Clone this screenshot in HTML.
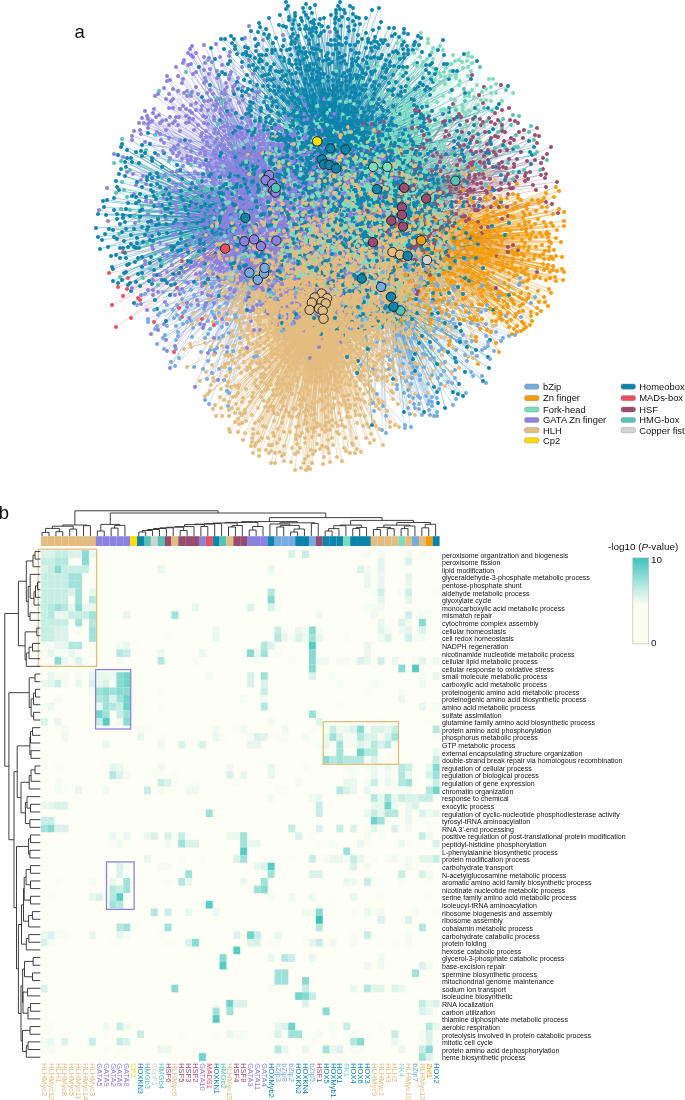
<!DOCTYPE html>
<html><head><meta charset="utf-8"><style>html,body{margin:0;padding:0;background:#fff;overflow:hidden}svg{display:block;will-change:transform}</style></head>
<body><svg width="685" height="1100" viewBox="0 0 685 1100">
<rect width="685" height="1100" fill="#fff"/>
<defs><filter id="bgb" x="-10%" y="-10%" width="120%" height="120%"><feGaussianBlur stdDeviation="3"/></filter></defs><g filter="url(#bgb)"><rect x="326" y="148" width="8" height="8" fill="#e8f3f7"/><rect x="334" y="148" width="8" height="8" fill="#f9fcfd"/><rect x="342" y="148" width="8" height="8" fill="#f9fcfd"/><rect x="310" y="156" width="8" height="8" fill="#f6fbfc"/><rect x="318" y="156" width="8" height="8" fill="#aed6e2"/><rect x="326" y="156" width="8" height="8" fill="#e1f0f4"/><rect x="334" y="156" width="8" height="8" fill="#f6fbfc"/><rect x="294" y="164" width="8" height="8" fill="#fafbfe"/><rect x="302" y="164" width="8" height="8" fill="#e9f1f8"/><rect x="310" y="164" width="8" height="8" fill="#91c5d8"/><rect x="318" y="164" width="8" height="8" fill="#3497b7"/><rect x="326" y="164" width="8" height="8" fill="#66b1c8"/><rect x="334" y="164" width="8" height="8" fill="#8dc8d0"/><rect x="342" y="164" width="8" height="8" fill="#b3e4d8"/><rect x="350" y="164" width="8" height="8" fill="#ade9d6"/><rect x="358" y="164" width="8" height="8" fill="#a5e7d2"/><rect x="366" y="164" width="8" height="8" fill="#a1e6d0"/><rect x="374" y="164" width="8" height="8" fill="#c5f0e2"/><rect x="382" y="164" width="8" height="8" fill="#c0eedf"/><rect x="262" y="172" width="8" height="8" fill="#f8f7fd"/><rect x="270" y="172" width="8" height="8" fill="#d2cef3"/><rect x="278" y="172" width="8" height="8" fill="#d8d5f4"/><rect x="286" y="172" width="8" height="8" fill="#d8daf3"/><rect x="294" y="172" width="8" height="8" fill="#c2d1eb"/><rect x="302" y="172" width="8" height="8" fill="#8abad5"/><rect x="310" y="172" width="8" height="8" fill="#58a4c0"/><rect x="318" y="172" width="8" height="8" fill="#3596b4"/><rect x="326" y="172" width="8" height="8" fill="#3599b3"/><rect x="334" y="172" width="8" height="8" fill="#44a3b2"/><rect x="342" y="172" width="8" height="8" fill="#81c8b7"/><rect x="350" y="172" width="8" height="8" fill="#84d5bc"/><rect x="358" y="172" width="8" height="8" fill="#7ad6bc"/><rect x="366" y="172" width="8" height="8" fill="#7cdcbd"/><rect x="374" y="172" width="8" height="8" fill="#83dec1"/><rect x="382" y="172" width="8" height="8" fill="#9ae4cc"/><rect x="262" y="180" width="8" height="8" fill="#f1f0fb"/><rect x="270" y="180" width="8" height="8" fill="#b7b1eb"/><rect x="278" y="180" width="8" height="8" fill="#aaa6e4"/><rect x="286" y="180" width="8" height="8" fill="#9aa1de"/><rect x="294" y="180" width="8" height="8" fill="#84a1d6"/><rect x="302" y="180" width="8" height="8" fill="#70a1cb"/><rect x="310" y="180" width="8" height="8" fill="#5ca1c0"/><rect x="318" y="180" width="8" height="8" fill="#449ab4"/><rect x="326" y="180" width="8" height="8" fill="#499db3"/><rect x="334" y="180" width="8" height="8" fill="#4da0b2"/><rect x="342" y="180" width="8" height="8" fill="#8dc3b7"/><rect x="350" y="180" width="8" height="8" fill="#8ecab5"/><rect x="358" y="180" width="8" height="8" fill="#8ccab0"/><rect x="366" y="180" width="8" height="8" fill="#6ac6b7"/><rect x="374" y="180" width="8" height="8" fill="#82dbc2"/><rect x="382" y="180" width="8" height="8" fill="#9ce5ce"/><rect x="430" y="180" width="8" height="8" fill="#f8fdfc"/><rect x="438" y="180" width="8" height="8" fill="#f0faf9"/><rect x="446" y="180" width="8" height="8" fill="#ecf8f7"/><rect x="270" y="188" width="8" height="8" fill="#b9b7eb"/><rect x="278" y="188" width="8" height="8" fill="#8888db"/><rect x="286" y="188" width="8" height="8" fill="#8c8ed5"/><rect x="294" y="188" width="8" height="8" fill="#889ad9"/><rect x="302" y="188" width="8" height="8" fill="#81a2d0"/><rect x="310" y="188" width="8" height="8" fill="#5f9dbf"/><rect x="318" y="188" width="8" height="8" fill="#539ab6"/><rect x="326" y="188" width="8" height="8" fill="#5ea0b8"/><rect x="334" y="188" width="8" height="8" fill="#61a8b4"/><rect x="342" y="188" width="8" height="8" fill="#8ec2b5"/><rect x="350" y="188" width="8" height="8" fill="#96c7b0"/><rect x="358" y="188" width="8" height="8" fill="#86b8a6"/><rect x="366" y="188" width="8" height="8" fill="#3e9dac"/><rect x="374" y="188" width="8" height="8" fill="#399faf"/><rect x="382" y="188" width="8" height="8" fill="#a1e3d0"/><rect x="390" y="188" width="8" height="8" fill="#f6f6f7"/><rect x="398" y="188" width="8" height="8" fill="#fbfafa"/><rect x="406" y="188" width="8" height="8" fill="#f8fdfc"/><rect x="414" y="188" width="8" height="8" fill="#f2fafa"/><rect x="422" y="188" width="8" height="8" fill="#f1faf9"/><rect x="430" y="188" width="8" height="8" fill="#f3fbfa"/><rect x="438" y="188" width="8" height="8" fill="#f9fdfd"/><rect x="262" y="196" width="8" height="8" fill="#f1f6fa"/><rect x="270" y="196" width="8" height="8" fill="#c5caed"/><rect x="278" y="196" width="8" height="8" fill="#acb1e1"/><rect x="286" y="196" width="8" height="8" fill="#9798d7"/><rect x="294" y="196" width="8" height="8" fill="#9199d5"/><rect x="302" y="196" width="8" height="8" fill="#829ecf"/><rect x="310" y="196" width="8" height="8" fill="#7ba5c4"/><rect x="318" y="196" width="8" height="8" fill="#67a1b7"/><rect x="326" y="196" width="8" height="8" fill="#76acbb"/><rect x="334" y="196" width="8" height="8" fill="#6faeb4"/><rect x="342" y="196" width="8" height="8" fill="#90c3b8"/><rect x="350" y="196" width="8" height="8" fill="#9bc2ad"/><rect x="358" y="196" width="8" height="8" fill="#72ada6"/><rect x="366" y="196" width="8" height="8" fill="#3f99a8"/><rect x="374" y="196" width="8" height="8" fill="#50a7af"/><rect x="382" y="196" width="8" height="8" fill="#91c5bf"/><rect x="390" y="196" width="8" height="8" fill="#ebf9f5"/><rect x="398" y="196" width="8" height="8" fill="#f2faf9"/><rect x="406" y="196" width="8" height="8" fill="#f8fcfc"/><rect x="422" y="196" width="8" height="8" fill="#f8fcfc"/><rect x="254" y="204" width="8" height="8" fill="#dfeef4"/><rect x="262" y="204" width="8" height="8" fill="#c8dfeb"/><rect x="270" y="204" width="8" height="8" fill="#c0d3e0"/><rect x="278" y="204" width="8" height="8" fill="#d1dde0"/><rect x="286" y="204" width="8" height="8" fill="#cfd2e3"/><rect x="294" y="204" width="8" height="8" fill="#b6b8dc"/><rect x="302" y="204" width="8" height="8" fill="#94afc6"/><rect x="310" y="204" width="8" height="8" fill="#8eaac1"/><rect x="318" y="204" width="8" height="8" fill="#7dabb5"/><rect x="326" y="204" width="8" height="8" fill="#89b3bd"/><rect x="334" y="204" width="8" height="8" fill="#78adb5"/><rect x="342" y="204" width="8" height="8" fill="#92bbbc"/><rect x="350" y="204" width="8" height="8" fill="#8fb4ad"/><rect x="358" y="204" width="8" height="8" fill="#79afa8"/><rect x="366" y="204" width="8" height="8" fill="#60a2a3"/><rect x="374" y="204" width="8" height="8" fill="#7cb5aa"/><rect x="382" y="204" width="8" height="8" fill="#a1c0b9"/><rect x="390" y="204" width="8" height="8" fill="#dee9e4"/><rect x="406" y="204" width="8" height="8" fill="#fafdfd"/><rect x="414" y="204" width="8" height="8" fill="#f9fdfd"/><rect x="238" y="212" width="8" height="8" fill="#f5fafc"/><rect x="246" y="212" width="8" height="8" fill="#79bacf"/><rect x="254" y="212" width="8" height="8" fill="#8dc4d6"/><rect x="262" y="212" width="8" height="8" fill="#a8cee0"/><rect x="270" y="212" width="8" height="8" fill="#c2dbdf"/><rect x="278" y="212" width="8" height="8" fill="#c8dbdb"/><rect x="286" y="212" width="8" height="8" fill="#d1dbda"/><rect x="294" y="212" width="8" height="8" fill="#c6d2d8"/><rect x="302" y="212" width="8" height="8" fill="#99b5c3"/><rect x="310" y="212" width="8" height="8" fill="#a4bdb9"/><rect x="318" y="212" width="8" height="8" fill="#99b3b4"/><rect x="326" y="212" width="8" height="8" fill="#a2bab3"/><rect x="334" y="212" width="8" height="8" fill="#99b7b7"/><rect x="342" y="212" width="8" height="8" fill="#90b8b6"/><rect x="350" y="212" width="8" height="8" fill="#8bb9b4"/><rect x="358" y="212" width="8" height="8" fill="#86b0a6"/><rect x="366" y="212" width="8" height="8" fill="#8aa99d"/><rect x="374" y="212" width="8" height="8" fill="#a1b49d"/><rect x="382" y="212" width="8" height="8" fill="#bdc5b4"/><rect x="390" y="212" width="8" height="8" fill="#d1cec9"/><rect x="398" y="212" width="8" height="8" fill="#f2f3f4"/><rect x="246" y="220" width="8" height="8" fill="#9ecddc"/><rect x="254" y="220" width="8" height="8" fill="#7fbcd1"/><rect x="262" y="220" width="8" height="8" fill="#86bbcf"/><rect x="270" y="220" width="8" height="8" fill="#9fc5cf"/><rect x="278" y="220" width="8" height="8" fill="#acc7d1"/><rect x="286" y="220" width="8" height="8" fill="#bfcece"/><rect x="294" y="220" width="8" height="8" fill="#b3c6c7"/><rect x="302" y="220" width="8" height="8" fill="#a4b9bd"/><rect x="310" y="220" width="8" height="8" fill="#adb5b5"/><rect x="318" y="220" width="8" height="8" fill="#acb9ac"/><rect x="326" y="220" width="8" height="8" fill="#b6b9a8"/><rect x="334" y="220" width="8" height="8" fill="#a9beb2"/><rect x="342" y="220" width="8" height="8" fill="#99c2ba"/><rect x="350" y="220" width="8" height="8" fill="#a6c1b7"/><rect x="358" y="220" width="8" height="8" fill="#9db5a8"/><rect x="366" y="220" width="8" height="8" fill="#afb698"/><rect x="374" y="220" width="8" height="8" fill="#c6c196"/><rect x="382" y="220" width="8" height="8" fill="#d2c1a2"/><rect x="390" y="220" width="8" height="8" fill="#d6c9bc"/><rect x="398" y="220" width="8" height="8" fill="#fdf8f0"/><rect x="246" y="228" width="8" height="8" fill="#f8fafd"/><rect x="254" y="228" width="8" height="8" fill="#aecee3"/><rect x="262" y="228" width="8" height="8" fill="#b5d0e2"/><rect x="270" y="228" width="8" height="8" fill="#a6bcd8"/><rect x="278" y="228" width="8" height="8" fill="#a6aebe"/><rect x="286" y="228" width="8" height="8" fill="#b3b4c5"/><rect x="294" y="228" width="8" height="8" fill="#b2b2b6"/><rect x="302" y="228" width="8" height="8" fill="#a9b3b5"/><rect x="310" y="228" width="8" height="8" fill="#b8b8a8"/><rect x="318" y="228" width="8" height="8" fill="#b4b8a7"/><rect x="326" y="228" width="8" height="8" fill="#c0c0a8"/><rect x="334" y="228" width="8" height="8" fill="#aabfb8"/><rect x="342" y="228" width="8" height="8" fill="#b3c1bf"/><rect x="350" y="228" width="8" height="8" fill="#b5c1ae"/><rect x="358" y="228" width="8" height="8" fill="#adb9a4"/><rect x="366" y="228" width="8" height="8" fill="#c3bb9a"/><rect x="374" y="228" width="8" height="8" fill="#dabf8b"/><rect x="382" y="228" width="8" height="8" fill="#d3bd92"/><rect x="390" y="228" width="8" height="8" fill="#c7c6b2"/><rect x="398" y="228" width="8" height="8" fill="#f5efe8"/><rect x="406" y="228" width="8" height="8" fill="#fef5e8"/><rect x="246" y="236" width="8" height="8" fill="#fbfbfe"/><rect x="254" y="236" width="8" height="8" fill="#c5c9ed"/><rect x="262" y="236" width="8" height="8" fill="#afc1e3"/><rect x="270" y="236" width="8" height="8" fill="#a0accd"/><rect x="278" y="236" width="8" height="8" fill="#9592c0"/><rect x="286" y="236" width="8" height="8" fill="#a89fb6"/><rect x="294" y="236" width="8" height="8" fill="#bbacab"/><rect x="302" y="236" width="8" height="8" fill="#bdb5b0"/><rect x="310" y="236" width="8" height="8" fill="#bfb59e"/><rect x="318" y="236" width="8" height="8" fill="#bbb59b"/><rect x="326" y="236" width="8" height="8" fill="#bcb7a2"/><rect x="334" y="236" width="8" height="8" fill="#a6bdb9"/><rect x="342" y="236" width="8" height="8" fill="#b1c7c2"/><rect x="350" y="236" width="8" height="8" fill="#adc5b7"/><rect x="358" y="236" width="8" height="8" fill="#a8baa8"/><rect x="366" y="236" width="8" height="8" fill="#aaa392"/><rect x="374" y="236" width="8" height="8" fill="#b8ab8d"/><rect x="382" y="236" width="8" height="8" fill="#d1b785"/><rect x="390" y="236" width="8" height="8" fill="#bdbb99"/><rect x="398" y="236" width="8" height="8" fill="#d2ded7"/><rect x="406" y="236" width="8" height="8" fill="#fef3e2"/><rect x="414" y="236" width="8" height="8" fill="#fce8c9"/><rect x="254" y="244" width="8" height="8" fill="#f7f6fd"/><rect x="262" y="244" width="8" height="8" fill="#b1b6e4"/><rect x="270" y="244" width="8" height="8" fill="#b7bbe0"/><rect x="278" y="244" width="8" height="8" fill="#9b9dbe"/><rect x="286" y="244" width="8" height="8" fill="#c1aba8"/><rect x="294" y="244" width="8" height="8" fill="#bdafac"/><rect x="302" y="244" width="8" height="8" fill="#c5b2a0"/><rect x="310" y="244" width="8" height="8" fill="#ccb695"/><rect x="318" y="244" width="8" height="8" fill="#c1b495"/><rect x="326" y="244" width="8" height="8" fill="#b6b39b"/><rect x="334" y="244" width="8" height="8" fill="#abbabb"/><rect x="342" y="244" width="8" height="8" fill="#84b3be"/><rect x="350" y="244" width="8" height="8" fill="#93bcc0"/><rect x="358" y="244" width="8" height="8" fill="#9bbab2"/><rect x="366" y="244" width="8" height="8" fill="#9fa898"/><rect x="374" y="244" width="8" height="8" fill="#b6ad8e"/><rect x="382" y="244" width="8" height="8" fill="#a9a889"/><rect x="390" y="244" width="8" height="8" fill="#a1ac91"/><rect x="398" y="244" width="8" height="8" fill="#9dc0bf"/><rect x="406" y="244" width="8" height="8" fill="#fcf4e6"/><rect x="262" y="252" width="8" height="8" fill="#f3f4fc"/><rect x="270" y="252" width="8" height="8" fill="#cfd4e4"/><rect x="278" y="252" width="8" height="8" fill="#cec7cb"/><rect x="286" y="252" width="8" height="8" fill="#b5b4b2"/><rect x="294" y="252" width="8" height="8" fill="#cbb79b"/><rect x="302" y="252" width="8" height="8" fill="#c8b798"/><rect x="310" y="252" width="8" height="8" fill="#c5b48f"/><rect x="318" y="252" width="8" height="8" fill="#c3b58f"/><rect x="326" y="252" width="8" height="8" fill="#bab496"/><rect x="334" y="252" width="8" height="8" fill="#a9bdbc"/><rect x="342" y="252" width="8" height="8" fill="#8dbac5"/><rect x="350" y="252" width="8" height="8" fill="#84b7c0"/><rect x="358" y="252" width="8" height="8" fill="#87b0b0"/><rect x="366" y="252" width="8" height="8" fill="#9db0a3"/><rect x="374" y="252" width="8" height="8" fill="#d4be96"/><rect x="382" y="252" width="8" height="8" fill="#c5b78f"/><rect x="390" y="252" width="8" height="8" fill="#b3b9a1"/><rect x="398" y="252" width="8" height="8" fill="#98c5cf"/><rect x="406" y="252" width="8" height="8" fill="#e1eff4"/><rect x="262" y="260" width="8" height="8" fill="#f6fafd"/><rect x="270" y="260" width="8" height="8" fill="#f2f5fa"/><rect x="278" y="260" width="8" height="8" fill="#e1d9d7"/><rect x="286" y="260" width="8" height="8" fill="#dcc6b5"/><rect x="294" y="260" width="8" height="8" fill="#d6c09f"/><rect x="302" y="260" width="8" height="8" fill="#cfb890"/><rect x="310" y="260" width="8" height="8" fill="#bcb28c"/><rect x="318" y="260" width="8" height="8" fill="#b4b08d"/><rect x="326" y="260" width="8" height="8" fill="#a7b19a"/><rect x="334" y="260" width="8" height="8" fill="#a5b5af"/><rect x="342" y="260" width="8" height="8" fill="#85b0b6"/><rect x="350" y="260" width="8" height="8" fill="#60a7c1"/><rect x="358" y="260" width="8" height="8" fill="#6badbb"/><rect x="366" y="260" width="8" height="8" fill="#a8c3bd"/><rect x="374" y="260" width="8" height="8" fill="#ddcaae"/><rect x="382" y="260" width="8" height="8" fill="#f0e1c9"/><rect x="390" y="260" width="8" height="8" fill="#fdf9f4"/><rect x="262" y="268" width="8" height="8" fill="#f8fbfd"/><rect x="270" y="268" width="8" height="8" fill="#fbfdfe"/><rect x="278" y="268" width="8" height="8" fill="#f9f7f5"/><rect x="286" y="268" width="8" height="8" fill="#e8d4bd"/><rect x="294" y="268" width="8" height="8" fill="#dcc29d"/><rect x="302" y="268" width="8" height="8" fill="#dcbb87"/><rect x="310" y="268" width="8" height="8" fill="#d3b786"/><rect x="318" y="268" width="8" height="8" fill="#afac89"/><rect x="326" y="268" width="8" height="8" fill="#94ab9a"/><rect x="334" y="268" width="8" height="8" fill="#81aaa6"/><rect x="342" y="268" width="8" height="8" fill="#69a8b3"/><rect x="350" y="268" width="8" height="8" fill="#4a9eb5"/><rect x="358" y="268" width="8" height="8" fill="#3a98b3"/><rect x="366" y="268" width="8" height="8" fill="#d8e0d8"/><rect x="374" y="268" width="8" height="8" fill="#dfd6c7"/><rect x="382" y="268" width="8" height="8" fill="#fdfbf7"/><rect x="270" y="276" width="8" height="8" fill="#f6fafd"/><rect x="278" y="276" width="8" height="8" fill="#f5f9fc"/><rect x="286" y="276" width="8" height="8" fill="#f7f0e6"/><rect x="294" y="276" width="8" height="8" fill="#e6caa1"/><rect x="302" y="276" width="8" height="8" fill="#d5b988"/><rect x="310" y="276" width="8" height="8" fill="#d1b582"/><rect x="318" y="276" width="8" height="8" fill="#cbb381"/><rect x="326" y="276" width="8" height="8" fill="#b7b291"/><rect x="334" y="276" width="8" height="8" fill="#a0b3a1"/><rect x="342" y="276" width="8" height="8" fill="#87b2b1"/><rect x="350" y="276" width="8" height="8" fill="#62a9b8"/><rect x="358" y="276" width="8" height="8" fill="#7bb7c6"/><rect x="366" y="276" width="8" height="8" fill="#d1dddb"/><rect x="374" y="276" width="8" height="8" fill="#ecf3f4"/><rect x="382" y="276" width="8" height="8" fill="#f9fcfd"/><rect x="286" y="284" width="8" height="8" fill="#f7fafc"/><rect x="294" y="284" width="8" height="8" fill="#e9decb"/><rect x="302" y="284" width="8" height="8" fill="#dbbd8c"/><rect x="310" y="284" width="8" height="8" fill="#d7b67f"/><rect x="318" y="284" width="8" height="8" fill="#d4b57f"/><rect x="326" y="284" width="8" height="8" fill="#ddbb85"/><rect x="334" y="284" width="8" height="8" fill="#d0c09a"/><rect x="342" y="284" width="8" height="8" fill="#c1c5b2"/><rect x="350" y="284" width="8" height="8" fill="#c0cdc3"/><rect x="358" y="284" width="8" height="8" fill="#e1e6e0"/><rect x="366" y="284" width="8" height="8" fill="#f7f9fa"/><rect x="374" y="284" width="8" height="8" fill="#ecf4fa"/><rect x="382" y="284" width="8" height="8" fill="#f2f8fa"/><rect x="294" y="292" width="8" height="8" fill="#fefbf8"/><rect x="302" y="292" width="8" height="8" fill="#eccfa5"/><rect x="310" y="292" width="8" height="8" fill="#e1ba80"/><rect x="318" y="292" width="8" height="8" fill="#d5b782"/><rect x="326" y="292" width="8" height="8" fill="#c7b588"/><rect x="334" y="292" width="8" height="8" fill="#d0c5a4"/><rect x="342" y="292" width="8" height="8" fill="#e5e0ce"/><rect x="350" y="292" width="8" height="8" fill="#f6f6f2"/><rect x="358" y="292" width="8" height="8" fill="#f7fbfc"/><rect x="366" y="292" width="8" height="8" fill="#ecf6f8"/><rect x="374" y="292" width="8" height="8" fill="#eff7f9"/><rect x="382" y="292" width="8" height="8" fill="#edf6f9"/><rect x="390" y="292" width="8" height="8" fill="#fcfdfe"/><rect x="302" y="300" width="8" height="8" fill="#f7ebda"/><rect x="310" y="300" width="8" height="8" fill="#ead3af"/><rect x="318" y="300" width="8" height="8" fill="#e0c190"/><rect x="326" y="300" width="8" height="8" fill="#f1e3cd"/><rect x="334" y="300" width="8" height="8" fill="#fcf8f2"/><rect x="342" y="300" width="8" height="8" fill="#fdfcfb"/><rect x="350" y="300" width="8" height="8" fill="#f9fcfd"/><rect x="358" y="300" width="8" height="8" fill="#f9fcfd"/><rect x="366" y="300" width="8" height="8" fill="#f9fcfd"/><rect x="374" y="300" width="8" height="8" fill="#f6fbfc"/><rect x="382" y="300" width="8" height="8" fill="#ebf5f8"/><rect x="390" y="300" width="8" height="8" fill="#f2f9fb"/><rect x="302" y="308" width="8" height="8" fill="#fefdfb"/><rect x="310" y="308" width="8" height="8" fill="#fefcf9"/><rect x="318" y="308" width="8" height="8" fill="#f4e2ca"/><rect x="326" y="308" width="8" height="8" fill="#fdfbf7"/><rect x="318" y="316" width="8" height="8" fill="#fcf8f2"/></g>
<g fill="none" stroke-width="0.6" stroke-linejoin="round">
<path stroke="#74ABE0" stroke-opacity="0.32" d="M249.5 272.5l-99.5-3.5zl-95.5 37.5zl-86.5 19.5zl-85.5 76.5zl-73.5 53.5zl-70.5 17.5zl-57.5 64.5zl-52.5 11.5zl-44.5 65.5zl-41.5 48.5zl-35.5 10.5zl-28.5-22.5zl-22.5 41.5zl-12.5-31.5zl-12.5-0.5zl-4.5-15.5zl-4.5-8.5zl1.5-26.5zM258 279.5l-110 42.5zl-101 46.5zl-91 46.5zl-85 30.5zl-78 39.5zl-75 44.5zl-57-1.5zl-54-2.5zl-50 54.5zl-47 4.5zl-41 68.5zl-29 113.5zl-23-59.5zl-1 76.5zl10 11.5zl17 19.5zl37 13.5zM264 273.5l-77 48.5zl-71 54.5zl-24-88.5zl-3 28.5zl10 8.5zl23 50.5zM264.5 268l-45.5 101zl-10.5-40zl-0.5-2zl31.5 25zM381 287l-19 33zl-19 39zl-17 11zl-8 116zl-1 1zl1 16zl2-15zl2 119zl5 146zl6 23zl7-13zl8-3zl8 82zl16 48zl16 102zl20 19zl24-17zl28-17zl29 127zl31 86zl34-31zl35-16zl38 117zl39 88zl39 111zl40-8zl47 97zl48 114zl51-21zl53 44zl54-53zl55-3zl57 91zl58 102zl72 0zl72 11zl72 25zl72 32zl72 118zl73-38zl79 52zl91 66zl96 69zl101-1zl105 49zl105 96zl109 72zl113 64zl115 45zl120 54zl139-9zl140 30z"/>
<path stroke="#74ABE0" stroke-opacity="0.32" d="M249.5 272.5l-101.5 46.5zl-78.5-11.5zl-78.5 89.5zl-75.5 45.5zl-72.5 32.5zl-71.5 63.5zl-64.5 9.5zl-37.5-3.5zl-30.5-59.5zl-26.5-35.5zl-25.5-30.5zl-24.5 4.5zl-13.5-52.5zl-13.5-1.5zl-13.5 45.5zl-9.5 65.5zl-7.5 6.5zl-7.5 20.5zM258 279.5l-81 35.5zl-79 78.5zl-75 33.5zl-74 12.5zl-54-11.5zl-54 29.5zl-50 81.5zl-44 35.5zl-44 70.5zl-39 27.5zl-39 33.5zl-34 100.5zl-30 126.5zl-29 53.5zl-13 5.5zl-12 10.5zl-2-7.5zl-2-1.5zl-1 9.5zl2-2.5zM264 273.5l-38-69.5zl109 95.5zl113 120.5zM264.5 268l-104.5 45zl-55.5 136zl-34.5-17zl-21.5-42zl-19.5-33zl-17.5-21zl-10.5 89zl2.5-8zl22.5 9zl143.5 140zM381 287l-31 29zl-20 21zl-4 55zl7 69zl9 73zl12 14zl19 48zl22 77zl22 86zl23 106zl25 94zl27 103zl28 38zl29 76zl30 140zl31 91zl32 51zl32 80zl34 121zl35 52zl38 122zl39 14zl42-6zl45 45zl45 68zl49 72zl50 49zl51 115zl51 119zl53 71zl55-28zl60 88zl60 97zl67-40zl67 95zl70 50zl71 96zl73 3zl76 54zl85-27zl86 74zl91 54zl106 18zl122 51z"/>
<path stroke="#74ABE0" stroke-opacity="0.32" d="M249.5 272.5l-84.5 62.5zl-64.5 38.5zl-58.5 17.5zl-58.5 48.5zl-55.5 94.5zl-39.5 56.5zl-29.5-33.5zl-27.5 54.5zl-18.5-54.5zl-9.5-31.5zl-5.5 8.5zl231.5 39.5zM258 279.5l-91 25.5zl-83 86.5zl-82 60.5zl-41 43.5zl-8-1.5zl13 12.5zl34 44.5zM264 273.5l-63 78.5zl-57 105.5zl-52 99.5zl-45 18.5zl-34 95.5zl-13-1.5zl-6 1.5zl10 20.5zl141 151.5zM264.5 268l-127.5 37zl-86.5 64zl-70.5 27zl-22.5-10zl-14.5-73zl-11.5 21zl17.5 63zl157.5 147zM381 287l-30 42zl-24 30zl-14 32zl-7 124zl-4 24zl1 143zl5 129zl13 1zl13 7zl15 63zl16 98zl24 141zl25 42zl28-21zl29-21zl32 3zl38-1zl39-27zl39 93zl40-37zl40-10zl42 60zl42 67zl45-18zl47 117zl50 60zl51 15zl51 110zl53-63zl53 129zl55 22zl56 111zl56 125zl57-44zl57-1zl58 32zl58 64zl61 43zl62-40zl64 75zl65 27zl69 35zl73 37zl82 19zl82 48zl85 55zl85 106zl88 26zl90 36zl92 89zl101 63zl105 23zl107 55zl118 10zl128 49zl150 16zl154 10z"/>
<path stroke="#74ABE0" stroke-opacity="0.32" d="M249.5 272.5l-92.5 71.5zl-85.5 38.5zl-67.5 26.5zl-44.5 127.5zl-39.5 77.5zl-32.5-62.5zl-23.5 30.5zl-22.5-30.5zl-22.5 118.5zl-17.5 24.5zl-16.5 78.5zl-13.5-23.5zl-11.5-37.5zl-10.5-1.5zl-7.5-26.5zl-6.5-32.5zl36.5 50.5zM258 279.5l-113 14.5zl-95 58.5zl-67 25.5zl-46 32.5zl-39 58.5zl-23 35.5zl-7 8.5zl-1 0.5zl0 5.5zl24 37.5zl71 49.5zM264 273.5l-109 55.5zl-106 41.5zl-88 75.5zl-37 78.5zl-32 8.5zl-18-17.5zl17 15.5zM264.5 268l-83.5 9zl-61.5 101zl-41.5 68zl-40.5-47zl-34.5-53zl-21.5-15zl-10.5-16zl-4.5 3zl7.5-3zl146.5 116zM381 287l-20 78zl1-8zl3 54zl7 1zl13-12zl16 26zl19-21zl19 65zl23 51zl23 70zl25 4zl28 109zl30 55zl30 65zl32 6zl32 41zl32 111zl33 117zl34 37zl36 80zl37 109zl38-1zl43 80zl45 109zl48 123zl49 128zl51 88zl55 41zl55 53zl56 129zl61 15zl61 62zl63 84zl68 14zl74 83zl74 91zl75 63zl75 112zl84 68zl90 85zl97 38zl101 89zl104 61zl105 37zl107 59zl125 29zl134 48zl138-2zl139-4z"/>
<path stroke="#F59B0C" stroke-opacity="0.45" d="M421 240.5l-29 29.5zl-23 26.5zl-19-24.5zl-18 14.5zl-12 53.5zl-10 16.5zl-6-23.5zl-4 27.5zl-1 51.5zl0 27.5zl0 32.5zl3 33.5zl5 5.5zl5 28.5zl9 27.5zl9 68.5zl10 38.5zl12 12.5zl13 38.5zl15 10.5zl15 23.5zl16-9.5zl18 49.5zl19 10.5zl20 2.5zl20 15.5zl21 11.5zl22 10.5zl23 7.5zl25 17.5zl27-27.5zl30 42.5zl31-0.5zl31 40.5zl37-18.5zl38 78.5zl41 40.5zl42-50.5zl47 0.5zl48 19.5zl49-41.5zl49-18.5zl51-7.5zl52-38.5zl52 6.5zl55-10.5zl55 96.5zl56 79.5zl58-15.5zl59 88.5zl60 2.5zl60 31.5zl61 22.5zl61 55.5zl61 64.5zl62 49.5zl63 39.5zl66-40.5zl66-25.5zl66 17.5zl66 23.5zl68-19.5zl68 11.5zl69-6.5zl70 8.5zl70 91.5zl72 12.5zl74-37.5zl75 67.5zl76-39.5zl76-35.5zl77 53.5zl78-19.5zl78 16.5zl78 77.5zl79-12.5zl81-34.5zl81 4.5zl81 54.5zl86-10.5zl87 66.5zl88 32.5zl88 86.5zl90 79.5zl91 10.5zl94-37.5zl94 76.5zl96-56.5zl97-45.5zl98 6.5zl100 90.5zl104 29.5zl105-11.5zl107 57.5zl108 6.5zl108 53.5zl109-26.5zl110 75.5zl112-8.5zl115-29.5zl115 6.5zl116 27.5zl119 15.5zl120 70.5zl121 4.5zl122 13.5zl122 23.5zl123-42.5zl123-18.5zl123 18.5zl123 29.5zl125 39.5zl127 65.5zl128 18.5zl129 37.5zl130-17.5zl130 52.5zl132-26.5zl135-2.5zl135 40.5zl136-10.5zl136 30.5z"/>
<path stroke="#F59B0C" stroke-opacity="0.45" d="M421 240.5l-33 41.5zl-30 25.5zl-30 26.5zl-21 56.5zl-16-18.5zl-16 50.5zl-14 50.5zl-13 19.5zl-12 26.5zl-11 58.5zl-10 34.5zl-3 22.5zl-3 64.5zl2-0.5zl2 1.5zl4 66.5zl5 54.5zl6 19.5zl8-9.5zl8 18.5zl9-38.5zl9 83.5zl10 35.5zl10 79.5zl12 29.5zl12 31.5zl13-19.5zl13 23.5zl14 49.5zl15 61.5zl16 18.5zl19 59.5zl21 71.5zl22 9.5zl23 58.5zl27 48.5zl27 63.5zl28 19.5zl29 33.5zl32 33.5zl34 11.5zl37 29.5zl42 48.5zl43-10.5zl43 79.5zl44 31.5zl45 57.5zl49-25.5zl50 8.5zl51 64.5zl53 32.5zl53 76.5zl54 20.5zl54 23.5zl58-6.5zl58 48.5zl61 78.5zl63-19.5zl63 6.5zl63 33.5zl65 60.5zl67 43.5zl69 68.5zl70-45.5zl71 1.5zl76-5.5zl79-4.5zl79 30.5zl79 71.5zl80-41.5zl81 79.5zl83 42.5zl84-27.5zl84-2.5zl87 72.5zl90 58.5zl91 93.5zl92-46.5zl92-2.5zl92 18.5zl92 60.5zl93-23.5zl93 14.5zl94 30.5zl96 91.5zl98 56.5zl99 65.5zl100 52.5zl101-11.5zl101-0.5zl101 19.5zl101 31.5zl101 58.5zl101 81.5zl102-22.5zl102 41.5zl102 63.5zl103 6.5zl103 83.5zl104-15.5zl106 40.5zl107-36.5zl107 34.5zl108 19.5zl110-13.5zl111 80.5zl113 18.5zl113 37.5zl115 35.5zl117-40.5zl118 61.5zl119 37.5zl121-33.5zl121-4.5zl125-47.5zl125-28.5zl125-14.5zl127-3.5zl128 48.5zl132-14.5zl135 15.5zl138-49.5zl138-31.5zl141 28.5zl143-28.5z"/>
<path stroke="#F59B0C" stroke-opacity="0.45" d="M421 240.5l-30 23.5zl-27 45.5zl-26 46.5zl-20-13.5zl-20 45.5zl-19 79.5zl-18 14.5zl-15 0.5zl-15 34.5zl-13 41.5zl-10-14.5zl-10 47.5zl-7 32.5zl-6-5.5zl-5 45.5zl0-23.5zl1-8.5zl2 58.5zl6-17.5zl6 12.5zl7 10.5zl11 44.5zl12 55.5zl15-19.5zl18-0.5zl18 11.5zl18 29.5zl18 67.5zl19-3.5zl25 31.5zl26 39.5zl26 69.5zl28 1.5zl28 11.5zl28 75.5zl28 104.5zl29 100.5zl34 41.5zl35 35.5zl36 3.5zl36 16.5zl41-20.5zl41 23.5zl42 58.5zl44 43.5zl46 7.5zl47-13.5zl47-4.5zl49 77.5zl52 80.5zl55-4.5zl55 100.5zl57 35.5zl57 69.5zl57 123.5zl58 63.5zl60 38.5zl61 19.5zl62-0.5zl63-9.5zl65-0.5zl66-30.5zl66 38.5zl66 89.5zl68-52.5zl70 14.5zl70 49.5zl71 80.5zl72-28.5zl72 32.5zl73 72.5zl75-21.5zl75 102.5zl77 59.5zl78 111.5zl80 74.5zl81 24.5zl82 66.5zl83 16.5zl83 60.5zl85 54.5zl86-42.5zl86 63.5zl89-9.5zl91 22.5zl92-31.5zl93 88.5zl95 28.5zl95 73.5zl96 34.5zl97-5.5zl98-15.5zl98 71.5zl100-40.5zl102 70.5zl103 15.5zl103 88.5zl104-25.5zl104-18.5zl105-8.5zl105 59.5zl106-31.5zl106-5.5zl106 47.5zl108 38.5zl114-16.5zl117-21.5zl118-37.5zl121-39.5zl124 10.5zl125-6.5zl126-8.5zl126 27.5zl127 24.5zl128 0.5zl129 31.5zl130 2.5zl130 16.5zl132 25.5zl140 1.5zl142 39.5zl143-14.5zl143 31.5z"/>
<path stroke="#F59B0C" stroke-opacity="0.45" d="M421 240.5l-30 38.5zl-23-25.5zl-20 1.5zl-18 72.5zl-13 51.5zl-11 17.5zl-10 49.5zl-7 27.5zl-5 33.5zl-5 33.5zl3 47.5zl5-22.5zl6-21.5zl7-11.5zl7 29.5zl7 72.5zl8-30.5zl8 35.5zl8 42.5zl8 49.5zl9 33.5zl10 26.5zl15-2.5zl16 18.5zl22-47.5zl22 33.5zl23 49.5zl24 3.5zl32-59.5zl32 23.5zl35 63.5zl37 0.5zl38 10.5zl39-38.5zl41-7.5zl42-1.5zl45 71.5zl48 23.5zl48 31.5zl49 28.5zl51 37.5zl51 43.5zl52-71.5zl52 53.5zl54-16.5zl54-0.5zl56 10.5zl57 41.5zl58 0.5zl58 20.5zl60 52.5zl61 10.5zl64-43.5zl64-22.5zl64-4.5zl67 32.5zl67 47.5zl68-9.5zl69 4.5zl70-3.5zl70 25.5zl71 54.5zl73-9.5zl74 58.5zl75 2.5zl75 9.5zl75 12.5zl75 80.5zl76 22.5zl77-8.5zl79 51.5zl80-26.5zl81 0.5zl81 21.5zl82 28.5zl86 23.5zl86 81.5zl88 39.5zl88 46.5zl90-24.5zl91 27.5zl93 35.5zl93 53.5zl93 63.5zl95 11.5zl96-33.5zl96 85.5zl97-42.5zl97 14.5zl100 27.5zl101 13.5zl102-28.5zl104 2.5zl104 33.5zl105-34.5zl105 86.5zl106 27.5zl107 10.5zl108-18.5zl109-1.5zl109 84.5zl110-5.5zl110 71.5zl111-40.5zl114 14.5zl115-3.5zl116 67.5zl116 73.5zl117 50.5zl119-7.5zl123 56.5zl124 61.5zl126-33.5zl128-6.5zl128 6.5zl128 10.5zl132 18.5zl132 29.5zl133-43.5zl133 9.5zl134 36.5zl135-53.5zl141 16.5zl143-19.5z"/>
<path stroke="#7DDCBE" stroke-opacity="0.235" d="M373.5 167l-150.5 85zl-149.5 38zl-146.5 20zl-143.5 38zl-143.5 38zl-140.5 22zl-139.5 26zl-137.5 15zl-132.5 46zl-131.5 60zl-130.5 19zl-130.5 29zl-127.5 20zl-122.5 36zl-120.5-10zl-114.5 83zl-113.5 9zl-112.5 17zl-110.5-10zl-110.5 18zl-109.5 15zl-108.5-6zl-108.5 30zl-106.5-4zl-106.5 127zl-105.5 94zl-104.5 1zl-102.5 128zl-101.5 1zl-101.5 5zl-100.5 1zl-89.5-34zl-88.5-16zl-81.5-22zl-79.5-23zl-77.5-43zl-75.5-20zl-73.5-15zl-65.5-19zl-61.5-6zl-44.5-11zl-39.5-34zl-36.5-19zl-32.5-14zl-28.5 136zl-25.5-5zl-20.5-23zl-19.5-11zl-17.5-19zl-17.5-6zl-13.5-27zl-13.5-6zl-12.5-28zl-9.5-4zl-8.5-3zl-7.5-11zl-7.5 6zl-6.5 3zl-5.5-69zl-5.5-26zl-3.5-15zl-1.5-29zl-0.5-15zl-0.5-13zl0.5-2zl1.5-9zl1.5-7zl1.5 8zl3.5 1zl6.5-39zl8.5-13zl9.5-28zl12.5 12zl14.5 29zl19.5-86zl22.5-45zl22.5-26zl28.5 48zl29.5 78zl30.5 34zl31.5 73zl32.5 132zl35.5-79zl44.5 74zl48.5 39zl52.5 17zl55.5 31zl59.5-99zl61.5 68zl81.5 29zl82.5-89zl87.5 60zl89.5 0zl92.5-53zl94.5-114zl98.5-104zl102.5-40zl104.5-62zM387.5 167l-169.5 84zl-167.5 40zl-135.5-38zl-131.5-23zl-129.5 109zl-124.5-3zl-123.5 92zl-113.5 24zl-95.5-10zl-81.5-38zl-78.5-31zl-78.5-21zl-73.5 138zl-71.5-9zl-70.5-16zl-60.5-54zl-58.5 140zl-53.5-10zl-37.5-49zl-26.5-7zl-25.5-85zl-9.5-27zl-8.5 144zl-5.5 121zl-4.5 151zl-1.5-18zl-1.5 0zl-1.5 9zl0.5-63zl1.5 2zl2.5-6zl3.5-9zl3.5 7zl4.5 8zl4.5 16zl6.5 3zl6.5 21zl6.5 27zl7.5-38zl8.5-24zl9.5 41zl9.5 119zl10.5-13zl11.5 139zl12.5-88zl12.5-9zl12.5 5zl12.5 43zl13.5 45zl14.5-22zl14.5-16zl14.5-8zl14.5 121zl15.5 1zl15.5 70zl16.5-8zl16.5 8zl16.5 32zl17.5 40zl17.5 43zl18.5 31zl18.5 71zl19.5-29zl19.5 7zl20.5-13zl20.5-7zl20.5 45zl21.5 42zl22.5-21zl22.5-15zl22.5 38zl23.5 40zl26.5-114zl26.5-10zl27.5 9zl27.5 18zl28.5-37zl29.5-24zl30.5 3zl32.5-45zl32.5-28zl32.5 11zl35.5-6zl37.5 40zl38.5 43zl38.5 51zl39.5-108zl42.5 38zl44.5 53zl46.5-77zl46.5 43zl47.5-42zl48.5 27zl49.5-24zl49.5 87zl51.5 31zl51.5 48zl52.5-121zl53.5-20zl53.5 26zl54.5 35zl56.5-21zl57.5-83zl62.5-96zl63.5-49zl64.5-10zl67.5-106zl78.5-42zl80.5-12zl91.5-21zl91.5-10zl94.5-75zl108.5-83zl114.5-66z"/>
<path stroke="#7DDCBE" stroke-opacity="0.235" d="M373.5 167l-144.5 110zl-138.5-19zl-136.5 74zl-134.5 52zl-132.5 45zl-130.5 88zl-127.5-26zl-120.5 89zl-118.5 107zl-110.5 106zl-107.5-9zl-107.5 90zl-105.5 27zl-104.5-27zl-103.5 4zl-98.5-7zl-98.5-1zl-97.5-18zl-95.5-1zl-95.5 18zl-95.5 24zl-95.5 137zl-90.5-6zl-90.5-5zl-89.5 6zl-76.5-73zl-73.5-19zl-72.5 7zl-68.5-36zl-68.5-10zl-67.5-40zl-63.5-19zl-61.5-27zl-56.5-43zl-54.5-40zl-51.5-46zl-46.5-3zl-44.5-23zl-43.5-57zl-43.5-19zl-40.5-20zl-38.5-13zl-33.5-50zl-31.5-17zl-26.5-14zl-26.5-13zl-24.5-35zl-24.5-16zl-17.5-5zl-16.5-29zl-15.5-21zl-12.5 3zl-11.5-13zl-8.5 9zl-6.5-20zl-6.5-8zl-6.5-2zl-6.5 132zl-6.5 136zl-5.5-18zl-2.5 137zl-1.5-30zl-0.5 125zl0.5-12zl1.5 10zl3.5-24zl3.5-13zl6.5-17zl6.5 4zl6.5 160zl10.5-17zl12.5-33zl15.5 32zl17.5-51zl17.5 12zl22.5-66zl22.5 101zl24.5 121zl27.5 31zl28.5-127zl33.5 63zl35.5-45zl35.5 30zl39.5 14zl43.5-101zl47.5-73zl49.5-93zl49.5 28zl51.5 1zl52.5 61zl53.5 65zl59.5 105zl74.5 72zl86.5-86zl89.5-59zl94.5-100zl97.5-96zl139.5-74zM387.5 167l-179.5 19zl-148.5 90zl-146.5 50zl-141.5-5zl-140.5 46zl-139.5 89zl-135.5 32zl-130.5 49zl-128.5 28zl-127.5 71zl-125.5 49zl-122.5 22zl-119.5 99zl-118.5-19zl-114.5-27zl-113.5-12zl-110.5-17zl-108.5-13zl-97.5-15zl-89.5-36zl-64.5-86zl-41.5-65zl-25.5-21zl-16.5-64zl-12.5-28zl-11.5-89zl-10.5-3zl-8.5-2zl-7.5-26zl-5.5-2zl-4.5-3zl-2.5 21zl-1.5-30zl-0.5-15zl-0.5 6zl1.5 118zl2.5 30zl3.5-34zl3.5 2zl3.5 25zl4.5 21zl5.5-19zl5.5 29zl5.5 150zl6.5-82zl6.5-25zl7.5-52zl7.5-1zl8.5 7zl9.5-14zl9.5 96zl11.5-2zl11.5 44zl14.5-18zl15.5 1zl15.5 70zl15.5 83zl16.5-59zl16.5 50zl16.5 65zl16.5 77zl17.5 53zl18.5 27zl19.5-8zl19.5-5zl19.5 23zl19.5 85zl19.5 128zl20.5-68zl20.5-41zl21.5-7zl21.5 0zl21.5 15zl21.5 62zl22.5-48zl22.5-10zl22.5 10zl22.5 26zl23.5-3zl24.5-73zl25.5 56zl26.5 14zl28.5-29zl28.5-8zl29.5-118zl29.5-7zl31.5 16zl31.5 31zl32.5 32zl34.5 15zl37.5 29zl38.5-71zl39.5 34zl39.5 35zl39.5 50zl40.5-124zl40.5-30zl40.5 23zl40.5 28zl41.5-42zl41.5 55zl44.5 30zl44.5 33zl46.5 23zl47.5 28zl49.5-95zl49.5-65zl50.5-45zl51.5-94zl52.5 47zl53.5-91zl54.5-37zl54.5 50zl56.5 5zl57.5-18zl57.5-7zl57.5 81zl61.5 2zl62.5-91zl62.5-75zl65.5-112zl71.5-82zl74.5-62zl75.5-56zl75.5-31zl81.5-56zl86.5-70zl89.5-82z"/>
<path stroke="#7DDCBE" stroke-opacity="0.235" d="M373.5 167l-143.5 17zl-143.5 59zl-141.5 28zl-140.5 20zl-135.5 15zl-132.5 74zl-122.5 78zl-120.5 0zl-118.5 85zl-116.5 82zl-111.5 29zl-109.5 27zl-105.5-9zl-101.5-8zl-96.5-11zl-95.5 14zl-94.5 14zl-92.5 11zl-87.5-44zl-86.5 11zl-81.5-16zl-76.5-13zl-76.5-10zl-75.5-24zl-73.5 4zl-70.5-28zl-69.5-16zl-64.5-13zl-61.5-7zl-58.5-45zl-58.5-39zl-58.5-8zl-53.5-48zl-48.5-8zl-45.5-11zl-45.5-10zl-44.5-68zl-39.5-42zl-39.5-8zl-38.5-22zl-37.5-96zl-35.5-35zl-34.5-38zl-33.5-33zl-33.5-30zl-31.5-22zl-31.5-12zl-30.5-53zl-27.5 0zl-26.5-4zl-25.5-49zl-25.5-1zl-22.5 2zl-21.5-18zl-20.5-3zl-19.5-85zl-18.5-39zl-16.5 1zl-14.5-37zl-14.5-31zl-14.5-30zl-13.5-16zl-13.5-12zl-12.5-55zl-11.5-38zl-11.5 10zl-9.5-20zl-7.5-26zl-2.5-28zl-0.5 134zl0.5-100zl0.5 4zl1.5 10zl3.5-31zl3.5 1zl3.5 120zl4.5-12zl4.5 3zl4.5 18zl6.5 14zl11.5 103zl12.5 100zl12.5 132zl15.5-68zl15.5 120zl20.5-98zl22.5-109zl27.5 25zl28.5 98zl30.5-63zl33.5-60zl39.5 51zl39.5 67zl41.5 52zl44.5 47zl47.5-134zl49.5-105zl53.5 67zl54.5-128zl55.5 45zl58.5-36zl58.5 32zl61.5-87zl62.5 67zl66.5 104zl70.5-4zl72.5-99zl93.5-106zl94.5-111zl117.5-80zl117.5-66zM387.5 167l-169.5 52zl-165.5 29zl-151.5 45zl-143.5 21zl-135.5-6zl-135.5 4zl-128.5 0zl-123.5 20zl-118.5 0zl-113.5 146zl-96.5-5zl-86.5-34zl-84.5-28zl-72.5-7zl-71.5-20zl-62.5-27zl-61.5-42zl-30.5-40zl-25.5-30zl-15.5 124zl-7.5-55zl-5.5-75zl-5.5-11zl-4.5-13zl-4.5 10zl-3.5-25zl-1.5 1zl-1.5 17zl-0.5-22zl1.5-13zl1.5 14zl1.5 22zl2.5-73zl2.5-4zl2.5 14zl3.5-13zl6.5-10zl7.5-19zl7.5-16zl8.5-12zl8.5 24zl9.5-124zl9.5 3zl9.5 35zl10.5 7zl11.5-24zl11.5-11zl11.5-3zl11.5 25zl12.5-47zl12.5-16zl13.5 15zl13.5 28zl13.5 80zl15.5 13zl15.5 13zl16.5-97zl16.5-30zl16.5-16zl17.5-14zl18.5-34zl19.5-56zl19.5 43zl19.5 111zl20.5-9zl21.5-9zl21.5 42zl21.5 47zl22.5 4zl23.5 33zl23.5 42zl23.5 61zl24.5-14zl25.5-89zl25.5 26zl25.5 48zl27.5 25zl28.5 25zl30.5 9zl31.5-77zl32.5-8zl33.5 51zl34.5-12zl34.5 10zl36.5-15zl38.5 5zl39.5-64zl39.5-54zl39.5-21zl41.5 84zl46.5 38zl46.5 63zl51.5 34zl53.5-16zl56.5-58zl58.5-27zl58.5 101zl59.5 69zl60.5-49zl63.5-68zl65.5 80zl67.5-60zl68.5-92zl70.5 52zl74.5-105zl76.5 18zl89.5-44zl90.5-57zl91.5-28zl93.5-67zl101.5-88zl103.5-74z"/>
<path stroke="#7DDCBE" stroke-opacity="0.235" d="M373.5 167l-159.5 51zl-156.5 59zl-151.5 46zl-148.5 69zl-145.5 17zl-144.5 35zl-141.5 93zl-140.5 64zl-139.5 104zl-131.5-23zl-125.5 121zl-122.5 68zl-121.5 3zl-121.5 88zl-119.5-1zl-110.5 47zl-103.5 23zl-101.5 7zl-96.5-16zl-85.5-58zl-85.5 3zl-85.5 6zl-85.5 8zl-82.5-36zl-79.5 0zl-76.5-54zl-74.5-23zl-73.5-32zl-73.5-27zl-67.5-3zl-62.5-21zl-62.5-5zl-59.5-29zl-56.5-61zl-55.5-26zl-55.5 162zl-54.5-43zl-53.5-23zl-48.5-9zl-46.5-42zl-42.5-14zl-42.5-6zl-40.5-41zl-39.5-36zl-33.5-66zl-32.5-37zl-27.5-6zl-26.5-18zl-25.5-20zl-25.5-15zl-23.5-66zl-22.5-18zl-21.5-25zl-17.5-100zl-17.5-31zl-17.5-9zl-13.5-30zl-12.5-25zl-10.5 1zl-10.5 11zl-8.5-3zl-7.5-11zl-7.5 4zl-5.5 4zl-1.5-33zl2.5 0zl2.5 14zl3.5-3zl3.5 12zl5.5-31zl5.5-6zl7.5 106zl10.5-13zl17.5 98zl19.5-56zl24.5 34zl25.5 115zl26.5-111zl26.5 117zl29.5-54zl29.5 69zl32.5 28zl34.5 94zl35.5 16zl39.5 67zl45.5 63zl46.5-110zl48.5-101zl50.5 4zl51.5 64zl54.5 64zl57.5 63zl59.5-119zl59.5 45zl66.5-85zl66.5 74zl71.5-90zl77.5-103zl80.5 1zl81.5-67zl85.5-107zl89.5-99zl98.5-110zl98.5-77zl110.5-41zl122.5-74zM387.5 167l-164.5-1zl-161.5 36zl-160.5 75zl-138.5 55zl-137.5 64zl-132.5-19zl-120.5-14zl-120.5 36zl-100.5-40zl-100.5 110zl-89.5-28zl-89.5-3zl-86.5 2zl-84.5-3zl-77.5 150zl-59.5-40zl-42.5-34zl-33.5-63zl-26.5 146zl-22.5 153zl-19.5-75zl-17.5-105zl-11.5-30zl-11.5 8zl-9.5-101zl-8.5-28zl-6.5-12zl-5.5-72zl-2.5 1zl-1.5-19zl-1.5-17zl-1.5 5zl-1.5 8zl0.5-26zl0.5-25zl2.5-6zl2.5 18zl5.5-30zl6.5-17zl7.5-3zl8.5-34zl8.5 0zl8.5 22zl9.5-18zl9.5-6zl10.5-57zl10.5 116zl11.5-66zl11.5-5zl11.5-3zl11.5 25zl12.5-93zl12.5 13zl12.5 37zl14.5-44zl14.5-2zl15.5-16zl15.5-1zl16.5 25zl17.5-50zl17.5 41zl17.5 46zl18.5-19zl18.5 57zl18.5 75zl20.5-84zl20.5-52zl20.5-13zl20.5-1zl21.5-63zl21.5 15zl23.5-58zl23.5-35zl23.5 95zl24.5 71zl25.5 6zl25.5 35zl25.5 69zl26.5-103zl26.5 35zl26.5 86zl28.5-44zl28.5 31zl29.5-63zl30.5-8zl32.5 19zl33.5 53zl34.5 56zl34.5 58zl37.5 32zl37.5 89zl42.5 22zl42.5 52zl43.5-19zl43.5-8zl43.5 24zl44.5-115zl44.5-91zl44.5-22zl45.5-108zl47.5 60zl48.5-6zl50.5 44zl50.5 79zl53.5-57zl53.5 56zl54.5-24zl55.5-117zl55.5-71zl56.5-95zl58.5 42zl59.5-57zl59.5 24zl61.5 31zl67.5-33zl77.5-71zl80.5-91zl80.5-7zl81.5-71zl98.5-78zl98.5-67zl105.5-88z"/>
<path stroke="#8B82E0" stroke-opacity="0.32" d="M244.5 241.5l-97.5 68.5zl-74.5 126.5zl-70.5-50.5zl-68.5 13.5zl-62.5 47.5zl-58.5-13.5zl-57.5-47.5zl-57.5 7.5zl-57.5 61.5zl-51.5-35.5zl-48.5-40.5zl-48.5-21.5zl-48.5 32.5zl-47.5-4.5zl-46.5 63.5zl-44.5-37.5zl-44.5 82.5zl-40.5-2.5zl-36.5 0.5zl-36.5 6.5zl-36.5 53.5zl-33.5 17.5zl-30.5-27.5zl-30.5 61.5zl-29.5 111.5zl-25.5 1.5zl-25.5 26.5zl-24.5 29.5zl-22.5 77.5zl-21.5-23.5zl-21.5 26.5zl-20.5-16.5zl-20.5 10.5zl-19.5-20.5zl-19.5-13.5zl-19.5-2.5zl-19.5 7.5zl-18.5 14.5zl-17.5-154.5zl-17.5-3.5zl-16.5 0.5zl-16.5 56.5zl-15.5-19.5zl-15.5-0.5zl-14.5-17.5zl-13.5-30.5zl-13.5-16.5zl-13.5-11.5zl-12.5-17.5zl-11.5-8.5zl-10.5-21.5zl-10.5-6.5zl-9.5-23.5zl-9.5-20.5zl-9.5-5.5zl-9.5 7.5zl-9.5 19.5zl-9.5 22.5zl-7.5 0.5zl-7.5 9.5zl-7.5 12.5zl-7.5 35.5zl-6.5-23.5zl-6.5-21.5zl-6.5-8.5zl-5.5-13.5zl-5.5 27.5zl-4.5-27.5zl-4.5-8.5zl-4.5-2.5zl-4.5 0.5zl-4.5 23.5zl-3.5 9.5zl-2.5-19.5zl-2.5-8.5zl-2.5 4.5zl1.5-12.5zl1.5 16.5zl2.5-22.5zl2.5-1.5zl2.5 5.5zl6.5-25.5zl8.5-25.5zl8.5 25.5zl12.5-22.5zl12.5-20.5zl13.5 38.5zl22.5 12.5zl64.5 74.5zl65.5 73.5zM254 239.5l-131-82.5zl-122-99.5zl-101 50.5zl-100 35.5zl-81-12.5zl-71-73.5zl-67 26.5zl-65 3.5zl-60 26.5zl-57 7.5zl-55-53.5zl-54-4.5zl-54 33.5zl-52 46.5zl-43-20.5zl-39-16.5zl-39 22.5zl-30-33.5zl-26-41.5zl-26-37.5zl-23 6.5zl-18 2.5zl-17 17.5zl-15 36.5zl-13-24.5zl-11 19.5zl-8-31.5zl-7-26.5zl-7-4.5zl-6-6.5zl-5-25.5zl-3 42.5zl-3 81.5zl-1-10.5zl3-2.5zl4 46.5zl21 45.5zl24 60.5zl40 51.5zl43 63.5zM261 246l-110-44zl-103 46zl-88-11zl-53-145zl-53-45zl-53 107zl-47 92zl-43 134zl-30-24zl-30 22zl-19 36zl-13-4zl-10 31zl-8 17zl-7 3zl-4 16zl-3 10zl-2-22zl-2-15zl0 0zl0 12zl0 28zl2 0zl2 22zl2 44zl4 31zl6 31zl7 40zl14 43zl18 37zl18 43zl22 40zl28 45zl28 71zl33 66zl44 60zM265.5 180l-138.5-8zl-133.5-44zl-122.5-4zl-99.5-81zl-81.5-120zl-78.5-84zl-77.5-20zl-76.5-6zl-74.5 29zl-69.5-77zl-61.5-123zl-59.5-43zl-58.5-87zl-50.5-51zl-49.5-79zl-49.5-17zl-45.5-67zl-44.5-52zl-44.5 46zl-39.5-77zl-36.5 13zl-35.5-128zl-32.5 1zl-32.5 13zl-32.5 20zl-30.5 5zl-30.5 17zl-29.5-10zl-29.5 2zl-28.5-31zl-27.5 20zl-26.5 4zl-26.5 16zl-23.5-47zl-23.5 0zl-22.5 11zl-20.5-51zl-20.5-42zl-18.5-54zl-18.5-12zl-18.5 15zl-18.5 21zl-15.5 2zl-12.5-34zl-10.5-42zl-10.5-26zl-10.5 1zl-8.5-4zl-6.5-29zl-6.5-14zl-6.5 16zl-5.5-12zl-2.5-1zl-2.5 7zl1.5-6zl13.5-54zl27.5-44zl37.5-28zl40.5-19zl42.5-31zl43.5-32zl45.5-33zl114.5-30zM269 175l-129-45zl-105-87zl-90-58zl-86-69zl-73-103zl-66 2zl-65-74zl-59-28zl-56 6zl-55-58zl-53-21zl-52-104zl-52-71zl-44-85zl-44-68zl-42-11zl-41-61zl-37-29zl-34-2zl-33-10zl-33 28zl-32-16zl-31-38zl-31 2zl-31 4zl-31 31zl-28-40zl-27-25zl-24-10zl-22-18zl-18-16zl-16-32zl-16-26zl-16-20zl-13-14zl-13-8zl-13-8zl-9-17zl-9-4zl-8-41zl-8-18zl-7-26zl-7-21zl-7-10zl-7-5zl-5-7zl-4-18zl-1-36zl-1-16zl-1-7zl-1-6zl-1-5zl0-15zl1-23zl1-18zl2-16zl2-15zl4-19zl5-31zl8-17zl10-18zl11-30zl12-5zl16-15zl20-15zl21-40zl24-25zl25-42zl25-18zl25-7zl41-49zl42-24zl48-16zl52-21zl63-31zl65-61zl82-25zl109 7zl121 18zM272.5 184l-124.5-65zl-118.5-75zl-114.5-90zl-113.5 20zl-111.5 28zl-86.5-36zl-65.5-42zl-59.5-30zl-52.5-127zl-48.5 18zl-43.5 27zl-39.5-93zl-31.5 0zl-26.5 17zl-23.5 14zl-20.5-2zl-17.5 7zl-13.5 9zl-12.5-40zl-8.5-21zl-8.5 5zl8.5-5zl10.5-40zl16.5-7zl29.5-87zl31.5-70zl31.5-28zl32.5-57zl44.5-30zl45.5-24zl72.5-26zl102.5-8zl130.5-35zM273.5 190.5l-139.5-59.5zl-100.5-82.5zl-94.5-37.5zl-94.5-13.5zl-68.5-35.5zl-51.5-50.5zl-46.5 6.5zl-44.5-56.5zl-41.5-80.5zl-40.5-9.5zl-31.5 5.5zl-27.5 4.5zl-18.5-1.5zl-16.5 14.5zl-16.5 22.5zl-16.5 24.5zl-14.5-66.5zl-14.5 8.5zl-8.5 18.5zl-6.5-35.5zl11.5-7.5zl19.5-20.5zl30.5-70.5zl38.5-32.5zl40.5-24.5zl41.5-31.5zl45.5-26.5zl47.5-41.5zl85.5-18.5zl90.5-40.5zM275.5 192.5l-102.5-39.5zl-84.5-137.5zl-61.5-15.5zl-52.5-42.5zl-29.5 9.5zl-19.5 19.5zl-17.5 5.5zl-16.5 5.5zl-14.5 21.5zl-12.5 16.5zl-11.5 14.5zl-9.5 4.5zl17.5-17.5zl29.5-87.5zl32.5-39.5zl34.5 165.5zl69.5-41.5zl94.5-13.5zM276.5 240.5l-117.5-125.5zl-87.5 77.5zl-50.5-48.5zl-48.5-21.5zl-21.5-26.5zl-19.5 64.5zl-16.5 89.5zl-14.5 47.5zl-9.5 56.5zl-2.5 32.5zl2.5 74.5zl6.5 84.5zl7.5 67.5zl9.5 35.5zl22.5 76.5zl103.5 43.5zl114.5-60.5z"/>
<path stroke="#8B82E0" stroke-opacity="0.32" d="M244.5 241.5l-145.5-31.5zl-108.5-56.5zl-103.5 53.5zl-99.5 22.5zl-96.5 48.5zl-88.5-124.5zl-84.5 33.5zl-73.5-91.5zl-70.5 15.5zl-69.5 53.5zl-64.5-17.5zl-56.5-176.5zl-56.5 41.5zl-50.5-26.5zl-50.5-9.5zl-45.5-26.5zl-43.5 6.5zl-42.5-54.5zl-39.5 15.5zl-38.5 61.5zl-36.5 16.5zl-33.5-47.5zl-33.5-5.5zl-33.5 7.5zl-32.5 45.5zl-31.5 3.5zl-30.5-23.5zl-28.5-42.5zl-28.5-12.5zl-27.5-27.5zl-27.5 14.5zl-26.5-23.5zl-25.5 38.5zl-24.5-41.5zl-24.5-35.5zl-24.5-27.5zl-24.5-5.5zl-24.5-1.5zl-22.5-16.5zl-21.5-30.5zl-21.5-29.5zl-20.5-21.5zl-20.5-6.5zl-18.5 5.5zl-17.5 27.5zl-16.5-18.5zl-16.5 14.5zl-15.5 1.5zl-14.5 3.5zl-14.5 6.5zl-13.5 2.5zl-13.5 10.5zl-12.5-21.5zl-12.5 7.5zl-11.5-8.5zl-11.5 13.5zl-11.5 28.5zl-10.5-26.5zl-10.5-23.5zl-10.5 7.5zl-10.5 27.5zl-9.5-6.5zl-9.5-3.5zl-8.5-8.5zl-8.5 29.5zl-5.5 8.5zl-4.5-9.5zl-4.5-1.5zl-2.5-27.5zl0.5 36.5zl1.5 1.5zl2.5-26.5zl2.5-0.5zl2.5 1.5zl2.5 32.5zl3.5-17.5zl3.5-13.5zl3.5 17.5zl3.5 55.5zl4.5-2.5zl5.5 1.5zl5.5 33.5zl8.5-26.5zl9.5-4.5zl13.5 34.5zl29.5 49.5zl91.5-82.5zl98.5 69.5zM254 239.5l-102-118.5zl-102 6.5zl-101 9.5zl-96 90.5zl-77-26.5zl-69-19.5zl-59 147.5zl-54-14.5zl-52 43.5zl-47-15.5zl-42-56.5zl-42 26.5zl-37-40.5zl-33-34.5zl-30-31.5zl-25 1.5zl-25 3.5zl-23-34.5zl-23-31.5zl-23 15.5zl-23 25.5zl-20 18.5zl-16-18.5zl-15-27.5zl-13 38.5zl-11 8.5zl-9-24.5zl-6 2.5zl-5-8.5zl-4 5.5zl-1-17.5zl-1 11.5zl0-17.5zl0 0.5zl0 90.5zl1-4.5zl2-13.5zl2-13.5zl4 0.5zl6-22.5zl10 40.5zl19 27.5zl34 74.5zl67 98.5zl117-79.5zM261 246l-79 10zl-55-65zl-40 8zl-34 17zl-28-22zl-26 25zl-19 26zl-19 37zl-18 38zl-17-27zl-17 10zl-17 32zl-15 16zl-14 102zl-12 38zl-10 30zl-8-15zl-8 32zl-7-8zl-7 8zl-7 22zl-7 38zl-6 35zl-6 36zl-6 43zl-5 40zl-4-3zl-2 5zl-1 28zl-1 55zl1 58zl2 58zl3 12zl4 12zl6 15zl9 19zl17 59zl21 40zl25 47zl28 49zl47 65zl47 68zl91 50zM265.5 180l-130.5 43zl-126.5-57zl-121.5-57zl-117.5-56zl-112.5-67zl-90.5-59zl-90.5 24zl-88.5-9zl-75.5-69zl-70.5-8zl-67.5-55zl-61.5-57zl-59.5-63zl-56.5-17zl-55.5-43zl-54.5 32zl-53.5 19zl-52.5-86zl-51.5 27zl-48.5-102zl-47.5-47zl-47.5-9zl-45.5 3zl-44.5 12zl-40.5-4zl-37.5 16zl-36.5-13zl-34.5 7zl-33.5 0zl-32.5-93zl-32.5 5zl-30.5-95zl-30.5 16zl-26.5-49zl-24.5 24zl-23.5 1zl-23.5 9zl-22.5-93zl-18.5 4zl-18.5 4zl-18.5 17zl-16.5-85zl-16.5-16zl-14.5-9zl-13.5-4zl-13.5 22zl-11.5-21zl-8.5 5zl-7.5-33zl-7.5-1zl-5.5-49zl-3.5-36zl-1.5 7zl2.5-2zl6.5-9zl10.5-29zl31.5-46zl36.5-41zl37.5-35zl43.5-29zl52.5-27zl60.5-21zl90.5-28zl112.5-31zl114.5-20zM269 175l-104 0zl-91-50zl-87-16zl-86-112zl-74 17zl-68-39zl-63 20zl-55-42zl-49-12zl-47-110zl-45-44zl-42-26zl-40-22zl-38-103zl-37 11zl-35 6zl-30-72zl-28-13zl-26-75zl-23-19zl-22-6zl-21-23zl-20-149zl-19-25zl-19 6zl-16 0zl-15 17zl-13-18zl-12-18zl-11-21zl-9-36zl-6-5zl-1-42zl1-8zl3 1zl4-12zl5 0zl6-24zl9-4zl11-19zl13-22zl14 6zl15-14zl16-16zl22-25zl24-13zl25-14zl28-10zl28-9zl38-18zl44-55zl45-33zl53-46zl72-22zl72-22zl129 8zM272.5 184l-103.5-76zl-86.5-75zl-83.5-62zl-68.5-101zl-56.5-140zl-43.5 25zl-40.5-12zl-37.5-6zl-34.5-3zl-33.5 17zl-32.5-14zl-26.5-14zl-25.5-39zl-21.5 4zl-21.5 28zl-20.5-5zl-20.5 17zl-18.5 5zl-18.5 6zl-15.5 23zl-9.5-45zl-9.5 35zl-4.5 12zl-2.5-40zl1.5-15zl5.5-55zl18.5-32zl25.5-38zl25.5-18zl28.5-54zl34.5-46zl35.5-65zl42.5-23zl44.5-58zl49.5-51zl50.5-31zl52.5-36zl57.5-152zl91.5-21zl108.5-6zl123.5-5zM273.5 190.5l-126.5-74.5zl-122.5 143.5zl-97.5-4.5zl-95.5 0.5zl-73.5 2.5zl-66.5-45.5zl-59.5-39.5zl-49.5 23.5zl-43.5 12.5zl-39.5 101.5zl-34.5-9.5zl-31.5 11.5zl-28.5 16.5zl-20.5 8.5zl-19.5 11.5zl-16.5-49.5zl-16.5 23.5zl-13.5 2.5zl-9.5-54.5zl-6.5 1.5zl-6.5 2.5zl-3.5 2.5zl-0.5-2.5zl1.5-9.5zl11.5-7.5zl14.5-12.5zl16.5-19.5zl20.5-36.5zl25.5-21.5zl27.5 114.5zl57.5-73.5zl66.5-70.5zl105.5-26.5zl109.5-14.5zM275.5 192.5l-105.5-34.5zl-97.5-47.5zl-66.5-118.5zl-55.5-33.5zl-47.5 20.5zl-37.5-19.5zl-26.5 1.5zl-24.5 10.5zl-24.5 12.5zl-21.5-94.5zl-13.5 10.5zl-12.5-152.5zl-11.5 12.5zl23.5-19.5zl34.5-69.5zl70.5-44.5zl73.5-62.5zl77.5-44.5zl81.5-59.5zl102.5-46.5zl108.5-36.5zM276.5 240.5l-110.5 99.5zl-36.5-18.5zl-23.5-18.5zl-23.5 66.5zl-8.5 39.5zl-5.5 49.5zl-4.5 45.5zl-2.5 30.5zl-2.5 52.5zl0.5 58.5zl5.5 44.5zl5.5 49.5zl9.5 46.5zl11.5 44.5zl20.5 77.5zl64.5 65.5zl110.5 43.5z"/>
<path stroke="#8B82E0" stroke-opacity="0.32" d="M244.5 241.5l-137.5-53.5zl-110.5-47.5zl-98.5-40.5zl-87.5-10.5zl-80.5 82.5zl-71.5 37.5zl-66.5-43.5zl-57.5 65.5zl-53.5-26.5zl-53.5-1.5zl-43.5 24.5zl-42.5-24.5zl-42.5 21.5zl-41.5 86.5zl-40.5-32.5zl-40.5-17.5zl-37.5-20.5zl-36.5-3.5zl-35.5-8.5zl-33.5-32.5zl-28.5-1.5zl-27.5 8.5zl-27.5 18.5zl-25.5-49.5zl-25.5 1.5zl-24.5 24.5zl-24.5 44.5zl-23.5-25.5zl-23.5-4.5zl-22.5 6.5zl-21.5-14.5zl-20.5-22.5zl-20.5 30.5zl-19.5-17.5zl-19.5 18.5zl-18.5-3.5zl-18.5-0.5zl-18.5 11.5zl-17.5-26.5zl-17.5-22.5zl-17.5-21.5zl-15.5-10.5zl-15.5-5.5zl-15.5 5.5zl-15.5 14.5zl-12.5-38.5zl-12.5-21.5zl-12.5-20.5zl-12.5 11.5zl-11.5-22.5zl-11.5-21.5zl-10.5-32.5zl-10.5-15.5zl-10.5-2.5zl-9.5 0.5zl-9.5 6.5zl-9.5 9.5zl-9.5 48.5zl-8.5-25.5zl-7.5-8.5zl-7.5-4.5zl-6.5-34.5zl-5.5-23.5zl-4.5-34.5zl-4.5-24.5zl-3.5 0.5zl-3.5 7.5zl-3.5 36.5zl-2.5-23.5zl-2.5-7.5zl-2.5 1.5zl-2.5 23.5zl-0.5-17.5zl0.5-9.5zl0.5 15.5zl1.5-30.5zl1.5-4.5zl4.5-3.5zl5.5 31.5zl6.5 12.5zl10.5-16.5zl11.5-21.5zl13.5 24.5zl13.5 40.5zl20.5 69.5zl29.5 51.5zl37.5 42.5zl50.5 51.5zM254 239.5l-113 64.5zl-108-55.5zl-89-47.5zl-84-159.5zl-73-55.5zl-63 27.5zl-51-123.5zl-47 35.5zl-29 57.5zl-28-22.5zl-27-20.5zl-26-40.5zl-23-22.5zl-20-20.5zl-19-25.5zl-19 28.5zl-18-33.5zl-17-31.5zl-10-19.5zl-6 20.5zl-5-17.5zl-5 11.5zl-5 43.5zl-4 71.5zl-3-18.5zl-2-24.5zl-2 18.5zl-2 19.5zl-1-5.5zl1-5.5zl1-0.5zl5-16.5zl5-8.5zl7 65.5zl11 26.5zl16 16.5zM261 246l-116-135zl-46 72zl-39-46zl-34 101zl-21 29zl-18 28zl-16 23zl-10 8zl-8 64zl-7 5zl-7 12zl-6 1zl-3 42zl-2 23zl-1 6zl-1 11zl1 2zl1 11zl1 12zl3 35zl4 13zl4 57zl5 5zl6 28zl7 19zl7 68zl14 34zl16 36zl16 39zl17 75zl24 90zl27 73zl28 37zl55 68zl110 42zl123-73zM265.5 180l-132.5-6zl-116.5 56zl-101.5-37zl-91.5-33zl-87.5-104zl-85.5-49zl-81.5-87zl-78.5-89zl-74.5-20zl-71.5-50zl-69.5-127zl-69.5-70zl-67.5-6zl-59.5 18zl-58.5-13zl-56.5-122zl-53.5-118zl-52.5-75zl-50.5-38zl-50.5 4zl-48.5-32zl-44.5-36zl-41.5-35zl-41.5 14zl-40.5-86zl-39.5 10zl-38.5-6zl-34.5-52zl-32.5-13zl-30.5 4zl-30.5 23zl-25.5 9zl-25.5 13zl-24.5-8zl-22.5 28zl-20.5-3zl-20.5 7zl-19.5 18zl-17.5 7zl-17.5 14zl-16.5-2zl-15.5-59zl-14.5-17zl-12.5-25zl-9.5-88zl-8.5 1zl-7.5-16zl-5.5 0zl-2.5-17zl-1.5 14zl1.5-32zl15.5-31zl15.5-20zl16.5-51zl16.5-31zl25.5-73zl25.5-23zl26.5-33zl29.5-26zl33.5-16zl37.5-24zl50.5-29zl51.5-27zl57.5-27zl71.5-27zl87.5-16zl118.5-21zl125.5 2zM269 175l-161 46zl-128-41zl-109-52zl-100 12zl-99-58zl-94-26zl-89-66zl-87-92zl-86-96zl-75 3zl-64-23zl-63-94zl-59-106zl-53-68zl-47-82zl-47-59zl-40-119zl-39 31zl-37-38zl-34 11zl-33-41zl-25-10zl-23-5zl-23 1zl-19-8zl-17 3zl-15-10zl-12-1zl-10-83zl-10-18zl-8 7zl-6-32zl-5-34zl-5-31zl-1-9zl0-25zl0-16zl2 3zl3-14zl4-30zl8-9zl9-33zl12-20zl13-27zl13-23zl14-26zl15-20zl16-15zl17-59zl25-23zl29-34zl29-26zl31-14zl32-19zl36-41zl46-46zl51-21zl54-39zl55-48zl68-40zl92-5zM272.5 184l-117.5-88zl-99.5-61zl-88.5 21zl-83.5-66zl-81.5-88zl-70.5-78zl-64.5-60zl-55.5-45zl-55.5 8zl-50.5-62zl-48.5 22zl-41.5-69zl-28.5-9zl-27.5 5zl-26.5 21zl-22.5-10zl-17.5 26zl-14.5 21zl-5.5 1zl-2.5-12zl-2.5 17zl-1.5-27zl1.5 1zl2.5-21zl10.5-149zl21.5-52zl21.5-21zl26.5-51zl26.5-23zl30.5-35zl34.5-54zl36.5-36zl46.5 163zl47.5-27zl47.5-23zl87.5-18zl123.5 21zM273.5 190.5l-131.5-72.5zl-120.5 104.5zl-107.5-60.5zl-106.5-114.5zl-97.5-123.5zl-95.5-99.5zl-72.5-80.5zl-69.5-145.5zl-63.5-100.5zl-59.5-17.5zl-57.5-10.5zl-31.5 3.5zl-26.5 4.5zl-26.5 14.5zl-23.5 2.5zl-22.5-52.5zl-18.5 9.5zl-17.5 14.5zl-16.5 17.5zl-11.5-0.5zl-6.5-1.5zl-5.5 9.5zl-3.5 9.5zl3.5-6.5zl3.5 2.5zl21.5-22.5zl40.5-36.5zl55.5-38.5zl72.5-43.5zl99.5-16.5zl103.5-17.5zl110.5-19.5zl114.5-24.5zM275.5 192.5l-134.5-12.5zl-109.5-72.5zl-104.5-91.5zl-63.5-23.5zl-48.5-21.5zl-41.5 9.5zl-38.5 7.5zl-31.5-1.5zl-31.5 14.5zl-27.5 14.5zl-16.5 7.5zl-13.5 15.5zl-10.5 15.5zl6.5-6.5zl8.5-10.5zl13.5-52.5zl14.5-20.5zl30.5-36.5zl45.5-39.5zl63.5-63.5zl99.5-12.5zl100.5-44.5zM276.5 240.5l-112.5-42.5zl-101.5 105.5zl-74.5-27.5zl-68.5-26.5zl-57.5-30.5zl-51.5-26.5zl-27.5 52.5zl-1.5 29.5zl1.5 42.5zl4.5 40.5zl4.5 67.5zl10.5 37.5zl10.5 66.5zl11.5 40.5zl11.5 68.5zl26.5 90.5zl44.5 68.5zl73.5 87.5zl111.5 30.5zl131.5-3.5z"/>
<path stroke="#8B82E0" stroke-opacity="0.32" d="M244.5 241.5l-99.5 19.5zl-91.5 38.5zl-79.5 60.5zl-77.5 3.5zl-77.5 14.5zl-77.5 30.5zl-72.5 23.5zl-68.5-16.5zl-68.5 33.5zl-67.5-31.5zl-64.5 52.5zl-61.5-26.5zl-61.5-14.5zl-60.5 30.5zl-47.5-0.5zl-47.5 58.5zl-42.5 51.5zl-40.5 83.5zl-39.5 64.5zl-33.5-81.5zl-33.5 54.5zl-32.5-19.5zl-31.5 32.5zl-28.5 27.5zl-27.5-40.5zl-27.5-17.5zl-26.5 21.5zl-23.5-35.5zl-21.5-36.5zl-21.5 0.5zl-20.5-9.5zl-20.5 8.5zl-19.5-1.5zl-19.5 16.5zl-19.5 17.5zl-18.5-14.5zl-18.5-1.5zl-17.5-16.5zl-16.5-22.5zl-16.5-16.5zl-16.5-0.5zl-16.5 15.5zl-16.5 18.5zl-15.5 22.5zl-14.5-16.5zl-14.5-7.5zl-13.5-17.5zl-13.5-7.5zl-12.5-15.5zl-12.5 14.5zl-11.5-7.5zl-11.5-2.5zl-10.5-25.5zl-9.5-16.5zl-9.5 37.5zl-8.5-20.5zl-8.5 38.5zl-7.5-18.5zl-7.5-16.5zl-6.5-28.5zl-6.5 41.5zl-5.5 10.5zl-4.5-12.5zl-3.5-11.5zl-3.5-0.5zl-1.5-8.5zl-1.5 13.5zl1.5 13.5zl2.5-30.5zl2.5 24.5zl4.5 24.5zl7.5-25.5zl9.5 25.5zl10.5 25.5zl11.5-28.5zl15.5-0.5zl16.5-26.5zl16.5 22.5zl20.5-37.5zl32.5 83.5zl40.5 89.5zl47.5 61.5zM254 239.5l-140-85.5zl-102-16.5zl-94 3.5zl-92-118.5zl-91 14.5zl-77-32.5zl-65-18.5zl-58 23.5zl-34-7.5zl-33 23.5zl-30-17.5zl-28-34.5zl-26-24.5zl-25 16.5zl-23 10.5zl-18-19.5zl-16-10.5zl-15 26.5zl-14-18.5zl-13-18.5zl-5-20.5zl-5 24.5zl-4-11.5zl-3 2.5zl-2-22.5zl-1-21.5zl-1-20.5zl-1-7.5zl-1-4.5zl-1-0.5zl3 47.5zl4-5.5zl4 0.5zl4 45.5zl5 49.5zl16 27.5zl36 54.5zM261 246l-113-32zl-94 105zl-85-12zl-57 8zl-42-32zl-34 78zl-32-39zl-23 25zl-20 34zl-18-31zl-16 10zl-15 54zl-11 21zl-10 16zl-7 11zl-5 12zl-5 19zl-2 9zl-1 29zl0 24zl1-3zl1 2zl2 3zl3 4zl4 2zl6 17zl8 34zl10 12zl10 30zl11 39zl18 40zl20 49zl33 77zl35 51zM265.5 180l-120.5-38zl-104.5-40zl-96.5-42zl-93.5-8zl-79.5-57zl-74.5-75zl-69.5-93zl-65.5-27zl-63.5-47zl-58.5-10zl-54.5-80zl-41.5-54zl-41.5-18zl-35.5 2zl-35.5 7zl-35.5 19zl-33.5-24zl-32.5 9zl-31.5-29zl-27.5 16zl-27.5 32zl-24.5-24zl-23.5-57zl-23.5 15zl-22.5 0zl-22.5 16zl-21.5-28zl-16.5-120zl-16.5-6zl-16.5 3zl-15.5-1zl-15.5 3zl-14.5-56zl-13.5-13zl-11.5 15zl-10.5 11zl-9.5 5zl-8.5 23zl-7.5-53zl-7.5 12zl-6.5 15zl-5.5-4zl-3.5 5zl-3.5 6zl-0.5-3zl3.5-43zl5.5-38zl6.5-25zl9.5-52zl21.5-35zl23.5-39zl32.5-44zl39.5-31zl46.5-30zl81.5-26zl88.5-26zM269 175l-119-53zl-112-43zl-109-41zl-100-81zl-96-86zl-96-76zl-81-12zl-78-24zl-77-62zl-73-16zl-71-81zl-69-9zl-65-105zl-64-112zl-63-44zl-61-65zl-59-9zl-54-17zl-52-8zl-50 29zl-49-76zl-47-1zl-42-49zl-41-36zl-40-31zl-36-15zl-33 7zl-27-36zl-26 5zl-25-11zl-25-1zl-20-18zl-19-16zl-19 8zl-16-101zl-11-4zl-10-1zl-9-31zl-8-25zl-8 2zl-8 6zl-6-15zl-6 24zl-5-95zl-4-10zl-1-32zl-1-29zl2-11zl3-9zl4-32zl5-16zl6-29zl6-20zl7-23zl8-18zl9-31zl10-11zl10-7zl11-15zl11-13zl19-56zl20-32zl25-28zl26-84zl28-3zl47-59zl55-24zl75-13zl103-4zM272.5 184l-124.5-56zl-109.5-33zl-99.5-1zl-92.5-43zl-86.5-68zl-85.5-28zl-84.5-131zl-82.5-135zl-82.5-43zl-81.5-120zl-81.5-27zl-80.5-92zl-79.5-110zl-77.5-22zl-69.5-44zl-69.5-36zl-64.5-11zl-61.5-6zl-46.5 5zl-42.5-84zl-39.5-3zl-39.5-3zl-37.5 8zl-34.5-106zl-34.5 14zl-25.5-50zl-24.5 19zl-21.5-12zl-18.5 23zl-14.5-48zl-14.5-30zl-12.5 3zl-12.5 18zl-9.5-26zl-5.5-57zl-3.5 2zl0.5 1zl0.5 2zl4.5-2zl5.5 1zl7.5 5zl9.5-12zl11.5-49zl23.5-55zl30.5-35zl31.5-46zl44.5-61zl53.5-34zl73.5-18zl94.5-37zl110.5-32zl139.5 37zM273.5 190.5l-115.5-35.5zl-104.5-65.5zl-97.5-73.5zl-80.5-71.5zl-69.5 41.5zl-59.5-70.5zl-58.5-80.5zl-48.5-54.5zl-47.5-33.5zl-40.5 20.5zl-39.5-63.5zl-38.5 11.5zl-28.5-152.5zl-25.5-73.5zl-24.5 16.5zl-17.5 4.5zl-9.5-1.5zl-4.5 7.5zl-2.5-43.5zl-1.5 5.5zl0.5 6.5zl9.5-29.5zl18.5 133.5zl31.5-46.5zl32.5-23.5zl40.5-49.5zl42.5-55.5zl43.5-29.5zl54.5-31.5zl81.5-49.5zl86.5-26.5zl95.5-18.5zl115.5-7.5zl119.5-13.5zM275.5 192.5l-109.5 26.5zl-108.5-111.5zl-98.5-36.5zl-83.5-146.5zl-83.5-5.5zl-82.5-135.5zl-71.5-28.5zl-57.5 15.5zl-54.5-83.5zl-49.5-109.5zl-45.5-117.5zl-36.5 17.5zl-33.5-125.5zl-20.5 6.5zl-15.5-2.5zl-6.5-3.5zl-5.5 7.5zl16.5-30.5zl29.5-26.5zl42.5-28.5zl58.5-34.5zl68.5-50.5zl68.5-37.5zl77.5-24.5zl105.5-35.5zl120.5-33.5zM276.5 240.5l-144.5 47.5zl-71.5-162.5zl-47.5-161.5zl-46.5 48.5zl-33.5 40.5zl-27.5 45.5zl-25.5 34.5zl-22.5-20.5zl-20.5-22.5zl-3.5 81.5zl1.5 37.5zl23.5 70.5zl27.5 55.5zl37.5 101.5zl43.5 78.5zl47.5-141.5zl60.5 71.5zl64.5 101.5zl94.5 49.5z"/>
<path stroke="#E3BD80" stroke-opacity="0.45" d="M309.5 310l-103.5 62zl-101.5-40zl-90.5-58zl-88.5 98zl-86.5-11zl-81.5 46zl-78.5 2zl-76.5-83zl-72.5-17zl-69.5 17zl-67.5-76zl-61.5-155zl-54.5-6zl-53.5 60zl-52.5-22zl-51.5 123zl-50.5-46zl-50.5 140zl-49.5-57zl-48.5-7zl-46.5-16zl-45.5-35zl-42.5-6zl-42.5 76zl-41.5-14zl-41.5 27zl-40.5 57zl-39.5-5zl-38.5 39zl-38.5 75zl-36.5 0zl-34.5-20zl-34.5 28zl-33.5 14zl-31.5 21zl-31.5 71zl-30.5-15zl-30.5 21zl-29.5-29zl-25.5-2zl-22.5 0zl-22.5 14zl-22.5 44zl-21.5 0zl-20.5 9zl-20.5 18zl-20.5 81zl-19.5-27zl-19.5-4zl-19.5 3zl-19.5 11zl-18.5-8zl-18.5 5zl-17.5 0zl-17.5 2zl-15.5 2zl-14.5-3zl-14.5-1zl-14.5 16zl-14.5 32zl-11.5 12zl-10.5 8zl-10.5 12zl-10.5 16zl-9.5 126zl-8.5 0zl-7.5 0zl-6.5 19zl-4.5-7zl-2.5 23zl-2.5 95zl-1.5 8zl-1.5 29zl-0.5 21zl1.5 44zl3.5 4zl3.5 4zl5.5-159zl24.5 88zl25.5 64zl32.5 151zl39.5 85zl42.5 47zl47.5-12zl48.5 21zl71.5 47zl149.5 58zM312 302.5l-90 113.5zl-82 69.5zl-77-64.5zl-63-47.5zl-56-10.5zl-52 43.5zl-50-5.5zl-49-36.5zl-49 2.5zl-48-25.5zl-48 22.5zl-46-16.5zl-43 0.5zl-41 8.5zl-39 9.5zl-35-13.5zl-34-8.5zl-32 24.5zl-32 54.5zl-31-0.5zl-30-9.5zl-29-3.5zl-29 26.5zl-28 81.5zl-28 151.5zl-27 48.5zl-26 8.5zl-22-8.5zl-18-2.5zl-17 21.5zl-15-8.5zl-14 75.5zl-13-2.5zl-9 15.5zl-8-1.5zl-7-136.5zl-7 140.5zl-5 2.5zl-3 4.5zl-3 18.5zl-3 18.5zl9 78.5zM314.5 297.5l-106.5 96.5zl-91.5-9.5zl-89.5-44.5zl-81.5 48.5zl-77.5-97.5zl-77.5 8.5zl-73.5 75.5zl-71.5-36.5zl-68.5-13.5zl-66.5-26.5zl-65.5-78.5zl-65.5-48.5zl-60.5-4.5zl-55.5-42.5zl-44.5-20.5zl-42.5 13.5zl-36.5-28.5zl-33.5 29.5zl-32.5 2.5zl-30.5 29.5zl-27.5-7.5zl-25.5 86.5zl-23.5 7.5zl-22.5 96.5zl-10.5 126.5zl41.5 1.5zl43.5 101.5zl44.5 23.5zl46.5 44.5zl55.5 10.5zl58.5-11.5zl66.5 21.5zM319 308.5l-99-64.5zl-98 80.5zl-97 37.5zl-93-16.5zl-62-24.5zl-60-16.5zl-57 83.5zl-54 34.5zl-49-37.5zl-41-8.5zl-32 67.5zl-32 81.5zl-30 42.5zl-25-5.5zl-18 81.5zl-7 128.5zl-6-2.5zl-5 22.5zl-5 100.5zl-1 4.5zl1 4.5zl2 34.5zl3 5.5zl4 49.5zl11 70.5zl19 35.5zl22 44.5zl23 1.5zl26 129.5zl33 26.5zl37-3.5zl38 29.5zl58 71.5zl76 116.5zl79 95.5zM321.5 293.5l-96.5-82.5zl-89.5-29.5zl-89.5 66.5zl-82.5 63.5zl-68.5 42.5zl-63.5 94.5zl-59.5-114.5zl-57.5-45.5zl-54.5-13.5zl-52.5-16.5zl-51.5-0.5zl-49.5 22.5zl-34.5-9.5zl-31.5-8.5zl1.5 170.5zl15.5 138.5zl37.5 38.5zl40.5-2.5zl45.5 31.5zl48.5-3.5zl51.5-1.5zl53.5 34.5zM321.5 302l-94.5 84zl-82.5-66zl-81.5 111zl-78.5 9zl-69.5-86zl-68.5-12zl-64.5 7zl-62.5 12zl-52.5 105zl-52.5 143zl-51.5-139zl-45.5-14zl-43.5 127zl-36.5 21zl-23.5-133zl-17.5 46zl4.5 11zl9.5 4zl13.5 36zl22.5 27zl28.5 1zl28.5 15zl34.5 20zl35.5 47zl36.5 75zl37.5 15zl38.5 47zl41.5 15zl42.5 43zl47.5 23zl58.5-28zl65.5-11zl78.5 72zl79.5 7zM322.5 310.5l-98.5-1.5zl-89.5 25.5zl-87.5 102.5zl-86.5-81.5zl-84.5-37.5zl-83.5 113.5zl-82.5-37.5zl-78.5 51.5zl-74.5-146.5zl-70.5-18.5zl-63.5 57.5zl-43.5 54.5zl-40.5 145.5zl-30.5 106.5zl-27.5 31.5zl-27.5 65.5zl-25.5 70.5zl-17.5 109.5zl-12.5 2.5zl-12.5 21.5zl-12.5 158.5zl-7.5 103.5zl-3.5-0.5zl-3.5 48.5zl-0.5-2.5zl-0.5 99.5zl2.5-0.5zl6.5 111.5zl7.5 1.5zl9.5 78.5zl11.5 0.5zl11.5 13.5zl11.5 42.5zl12.5-0.5zl13.5 15.5zl16.5 92.5zl20.5 51.5zl22.5 19.5zl26.5 17.5zl27.5 11.5zl30.5-10.5zl31.5 59.5zl37.5 27.5zl44.5 22.5zl53.5 18.5zl63.5 10.5zl66.5 54.5zl70.5 82.5zl75.5 18.5zM323.5 318.5l-98.5 36.5zl-78.5 94.5zl-68.5 104.5zl-67.5-77.5zl-64.5-46.5zl-63.5 1.5zl-57.5 50.5zl-51.5-55.5zl-51.5 14.5zl-51.5 56.5zl-48.5 6.5zl-46.5 35.5zl-44.5 16.5zl-38.5 19.5zl-37.5 4.5zl-37.5 17.5zl-37.5 92.5zl-36.5 68.5zl-27.5 90.5zl-25.5 133.5zl-24.5 28.5zl-22.5 25.5zl-22.5 31.5zl-20.5 78.5zl-18.5 140.5zl-17.5 62.5zl-17.5 97.5zl-14.5 27.5zl-13.5 11.5zl-13.5 28.5zl-12.5 23.5zl-12.5 25.5zl-12.5 64.5zl-12.5 96.5zl-12.5 131.5zl-11.5 24.5zl-9.5 5.5zl-9.5 24.5zl-9.5 101.5zl-8.5 9.5zl-7.5 6.5zl-7.5 23.5zl-7.5 31.5zl-7.5 56.5zl-6.5 6.5zl-6.5 7.5zl-6.5 20.5zl-4.5 21.5zl-4.5 50.5zl-3.5 32.5zl-3.5 106.5zl-2.5-2.5zl-1.5-3.5zl-1.5 11.5zl0.5 11.5zl0.5 31.5zl0.5 62.5zl1.5 19.5zl1.5 29.5zl3.5 3.5zl4.5 13.5zl4.5 37.5zl6.5 6.5zl6.5 14.5zl7.5 7.5zl7.5 10.5zl8.5-2.5zl8.5 5.5zl8.5 6.5zl8.5 24.5zl9.5 18.5zl10.5 0.5zl10.5 3.5zl10.5 10.5zl11.5 3.5zl11.5 14.5zl14.5 0.5zl15.5 1.5zl17.5-1.5zl17.5 2.5zl17.5 5.5zl17.5 9.5zl20.5 4.5zl20.5 14.5zl20.5 23.5zl21.5 10.5zl21.5 31.5zl22.5 17.5zl23.5 17.5zl24.5 18.5zl24.5 20.5zl24.5 81.5zl26.5 4.5zl26.5 61.5zl26.5 89.5zl28.5 1.5zl31.5-1.5zl32.5 2.5zl32.5 39.5zl33.5 2.5zl34.5-2.5zl36.5 6.5zl37.5 9.5zl37.5 11.5zl38.5-19.5zl43.5 4.5zl43.5 105.5zl44.5 25.5zl46.5 124.5zl47.5 19.5zl47.5 62.5zl50.5 11.5zl52.5 107.5zl55.5 110.5zl58.5-3.5zl72.5-7.5zl91.5 55.5zl101.5 20.5zl109.5 52.5zM325.5 303.5l-125.5 77.5zl-100.5 60.5zl-100.5 63.5zl-97.5 59.5zl-87.5-80.5zl-85.5-108.5zl-85.5 39.5zl-84.5-13.5zl-83.5-4.5zl-76.5-3.5zl-73.5 111.5zl-66.5 30.5zl-53.5 141.5zl-49.5 30.5zl-45.5-117.5zl-38.5-160.5zl-26.5 122.5zl-21.5 159.5zl-17.5 127.5zl-8.5 78.5zl-5.5 34.5zl11.5 15.5zl11.5 31.5zl13.5 9.5zl14.5 6.5zl18.5 10.5zl20.5 80.5zl23.5 11.5zl28.5 23.5zl29.5 10.5zl34.5-0.5zl36.5-9.5zl36.5 11.5zl37.5-1.5zl37.5 48.5zl38.5-1.5zl41.5 67.5zl42.5-3.5zl48.5 1.5zl54.5 23.5zl57.5 34.5zl58.5 40.5zl59.5 16.5zM327 298l-122 98zl-119-7zl-91-49zl-84-14zl-74 155zl-65 140zl-51-30zl-1-137zl7 12zl10 10zl14-152zl15 15zl16 13zl16 17zl16 36zl17 150zl18 0zl25 29zl28 155zl30 0zl35 35zl41 16zl42-8zl42 26zl43 106zl44-5zl45-3zl45 21zl50-6zl57 58zl60 41zl67 72zl68 58zl82 79zl85 28zM392.5 252l-137.5-92zl-82.5-93zl-68.5-114zl-50.5-96zl-46.5 199zl-44.5-96zl-38.5-93zl-37.5-97zl-31.5-102zl-25.5-87zl-18.5-122zl-17.5 30zl-17.5 44zl-16.5-86zl-12.5-110zl-12.5 26zl-9.5 24zl-7.5 34zl-6.5 16zl-6.5 20zl-5.5 41zl-3.5 66zl-0.5-67zl2.5 65zl3.5 32zl5.5 33zl8.5-31zl9.5-78zl9.5 30zl11.5-16zl15.5-52zl16.5-31zl19.5-67zl19.5 21zl20.5 9zl20.5 56zl20.5 70zl22.5 51zl23.5-26zl26.5-49zl26.5-27zl26.5-15zl28.5-28zl29.5 106zl32.5-55zl32.5-14zl32.5 7zl38.5-24zl41.5-57zl42.5-39zl43.5-25zl44.5-57zl44.5 15zl45.5 7zl46.5 4zl47.5-4zl51.5-5zl52.5-11zl54.5-23zl55.5-17zl66.5-20zl81.5 71zM400 254.5l-44-110.5zl-35-84.5zl-27 31.5zl-26-78.5zl-22 79.5zl-21-77.5zl-19-68.5zl-18 36.5zl-18 36.5zl-18 109.5zl-17 34.5zl-17 38.5zl-15 13.5zl-14 43.5zl-11 16.5zl-10 45.5zl-7 7.5zl-7 15.5zl-7 52.5zl-6 27.5zl-6 85.5zl-5 13.5zl-4 45.5zl-1 7.5zl-1 70.5zl0-1.5zl0 40.5zl0 53.5zl1 27.5zl1 28.5zl1 47.5zl1 74.5zl2-81.5zl2-3.5zl3 50.5zl4-65.5zl4-25.5zl4 25.5zl4 33.5zl5-29.5zl5-5.5zl5 15.5zl5 34.5zl6-3.5zl6 29.5zl6 78.5zl8-0.5zl10-46.5zl10-17.5zl10 46.5zl10 47.5zl11 8.5zl12-2.5zl13 14.5zl13 19.5zl13 60.5zl14-76.5zl15-21.5zl17-0.5zl17 13.5zl18-63.5zl18 2.5zl19-6.5zl19 62.5zl19 83.5zl20-28.5zl20 1.5zl20 12.5zl20 65.5zl21-1.5zl21 17.5zl22-2.5zl22 19.5zl23-52.5zl23 5.5zl23 50.5zl29-38.5zl29 2.5zl29 77.5zl30-47.5zl30 47.5zl30 123.5zl31-17.5zl33-28.5zl33-2.5zl33-0.5zl33 94.5zl34-16.5zl37-11.5zl37-6.5zl38-18.5zl38-18.5zl39-41.5zl39-27.5zl39 4.5zl39 70.5zl40-9.5zl41 9.5zl41 82.5zl43 38.5zl44-18.5zl45-9.5zl45-9.5zl51 52.5zl52 0.5zl56-20.5zl56 53.5zl59-86.5zl59 8.5zl60 41.5zl63 12.5zl64-18.5zl64-2.5zl66-49.5zl66 36.5zl68 102.5zl71-11.5zl72 6.5zl76-22.5zl77 31.5zl86-82.5zl93-8.5zl93 6.5z"/>
<path stroke="#E3BD80" stroke-opacity="0.45" d="M309.5 310l-119.5 34zl-89.5-35zl-83.5-36zl-80.5 92zl-80.5 100zl-77.5-31zl-70.5-23zl-68.5-6zl-62.5 60zl-57.5 34zl-56.5 124zl-53.5-49zl-50.5 42zl-50.5 131zl-49.5 15zl-46.5 57zl-43.5 25zl-43.5 140zl-41.5 1zl-40.5 72zl-39.5-49zl-38.5 3zl-38.5 53zl-37.5 9zl-35.5-40zl-33.5-24zl-32.5-1zl-27.5-9zl-26.5 16zl-26.5 20zl-26.5 33zl-25.5-1zl-25.5 24zl-24.5-23zl-24.5-17zl-24.5 14zl-24.5 23zl-22.5 20zl-22.5 26zl-20.5-2zl-20.5 11zl-19.5-5zl-16.5-4zl-16.5 6zl-15.5 5zl-15.5 20zl-14.5-2zl-14.5 27zl-14.5 160zl-11.5-10zl-11.5 59zl-7.5 44zl-5.5 0zl-4.5 90zl-3.5-2zl-3.5 99zl-2.5-3zl-1.5 0zl4.5 30zl4.5 42zl6.5 34zl16.5 87zl24.5 75zl34.5 30zl38.5 102zl47.5 34zl51.5 90zl59.5 117zl60.5 76zl64.5 112zl65.5 13zl88.5 1zl89.5 45zl105.5 53zM312 302.5l-125 64.5zl-95 7.5zl-79-0.5zl-77-64.5zl-73-61.5zl-71-54.5zl-69-8.5zl-67-16.5zl-62 2.5zl-60-12.5zl-59-19.5zl-57-75.5zl-54-33.5zl-54 15.5zl-50-30.5zl-49-109.5zl-44 86.5zl-43 42.5zl-42-34.5zl-38 3.5zl-37 27.5zl-35-3.5zl-31 7.5zl-31 99.5zl-30 3.5zl-26-3.5zl-25 9.5zl-25 20.5zl-24 0.5zl-24 37.5zl-22 16.5zl-21-2.5zl-20 82.5zl-18-5.5zl-18 5.5zl-16 2.5zl-15-0.5zl-14 8.5zl-10 104.5zl-4 6.5zl-4 42.5zl-3 88.5zl0 6.5zl2 3.5zl3 59.5zl4 70.5zl8 29.5zl24 51.5zl35 105.5zl40 47.5zl42-8.5zl44 79.5zl49-9.5zM314.5 297.5l-95.5 18.5zl-90.5 16.5zl-72.5 104.5zl-66.5-57.5zl-66.5 41.5zl-58.5-54.5zl-55.5-26.5zl-55.5-7.5zl-54.5-30.5zl-54.5-28.5zl-54.5 66.5zl-53.5-24.5zl-53.5-23.5zl-53.5 79.5zl-52.5 6.5zl-50.5 19.5zl-49.5-16.5zl-46.5-1.5zl-45.5-16.5zl-43.5-11.5zl-43.5 11.5zl-40.5-28.5zl-40.5 1.5zl-38.5-14.5zl-37.5 32.5zl-36.5 26.5zl-35.5-16.5zl-28.5-2.5zl-28.5 74.5zl-27.5 6.5zl-20.5 8.5zl-17.5-6.5zl-16.5-3.5zl-15.5-1.5zl-9.5 60.5zl-7.5 2.5zl35.5 16.5zl42.5 151.5zl71.5-146.5zl75.5 25.5zl75.5 124.5zM319 308.5l-108 76.5zl-105 46.5zl-99-50.5zl-88-35.5zl-84 77.5zl-83 87.5zl-77 106.5zl-75 27.5zl-70 15.5zl-70 34.5zl-67-49.5zl-55-27.5zl-51 102.5zl-38-31.5zl-29 9.5zl-27 36.5zl-23 126.5zl-17 65.5zl-17 124.5zl-6 145.5zl-3 16.5zl0 3.5zl0 33.5zl1 0.5zl8 80.5zl15 96.5zl18 79.5zl21 3.5zl22 3.5zl23 27.5zl37 77.5zl38 13.5zl42-2.5zl49 22.5zl59 30.5zl73-0.5zl126 28.5zM321.5 293.5l-138.5 9.5zl-109.5-67.5zl-89.5-8.5zl-83.5-33.5zl-83.5 138.5zl-81.5 30.5zl-75.5-53.5zl-75.5-39.5zl-71.5 6.5zl-55.5-15.5zl-55.5-7.5zl-53.5-22.5zl-52.5-6.5zl-48.5-31.5zl-45.5-12.5zl-38.5 8.5zl-31.5-7.5zl-1.5-127.5zl2.5 163.5zl33.5 1.5zl43.5 15.5zl62.5 27.5zl105.5 8.5zM321.5 302l-123.5-24zl-94.5-20zl-91.5 18zl-91.5 130zl-85.5 19zl-84.5-52zl-84.5-26zl-70.5 144zl-67.5-76zl-60.5-50zl-55.5 2zl-53.5 100zl-48.5-39zl-48.5-6zl-47.5 70zl-46.5 0zl-36.5 95zl-29.5 35zl-24.5 84zl-15.5 168zl-11.5 78zl0.5 127zl10.5 45zl25.5-151zl29.5 1zl29.5 16zl33.5 103zl34.5 31zl35.5-6zl36.5-9zl37.5 16zl38.5 17zl42.5-2zl43.5 2zl43.5 100zl44.5 7zl50.5 53zl52.5 6zl54.5 7zl57.5 16zl67.5 13zl69.5-2zl69.5 17zl71.5 27zl112.5 34zM322.5 310.5l-96.5-58.5zl-76.5 78.5zl-68.5 72.5zl-67.5-47.5zl-67.5 135.5zl-65.5 52.5zl-63.5-53.5zl-62.5 49.5zl-56.5 18.5zl-49.5 9.5zl-42.5 83.5zl-28.5 17.5zl-24.5 42.5zl-23.5 94.5zl-17.5 26.5zl-15.5 112.5zl-13.5 51.5zl-11.5 66.5zl-10.5 92.5zl-9.5 22.5zl-7.5 17.5zl-5.5 22.5zl-5.5 116.5zl-4.5 32.5zl-3.5 0.5zl-1.5 6.5zl-0.5 81.5zl1.5 3.5zl2.5 41.5zl3.5 31.5zl4.5 55.5zl8.5-0.5zl9.5 47.5zl13.5 47.5zl13.5 112.5zl14.5 14.5zl15.5 81.5zl16.5 1.5zl18.5 7.5zl18.5 61.5zl19.5-1.5zl19.5 28.5zl22.5 31.5zl22.5 85.5zl23.5 9.5zl27.5 25.5zl27.5 106.5zl28.5 15.5zl29.5 12.5zl32.5 51.5zl35.5 2.5zl40.5 2.5zl45.5 13.5zl48.5 123.5zl50.5-10.5zl50.5 3.5zl52.5 11.5zl56.5 49.5zl58.5 17.5zl60.5 40.5zl109.5 18.5zM323.5 318.5l-94.5 97.5zl-88.5 103.5zl-81.5-44.5zl-80.5 121.5zl-73.5-0.5zl-61.5 99.5zl-46.5-4.5zl-45.5 95.5zl-42.5 68.5zl-41.5 104.5zl-40.5 80.5zl-40.5 87.5zl-34.5-154.5zl-32.5 11.5zl-32.5 37.5zl-30.5 43.5zl-20.5 21.5zl-18.5 27.5zl-18.5 32.5zl-17.5 15.5zl-16.5 19.5zl-16.5 69.5zl-15.5 137.5zl-13.5 3.5zl-12.5 21.5zl-11.5 13.5zl-11.5 14.5zl-11.5 31.5zl-10.5 21.5zl-10.5 46.5zl-9.5 50.5zl-7.5 16.5zl-6.5 9.5zl-5.5 33.5zl-3.5 1.5zl-3.5 19.5zl-3.5 56.5zl-3.5 80.5zl-3.5 130.5zl-2.5-3.5zl-1.5 6.5zl0.5 8.5zl1.5 113.5zl2.5 4.5zl2.5 14.5zl2.5 98.5zl3.5 2.5zl3.5 7.5zl4.5 17.5zl4.5 31.5zl4.5 31.5zl5.5 22.5zl5.5 64.5zl6.5 0.5zl6.5 2.5zl6.5 15.5zl6.5 17.5zl6.5 111.5zl8.5 3.5zl8.5 19.5zl8.5 23.5zl9.5 23.5zl11.5 14.5zl11.5 45.5zl12.5 18.5zl12.5 21.5zl12.5 49.5zl13.5-16.5zl13.5 13.5zl13.5 138.5zl17.5-2.5zl17.5 19.5zl17.5 63.5zl18.5 13.5zl18.5 14.5zl22.5-7.5zl22.5 15.5zl22.5 21.5zl22.5 85.5zl23.5 26.5zl25.5 44.5zl27.5 27.5zl28.5 43.5zl28.5 58.5zl30.5 15.5zl30.5 20.5zl31.5-13.5zl31.5 16.5zl31.5 21.5zl32.5 4.5zl33.5 20.5zl34.5 15.5zl36.5 3.5zl36.5 17.5zl36.5 34.5zl36.5 61.5zl36.5 96.5zl37.5-21.5zl40.5 57.5zl45.5-5.5zl48.5 10.5zl52.5 87.5zl54.5 58.5zl59.5 83.5zl65.5 2.5zl66.5 56.5zl66.5 108.5zl75.5 108.5zl86.5 68.5zM325.5 303.5l-86.5 16.5zl-86.5 81.5zl-69.5-35.5zl-67.5-29.5zl-53.5-22.5zl-15.5 41.5zl-13.5 22.5zl-0.5 46.5zl4.5 158.5zl9.5 3.5zl9.5 8.5zl9.5 8.5zl9.5 40.5zl13.5 11.5zl16.5 12.5zl16.5 29.5zl19.5 72.5zl23.5-1.5zl24.5 15.5zl24.5 29.5zl34.5-6.5zl35.5 16.5zl35.5 17.5zl35.5 148.5zl37.5 4.5zl39.5 4.5zl48.5 136.5zl60.5 23.5zl66.5 43.5zl101.5 13.5zM327 298l-112 107zl-100-39zl-82 112zl-76-54zl-66 0zl-48-6zl-43 134zl-43 148zl-35 150zl8 12zl12 8zl16 18zl16 69zl21-3zl22-2zl24 36zl25 2zl26-2zl29 12zl30 69zl31 7zl34-3zl34 9zl34 34zl41 25zl44 3zl46 1zl46 8zl47 12zl48 16zl50 11zl52 17zl57 79zl65 20zl66 28zM392.5 252l-36.5-95zl-26.5-90zl-26.5-90zl-25.5-110zl-19.5 37zl-16.5-91zl-12.5 40zl-10.5 20zl-10.5 25zl-8.5-74zl-8.5 16zl-8.5 18zl-8.5 29zl-6.5 47zl-3.5 19zl-2.5-54zl-0.5 35zl0.5 31zl1.5-88zl1.5-80zl1.5 68zl4.5 17zl4.5 42zl5.5-41zl6.5-57zl6.5-29zl7.5 23zl9.5-8zl11.5-23zl11.5 34zl14.5-12zl15.5-12zl18.5-77zl21.5-19zl21.5-16zl24.5 14zl25.5-1zl26.5 4zl27.5-28zl28.5 2zl30.5 41zl33.5 10zl33.5 24zl35.5-26zl36.5-14zl37.5-28zl44.5 19zl45.5 43zl47.5-59zl48.5 35zl49.5 1zl50.5-38zl51.5 13zl56.5-10zl65.5 22zl67.5-39zl69.5-42zl75.5 44zl76.5-43zl78.5 1zl95.5 39zM400 254.5l-183-31.5zl-126-63.5zl-121-87.5zl-79-104.5zl-70-111.5zl-61-97.5zl-28-106.5zl-17-66.5zl-14-111.5zl-14 38.5zl-13 10.5zl-13 18.5zl-13 77.5zl-12 28.5zl-12 36.5zl-9 13.5zl-9 53.5zl-8-80.5zl-8 44.5zl-7 52.5zl-3 5.5zl-3 30.5zl-2 62.5zl-1-54.5zl-1 10.5zl0 33.5zl1-104.5zl1-13.5zl1 9.5zl1 26.5zl1 34.5zl1 39.5zl1 41.5zl2 37.5zl3-11.5zl4-14.5zl4-10.5zl4 72.5zl5-36.5zl7-69.5zl7 3.5zl8-3.5zl8-3.5zl9-27.5zl9 6.5zl10-28.5zl10 18.5zl11 30.5zl12-27.5zl13-65.5zl13 35.5zl14-88.5zl14-44.5zl14 17.5zl15-73.5zl15-28.5zl17-38.5zl20 12.5zl20 19.5zl20 27.5zl20 69.5zl21-78.5zl21 10.5zl22 15.5zl22 22.5zl23-23.5zl23 13.5zl23 23.5zl24 28.5zl25 21.5zl25 66.5zl26-22.5zl27 43.5zl28 1.5zl28 3.5zl28 12.5zl29 6.5zl30-62.5zl32 6.5zl33 15.5zl34 10.5zl34 12.5zl36 11.5zl37-21.5zl38 6.5zl39 0.5zl40 49.5zl41-37.5zl41-11.5zl43 29.5zl44-15.5zl48 31.5zl52-24.5zl52 74.5zl53-34.5zl56-23.5zl58-6.5zl63 20.5zl65-30.5zl66-42.5zl73-42.5zl78 45.5zl93 71.5zl101 28.5zl107-12.5z"/>
<path stroke="#E3BD80" stroke-opacity="0.45" d="M309.5 310l-99.5-37zl-87.5-16zl-86.5-27zl-78.5-57zl-77.5 21zl-74.5-45zl-72.5-27zl-72.5-10zl-70.5 58zl-68.5-2zl-67.5-54zl-65.5-27zl-57.5-15zl-56.5-34zl-56.5-12zl-53.5-72zl-53.5 10zl-51.5-24zl-49.5 28zl-48.5-33zl-44.5-11zl-44.5 48zl-43.5 4zl-41.5 128zl-39.5 14zl-38.5-44zl-38.5-41zl-37.5 47zl-36.5-30zl-34.5-3zl-34.5 2zl-34.5 15zl-33.5-23zl-33.5-16zl-33.5-9zl-32.5-36zl-32.5 62zl-30.5 35zl-28.5 22zl-27.5-23zl-26.5 10zl-26.5 16zl-25.5 1zl-23.5 12zl-22.5 29zl-21.5-9zl-19.5 18zl-17.5 14zl-16.5-1zl-15.5 2zl-15.5 2zl-14.5-15zl-14.5 30zl-13.5-6zl-13.5 15zl-13.5 25zl-13.5 129zl-12.5 10zl-12.5 19zl-12.5 41zl-10.5 19zl-8.5 20zl-8.5 25zl-7.5-1zl-7.5 25zl-7.5 53zl-6.5-3zl-6.5 7zl-6.5 24zl-5.5-6zl-4.5 13zl-3.5 1zl-2.5 4zl-2.5 12zl-1.5 11zl-1.5 28zl1.5 10zl2.5-5zl3.5-4zl7.5 134zl38.5 56zl39.5 62zl51.5 62zl67.5 60zl69.5-8zl80.5-12zl100.5 58zl104.5 39zM312 302.5l-115 17.5zl-95-58.5zl-88-59.5zl-82-60.5zl-77-30.5zl-71-20.5zl-69 46.5zl-67-14.5zl-67 130.5zl-60-24.5zl-60 29.5zl-54 105.5zl-51 14.5zl-50-4.5zl-47 87.5zl-45-1.5zl-44 58.5zl-41-24.5zl-41-14.5zl-40-35.5zl-35 140.5zl-32-136.5zl-32 3.5zl-30-12.5zl-29 114.5zl-28-1.5zl-28 1.5zl-27 18.5zl-23 21.5zl-21 0.5zl-21 86.5zl-19 23.5zl-18 1.5zl-18 28.5zl-17 40.5zl-11 28.5zl-9 1.5zl-8 2.5zl-7-2.5zl-7 3.5zl-4 5.5zl4 1.5zl17 150.5zl21 105.5zl21 142.5zl25 79.5zl53 82.5zl56 8.5zl75 108.5zl80 64.5zl81-7.5zM314.5 297.5l-123.5-48.5zl-82.5 8.5zl-73.5-13.5zl-72.5-23.5zl-69.5-42.5zl-68.5-7.5zl-64.5 70.5zl-64.5 104.5zl-58.5 14.5zl-56.5 24.5zl-54.5-51.5zl-50.5 3.5zl-46.5 34.5zl-45.5-23.5zl-44.5 10.5zl-43.5-20.5zl-41.5 44.5zl-40.5-2.5zl-40.5 7.5zl-34.5-15.5zl-32.5 93.5zl-24.5-17.5zl-22.5-11.5zl-21.5 111.5zl-18.5-5.5zl27.5 81.5zl28.5 36.5zl57.5 4.5zM319 308.5l-113 7.5zl-81 100.5zl-73 112.5zl-72 27.5zl-72 43.5zl-63 71.5zl-60-7.5zl-59-41.5zl-58 1.5zl-56-153.5zl-55 40.5zl-50-24.5zl-49-8.5zl-47 37.5zl-46 124.5zl-39 22.5zl-34 9.5zl-31 53.5zl-27 25.5zl-13 38.5zl-13 38.5zl-12 120.5zl-11 11.5zl-8 7.5zl-5 119.5zl-4 6.5zl1 5.5zl2 27.5zl54-2.5zl62 26.5zl80-10.5zl82 39.5zl89 26.5zM321.5 293.5l-109.5 71.5zl-64.5-69.5zl-63.5-31.5zl-59.5-33.5zl-59.5-12.5zl-58.5-118.5zl-54.5-21.5zl-43.5 83.5zl-42.5 45.5zl-30.5 168.5zl-25.5-3.5zl-24.5 150.5zl-23.5 2.5zl-17.5 5.5zl-13.5 101.5zl-13.5 173.5zl5.5 136.5zl14.5-146.5zl27.5 11.5zl29.5 20.5zl31.5 151.5zl39.5 51.5zl39.5 114.5zl44.5 30.5zl49.5 3.5zl50.5 29.5zl59.5 20.5zl120.5 61.5zM321.5 302l-119.5-43zl-84.5-94zl-83.5 91zl-72.5-72zl-70.5-10zl-69.5 95zl-66.5-4zl-64.5-40zl-62.5 119zl-59.5-111zl-57.5 72zl-56.5 81zl-50.5 149zl-45.5 58zl-17.5 110zl-16.5 67zl-11.5 7zl-10.5 43zl-7.5 130zl-2.5 4zl-1.5 40zl7.5 93zl14.5 76zl20.5 94zl20.5 123zl22.5 23zl49.5-9zl51.5 47zl67.5 52zl97.5 62zl149.5 34zM322.5 310.5l-74.5 19.5zl-72.5 53.5zl-69.5 60.5zl-60.5-158.5zl-58.5 90.5zl-53.5 4.5zl-51.5 42.5zl-49.5 99.5zl-37.5 48.5zl-27.5 31.5zl-25.5 106.5zl-23.5 6.5zl-23.5 103.5zl-15.5 37.5zl-15.5 51.5zl-12.5 59.5zl-8.5 1.5zl-3.5 28.5zl-0.5 135.5zl0.5 4.5zl0.5 37.5zl2.5 80.5zl3.5 112.5zl9.5-2.5zl9.5 44.5zl12.5 5.5zl16.5 65.5zl21.5 30.5zl27.5 74.5zl32.5 42.5zl33.5 23.5zl35.5 8.5zl36.5 45.5zl40.5 12.5zl44.5 2.5zl44.5 14.5zl46.5-17.5zl46.5-6.5zl47.5 65.5zl51.5-15.5zl51.5 55.5zl54.5 45.5zl55.5 8.5zl56.5-3.5zl58.5 16.5zl60.5-10.5zl65.5 12.5zl70.5 73.5zl70.5 88.5zl73.5 21.5zl81.5 43.5zM323.5 318.5l-113.5 72.5zl-80.5 79.5zl-68.5-73.5zl-62.5 55.5zl-62.5 78.5zl-57.5 108.5zl-53.5 9.5zl-52.5 61.5zl-46.5 22.5zl-44.5 65.5zl-43.5 133.5zl-40.5 36.5zl-36.5 29.5zl-32.5 23.5zl-27.5 27.5zl-27.5 108.5zl-25.5 10.5zl-23.5 23.5zl-22.5 11.5zl-22.5 149.5zl-14.5 5.5zl-14.5 23.5zl-13.5 47.5zl-12.5 26.5zl-9.5 8.5zl-8.5 132.5zl-6.5 5.5zl-5.5 25.5zl-5.5 83.5zl-4.5 17.5zl-3.5 16.5zl-2.5 8.5zl-1.5 9.5zl-0.5 1.5zl-0.5 48.5zl0.5 6.5zl0.5 9.5zl0.5 12.5zl1.5 11.5zl1.5 14.5zl1.5 16.5zl1.5 55.5zl2.5 18.5zl2.5 21.5zl3.5 9.5zl3.5 40.5zl4.5-0.5zl5.5 23.5zl5.5 30.5zl5.5 33.5zl6.5-3.5zl6.5-0.5zl6.5 22.5zl8.5-0.5zl8.5 107.5zl8.5 119.5zl11.5 71.5zl14.5 43.5zl15.5 13.5zl15.5 19.5zl17.5 12.5zl17.5 18.5zl17.5 101.5zl18.5 86.5zl19.5 2.5zl19.5 8.5zl20.5 13.5zl23.5-0.5zl25.5 22.5zl26.5 13.5zl28.5 11.5zl28.5 124.5zl33.5 14.5zl33.5 104.5zl34.5-0.5zl41.5 8.5zl41.5 12.5zl42.5 36.5zl44.5-0.5zl49.5 5.5zl50.5-14.5zl50.5 55.5zl51.5 27.5zl52.5 44.5zl54.5 81.5zl55.5 84.5zl56.5 35.5zl58.5 60.5zl62.5 32.5zl66.5-16.5zl69.5 15.5zM325.5 303.5l-109.5 112.5zl-87.5 115.5zl-73.5-43.5zl-66.5-43.5zl-65.5-114.5zl-58.5-14.5zl-57.5-130.5zl-56.5 95.5zl-51.5 50.5zl-49.5-37.5zl-48.5-166.5zl-36.5-14.5zl-36.5 109.5zl-15.5 17.5zl-14.5 45.5zl0.5 74.5zl8.5 7.5zl20.5-4.5zl21.5 5.5zl21.5 6.5zl24.5 8.5zl24.5 10.5zl25.5 10.5zl25.5 13.5zl28.5 5.5zl30.5 14.5zl30.5 19.5zl33.5 8.5zl40.5 23.5zl47.5-4.5zl47.5 86.5zl53.5 6.5zl58.5 16.5zl60.5 12.5zl60.5 66.5zl71.5 19.5zl75.5 62.5zl77.5 74.5zl81.5 43.5zl101.5 25.5zl119.5 82.5zl170.5 21.5zM327 298l-116 49zl-104-47zl-100 21zl-96 57zl-91-40zl-88-63zl-71-17zl-69-55zl-57-144zl-50-22zl-50 91zl-44-118zl-33 39zl-28 65zl-27 102zl-21 44zl-15 165zl-5 103zl8 6zl9 6zl12 136zl20 12zl27 7zl28 28zl29 7zl36-2zl40 13zl48 38zl50 5zl50 29zl52 111zl57 7zl96 19zl125 74zM392.5 252l-62.5-95zl-33.5-79zl-17.5 32zl-13.5 31zl-12.5-97zl-7.5 45zl-6.5 15zl-6.5 50zl-5.5 23zl-3.5 48zl-2.5-99zl-1.5-61zl0.5-86zl0.5-82zl0.5 50zl9.5-77zl9.5-57zl9.5-18zl9.5 25zl9.5 38zl9.5 47zl11.5 40zl14.5-59zl14.5-27zl14.5-22zl15.5 67zl17.5-32zl17.5-21zl17.5-21zl17.5 56zl17.5 150zl19.5 40zl21.5-27zl22.5-86zl22.5 23zl23.5-48zl23.5 31zl26.5 25zl27.5 59zl28.5-17zl29.5 62zl30.5-57zl31.5-46zl33.5-48zl34.5-33zl34.5 37zl35.5 7zl36.5-31zl36.5-4zl45.5-51zl45.5-3zl46.5 1zl47.5-15zl48.5-77zl54.5 11zl55.5 73zl68.5 59zl69.5-79zl75.5 23zl82.5-33zl89.5 30zl102.5-72zl107.5-56zl109.5-1zM400 254.5l-60-122.5zl-34-78.5zl-32 52.5zl-31 32.5zl-21 34.5zl-19-78.5zl-19 20.5zl-18 33.5zl-15 40.5zl-13 41.5zl-13 48.5zl-12-107.5zl-11 35.5zl-10-103.5zl-8 8.5zl-8 25.5zl-8 58.5zl-7-68.5zl-6 51.5zl-6 52.5zl-3 4.5zl-3 51.5zl-2 36.5zl0-101.5zl0 21.5zl0 24.5zl1-28.5zl1-21.5zl1 5.5zl2-11.5zl2 3.5zl2 58.5zl3-13.5zl4 4.5zl5-9.5zl5 4.5zl6-59.5zl6 28.5zl7 36.5zl8-42.5zl8 47.5zl9 3.5zl9 36.5zl10 8.5zl10 33.5zl10 36.5zl11-46.5zl11-13.5zl11 13.5zl11 19.5zl12 12.5zl13-2.5zl14-4.5zl14 22.5zl15-34.5zl15 18.5zl17-73.5zl17-0.5zl18 78.5zl19 7.5zl20-10.5zl22-40.5zl22 14.5zl24-8.5zl24 9.5zl25 25.5zl26-10.5zl29 3.5zl31-41.5zl31-16.5zl31 1.5zl32-8.5zl32 3.5zl32 14.5zl33 0.5zl33 10.5zl34-24.5zl34 3.5zl34 50.5zl36-22.5zl37-21.5zl38 7.5zl39-36.5zl39-6.5zl40 6.5zl41-33.5zl41-11.5zl43-60.5zl43-8.5zl43-4.5zl49-19.5zl49 43.5zl57 24.5zl57 46.5zl58 6.5zl62-10.5zl66-80.5zl71-28.5zl72 47.5zl73 103.5zl75 36.5zl78 60.5zl113 33.5z"/>
<path stroke="#E3BD80" stroke-opacity="0.45" d="M309.5 310l-103.5-24zl-100.5-11zl-87.5 57zl-74.5-42zl-58.5-28zl-53.5 42zl-53.5 76zl-52.5 33zl-49.5-14zl-45.5-3zl-45.5 67zl-42.5 7zl-36.5 80zl-35.5 10zl-35.5 12zl-35.5 126zl-34.5 153zl-31.5 11zl-30.5 17zl-29.5-8zl-29.5 25zl-27.5 2zl-26.5 2zl-25.5-9zl-24.5-6zl-24.5 28zl-22.5-29zl-22.5-26zl-19.5-18zl-19.5-1zl-17.5-17zl-17.5-13zl-16.5 29zl-15.5-166zl-14.5 144zl-11.5 13zl-9.5-1zl-9.5 24zl-9.5 138zl-8.5 3zl-7.5-12zl-7.5 12zl-7.5 15zl-6.5 30zl-4.5 26zl-3.5 16zl-3.5 36zl-2.5 6zl-1.5 3zl-1.5 5zl0.5 7zl0.5 22zl2.5 5zl3.5 12zl10.5 80zl11.5 45zl17.5 70zl21.5 66zl22.5 38zl27.5 15zl28.5 116zl30.5 57zl46.5 128zl61.5-6zl63.5 52zl64.5 5zl105.5 84zM312 302.5l-93-47.5zl-90-25.5zl-81-55.5zl-80-79.5zl-79 94.5zl-75-22.5zl-63 24.5zl-60 58.5zl-56 140.5zl-49-1.5zl-49 28.5zl-48-50.5zl-44 6.5zl-44 37.5zl-42 14.5zl-41 160.5zl-39-165.5zl-39-14.5zl-39-11.5zl-39 92.5zl-38 8.5zl-35 92.5zl-34-18.5zl-34 0.5zl-31-3.5zl-31 107.5zl-29 16.5zl-26 7.5zl-26 24.5zl-24 8.5zl-22-6.5zl-22 12.5zl-22 129.5zl-20 33.5zl-19-10.5zl-17 24.5zl-16-9.5zl-15 2.5zl-11-5.5zl-8-0.5zl-7-3.5zl-7-1.5zl-1 4.5zl9-138.5zl27 110.5zl38 150.5zl49-165.5zl75 78.5zl79 88.5zl99 30.5zM314.5 297.5l-100.5 83.5zl-91.5-76.5zl-72.5-3.5zl-70.5 19.5zl-66.5-25.5zl-65.5-123.5zl-62.5 144.5zl-61.5-66.5zl-57.5-51.5zl-57.5-5.5zl-55.5-35.5zl-47.5-46.5zl-47.5-35.5zl-45.5-23.5zl-42.5-30.5zl-42.5 17.5zl-39.5 155.5zl-38.5 86.5zl-35.5-10.5zl-22.5-10.5zl-19.5-4.5zl-16.5-1.5zl-13.5 3.5zl-11.5 1.5zl-3.5 109.5zl2.5 29.5zl21.5 6.5zl28.5-164.5zl35.5 34.5zl40.5 113.5zl48.5-3.5zl50.5-3.5zl68.5 147.5zl76.5 8.5zl87.5 7.5zM319 308.5l-128 38.5zl-106 13.5zl-106 100.5zl-91 73.5zl-87-50.5zl-83 95.5zl-79-42.5zl-79 3.5zl-79 43.5zl-77 114.5zl-70-10.5zl-66 120.5zl-60 147.5zl-57-14.5zl-56 117.5zl-48 97.5zl-45 98.5zl-42-36.5zl-35 29.5zl-35 152.5zl-30 107.5zl-22 27.5zl-22 32.5zl-22 33.5zl-14 12.5zl-7 14.5zl0 56.5zl5 45.5zl6 117.5zl7 138.5zl23 48.5zl25-8.5zl26 118.5zl28-6.5zl30 39.5zl39 14.5zl45 61.5zl46 23.5zl46 33.5zl49-8.5zl49 83.5zl55 12.5zl58 20.5zl62 6.5zl77 9.5zM321.5 293.5l-128.5 19.5zl-74.5 73.5zl-71.5-9.5zl-65.5-62.5zl-63.5-44.5zl-47.5 28.5zl-47.5 127.5zl-38.5-18.5zl-23.5-153.5zl35.5 8.5zl41.5 132.5zl66.5 28.5zl81.5 39.5zl88.5 36.5zM321.5 302l-108.5 76zl-101.5 95zl-87.5-52zl-80.5-18zl-79.5 29zl-70.5-85zl-70.5-23zl-68.5 91zl-45.5 2zl-45.5 23zl-43.5-28zl-23.5 37zl-13.5 109zl-8.5 57zl-2.5 133zl14.5 1zl20.5 48zl34.5 38zl34.5 113zl39.5 32zl41.5-5zl56.5 13zl59.5 20zl65.5 75zl74.5 78zM322.5 310.5l-138.5 38.5zl-130.5 13.5zl-116.5-75.5zl-98.5 89.5zl-93.5 118.5zl-78.5 44.5zl-70.5-22.5zl-70.5 127.5zl-68.5-62.5zl-59.5-19.5zl-59.5-0.5zl-57.5 51.5zl-55.5-14.5zl-43.5 39.5zl-42.5 128.5zl-36.5 4.5zl-17.5 127.5zl-16.5-161.5zl-12.5 19.5zl-7.5 70.5zl-6.5-159.5zl-5.5 112.5zl-4.5 29.5zl-1.5 1.5zl-0.5 22.5zl2.5 42.5zl8.5 61.5zl11.5 34.5zl18.5 25.5zl18.5 35.5zl30.5 7.5zl30.5 7.5zl30.5 17.5zl36.5 2.5zl37.5 13.5zl37.5 78.5zl38.5 14.5zl40.5 0.5zl42.5-2.5zl42.5-0.5zl46.5 56.5zl49.5 61.5zl69.5 3.5zl75.5 32.5zl89.5-127.5zl92.5 104.5zM323.5 318.5l-118.5 24.5zl-92.5 68.5zl-62.5 63.5zl-49.5 94.5zl-48.5 30.5zl-40.5 48.5zl-38.5 43.5zl-34.5 19.5zl-34.5 48.5zl-31.5 51.5zl-29.5 46.5zl-27.5 10.5zl-24.5 74.5zl-18.5 19.5zl-17.5 8.5zl-16.5 34.5zl-15.5 20.5zl-14.5 9.5zl-14.5 16.5zl-13.5 15.5zl-13.5 28.5zl-13.5 29.5zl-12.5 8.5zl-12.5 9.5zl-11.5 54.5zl-10.5 5.5zl-9.5 27.5zl-8.5 11.5zl-8.5 26.5zl-6.5 15.5zl-5.5 4.5zl-4.5 11.5zl-4.5 14.5zl-3.5 58.5zl-2.5 2.5zl-2.5 18.5zl-2.5 42.5zl-1.5 14.5zl-1.5 50.5zl-0.5-2.5zl0.5-2.5zl0.5 7.5zl1.5 6.5zl1.5 27.5zl1.5 28.5zl1.5 89.5zl2.5 21.5zl2.5 45.5zl3.5 6.5zl3.5 12.5zl4.5 5.5zl4.5 86.5zl5.5 20.5zl5.5 23.5zl6.5 8.5zl6.5 12.5zl6.5 21.5zl6.5 33.5zl6.5 42.5zl7.5 0.5zl7.5 28.5zl8.5 5.5zl8.5 7.5zl9.5 6.5zl9.5 21.5zl10.5 2.5zl10.5 6.5zl11.5 16.5zl11.5 62.5zl12.5 15.5zl12.5 28.5zl12.5 32.5zl13.5 11.5zl14.5 14.5zl16.5 68.5zl17.5 1.5zl17.5 9.5zl18.5 11.5zl20.5 9.5zl20.5 82.5zl22.5 4.5zl22.5 14.5zl22.5 45.5zl23.5 0.5zl25.5-3.5zl25.5 22.5zl26.5 34.5zl26.5 86.5zl27.5-6.5zl27.5 5.5zl31.5 80.5zl32.5-0.5zl32.5 7.5zl36.5 7.5zl37.5 57.5zl40.5 6.5zl41.5-7.5zl42.5 119.5zl44.5 9.5zl45.5 41.5zl47.5 25.5zl48.5 5.5zl48.5 23.5zl56.5-6.5zl59.5 14.5zl60.5-23.5zl74.5-2.5zl94.5 30.5zl117.5 45.5zM325.5 303.5l-93.5 104.5zl-56.5 149.5zl-55.5 17.5zl-46.5 3.5zl-42.5 75.5zl-25.5 34.5zl-25.5 54.5zl-13.5 124.5zl1.5 9.5zl2.5 145.5zl6.5 2.5zl6.5 116.5zl14.5 8.5zl16.5 15.5zl23.5 12.5zl25.5-171.5zl25.5 7.5zl26.5 14.5zl26.5 21.5zl26.5 22.5zl31.5 90.5zl34.5-6.5zl35.5 11.5zl37.5 21.5zl41.5-3.5zl42.5-16.5zl42.5 9.5zl45.5 96.5zl46.5-6.5zl47.5-15.5zl54.5 12.5zl55.5 6.5zl60.5-5.5zl77.5-5.5zM327 298l-101 78zl-92 65zl-89-1zl-89 90zl-83 25zl-76 77zl-62 109zl-48-136zl-42 47zl-41-12zl-12 91zl-6-134zl1 142zl4 6zl4 114zl7 7zl11 10zl13 13zl18 13zl19 13zl20 5zl20 119zl22-1zl27 15zl28-3zl28 4zl28 32zl29-6zl29 27zl29 38zl34 3zl36 39zl36 69zl37-5zl37-5zl38 118zl50 26zl54 73zl55 6zl55 11zl56 21zl62 44zl66 65zl69 10zM392.5 252l-124.5-70zl-52.5-115zl-50.5-96zl-44.5-125zl-40.5-107zl-28.5-90zl-28.5 142zl-19.5-83zl-18.5-85zl-17.5 46zl-17.5 46zl-17.5 50zl-15.5-112zl-13.5 39zl-12.5 21zl-12.5 27zl-12.5 52zl-10.5 17zl-9.5-96zl-8.5 60zl-6.5 41zl-5.5-63zl-5.5 21zl-4.5 17zl-3.5 18zl-1.5-51zl-0.5 24zl-0.5 30zl-0.5 33zl-0.5 38zl-0.5 39zl1.5 9zl5.5 34zl8.5-59zl8.5-51zl8.5-50zl8.5-40zl8.5-34zl8.5 47zl13.5-36zl14.5-20zl14.5 88zl15.5-50zl16.5-75zl19.5-10zl25.5-20zl26.5-9zl27.5 45zl29.5 27zl30.5 30zl32.5 5zl33.5-69zl34.5-46zl35.5-44zl35.5 141zl39.5 11zl44.5-36zl46.5-20zl49.5-46zl51.5 99zl53.5-14zl62.5 16zl65.5-72zl79.5-56zM400 254.5l-110-99.5zl-62-93.5zl-60-94.5zl-59-119.5zl-31-84.5zl-29 38.5zl-28-79.5zl-25-78.5zl-25 34.5zl-22 22.5zl-21-81.5zl-17 66.5zl-15 60.5zl-14 26.5zl-14 33.5zl-13 21.5zl-12 34.5zl-12 61.5zl-11 19.5zl-8 9.5zl-8 83.5zl-7 33.5zl-7 38.5zl-5 9.5zl-5 29.5zl-3 28.5zl-1 18.5zl-1 39.5zl0 3.5zl0 18.5zl0 45.5zl1-4.5zl1 30.5zl1 44.5zl2-2.5zl4-42.5zl4-31.5zl4 40.5zl4 63.5zl5-0.5zl5 58.5zl6-73.5zl6-15.5zl7-78.5zl7-76.5zl7-18.5zl7-1.5zl7 29.5zl8-15.5zl8 17.5zl8 50.5zl9-10.5zl9 58.5zl10 17.5zl11-70.5zl11-43.5zl11 2.5zl11 22.5zl12-35.5zl12-0.5zl12 31.5zl13 41.5zl14-37.5zl14-13.5zl14-11.5zl14 1.5zl14 56.5zl16-0.5zl16 15.5zl16 17.5zl17 23.5zl19 30.5zl20-23.5zl20-14.5zl20-1.5zl20 10.5zl22-52.5zl22-30.5zl22 20.5zl25-44.5zl26 9.5zl26 21.5zl28-60.5zl28-34.5zl29-20.5zl31-5.5zl32-11.5zl32-6.5zl34-20.5zl34 67.5zl35 8.5zl37 4.5zl39 7.5zl39 26.5zl40-19.5zl41-11.5zl42 25.5zl43 1.5zl43 22.5zl44-2.5zl45-35.5zl46-18.5zl51-10.5zl53 93.5zl55-43.5zl58 38.5zl59 11.5zl60-16.5zl62 29.5zl70 46.5zl86 40.5zl90-56.5z"/>
<path stroke="#0C84AC" stroke-opacity="0.36" d="M245.5 218l-143.5 22zl-141.5-11zl-131.5-8zl-129.5 37zl-127.5 65zl-123.5 62zl-120.5-42zl-119.5 54zl-118.5-68zl-118.5 47zl-117.5-15zl-114.5 17zl-114.5 73zl-111.5 11zl-109.5-21zl-108.5-36zl-106.5-55zl-106.5 30zl-105.5-1zl-104.5-67zl-103.5-31zl-103.5 9zl-103.5 39zl-103.5 55zl-100.5-65zl-97.5 4zl-95.5 45zl-93.5 18zl-93.5 66zl-83.5-51zl-82.5-23zl-80.5-9zl-80.5 62zl-79.5-29zl-79.5 6zl-78.5-19zl-78.5 65zl-76.5-24zl-74.5 28zl-72.5 56zl-67.5 33zl-65.5-48zl-64.5 15zl-60.5-11zl-57.5 34zl-54.5-16zl-46.5-151zl-46.5 33zl-43.5-37zl-41.5 26zl-40.5 10zl-37.5 61zl-35.5-12zl-34.5-170zl-34.5-44zl-33.5-29zl-28.5-4zl-26.5-143zl-26.5 78zl-25.5-1zl-24.5-21zl-23.5-5zl-22.5-24zl-22.5-13zl-21.5 11zl-19.5-34zl-15.5-3zl-12.5-14zl-12.5 11zl-11.5 50zl-10.5-87zl-10.5-61zl-10.5-43zl-9.5-12zl-9.5-11zl-8.5 13zl-8.5 27zl-6.5 31zl-3.5-38zl-2.5 33zl-1.5-39zl2.5-52zl3.5 80zl7.5-44zl7.5-4zl9.5-160zl10.5-35zl10.5-15zl11.5-57zl14.5 30zl16.5 35zl17.5-61zl24.5 78zl29.5-25zl34.5 54zl35.5 92zM322 159.5l-101-6.5zl-78-11.5zl-75-84.5zl-62-38.5zl-52 0.5zl-48-11.5zl-47 9.5zl-45-52.5zl-45-9.5zl-42-2.5zl-38-19.5zl-36-9.5zl-35 2.5zl-33-139.5zl-29 0.5zl-28-139.5zl-28-48.5zl-26-71.5zl-25-60.5zl-25-30.5zl-25 6.5zl-24-123.5zl-21-30.5zl-21-12.5zl-21 12.5zl-20-36.5zl-18-111.5zl-18-4.5zl-17-105.5zl-17-9.5zl-14-11.5zl-12-151.5zl-12-21.5zl-11-32.5zl-10-62.5zl-10-7.5zl-10-4.5zl-10-4.5zl-6-12.5zl-5-1.5zl-4-114.5zl-4-10.5zl-4-7.5zl0-6.5zl3-19.5zl9-144.5zl14-149.5zl17-106.5zl59-119.5zl63-119.5zl66-69.5zl86-125.5zl95-96.5zM324 164.5l-176-31.5zl-166 12.5zl-93-128.5zl-77-109.5zl-65-102.5zl-55-146.5zl-52-114.5zl-52-58.5zl-52-30.5zl-50-100.5zl-47-27.5zl-40-51.5zl-38-4.5zl-37-114.5zl-31-43.5zl-30-1.5zl-30-1.5zl-29 6.5zl-27-8.5zl-26-73.5zl-20-17.5zl-20-7.5zl-20-2.5zl-20-0.5zl-18-0.5zl-12-10.5zl-9-32.5zl-9-20.5zl-8-132.5zl-7-2.5zl20-91.5zl29-150.5zl70-19.5zl80-135.5zl80-122.5zl90-64.5zl94-128.5zl105-48.5zM329 165l-91-76zl-86-111zl-79-63zl-73-119zl-63 20zl-59-13zl-51-15zl-35-16zl-11-116zl-9-146zl-1-84zl2-7zl4-62zl23-58zl42-117zl50-137zl56-100zl61-35zl70-98zl79-115zl91-47zl93-34zl97-100zl184-16zM330.5 148.5l-210.5 75.5zl-96.5-109.5zl-75.5-27.5zl-71.5-93.5zl-68.5-93.5zl-68.5-72.5zl-62.5-62.5zl-52.5 1.5zl-50.5-91.5zl-49.5-98.5zl-48.5-10.5zl-47.5-58.5zl-41.5-88.5zl-41.5-11.5zl-38.5-107.5zl-37.5-16.5zl-35.5-32.5zl-35.5-2.5zl-34.5-84.5zl-32.5-21.5zl-31.5-48.5zl-31.5-10.5zl-29.5-19.5zl-25.5-53.5zl-23.5-25.5zl-22.5-27.5zl-20.5-95.5zl-20.5-81.5zl-20.5-14.5zl-19.5-42.5zl-19.5-29.5zl-19.5-25.5zl-18.5-117.5zl-17.5-120.5zl-17.5-14.5zl-15.5-15.5zl-14.5 1.5zl-11.5-17.5zl-9.5-74.5zl-9.5-46.5zl-8.5-55.5zl-8.5-28.5zl-6.5-117.5zl-6.5-21.5zl-5.5-15.5zl-5.5 2.5zl-1.5-54.5zl-0.5-12.5zl-0.5-8.5zl0.5-108.5zl0.5-33.5zl1.5-5.5zl3.5-12.5zl4.5-129.5zl4.5-42.5zl4.5 2.5zl5.5-22.5zl5.5-9.5zl7.5-67.5zl7.5-2.5zl9.5-110.5zl10.5-58.5zl10.5-16.5zl11.5-103.5zl11.5-91.5zl12.5-19.5zl12.5-18.5zl18.5-26.5zl19.5-36.5zl21.5-85.5zl23.5-62.5zl32.5-75.5zl32.5-14.5zl36.5-91.5zl36.5-16.5zl55.5-30.5zl67.5-53.5zl77.5-94.5zl88.5-103.5zl99.5-83.5zl104.5-28.5zM336 168.5l-225 87.5zl-179 4.5zl-88-59.5zl-57 13.5zl-34-79.5zl-33-160.5zl-30-116.5zl-30-98.5zl6-151.5zl6-85.5zl8-107.5zl26-98.5zl35-110.5zl47-125.5zl48-23.5zl54-102.5zl59-25.5zl67-5.5zl70-82.5zl91-62.5zM345.5 149.5l-130.5-90.5zl-120.5-75.5zl-94.5-118.5zl-90.5-110.5zl-74.5-3.5zl-67.5-15.5zl-67.5 12.5zl-66.5-77.5zl-49.5-110.5zl-49.5-89.5zl-46.5-124.5zl-46.5-102.5zl-45.5-46.5zl-44.5-131.5zl-43.5-128.5zl-36.5-64.5zl-33.5-136.5zl-28.5-72.5zl-26.5-15.5zl-21.5-30.5zl-20.5-46.5zl-18.5-30.5zl-14.5-19.5zl-9.5-23.5zl-8.5-23.5zl-3.5-15.5zl-3.5-4.5zl-3.5 6.5zl-2.5-25.5zl-2.5 2.5zl-0.5-94.5zl-0.5-27.5zl-0.5-14.5zl-0.5 1.5zl0.5-16.5zl0.5-15.5zl1.5-63.5zl2.5-4.5zl2.5-3.5zl3.5-10.5zl3.5 9.5zl4.5-74.5zl4.5 1.5zl4.5 3.5zl5.5-0.5zl5.5 11.5zl7.5-36.5zl7.5 1.5zl9.5-104.5zl9.5-57.5zl9.5-1.5zl10.5-21.5zl11.5-71.5zl11.5-54.5zl11.5-19.5zl12.5-25.5zl12.5-21.5zl12.5-7.5zl12.5 4.5zl13.5-96.5zl13.5-47.5zl13.5 6.5zl14.5-1.5zl15.5 14.5zl16.5 4.5zl18.5-37.5zl18.5-7.5zl20.5-75.5zl20.5-28.5zl21.5-4.5zl24.5 4.5zl26.5-30.5zl27.5-7.5zl28.5-92.5zl32.5-15.5zl33.5-50.5zl34.5-27.5zl35.5-3.5zl37.5-33.5zl38.5-23.5zl44.5-11.5zl45.5-27.5zl49.5-115.5zl50.5-23.5zl54.5-35.5zl69.5-107.5zl81.5-20.5zl84.5-54.5zl85.5-70.5zl87.5-67.5zl103.5-37.5zM361.5 278.5l-65.5 35.5zl-18.5 56.5zl-3.5 28.5zl10.5 146.5zM377 189l-235-33zl-35-113zl-15-16zl-6-15zl-3-9zl3-13zl6-26zl10-31zl10-23zl11-43zl11-20zl11-8zl13-18zl14-46zl14 15zl17-42zl18-31zl19-41zl20-6zl20-1zl20 12zl21 16zl21 28zl22-23zl23-7zl24 0zl24 3zl24 11zl25-44zl25-12zl25 13zl26-55zl26 13zl26 32zl28-37zl28-2zl28 22zl30-6zl32 10zl32 16zl33-6zl35-67zl35-15zl38-17zl41 25zl43-16zl45 5zl47-66zl48 7zl56 9zl57-6zl58 0zl67-134zl78-34zl87-32zl90-7zl112-57zl112-26zl124 13zM391 297l-109 26zl-77 29zl-12-8zl-12-6zl-4-7zl0-23zl1-3zl24 74zl73-95zl76 50zl102 13zM393.5 306.5l-52.5 12.5zl-35.5 54.5zl-15.5 0.5zl-15.5 2.5zl-10.5-21.5zl-8.5 1.5zl-6.5 2.5zl-1.5 7.5zl0.5 4.5zl7.5 3.5zl19.5 52.5zl40.5 80.5zl43.5 85.5zl44.5 96.5zl69.5 89.5zl95.5-153.5zM407.5 256l-18.5 16zl-9.5 2zl-8.5 10zl-7.5-36zl-3.5-22zl-2.5-38zl-2.5 9zl-0.5-33zl0.5-36zl0.5-22zl0.5-14zl1.5 8zl2.5-42zl2.5-12zl3.5-2zl4.5-28zl5.5-18zl5.5-1zl5.5 3zl5.5 14zl7.5 8zl9.5-33zl9.5 20zl10.5-62zl10.5 9zl12.5-1zl13.5-19zl13.5-10zl15.5-62zl15.5 8zl15.5 10zl18.5 16zl19.5-48zl23.5-71zl23.5-21zl24.5-3zl24.5 4zl25.5 14zl28.5-49zl28.5-44zl29.5-6zl31.5-46zl31.5-37zl33.5-39zl33.5 1zl33.5 38zl37.5 152zl40.5-28zl44.5-54zl44.5-43zl50.5-73zl61.5 25zl62.5-18zl66.5-58zl68.5 2zl82.5 84z"/>
<path stroke="#0C84AC" stroke-opacity="0.36" d="M245.5 218l-147.5-4zl-132.5 63zl-129.5-37zl-128.5-31zl-128.5-4zl-126.5-28zl-125.5 40zl-124.5-71zl-124.5-49zl-123.5-74zl-123.5 14zl-122.5 0zl-121.5 23zl-120.5 4zl-115.5-2zl-114.5 26zl-109.5-15zl-98.5-41zl-98.5 12zl-97.5 9zl-95.5-44zl-94.5 3zl-94.5 39zl-92.5-26zl-92.5 23zl-91.5-22zl-89.5-19zl-87.5 1zl-85.5-31zl-85.5 42zl-84.5 48zl-75.5-14zl-75.5 77zl-74.5 67zl-70.5 66zl-64.5 21zl-63.5-39zl-62.5-18zl-60.5 6zl-59.5 27zl-57.5 43zl-55.5-29zl-45.5 22zl-45.5 26zl-40.5-14zl-36.5-21zl-33.5 13zl-32.5-13zl-30.5-3zl-27.5 31zl-26.5-25zl-25.5-30zl-25.5 2zl-22.5-32zl-21.5-9zl-19.5 32zl-13.5 13zl-12.5-10zl-11.5 39zl-10.5-13zl-9.5-31zl-8.5-34zl-8.5 25zl-6.5 49zl-5.5 23zl-2.5 9zl-1.5 48zl-0.5-34zl1.5-55zl1.5-30zl1.5 92zl7.5-52zl8.5-49zl8.5-44zl10.5 7zl12.5-38zl12.5-33zl13.5-29zl14.5-159zl14.5 38zl14.5 61zl19.5-23zl23.5 72zl23.5 72zl28.5-31zl31.5-44zl31.5 55zl31.5 58zl33.5-40zl247.5-89zM322 159.5l-86-46.5zl-80-63.5zl-71-49.5zl-70-69.5zl-67-30.5zl-58-29.5zl-56-104.5zl-55-53.5zl-54-29.5zl-42-19.5zl-41-0.5zl-30-45.5zl-29-34.5zl-29-6.5zl-28 11.5zl-27-143.5zl-27-20.5zl-26-8.5zl-25-91.5zl-25-1.5zl-25 10.5zl-24-105.5zl-22-10.5zl-20-16.5zl-17 1.5zl-16-133.5zl-16 5.5zl-15-93.5zl-15-1.5zl-14 1.5zl-11-19.5zl-10-69.5zl-9-28.5zl-8-65.5zl-8-3.5zl-5-32.5zl-4-10.5zl-2 0.5zl-1-45.5zl-1-35.5zl2-85.5zl2-33.5zl2-11.5zl10-68.5zl27-128.5zl36-101.5zl91-109.5zl113-85.5zl127-80.5zM324 164.5l-74-82.5zl-56-55.5zl-54-2.5zl-49-114.5zl-46-24.5zl-44-49.5zl-43-85.5zl-42 9.5zl-40 5.5zl-39-15.5zl-38-32.5zl-38-24.5zl-38-17.5zl-35-101.5zl-33 3.5zl-32-99.5zl-31-130.5zl-25-1.5zl-22-112.5zl-20 4.5zl-16-1.5zl-13-1.5zl-11-9.5zl-3-13.5zl-1-103.5zl0-52.5zl4-2.5zl8-102.5zl12-43.5zl32-111.5zl48-154.5zl69-58.5zM329 165l-105-116zl-80-52zl-66-79zl-60-49zl-46-3zl-44-84zl-35-68zl-30-114zl-30 2zl-18-42zl-1-4zl29-123zl59-120zl87-52zl103-102zl146-48zl162-21zM330.5 148.5l-109.5-109.5zl-95.5-99.5zl-92.5-21.5zl-89.5-20.5zl-82.5-100.5zl-77.5-45.5zl-71.5-125.5zl-65.5-73.5zl-62.5-110.5zl-52.5-9.5zl-50.5 10.5zl-44.5-17.5zl-43.5-11.5zl-43.5-2.5zl-39.5-93.5zl-37.5-67.5zl-29.5-30.5zl-29.5 10.5zl-26.5-89.5zl-25.5-30.5zl-21.5-22.5zl-18.5-70.5zl-18.5-3.5zl-17.5-21.5zl-17.5-17.5zl-16.5-94.5zl-16.5-48.5zl-15.5-143.5zl-15.5-45.5zl-14.5-6.5zl-13.5-76.5zl-13.5-27.5zl-13.5-3.5zl-10.5-14.5zl-8.5-18.5zl-8.5-3.5zl-5.5-8.5zl-4.5-18.5zl-4.5 4.5zl-3.5-17.5zl-2.5-104.5zl-2.5-14.5zl0.5-20.5zl2.5 4.5zl3.5-31.5zl4.5-27.5zl5.5-21.5zl5.5-8.5zl6.5-26.5zl7.5-8.5zl11.5-22.5zl15.5-67.5zl20.5-26.5zl21.5-56.5zl24.5-123.5zl28.5-18.5zl29.5-81.5zl35.5-58.5zl35.5-51.5zl37.5-80.5zl39.5-68.5zl39.5 12.5zl41.5-97.5zl41.5-62.5zl43.5-107.5zl43.5-66.5zl50.5-90.5zl51.5-93.5zl51.5-13.5zl71.5-103.5zl84.5-59.5zl91.5-41.5zM336 168.5l-236 80.5zl-82-20.5zl-76-141.5zl-69-118.5zl-66-45.5zl-31-89.5zl-19-83.5zl-18-51.5zl-17-132.5zl8-2.5zl9-155.5zl17-4.5zl26-129.5zl42-20.5zl45-146.5zl87-90.5zl93-34.5zl116 38.5zl117-97.5zl152-60.5zM345.5 149.5l-120.5-110.5zl-66.5-62.5zl-39.5-23.5zl-38.5-49.5zl-36.5-105.5zl-33.5-101.5zl-33.5-34.5zl-30.5-52.5zl-26.5-125.5zl-12.5-95.5zl-11.5-25.5zl-10.5-126.5zl-9.5-9.5zl-9.5-8.5zl-8.5-117.5zl-7.5-8.5zl-4.5-14.5zl-1.5-5.5zl-0.5-28.5zl-0.5-11.5zl0.5-29.5zl0.5-0.5zl0.5 5.5zl1.5-19.5zl2.5-23.5zl3.5-26.5zl4.5-68.5zl4.5-24.5zl4.5-2.5zl5.5-22.5zl5.5-6.5zl5.5-4.5zl5.5 12.5zl6.5-2.5zl7.5-128.5zl8.5-32.5zl9.5-60.5zl9.5-40.5zl9.5-22.5zl10.5-27.5zl10.5-8.5zl10.5-2.5zl11.5-29.5zl11.5-2.5zl12.5-84.5zl12.5-15.5zl13.5-7.5zl13.5-1.5zl15.5-11.5zl15.5-0.5zl17.5-64.5zl17.5-12.5zl18.5-17.5zl20.5-101.5zl21.5-24.5zl21.5-3.5zl21.5 1.5zl21.5 10.5zl23.5-11.5zl23.5-9.5zl27.5-37.5zl27.5 5.5zl29.5-24.5zl32.5-45.5zl32.5-30.5zl32.5-10.5zl33.5-8.5zl34.5 1.5zl36.5 0.5zl37.5-39.5zl37.5-20.5zl37.5 2.5zl40.5-10.5zl46.5-58.5zl46.5-31.5zl53.5-9.5zl58.5-116.5zl62.5-70.5zl67.5-4.5zl77.5-64.5zl80.5-79.5zl88.5 37.5zl106.5-59.5zl111.5-78.5zl111.5-32.5zl120.5-9.5zl151.5-41.5zM361.5 278.5l-212.5 2.5zl-81.5 13.5zl-66.5 15.5zl-48.5 25.5zl-39.5 33.5zl-26.5 31.5zl-26.5 39.5zl-15.5 28.5zl1.5 23.5zl5.5 16.5zl6.5 18.5zl10.5 11.5zM377 189l-29-170zl-15-12zl-13-13zl-9-20zl-8-25zl-6-20zl-6-8zl-2-35zl0-38zl0-5zl1-21zl1-13zl2-13zl3-19zl5-23zl6-54zl7-39zl7-17zl8-27zl9-18zl10-22zl11-34zl11 0zl12 1zl14-29zl17-12zl18 6zl18 12zl19-20zl19 2zl19 15zl19 15zl22-35zl22 22zl23 10zl24-102zl26-26zl28-18zl28-10zl31 14zl33-30zl33 27zl37-20zl37-15zl37 1zl37 14zl38 15zl39-38zl41 13zl43-35zl43-25zl44-75zl44-63zl45 1zl46-73zl46-13zl48-11zl52 4zl53-9zl55 9zl58-40zl59-15zl59 10zl61-9zl61-6zl66-12zl68-64zl69 7zl80-58zl82-12zl91-42zl157-42zM391 297l-26 34zl-18 7zl-10-29zl-6-12zl-1-21zl0 1zl28 46zl42-4zl97 60zM393.5 306.5l-33.5 9.5zl-30.5 11.5zl-21.5 7.5zl-15.5 14.5zl-12.5 12.5zl-10.5-4.5zl-5.5 7.5zl-5.5 14.5zl2.5 12.5zl21.5 47.5zl28.5 29.5zl43.5 57.5zl51.5 16.5zl82.5 43.5zl89.5 74.5zM407.5 256l-15.5 10zl-14.5 14zl-13.5 14zl-7.5 10zl-6.5-25zl-5.5-1zl-4.5-23zl-2.5-32zl-2.5-9zl0.5-44zl1.5-44zl1.5-43zl1.5-15zl1.5-14zl2.5 4zl2.5 17zl3.5-20zl3.5-15zl6.5-20zl6.5 16zl8.5-37zl8.5-27zl8.5 19zl10.5-40zl10.5 0zl11.5-43zl12.5 26zl14.5-45zl14.5-42zl15.5-31zl16.5 26zl17.5-49zl18.5-96zl19.5-7zl20.5-36zl20.5-18zl21.5-26zl22.5-42zl22.5-34zl22.5 1zl23.5 11zl24.5-56zl24.5-3zl26.5-16zl27.5 12zl28.5-61zl30.5-33zl30.5 7zl31.5-26zl31.5 19zl32.5-62zl34.5-30zl35.5-8zl38.5-4zl38.5 1zl39.5-31zl41.5 37zl47.5 5zl51.5-27zl55.5-50zl57.5 22zl70.5-12zl86.5-66zl121.5-115zl123.5-92z"/>
<path stroke="#0C84AC" stroke-opacity="0.36" d="M245.5 218l-142.5-17zl-140.5 16zl-138.5-18zl-132.5 12zl-131.5-20zl-128.5 21zl-126.5-44zl-122.5-3zl-122.5 30zl-119.5-51zl-119.5-9zl-118.5-60zl-117.5 29zl-116.5 46zl-114.5-60zl-113.5-56zl-111.5 29zl-111.5 85zl-110.5 44zl-109.5 30zl-108.5 20zl-107.5 56zl-105.5-24zl-105.5-7zl-103.5-9zl-103.5 49zl-98.5-38zl-95.5 22zl-94.5-33zl-94.5-28zl-93.5-60zl-91.5-12zl-91.5 52zl-90.5 82zl-89.5 7zl-88.5 57zl-86.5 6zl-83.5-13zl-77.5-9zl-76.5-38zl-71.5 29zl-69.5 2zl-68.5-53zl-67.5 25zl-66.5 55zl-64.5-27zl-60.5-78zl-59.5-8zl-53.5-35zl-52.5 19zl-51.5 64zl-49.5-14zl-43.5-121zl-43.5-22zl-42.5-44zl-41.5 32zl-40.5 46zl-39.5-58zl-36.5-42zl-33.5 8zl-29.5 35zl-28.5 24zl-25.5-62zl-25.5-41zl-24.5-7zl-24.5 16zl-20.5 4zl-18.5-29zl-17.5-6zl-16.5-41zl-15.5-44zl-14.5 46zl-12.5-30zl-12.5-18zl-11.5 45zl-10.5 29zl-8.5 41zl-7.5 20zl-5.5-20zl-5.5 5zl-5.5 50zl-4.5-53zl-0.5-23zl-0.5-8zl0.5 30zl0.5 47zl2.5 51zl3.5-47zl3.5-21zl4.5 51zl5.5 52zl6.5-52zl7.5-48zl7.5 70zl8.5 60zl9.5 15zl10.5-17zl11.5-51zl12.5-26zl13.5-29zl13.5-24zl13.5 5zl14.5-41zl14.5 13zl14.5 23zl15.5-3zl16.5-22zl18.5-65zl18.5-29zl18.5-8zl18.5 37zl19.5-44zl21.5-45zl25.5 75zl26.5-44zl27.5-30zl27.5-27zl30.5-26zM322 159.5l-88-65.5zl-80-41.5zl-71-43.5zl-65-74.5zl-63 8.5zl-61-48.5zl-59-91.5zl-58-2.5zl-56-41.5zl-55-79.5zl-52-11.5zl-48-80.5zl-43-8.5zl-39-4.5zl-38-119.5zl-38-50.5zl-36-16.5zl-35-21.5zl-34-57.5zl-34-14.5zl-31-25.5zl-30-1.5zl-29-75.5zl-27-116.5zl-26-4.5zl-25 8.5zl-24-23.5zl-21-85.5zl-21-47.5zl-21-10.5zl-20-28.5zl-19-26.5zl-18-13.5zl-13-130.5zl-12-0.5zl-11-21.5zl-10-21.5zl-9-3.5zl-8-139.5zl-7-11.5zl-7-7.5zl-1-0.5zl3 4.5zl4-25.5zl26-132.5zl31-151.5zl49-87.5zl67-131.5zl108-104.5zl151-5.5zl156-25.5zM324 164.5l-92-121.5zl-87-110.5zl-57-100.5zl-54-94.5zl-53 13.5zl-40-106.5zl-38-2.5zl-37-13.5zl-35-17.5zl-33-127.5zl-28 9.5zl-27 7.5zl-22-7.5zl-21-71.5zl-17-35.5zl-15-9.5zl-12-83.5zl-11-0.5zl-6-14.5zl-3-0.5zl9-69.5zl22-121.5zl41-5.5zl70-136.5zl80-110.5zl141-71.5zM329 165l-87-103zl-70-9zl-69-47zl-65 6zl-58-85zl-57-37zl-52 11zl-44 12zl-38-121zl-30-24zl-19-101zl-14-52zl-9-96zl4-12zl12-47zl13-1zl17-101zl17-69zl77-92zM330.5 148.5l-102.5-84.5zl-100.5-87.5zl-85.5-101.5zl-84.5-56.5zl-84.5-34.5zl-80.5-42.5zl-68.5-87.5zl-66.5-114.5zl-64.5-51.5zl-61.5-74.5zl-60.5 35.5zl-59.5-50.5zl-57.5-9.5zl-55.5-23.5zl-51.5-27.5zl-47.5-102.5zl-41.5-77.5zl-40.5-99.5zl-38.5-54.5zl-35.5-45.5zl-32.5-15.5zl-25.5-65.5zl-24.5-24.5zl-22.5-130.5zl-22.5-51.5zl-22.5-43.5zl-20.5-37.5zl-18.5-74.5zl-16.5-84.5zl-15.5-99.5zl-14.5-68.5zl-14.5-25.5zl-11.5-4.5zl-10.5-66.5zl-9.5-97.5zl-9.5-28.5zl-7.5-13.5zl-6.5-33.5zl-5.5-20.5zl-4.5-22.5zl-4.5-8.5zl-1.5-89.5zl-1.5-45.5zl-1.5-20.5zl-0.5-1.5zl0.5-25.5zl0.5-13.5zl0.5-11.5zl0.5-2.5zl1.5-26.5zl2.5-5.5zl3.5-59.5zl4.5-24.5zl5.5-49.5zl6.5-19.5zl6.5-10.5zl6.5 2.5zl7.5-112.5zl8.5-104.5zl8.5-38.5zl8.5-29.5zl8.5-21.5zl10.5-85.5zl14.5-40.5zl14.5-15.5zl16.5-58.5zl19.5-29.5zl20.5-98.5zl29.5-124.5zl31.5-40.5zl32.5-88.5zl35.5-130.5zl36.5-31.5zl42.5-118.5zl46.5-106.5zl47.5-100.5zl50.5-29.5zl56.5-79.5zl59.5-86.5zl69.5-89.5zl93.5-21.5zl99.5-59.5zl146.5-87.5zM336 168.5l-88-79.5zl-86-112.5zl-70-139.5zl-50-141.5zl-48-162.5zl-38-86.5zl-12-150.5zl2-162.5zl3-7.5zl15-1.5zl18-70.5zl25-4.5zl35-125.5zl37-9.5zl39-79.5zl88-49.5zl105 25.5zl107-54.5zl133-35.5zM345.5 149.5l-92.5-84.5zl-87.5-117.5zl-87.5-105.5zl-65.5-134.5zl-45.5-120.5zl-36.5-109.5zl-36.5-79.5zl-35.5-116.5zl-20.5-55.5zl-18.5-40.5zl-17.5-96.5zl-13.5-29.5zl-12.5-24.5zl-12.5-14.5zl-11.5-29.5zl-9.5-16.5zl-6.5-32.5zl-3.5 2.5zl-2.5-24.5zl-2.5-15.5zl-1.5 3.5zl0.5-111.5zl0.5-4.5zl1.5-2.5zl1.5 0.5zl1.5 12.5zl3.5-11.5zl3.5-10.5zl4.5-79.5zl4.5-52.5zl4.5-16.5zl5.5-23.5zl6.5-71.5zl7.5-47.5zl7.5-24.5zl7.5-5.5zl8.5-119.5zl8.5 1.5zl9.5-16.5zl10.5-132.5zl10.5-10.5zl10.5-3.5zl11.5-47.5zl11.5 9.5zl12.5-11.5zl13.5-131.5zl14.5-55.5zl14.5 17.5zl15.5-9.5zl16.5-33.5zl16.5-17.5zl16.5-11.5zl17.5-71.5zl17.5-13.5zl17.5-11.5zl17.5-9.5zl18.5-10.5zl19.5 4.5zl20.5-64.5zl20.5-10.5zl20.5 2.5zl21.5 14.5zl22.5-110.5zl22.5-4.5zl23.5-4.5zl25.5 0.5zl25.5 4.5zl27.5-42.5zl27.5-11.5zl28.5-9.5zl28.5-6.5zl28.5-2.5zl29.5 4.5zl31.5-4.5zl31.5 5.5zl32.5-13.5zl33.5-104.5zl33.5-9.5zl36.5-72.5zl37.5-81.5zl40.5-77.5zl41.5-19.5zl43.5-94.5zl43.5 1.5zl50.5-67.5zl53.5-112.5zl61.5-103.5zl66.5-33.5zl90.5-80.5zl108.5-8.5zl184.5 2.5zM361.5 278.5l-81.5 38.5zl-77.5 48.5zl-66.5 38.5zl2.5 23.5zl5.5 11.5zl5.5 16.5zl6.5 70.5zM377 189l-16-22zl-12-21zl-11-20zl-5-25zl-5-15zl-3-9zl-2-152zl4-1zl8-37zl9-36zl10-25zl10-20zl10-19zl11-33zl11-29zl12-37zl12-31zl15-38zl16-8zl17-6zl20 5zl22-7zl22-1zl22 15zl23-29zl24-40zl24-20zl24-9zl24-3zl26-6zl27-131zl27-1zl28-5zl28-4zl30-37zl32-53zl32 5zl33 30zl34-90zl36-47zl36-8zl36 17zl39-10zl40-82zl40-43zl40-30zl40 24zl43-106zl43 2zl44-20zl46-45zl47-1zl48-99zl48-12zl48 18zl49 9zl50-4zl51-35zl52 14zl53-49zl56-10zl59 7zl60-23zl60 14zl67-22zl72-81zl77-41zl81-45zl82-51zl83-64zl119-22zM391 297l-55 23zl-39 16zl-28 17zl-12-14zl-2-17zl5-17zl13-16zl26 16zl34-11zl64 61zl74 75zM393.5 306.5l-79.5 11.5zl-72.5 27.5zl-46.5 50.5zl-44.5 34.5zl-36.5 66.5zl-34.5 22.5zl-20.5 20.5zl-15.5 11.5zl-11.5 6.5zl-11.5 20.5zl-3.5 14.5zl4.5 0.5zl10.5 105.5zl15.5-6.5zl18.5 12.5zl38.5 7.5zl66.5 17.5zl66.5 35.5zl95.5 61.5zM407.5 256l-14.5 15zl-11.5-39zl-9.5-40zl-9.5 6zl-4.5-36zl-1.5-33zl-1.5-29zl-1.5 4zl0.5-38zl1.5-45zl2.5-33zl3.5-39zl5.5-34zl5.5-17zl5.5-5zl8.5-6zl11.5-16zl12.5-81zl13.5-36zl13.5-31zl13.5-22zl14.5-14zl17.5-51zl17.5-14zl18.5-12zl20.5 27zl21.5-41zl21.5-31zl22.5-42zl22.5-29zl23.5 17zl24.5-50zl26.5-4zl27.5-17zl28.5 6zl32.5 3zl38.5-23zl39.5-14zl42.5 12zl50.5-86zl56.5 2zl75.5 12zl97.5-76zl97.5-21z"/>
<path stroke="#0C84AC" stroke-opacity="0.36" d="M245.5 218l-149.5 10zl-147.5 19zl-139.5-3zl-137.5 29zl-136.5 11zl-133.5 49zl-132.5 51zl-131.5 19zl-127.5-63zl-125.5 30zl-121.5 55zl-120.5-56zl-120.5 35zl-119.5 40zl-115.5 65zl-113.5-22zl-109.5-66zl-109.5 64zl-108.5 25zl-107.5 40zl-106.5-17zl-105.5 68zl-102.5 24zl-100.5 17zl-95.5-74zl-93.5-57zl-93.5-40zl-90.5-65zl-88.5-34zl-88.5 91zl-86.5 16zl-83.5 62zl-81.5-65zl-80.5-2zl-79.5 103zl-78.5 15zl-74.5-20zl-74.5-5zl-73.5 32zl-71.5 5zl-64.5 32zl-64.5 50zl-57.5-4zl-55.5-12zl-54.5 44zl-49.5-30zl-48.5 5zl-44.5-11zl-42.5 2zl-40.5 65zl-27.5 59zl-24.5-7zl-23.5-25zl-23.5-18zl-22.5 30zl-20.5-11zl-20.5 9zl-20.5 33zl-17.5 13zl-15.5-11zl-14.5 8zl-13.5-24zl-12.5-85zl-12.5 7zl-12.5 50zl-11.5 19zl-10.5-16zl-9.5-32zl-7.5-42zl-6.5-7zl-5.5 0zl-4.5-32zl-0.5 13zl1.5-50zl1.5 35zl2.5-55zl3.5-25zl3.5 14zl6.5-36zl7.5-37zl8.5 65zl10.5 35zl11.5-11zl12.5-26zl12.5 38zl13.5-37zl15.5-110zl15.5-14zl17.5-4zl17.5 43zl18.5 42zl19.5-38zl19.5 53zl23.5-27zl23.5 38zl25.5-57zl31.5 56zl32.5-41zl32.5 53zM322 159.5l-205 59.5zl-194 125.5zl-180-14.5zl-102-39.5zl-73-93.5zl-70-24.5zl-67-89.5zl-58-57.5zl-52 3.5zl-51-92.5zl-51-48.5zl-51-21.5zl-50-2.5zl-49-116.5zl-49 4.5zl-48-68.5zl-46-121.5zl-46-20.5zl-42-6.5zl-42 15.5zl-35-3.5zl-34-25.5zl-34-3.5zl-27-146.5zl-27-15.5zl-25-11.5zl-25 7.5zl-22-98.5zl-21-1.5zl-15-102.5zl-15-0.5zl-15 5.5zl-13 7.5zl-9-89.5zl-8-12.5zl-6-131.5zl-4-0.5zl-3-15.5zl4-103.5zl6-132.5zl7-95.5zl7-70.5zl8-8.5zl19-73.5zl57-151.5zl70-123.5zl74-108.5zl99-121.5zM324 164.5l-97-53.5zl-79-0.5zl-68-113.5zl-60-7.5zl-59-8.5zl-52-111.5zl-52-44.5zl-48-93.5zl-47 4.5zl-46-51.5zl-44-27.5zl-44 16.5zl-43-26.5zl-42-29.5zl-41-88.5zl-41 18.5zl-38 9.5zl-37 0.5zl-37 6.5zl-36-19.5zl-35-5.5zl-32-135.5zl-32-64.5zl-32-6.5zl-28-3.5zl-16-2.5zl-15-15.5zl-15 0.5zl-14-4.5zl-5-105.5zl-4-12.5zl-2-138.5zl26 1.5zl77-72.5zl90-59.5zl94-77.5zl101 7.5zM329 165l-183 32zl-75-33zl-60-130zl-60 9zl-60 109zl-59 106zl-46-7zl-45-104zl-44 8zl-42-73zl-39-39zl-36-141zl-24-75zl-9-5zl3-4zl7-148zl10-145zl11-156zl15-155zl23-99zl33 1zl39-123zl72-69zl76-74zl93-113zl135-111zl145-40zl190 7zM330.5 148.5l-149.5 48.5zl-120.5-63.5zl-88.5-57.5zl-87.5 14.5zl-84.5-96.5zl-82.5-17.5zl-64.5-26.5zl-59.5-3.5zl-59.5-1.5zl-58.5 15.5zl-56.5-62.5zl-54.5-47.5zl-51.5-123.5zl-51.5-57.5zl-50.5-0.5zl-48.5-77.5zl-48.5-51.5zl-46.5-48.5zl-44.5-146.5zl-44.5-17.5zl-42.5-65.5zl-41.5-131.5zl-40.5-8.5zl-39.5-58.5zl-39.5-50.5zl-38.5-74.5zl-34.5-75.5zl-32.5-32.5zl-30.5-79.5zl-27.5-14.5zl-26.5-136.5zl-26.5-39.5zl-25.5-119.5zl-24.5-144.5zl-24.5-111.5zl-24.5-36.5zl-24.5-4.5zl-22.5-20.5zl-21.5-15.5zl-20.5-20.5zl-19.5-126.5zl-18.5-24.5zl-16.5-15.5zl-10.5-38.5zl-9.5-69.5zl-9.5-51.5zl-7.5-24.5zl-6.5-14.5zl-5.5-19.5zl-5.5-9.5zl-5.5 2.5zl-4.5-88.5zl-2.5-71.5zl-2.5-5.5zl-0.5-26.5zl-0.5-1.5zl0.5-42.5zl1.5 2.5zl2.5-75.5zl2.5-68.5zl4.5-108.5zl4.5-22.5zl5.5-19.5zl5.5-12.5zl6.5 1.5zl7.5-57.5zl8.5-90.5zl8.5-50.5zl8.5-41.5zl8.5-25.5zl9.5-19.5zl15.5-71.5zl17.5-77.5zl24.5-73.5zl25.5-87.5zl26.5-36.5zl27.5-113.5zl27.5-12.5zl28.5-72.5zl36.5-85.5zl50.5-41.5zl53.5-46.5zl62.5-96.5zl63.5-82.5zl63.5-59.5zl72.5-72.5zl80.5 37.5zl107.5-98.5zl140.5-69.5zM336 168.5l-114-96.5zl-94-129.5zl-92-88.5zl-79-100.5zl-72-42.5zl-52-29.5zl-39-61.5zl-32-44.5zl-23-65.5zl-8-7.5zl-5-39.5zl-4-5.5zl-1-123.5zl0-155.5zl5-142.5zl5-7.5zl6-42.5zl12-41.5zl14-123.5zl24-80.5zl42-110.5zl62-115.5zl67-101.5zl107-128.5zl126-14.5zM345.5 149.5l-219.5 79.5zl-110.5-103.5zl-108.5-67.5zl-75.5-59.5zl-72.5-47.5zl-69.5-55.5zl-62.5-123.5zl-59.5-140.5zl-59.5-74.5zl-57.5-60.5zl-56.5-34.5zl-49.5-101.5zl-39.5-134.5zl-33.5-113.5zl-31.5-125.5zl-24.5-116.5zl-22.5-59.5zl-20.5-18.5zl-19.5-30.5zl-18.5-52.5zl-14.5-104.5zl-12.5-63.5zl-12.5-39.5zl-10.5-120.5zl-9.5-100.5zl-9.5-74.5zl-8.5-62.5zl-6.5 4.5zl-5.5-147.5zl-5.5-2.5zl-2.5-56.5zl-1.5-38.5zl-1.5-4.5zl-0.5 4.5zl0.5-44.5zl0.5-37.5zl0.5-9.5zl1.5-12.5zl4.5-143.5zl4.5-21.5zl5.5-61.5zl5.5-25.5zl5.5-12.5zl7.5-22.5zl7.5 5.5zl8.5-7.5zl9.5-11.5zl10.5-20.5zl10.5-2.5zl11.5-17.5zl11.5 19.5zl12.5-2.5zl14.5-15.5zl15.5-28.5zl15.5 1.5zl15.5 2.5zl17.5-59.5zl17.5-16.5zl20.5-116.5zl22.5-29.5zl23.5-42.5zl23.5-39.5zl24.5-16.5zl26.5-75.5zl26.5-33.5zl26.5-4.5zl27.5-50.5zl28.5-55.5zl28.5-12.5zl29.5-78.5zl31.5-40.5zl33.5-64.5zl33.5-13.5zl33.5 2.5zl36.5-6.5zl39.5-71.5zl39.5-6.5zl40.5-89.5zl42.5-38.5zl43.5-66.5zl43.5-24.5zl47.5-74.5zl47.5-54.5zl47.5-24.5zl57.5-100.5zl58.5-8.5zl59.5-19.5zl59.5 11.5zl61.5-82.5zl65.5-9.5zl68.5-104.5zl73.5 11.5zl81.5-62.5zl83.5-76.5zl86.5-38.5zl98.5-85.5zl100.5 4.5zl101.5-85.5zl162.5-63.5zM361.5 278.5l-82.5 12.5zl-80.5 0.5zl-48.5 30.5zl-43.5 36.5zl-24.5 51.5zl-2.5 13.5zl1.5 12.5zl2.5 24.5zM377 189l-77-125zl-25-130zl-11-26zl-11-13zl-5-22zl-2-142zl-2-5zl-1-15zl0-10zl3-33zl6-20zl8-35zl11-20zl12-26zl13-16zl13 0zl14-33zl14-18zl15-15zl16-32zl16-31zl17-44zl17-43zl17-3zl18 17zl19-6zl19 2zl21-33zl21-32zl23-20zl23 7zl24 9zl30-12zl31-37zl31-24zl32-23zl32 20zl32 26zl33-22zl33 19zl34 2zl38-35zl38-10zl38 20zl39 16zl40-20zl43-28zl44-10zl44 3zl48-14zl49-7zl50 12zl51-15zl51 9zl52 15zl53-1zl54-38zl55-14zl59-20zl61-1zl70 28zl72 6zl73-68zl87-28zl93-46zl98-81zl122-85zl155-34zM391 297l-15-4zl-6-7zl4-11zl5-3zl13-15zl25 2zl33 115zl42 3zl47 16zl65 65zl67 97zl68 87zM393.5 306.5l-41.5 15.5zl-9.5-1.5zl-7.5-0.5zl-0.5 72.5zl5.5 4.5zl36.5 35.5zl54.5 45.5zl59.5 85.5zl62.5 20.5zl67.5 24.5zl72.5-73.5zl98.5-80.5zM407.5 256l-7.5-19zl-5.5-33zl-1.5-31zl-1.5-22zl-1.5 11zl-1.5 19zl-0.5-30zl-0.5-11zl-0.5 12zl3.5-43zl5.5-37zl6.5-13zl8.5-20zl9.5-30zl13.5-9zl14.5-8zl14.5-5zl16.5-26zl17.5-40zl18.5-29zl21.5-41zl21.5-7zl22.5-44zl22.5-28zl24.5-34zl25.5-54zl28.5 6zl29.5-21zl33.5-58zl33.5-16zl33.5-3zl34.5-43zl35.5-3zl36.5-75zl37.5-50zl43.5-51zl46.5-18zl47.5-33zl50.5 31zl54.5-106zl55.5 38zl71.5-50zl78.5-103zl82.5-115zl93.5-81zl95.5-111zl101.5-33zl101.5 39z"/>
<path stroke="#E8505E" stroke-opacity="0.235" d="M225 248.5l-116 24.5zl-102 3.5zl-94 69.5zl-51 103.5zl-48 39.5z"/>
<path stroke="#E8505E" stroke-opacity="0.235" d="M225 248.5l-102 47.5zl-87 49.5zl-85 51.5zl-46 59.5zl-43 68.5z"/>
<path stroke="#E8505E" stroke-opacity="0.235" d="M225 248.5l-107 38.5zl-98 40.5zl-97 29.5zl-43 12.5zl-23 70.5z"/>
<path stroke="#E8505E" stroke-opacity="0.235" d="M225 248.5l-113 56.5zl-109 78.5zl-71 73.5zl-11 76.5z"/>
<path stroke="#974C70" stroke-opacity="0.235" d="M373 242l-10-119zl0 46zl19 21zM391.5 220.5l9.5 12.5zl100.5-32.5zl144.5-30.5zM402 207.5l-2 58.5zl0 12.5zl113-86.5zl135 64.5zM402 215l-30-91zl7 3zl67-37zl80-27zM403 226.5l-30-63.5zl-4 19.5zl-1-6.5zl6-5.5zl14 67.5zl19 18.5zl19 38.5zl23 27.5zl30 27.5zl59-9.5zl66-20.5zl75-16.5zl105 20.5zl115-103.5zM404 188l-30-27zl-21-5zl-16-30zl-16 0zl-13-44zl-10-21zl-6-17zl-2-18zl3-14zl6-26zl7-31zl7-16zl7 8zl8-39zl11-15zl39-66zl73-4zl75-93zl122-15zl133-60zM426 198.5l-34-55.5zl-4 11.5zl-2 62.5zl1-17.5zl5 20.5zl6-27.5zl7 12.5zl8 11.5zl8 19.5zl8 23.5zl17 4.5zl17 21.5zl21 29.5zl21 51.5zl23-63.5zl23 23.5zl24-6.5zl27 27.5zl30 15.5zl35-0.5zl45-47.5zl45-7.5zl46-33.5zl48-8.5zl49-23.5zl49-20.5zl49 11.5zl55-47.5zl56 34.5zl57-95.5zl57 8.5zl59-66.5zl59-31.5zl61-5.5zl62-38.5zl62 28.5zl63-80.5zl64-19.5zl70-43.5zl73-8.5zl74-47.5zl76-36.5zl82 53.5zl84-10.5zl109-38.5zl117-29.5zl125-51.5z"/>
<path stroke="#974C70" stroke-opacity="0.235" d="M373 242l18 27zl20 25zl21 44zl45 49zl86-128zM391.5 220.5l-6.5-65.5zl77.5-1.5zM402 207.5l-23-75.5zl1 5.5zl4 9.5zl7-8.5zl65-86.5zM402 215l-39-61zl14 6zl26-97zl34 16zl38 21zl64 6zl81-93zl116 35zl144-13zM403 226.5l-2 33.5zl5 4.5zl6 22.5zl10 46.5zl13 32.5zl14-8.5zl18 27.5zl19 24.5zl23 10.5zl30-2.5zl33 17.5zl41 19.5zl91-28.5zM404 188l-34-38zl-25-9zl-17-34zl-12-34zl-10-13zl-6-14zl-5-40zl-5-20zl-1 7zl10-8zl10-3zl11-78zl15-14zl23-48zl34 55zl76-69zl76-26zl97-5zl98-63zl98-57zl106-45zl110-48zl154 25zM426 198.5l-9-1.5zl-7-87.5zl-1-2.5zl0 17.5zl0 19.5zl6 34.5zl8 31.5zl9 5.5zl12-1.5zl15-41.5zl15 14.5zl15 29.5zl17-5.5zl22-17.5zl24-11.5zl28-79.5zl34-38.5zl34-6.5zl38-53.5zl42-7.5zl51-56.5zl57-24.5zl58-42.5zl58-35.5zl60-7.5zl62-48.5zl68-46.5zl72-78.5zl73-30.5zl73 8.5zl77-31.5zl82-24.5zl82-4.5zl83-14.5zl107-13.5zl120-24.5zl120-11.5zl131-16.5z"/>
<path stroke="#974C70" stroke-opacity="0.235" d="M373 242l27 45zM402 207.5l-10-8.5zl0-7.5zl7-5.5zl11-0.5zl11 1.5zl16-79.5zl39 34.5zl93-94.5zl99-122.5zl112-40.5zM402 215l2 23zl10 53zl150-11zM403 226.5l-4 25.5zl0 32.5zl1 33.5zl4 31.5zl5 48.5zl12 19.5zl13 5.5zl14 11.5zl14 47.5zl18 14.5zl19 40.5zl28 34.5zl30 21.5zl34 23.5zl45 29.5zM404 188l-17-5zl-15-25zl-13-36zl-12 0zl-10-2zl-8-3zl-1-16zl1-6zl8-26zl8-5zl8-2zl11 4zl13-6zl16-41zl20-53zl21-18zl29-32zl33-35zl41-51zl42-57zl49-84zl56-42zl68-113zl111-7zl113-29zl133-45zM426 198.5l-1-1.5zl2 4.5zl4 20.5zl12-7.5zl13-7.5zl13 18.5zl15-27.5zl17 21.5zl30 3.5zl37-11.5zl38-18.5zl39 17.5zl41 3.5zl42-31.5zl43-23.5zl45-58.5zl47-36.5zl48 7.5zl52 23.5zl58-111.5zl65-60.5zl67-31.5zl71 57.5zl72-61.5zl76 20.5zl79-66.5zl80-30.5zl80-21.5zl82 17.5zl87-10.5zl87 46.5zl88-34.5zl95-46.5zl97-60.5zl101-37.5zl109-63.5zl115-35.5zl117-40.5zl121-44.5z"/>
<path stroke="#974C70" stroke-opacity="0.235" d="M373 242l6 41zl24 38zM391.5 220.5l22.5 69.5zM402 207.5l35 23.5zl122-77.5zM402 215l-3 8zl2 8zl8 3zl12 22zl12 33zl27 21zl27 52zl28 60zl32 20zl89-8zl102-74zl143-37zM403 226.5l2 24.5zl7 17.5zl8-8.5zl8 37.5zl10 5.5zl11 18.5zl11 31.5zl14 19.5zl19-3.5zl31 43.5zl33 15.5zl70-107.5zl96-62.5zM404 188l-20-66zl-11 1zl-8-19zl-6-4zl-5-15zl-4 6zl-2-35zl3 3zl5 0zl8-60zl11-17zl15-21zl20-40zl26-67zl36-26zl41-67zl58-56zl63 7zl72-36zl77-63zl91-64zl91-52zl98-78zl103 19zl105-80zl126-16zl135-52zM426 198.5l1-4.5zl3-11.5zl6-8.5zl8 23.5zl8 44.5zl11-8.5zl22-21.5zl30-9.5zl31-33.5zl35-81.5zl44-35.5zl44-9.5zl47-61.5zl47-16.5zl53-24.5zl54 0.5zl55-15.5zl55 28.5zl58-20.5zl61-54.5zl65-76.5zl70 89.5zl75-9.5zl81-48.5zl83-39.5zl84-78.5zl85-60.5zl91-21.5zl93-66.5zl99-22.5zl99-17.5zl102-19.5zl115-23.5z"/>
<path stroke="#52C3B4" stroke-opacity="0.235" d="M276 188l-157 46zl-154-49zl-118 97zl-114 75zl-90-116zl-86-94zl-86 49zl-83 69zl-76 13zl-71 3zl-58-64zM455.5 180.5l-63.5-24.5zl-62.5-36.5zl-61.5-6.5zl-58.5-14.5zl-54.5-0.5zl-54.5 17.5zl-44.5 29.5zl-43.5-9.5zl-36.5 14.5zl-1.5-28.5zl0.5-70.5zl0.5 10.5zl13.5-87.5zl24.5-113.5zl28.5-72.5zl36.5-69.5zl39.5-32.5zl44.5-58.5zl57.5-65.5zl57.5-1.5zl59.5-33.5zl81.5-28.5z"/>
<path stroke="#52C3B4" stroke-opacity="0.235" d="M276 188l-162-25zl-155 21zl-130-38zl-129 55zl-114-10zl-107-27zl-96 19zl-90 49zl-87 4zl-85-23zl-78 43zl-60 1zl-55-85zl-52-88zl76-16zM400.5 310.5l139.5-140.5zM455.5 180.5l-87.5-21.5zl-58.5 6.5zl-54.5 43.5zl-48.5-8.5zl-42.5 1.5zl-11.5 8.5zl-4.5-2.5zl-3.5-27.5zl7.5-40.5zl20.5-16.5zl31.5-59.5zl42.5-48.5zl47.5-61.5zl49.5-33.5zl55.5-55.5zl60.5-45.5zl63.5-64.5z"/>
<path stroke="#52C3B4" stroke-opacity="0.235" d="M276 188l-156 89zl-154-6zl-149 9zl-134 18zl-121 66zl-119 7zl-117-97zl-78 65zl-59-90zl-29-28zl-23-33zl-15-6zM455.5 180.5l-64.5-9.5zl-63.5 2.5zl-53.5 12.5zl-45.5-50.5zl-39.5-47.5zl-35.5 24.5zl-33.5 7.5zl-13.5 4.5zl-12.5 18.5zl-6.5-15.5zl9.5-79.5zl17.5-49.5zl46.5-52.5zl50.5-90.5zl57.5-8.5zl68.5-10.5zl73.5-48.5zl75.5-54.5zl78.5-40.5zl79.5-26.5z"/>
<path stroke="#52C3B4" stroke-opacity="0.235" d="M276 188l-160 5zl-155-27zl-152 2zl-146-18zl-146 22zl-142 28zl-137 33zl-133 90zl-128 23zl-121-53zl-114 4zl-85 10zl-83 55zl-78-7zl-68-128zl-23 4zM400.5 310.5l6.5-59.5zM455.5 180.5l-36.5 43.5zl-34.5 7.5zl-24.5 4.5zl-23.5-14.5zl-23.5 27.5zl-20.5 6.5zl-14.5 49.5zl8.5-91.5zl23.5-13.5zl24.5-38.5zl24.5-10.5zl30.5 4.5zl52.5-17.5zl62.5-33.5zl91.5-20.5z"/>
</g>
<g stroke-width="4.0" stroke-linecap="round" fill="none">
<path stroke="#52C3B4" d="M208 60h0m13 43h0m3-3h0m279 19h0m-5 13h0m-352 18h0m306 3h0m56 10h0m-387-2h0m9 9h0m350 0h0m-67 12h0m-197 7h0m-18-8h0m-74 9h0m65 2h0m243 16h0m-293 13h0m257-1h0m5 4h0m40 6h0m-243 1h0m-51 12h0"/>
<path stroke="#E3BD80" d="M386 143h0m-25-6h0m-31 6h0m-32-3h0m-8 15h0m26-4h0m5-1h0m26 1h0m5-6h0m20 3h0m-6 14h0m-45 2h0m-1 12h0m7-2h0m7 4h0m10-10h0m15 10h0m10-8h0m4-1h0m2 7h0m4-3h0m15-1h0m17 3h0m1 8h0m-1 1h0m-46 4h0m-5 0h0m-3 1h0m-9-2h0m-23-4h0m-6 1h0m-3-1h0m-10-3h0m-15 4h0m-28 9h0m52 0h0m6 3h0m8-1h0m1 0h0m8 6h0m17-7h0m3-2h0m14 10h0m9-3h0m1 1h0m17-5h0m2 7h0m0-1h0m27-7h0m44 2h0m18 2h0m-17 14h0m-7 0h0m-11-1h0m-28-5h0m-2 4h0m-14 1h0m-10 1h0m-12 1h0m-9-4h0m-13 5h0m-4 1h0m-1-1h0m-2-6h0m-1 4h0m-9-4h0m-6 6h0m-6-6h0m-12 3h0m-9 3h0m-2-5h0m-21-2h0m-12-1h0m-5 8h0m-54 7h0m28-4h0m3 9h0m24 0h0m60-1h0m8 0h0m16 0h0m4 0h0m3 0h0m1 0h0m3-2h0m3-5h0m9 0h0m10 0h0m4 5h0m2-5h0m5-2h0m4 10h0m2 1h0m2-10h0m6 7h0m33-4h0m12 4h0m-9 7h0m-10 5h0m-2 3h0m-5-7h0m-10 6h0m0-4h0m-3-2h0m-3-1h0m-9 5h0m-6 3h0m-1-3h0m0-4h0m-3-3h0m-13 3h0m0 4h0m0-6h0m-6-1h0m-1 6h0m-1-3h0m-4-2h0m-2 1h0m-3-3h0m-1 0h0m-1 6h0m-4 4h0m-8-9h0m-5 8h0m-6-7h0m-1 7h0m-12 2h0m-5 0h0m-3-7h0m-3 6h0m-7 1h0m-4-1h0m-10-10h0m-3 3h0m-4 6h0m-44-6h0m-47 4h0m28 15h0m5-9h0m2 7h0m5-8h0m10 3h0m12 6h0m16 2h0m29-2h0m3-2h0m4-5h0m9-1h0m2 8h0m4-7h0m14 5h0m7 4h0m3-1h0m2-8h0m5 2h0m18 2h0m11-4h0m7 2h0m5-4h0m1 11h0m0-11h0m1 4h0m10-1h0m12 6h0m1-6h0m9 0h0m3 9h0m-5 3h0m-4 8h0m-3-2h0m-3 0h0m-3 1h0m-1-5h0m-18 1h0m-10 2h0m-3 0h0m0-6h0m0 7h0m-7-4h0m-1 3h0m-2-1h0m-1-7h0m0 3h0m-11 2h0m-1 4h0m0-5h0m-4 7h0m0-5h0m-5 5h0m-12-4h0m-2 2h0m-2-2h0m-2-5h0m-6 4h0m-2 2h0m-5-8h0m-2 2h0m0 5h0m-2 2h0m-10-2h0m-1 3h0m0-8h0m0-1h0m-2 0h0m-7 9h0m-1-2h0m-2-1h0m-2-4h0m-6 3h0m-3-2h0m-8 6h0m-2-10h0m-12 2h0m-7-2h0m-5 10h0m0-5h0m-19 9h0m2 8h0m14-6h0m3 3h0m1-2h0m8 2h0m1 3h0m5-4h0m3 2h0m4-5h0m3 8h0m5 0h0m6-2h0m17-8h0m12 7h0m1-4h0m2-1h0m12 6h0m1 0h0m6-5h0m1-2h0m13-1h0m2 5h0m9 1h0m1-2h0m2-5h0m1 10h0m7-2h0m5 1h0m0 0h0m1-4h0m1 1h0m8-1h0m13 4h0m6-1h0m18-5h0m0-2h0m10 0h0m4 21h0m-5-2h0m-4-3h0m-13-5h0m0 0h0m-3 6h0m-16 2h0m-3 2h0m-12-1h0m-8-4h0m-2-4h0m-2 2h0m-2-2h0m-9-1h0m-3 10h0m-1-7h0m-7 3h0m-2 1h0m-1-6h0m-8 4h0m-2-1h0m-2-2h0m-1-1h0m-1 6h0m-5 1h0m-1-7h0m-4 8h0m-6-6h0m-2-2h0m-8 1h0m-5 3h0m-2-1h0m0 6h0m-13-7h0m-1-2h0m-3 5h0m-10-5h0m-2 4h0m-3 2h0m0-2h0m-4 0h0m-1 5h0m-2 1h0m0-6h0m-4 0h0m-14-2h0m-24 3h0m-21 4h0m32 11h0m11 1h0m3-10h0m10 6h0m1-3h0m4 5h0m6 0h0m0-8h0m4 11h0m8-6h0m9 4h0m1-4h0m3 1h0m4 4h0m4-3h0m1 1h0m5-2h0m1 2h0m4-5h0m2-3h0m0 8h0m3 0h0m5 3h0m4-4h0m0 0h0m1-6h0m0 4h0m1-1h0m2-4h0m3 11h0m6-8h0m0 6h0m8-9h0m1 4h0m8 3h0m0-2h0m3 0h0m7 0h0m2 6h0m2-1h0m11 0h0m2-9h0m4 2h0m0-1h0m7 4h0m2 5h0m1-7h0m18 5h0m7 1h0m59-3h0m2-4h0m-61 11h0m-19 3h0m-6 0h0m-4 6h0m-2-3h0m-4 0h0m-1-2h0m-9 3h0m0-5h0m-6 5h0m-2-1h0m-6-8h0m-1 0h0m-2 8h0m-2 0h0m0 3h0m-2-5h0m0 1h0m-4-5h0m-1 8h0m-1-8h0m-4 9h0m-2-9h0m-4 9h0m-5 0h0m-5-8h0m-1-3h0m0 5h0m-3 5h0m0-6h0m0-2h0m-2 0h0m-2-1h0m-5-1h0m-2 9h0m0-4h0m0-5h0m-1 11h0m-4-8h0m-1 3h0m-2 3h0m-8 1h0m-7-8h0m-2 6h0m-1 0h0m-4-3h0m0 4h0m-1-1h0m-2-4h0m-2 0h0m-1-3h0m-1 1h0m-1-1h0m0 5h0m-2-4h0m-3 7h0m-2-7h0m-1 4h0m-12-2h0m-21 0h0m-8-2h0m-16 8h0m-24 3h0m20 9h0m11-8h0m48 5h0m0-4h0m2 7h0m9-3h0m3-4h0m1-3h0m7 3h0m7-2h0m11 2h0m6 8h0m2-3h0m1-8h0m2 4h0m7 3h0m4 2h0m1-9h0m0 0h0m4 3h0m1-3h0m2 4h0m7-1h0m1 4h0m3-1h0m1-5h0m2 10h0m2 0h0m0-10h0m1 0h0m0 5h0m2-3h0m2-2h0m17 3h0m0-4h0m1 10h0m0-7h0m2 4h0m1-7h0m12 6h0m29 3h0m-15 9h0m-6-3h0m-11 2h0m-6 3h0m-4 1h0m-2-5h0m-4 1h0m-9-1h0m-4-3h0m-1 0h0m-3-1h0m-4 1h0m-3 3h0m-2-4h0m-1 9h0m-4 1h0m-5-6h0m-4 2h0m0-5h0m0 0h0m-5 1h0m-7-1h0m-1 1h0m-2-1h0m-2 7h0m-3-5h0m0 7h0m-1 1h0m-1-7h0m-3-2h0m-3 2h0m0 7h0m-3-8h0m0 7h0m-10-5h0m-2 1h0m0-2h0m-11 2h0m-4-3h0m-1-3h0m-12 11h0m-6-10h0m-11-1h0m-59 20h0m15-1h0m39-7h0m41 2h0m10-1h0m3 2h0m5 1h0m2-4h0m0 10h0m2-8h0m1 1h0m5 1h0m2 5h0m1-1h0m9 3h0m0-1h0m4-5h0m0-2h0m1 1h0m0-4h0m1 11h0m1-9h0m0 4h0m4-2h0m5-2h0m0-2h0m8 5h0m7-5h0m0 4h0m1 4h0m0-5h0m3-3h0m29 6h0m3-4h0m0 9h0m15-7h0m38-3h0m-1 14h0m-102-1h0m-6 4h0m-6-2h0m-2-2h0m0 0h0m-3 3h0m-7-1h0m-6-2h0m-7 8h0m-30-9h0m-40 14h0m12 4h0m0 3h0m13-10h0m11 3h0m22-1h0m16 0h0m4 3h0m13-1h0m17 3h0m6-4h0m8 4h0m24 4h0m12-8h0m22 0h0m-19 17h0m-9-3h0m-23-1h0m-3 0h0m-1 4h0m-15-4h0m-4 6h0m0-10h0m-12 11h0m-27-9h0m-16-2h0m-17 10h0m-18-7h0m-16 11h0m11 3h0m7 4h0m3-7h0m12 3h0m8-5h0m4 10h0m29-3h0m6-2h0m5 1h0m14-5h0m3 3h0m20 6h0m53-7h0m-34 19h0m-5-6h0m-10 0h0m-6-1h0m0 6h0m-21 0h0m-49-8h0m-2 9h0m-2-4h0m-7 5h0m-38-3h0m-23 5h0m61 4h0m4 1h0m72 3h0m10-2h0m30 12h0m-21 0h0m-6-1h0m-31-6h0m-2 10h0m-5-4h0m-8-3h0m-5 5h0m-30-5h0m-19 3h0m-34 3h0m14 11h0m10-6h0m52 4h0m14-3h0m37 3h0m15-4h0m-43 15h0m-8 0h0m-25 5h0m-40-8h0m16 17h0m4 0h0m62-6h0"/>
<path stroke="#974C70" d="M501 85h0m-22 10h0m-107 29h0m46 4h0m28 3h0m91 12h0m-32-11h0m-7 5h0m-13-5h0m-40 5h0m-54 7h0m29 3h0m17 6h0m34-2h0m25 4h0m39 5h0m-18-1h0m-44 3h0m-5 5h0m-35-11h0m-39 11h0m-5-4h0m-16 0h0m30 9h0m4 2h0m34-3h0m28 7h0m6-3h0m31-7h0m37 1h0m-30 19h0m-3 0h0m-28 0h0m-8 2h0m-3 1h0m-7-11h0m-59 2h0m-18 1h0m38 14h0m18 6h0m13-1h0m11 0h0m20-9h0m65 11h0m-69 3h0m-5 3h0m-3 0h0m-53 0h0m-29 2h0m1 11h0m2 2h0m13-4h0m79 6h0m14-8h0m6-3h0m-61 12h0m-46 5h0m-23 9h0m21 4h0m22-5h0m16 9h0m10 0h0m61 2h0m-11 4h0m-66 5h0m-7 0h0m-20-1h0m-4 6h0"/>
<path stroke="#974C70" d="M483 103h0m-120 20h0m80-1h0m75 1h0m19 5h0m-2 7h0m-12 3h0m-32 0h0m-20 2h0m-22-5h0m-58 17h0m130 0h0m20 11h0m-14-2h0m-34 6h0m-21-2h0m-74 6h0m13 1h0m4 1h0m10-3h0m44 5h0m6 3h0m17 10h0m-15-4h0m-14 3h0m-24 4h0m-1 0h0m-21-9h0m-5 4h0m0-3h0m-18 3h0m-9 10h0m17 4h0m26 3h0m22-11h0m24 14h0m-5 0h0m-35 4h0m-21-1h0m-38 5h0m-17 12h0m44-6h0m7-2h0m21 1h0m13 1h0m10 6h0m9-9h0m3-1h0m13 6h0m4 11h0m-65 5h0m-24-4h0m29 11h0m86 2h0m-75 7h0m-30 5h0m-4-7h0m-7 11h0m-17 11h0m33 1h0m4-7h0m5 6h0m5-9h0m115 7h0m-137 15h0m-27 1h0m44 6h0"/>
<path stroke="#974C70" d="M472 75h0m12 12h0m-31 17h0m42 9h0m-6 5h0m26 3h0m-91 14h0m-32 8h0m20 6h0m48-3h0m21 5h0m19 0h0m47 3h0m4-7h0m-8 11h0m-29 6h0m0 3h0m-12-5h0m-14-2h0m-3 7h0m-73-5h0m-1-5h0m-1 5h0m-22-4h0m-14 3h0m28 9h0m30 1h0m58 8h0m16-2h0m20-4h0m10 17h0m-21-9h0m-16 9h0m-72-9h0m-31 4h0m-4 3h0m-4 0h0m-5-5h0m-15 3h0m24 13h0m17 3h0m2-6h0m4-4h0m46 6h0m-5 16h0m-23-3h0m-20-4h0m-64-3h0m47 19h0m6-3h0m29-1h0m3 3h0m0-4h0m5-1h0m4 3h0m6 2h0m-33 10h0m-12 6h0m-23 13h0m34-5h0m18 2h0m8-6h0m72 3h0m-65 11h0m-22-2h0m-19 4h0m-32 16h0m47-7h0"/>
<path stroke="#74ABE0" d="M219 213h0m-2-3h0m7 11h0m12-1h0m2 15h0m-14 7h0m6 9h0m142 11h0m-97-3h0m-8 1h0m-21-4h0m-3-3h0m-72 8h0m33 7h0m35 3h0m21 0h0m134 4h0m29 6h0m-166-1h0m-1-2h0m-24 4h0m25 7h0m44 1h0m105 1h0m-187 16h0m-15 2h0m-56 10h0m29-4h0m37 0h0m22 3h0m114-2h0m156 0h0m-70 12h0m-21-4h0m-86 5h0m-100 4h0m-72 11h0m21-8h0m41 2h0m165 3h0m20-3h0m68 3h0m-7 14h0m-23-6h0m-31 3h0m-7 5h0m-150 0h0m-21-6h0m-62 11h0m202 7h0m17-9h0m54 11h0m27 1h0m-30 3h0m-35 6h0m-3-8h0m-179 7h0m184 10h0m3-6h0m45 15h0m-24 7h0m-14-10h0m-190 10h0m-23-6h0m225 15h0m7 1h0"/>
<path stroke="#F59B0C" d="M517 184h0m-28 4h0m-19 11h0m3 3h0m22 1h0m2-2h0m24-1h0m21 1h0m11 13h0m-56-9h0m-4 7h0m-91 4h0m60 4h0m8 2h0m55 0h0m10 2h0m29 2h0m-7 4h0m-47 1h0m-118 7h0m34 8h0m13-6h0m2 3h0m26 5h0m1-7h0m5 6h0m8-4h0m10 6h0m38-2h0m13-2h0m7-4h0m12 1h0m-10 15h0m-11-1h0m-16 0h0m-25 1h0m-8-2h0m-22 5h0m-28-4h0m-2-4h0m-6 1h0m-6 0h0m-37 0h0m1 11h0m30 4h0m5 1h0m4-1h0m6-4h0m3 6h0m54 3h0m23-4h0m9 1h0m25 8h0m-72-2h0m-23 6h0m-3-1h0m-5-1h0m-13-1h0m-2 6h0m-1-6h0m-23 3h0m-14 4h0m17 2h0m28 2h0m43 6h0m16-2h0m29-6h0m1 10h0m1-4h0m22-1h0m-3 13h0m-45 1h0m-21-2h0m-35 5h0m23 8h0m3 3h0m28-6h0m18-3h0m12 4h0m-7 13h0m-3 2h0m-45 10h0m23 11h0m-21 12h0"/>
<path stroke="#0C84AC" d="M340 9h0m10-3h0m-2 13h0m-12-2h0m0-4h0m-1 10h0m-46-6h0m-29 10h0m19-2h0m4 1h0m10-2h0m23 4h0m3-4h0m2 9h0m34-8h0m3 10h0m63 3h0m-7 7h0m-105-1h0m-3-7h0m-33 6h0m-5-5h0m-33 8h0m0 3h0m31 6h0m1-5h0m8 0h0m21-2h0m6 4h0m17 7h0m17-10h0m3 9h0m17-5h0m16-2h0m24 0h0m7-2h0m10 1h0m9 2h0m25 12h0m-72 7h0m-8-8h0m-7 4h0m-4-6h0m-8 10h0m-16-9h0m-3 2h0m-29 0h0m-8 1h0m-10 6h0m-25-3h0m-8-2h0m32 13h0m2-3h0m38 3h0m7-2h0m22 4h0m5-6h0m17-1h0m31 2h0m105 10h0m-81 1h0m-4-2h0m-5 2h0m-3 2h0m-21 0h0m-2 2h0m-18 3h0m-11-9h0m-11 7h0m-1-4h0m-8 5h0m-5-2h0m-21-6h0m-5 5h0m-38-4h0m-22 4h0m-42-5h0m54 17h0m12-1h0m15-3h0m1 2h0m15 0h0m8 3h0m54 4h0m4-8h0m8 8h0m107 1h0m-65 8h0m-7-3h0m-28-2h0m-10 8h0m-9-9h0m-15 7h0m-20 0h0m-28-5h0m-1 6h0m-1-9h0m-24 6h0m-12-6h0m-7-1h0m-25 5h0m2 14h0m3 1h0m14 1h0m13 1h0m2-7h0m20 3h0m14-2h0m2 2h0m2 2h0m1-2h0m13 4h0m3 1h0m6-2h0m4-8h0m1 8h0m1-7h0m2 1h0m6-2h0m1-1h0m1 10h0m1-3h0m3-5h0m5 7h0m11-4h0m22 0h0m16 5h0m52 1h0m72 10h0m-39 0h0m-20 2h0m-41-9h0m-44 9h0m-2-8h0m-1 8h0m-4-4h0m-4-2h0m-5 3h0m0-2h0m-10 4h0m-1-6h0m-4 6h0m-3 1h0m-13-2h0m0-1h0m-2 0h0m-11-1h0m0 1h0m-11-7h0m-3 7h0m-8-6h0m-8 5h0m-7-5h0m-4 5h0m-2-4h0m-6 4h0m-22-7h0m-21 1h0m-97 19h0m28 1h0m107-6h0m0-2h0m9 3h0m0 5h0m7-7h0m6 7h0m4-5h0m3 1h0m12-4h0m1 10h0m4-10h0m7 3h0m6-1h0m9 7h0m5-9h0m2 10h0m15-3h0m19-1h0m3 1h0m2 2h0m3 1h0m6-10h0m5 9h0m9-2h0m8-1h0m15 0h0m15 3h0m16 0h0m70 1h0m-112 6h0m-1 0h0m-9-2h0m-17-1h0m0-1h0m-6 10h0m-5-1h0m-2-10h0m-29 6h0m-1 4h0m-10-1h0m-12-3h0m0-1h0m-7 5h0m-3-7h0m-4-3h0m-4 4h0m-1 7h0m-2-2h0m0-6h0m-2 2h0m-6 2h0m0 4h0m-2-9h0m-1 3h0m-4-3h0m-3 1h0m-1-3h0m-17 5h0m-23 2h0m-66 16h0m95-5h0m0-5h0m5 5h0m8 4h0m27-10h0m1 5h0m7-5h0m0 10h0m9-6h0m1-4h0m33 1h0m10-1h0m1 8h0m1-6h0m3-1h0m11 8h0m11-6h0m9-2h0m1 10h0m8-3h0m2-4h0m0 3h0m3-1h0m4 1h0m6 8h0m-50 6h0m-11-5h0m-2 0h0m-2 6h0m-1-5h0m-5 2h0m-3 1h0m-10 2h0m-6 1h0m-6-1h0m-29-9h0m-3 8h0m-6-4h0m-1 1h0m0-6h0m-1 2h0m-12 7h0m-6-3h0m-4-5h0m-6 6h0m-9-7h0m-6 1h0m-1-1h0m-38 8h0m-24 0h0m-79-1h0m19 16h0m18-7h0m2 3h0m79 3h0m30-7h0m36 2h0m3 6h0m17-9h0m9 3h0m14 4h0m2-1h0m17-2h0m6-5h0m0-1h0m11 4h0m1-4h0m5 5h0m14-1h0m0 3h0m27 2h0m5-3h0m4-3h0m0 4h0m5-1h0m8-3h0m3 12h0m-1-2h0m-6 1h0m-3 7h0m-12 1h0m-1 1h0m-7-1h0m-12-6h0m-11 3h0m-10-7h0m-1 5h0m-5 0h0m-26 0h0m-2 3h0m-9-6h0m-20 0h0m-5 2h0m0 7h0m-12-3h0m-16-8h0m-16 11h0m-16-11h0m-28 4h0m-3-1h0m-5 0h0m-4 4h0m-6 4h0m-2-10h0m-8-1h0m-15 2h0m-19 7h0m-1-9h0m-64 11h0m-8-1h0m60 5h0m16 4h0m11 1h0m40 3h0m46-6h0m15 1h0m14-3h0m2-2h0m36 6h0m9-7h0m2 11h0m6 0h0m6-5h0m5 2h0m1 3h0m2-1h0m13-1h0m10 2h0m10-4h0m11-4h0m3 0h0m7 6h0m3 2h0m2-7h0m2 2h0m8 1h0m4 3h0m5-1h0m45 1h0m17-3h0m-50 6h0m-20 1h0m-9-2h0m-2 10h0m-17-2h0m-11 1h0m-1 2h0m-3-7h0m-8 1h0m-23-5h0m-1 10h0m-3-9h0m-10 8h0m-3-1h0m-9 2h0m-17-2h0m-1 1h0m-12-8h0m-26-1h0m-7 2h0m-15 2h0m-16-1h0m-17 0h0m-16 0h0m-65-1h0m-25 2h0m-8 5h0m-5-8h0m-11 8h0m2 12h0m8-2h0m23-3h0m50 6h0m5-5h0m14-1h0m18 5h0m5-1h0m51-2h0m8 1h0m26-5h0m11 5h0m13-4h0m9 1h0m2 0h0m1 1h0m5-5h0m2 4h0m9 0h0m5 0h0m2 3h0m4 2h0m11-1h0m23-1h0m6-6h0m3 2h0m8 5h0m0 3h0m21-3h0m35-4h0m-32 13h0m-10 5h0m-6-5h0m-28-2h0m-19 5h0m-3 1h0m-10-5h0m-23 3h0m-42-4h0m-5 7h0m-14-5h0m-23 4h0m-29-4h0m-74 3h0m-40-2h0m-8 9h0m49-1h0m108 8h0m8 0h0m0-1h0m39-6h0m0 3h0m3 5h0m18-3h0m3-3h0m6-2h0m47 3h0m17 3h0m6 2h0m15-8h0m8 8h0m-35 7h0m-14-6h0m-13 0h0m-2 2h0m-32-1h0m-39 2h0m-2 5h0m-48-1h0m-79 1h0m-13-4h0m-22 6h0m-10-3h0m-2 2h0m141 5h0m10 1h0m1 1h0m15 2h0m27 2h0m31-8h0m38 10h0m25 1h0m-17 12h0m-15-6h0m-1-3h0m-37 5h0m-31-7h0m3 15h0m45 3h0m18 1h0m64 4h0m16 8h0m-8 61h0"/>
<path stroke="#8B82E0" d="M249 26h0m81 6h0m-67 8h0m-18-2h0m-57 15h0m34 12h0m-17-2h0m-14 1h0m-8-1h0m48 9h0m7 6h0m15-4h0m-10 13h0m-8-2h0m-22 9h0m-22 11h0m48-2h0m-49 8h0m-4-2h0m-30 8h0m6 4h0m44 10h0m18-5h0m18-3h0m9 1h0m9 7h0m36-2h0m14-6h0m3-3h0m4 3h0m40 10h0m-13 9h0m-22-9h0m-8 8h0m0 1h0m-12-3h0m-5-5h0m-8 9h0m-18-1h0m-7-6h0m-4 3h0m-3 2h0m-15-2h0m-17-3h0m-7-3h0m-57 7h0m-4-8h0m21 13h0m36 6h0m30 1h0m3-7h0m13-1h0m2 0h0m8 0h0m2 11h0m3-4h0m16 1h0m3-5h0m9-2h0m0 4h0m6 2h0m3-1h0m12 1h0m1-3h0m1 2h0m15 3h0m40 4h0m-21 7h0m-43-3h0m-10-4h0m-10 9h0m-5-4h0m-7-3h0m-6 5h0m-7 2h0m-26-10h0m-2 8h0m-11-4h0m-9 2h0m-4-3h0m-25 3h0m-4-5h0m-4-1h0m-15 16h0m36 1h0m3 5h0m7-7h0m4 3h0m10-2h0m17 2h0m1 5h0m1-7h0m2 3h0m6-1h0m1 2h0m3-6h0m9 1h0m2 4h0m23-3h0m5 5h0m23-7h0m2-2h0m4 8h0m5-4h0m4 5h0m4-9h0m5 10h0m32 0h0m2-2h0m15 7h0m-9 0h0m-38 0h0m-4-3h0m-37 6h0m-11-4h0m-2 6h0m-3-3h0m-2-4h0m-9 0h0m-1 5h0m-7-5h0m-2 4h0m-4 4h0m0-3h0m-5 3h0m0-2h0m-2-2h0m-1-4h0m-1 6h0m-5 4h0m-1-2h0m-3-1h0m-1-5h0m-3 1h0m-5-3h0m-4 0h0m-5 0h0m0 4h0m-1 1h0m-1 1h0m-1 0h0m0-5h0m-4 7h0m-14-6h0m-6-2h0m-14 6h0m-14 4h0m-42-6h0m64 8h0m6 2h0m10 4h0m19-7h0m3 4h0m4 6h0m6 1h0m4-2h0m0 1h0m2 0h0m3 1h0m2-8h0m1 7h0m3-3h0m4-7h0m2 6h0m1-5h0m2 3h0m3 4h0m6 2h0m1-7h0m9 7h0m5-6h0m0 5h0m0-3h0m5 4h0m1 1h0m25-7h0m1-4h0m12 1h0m20 2h0m13 19h0m-7-1h0m-7 1h0m-13-3h0m-21 0h0m-4-6h0m-10 4h0m-8-5h0m-1 7h0m-3-7h0m-1 1h0m-1 7h0m-5-4h0m-5 4h0m-11 3h0m-4-5h0m-7-6h0m-1 1h0m-3 10h0m-5-2h0m-5-8h0m-4 10h0m-4 0h0m-2-11h0m-3 8h0m-4 3h0m-1-4h0m-2-6h0m-2 2h0m-1 8h0m-2-10h0m-2 9h0m0-6h0m-1 4h0m-3-6h0m-6 1h0m-37 6h0m0-3h0m-42 13h0m31-4h0m10 6h0m7 2h0m24-3h0m5-2h0m19 2h0m1 2h0m1-2h0m1-6h0m1 7h0m1-4h0m1 2h0m3-1h0m9-3h0m4 3h0m0 0h0m3 4h0m12-6h0m10-3h0m2 7h0m1 1h0m4 1h0m0 0h0m6-3h0m2 4h0m15-3h0m5-1h0m20-1h0m17-6h0m8 7h0m7 1h0m9-8h0m5 16h0m-3-1h0m-20 7h0m-2-8h0m-1 6h0m-19-7h0m-13 4h0m-16 2h0m-2-2h0m-15 5h0m-24-1h0m-10 0h0m0 1h0m-1 1h0m0-8h0m-3-3h0m-1 11h0m-1-11h0m-5 5h0m-3-1h0m-7 2h0m-3 0h0m-6 1h0m-4 1h0m-44-2h0m-24 12h0m45-5h0m23-1h0m3 2h0m5-1h0m1 2h0m1 2h0m2 4h0m15-8h0m1 1h0m2 3h0m3 6h0m6 0h0m1-10h0m2 2h0m1 6h0m1 1h0m1-4h0m2 0h0m1 0h0m7-5h0m17 6h0m3-6h0m0 2h0m1 1h0m13 1h0m7-5h0m15 1h0m12 8h0m11-8h0m30 0h0m1 5h0m-1 8h0m-18 3h0m-20 0h0m-14-4h0m-14 0h0m-24 4h0m-7-4h0m-3 1h0m-4-2h0m-8 0h0m-5 9h0m-2-3h0m-1 0h0m-13 4h0m-5-7h0m-2 1h0m-5-4h0m-6 3h0m-1 1h0m-1-4h0m-2 4h0m-1 1h0m0 3h0m-1 3h0m-2-4h0m-4-5h0m-3 9h0m-13-6h0m-23-1h0m-15 0h0m-4-2h0m4 18h0m9 3h0m55-10h0m2 5h0m6-4h0m11 1h0m4 1h0m2-3h0m4 10h0m20-10h0m28 3h0m26 5h0m23-6h0m-24 13h0m-5 0h0m-56 5h0m-3-5h0m-11-4h0m-1 11h0m-4-9h0m-4 8h0m-4-8h0m-9 2h0m-34 3h0m-49-3h0m-12 15h0m34 0h0m5-1h0m31 2h0m19-7h0m18 8h0m34-7h0m7 5h0m1-1h0m15-1h0m-4 12h0m-23 0h0m-25 2h0m-47-4h0m-1 3h0m-40-4h0m123 12h0m32 5h0m-169 15h0m163 8h0m27 0h0"/>
<path stroke="#E8505E" d="M123 252h0m4 37h0m75 30h0"/>
<path stroke="#0C84AC" d="M338 6h0m15 2h0m6 10h0m-3-1h0m-3-3h0m-29 4h0m-10 2h0m-6-2h0m-7 0h0m-7 2h0m-14-5h0m-29 16h0m35-4h0m38 4h0m24-4h0m47 7h0m4 3h0m-22 5h0m-6 1h0m-25-5h0m0 5h0m-4 2h0m-4-9h0m-7 4h0m-13 5h0m-20-9h0m-3 7h0m-39 3h0m-1-7h0m-21 0h0m-3-3h0m-20 12h0m39 8h0m5 2h0m4-3h0m13-5h0m8 7h0m4 1h0m3-8h0m3-1h0m15 5h0m16-3h0m8 8h0m13-2h0m9-7h0m8 3h0m12-5h0m7 0h0m26 6h0m26 1h0m47 6h0m-51 4h0m-39 4h0m-24-9h0m-1 10h0m-18-9h0m-48-1h0m-26 10h0m-11-8h0m-17 0h0m-12-1h0m17 14h0m20 5h0m34-6h0m4 9h0m7-2h0m8 1h0m1-8h0m17 7h0m4 2h0m2-10h0m13 5h0m6-5h0m8-1h0m49 11h0m13-1h0m-3 7h0m-24-3h0m-8 9h0m-38-1h0m-3 1h0m-24 0h0m-37-7h0m-3-4h0m-10 6h0m-26-5h0m40 14h0m2 1h0m9-3h0m0 8h0m4-8h0m23 9h0m1-7h0m10-3h0m8 2h0m19 9h0m41-7h0m35 8h0m-6 6h0m-23 4h0m-20-4h0m-38 2h0m-9-3h0m-3-1h0m-5-4h0m-4 10h0m-2-8h0m-15 9h0m0-4h0m-14-4h0m-26-2h0m-42 9h0m37 3h0m19 6h0m3 2h0m5-5h0m1 5h0m0-6h0m4 0h0m5 0h0m5-3h0m10 3h0m1-3h0m1 5h0m3 1h0m7 3h0m0-4h0m10 0h0m3 3h0m28-2h0m7-4h0m5 4h0m16-4h0m48 3h0m-30 15h0m-17 2h0m-23-4h0m-16 2h0m-12-8h0m-4 6h0m-9 0h0m-3-4h0m-1 1h0m-9 4h0m-3-4h0m-1 8h0m-1-6h0m-1-1h0m-27-3h0m-4 8h0m-17-3h0m-4-4h0m-93 6h0m79 13h0m6-1h0m4-4h0m4 2h0m0 0h0m5 5h0m5-10h0m7 1h0m1 9h0m8-9h0m0 9h0m1-5h0m4 5h0m3-1h0m3-6h0m1-1h0m2 2h0m7 2h0m5-4h0m5 4h0m10 0h0m1-6h0m7-1h0m9 10h0m3 0h0m2-9h0m1 0h0m1 0h0m5 2h0m1 7h0m9-9h0m10 2h0m2 1h0m6-3h0m15 1h0m6-2h0m5 10h0m45 0h0m40-5h0m-17 18h0m-79-8h0m-18 7h0m-12-8h0m0 6h0m-26 0h0m-10-3h0m-4 1h0m-5-6h0m-3 5h0m-8-3h0m-3 7h0m-24-8h0m-10 6h0m-1-3h0m-7 2h0m-22-5h0m-5-1h0m-7 10h0m-11-1h0m-21-9h0m-43 9h0m-25-7h0m-21 0h0m-5 9h0m-7 7h0m38-1h0m23-3h0m40 7h0m10-3h0m29-6h0m1 9h0m35-6h0m2-3h0m17 2h0m4-2h0m13 2h0m9 9h0m2-5h0m30 0h0m15-4h0m3 1h0m43 8h0m25-9h0m9 12h0m-32 7h0m-4-4h0m-7 3h0m-11-7h0m-3 2h0m-3 0h0m-6 6h0m-1-7h0m-3 6h0m-4-7h0m-16 5h0m-13-1h0m-3-3h0m-4 2h0m-2 1h0m-1-1h0m-3-4h0m-5 5h0m-3 4h0m-12-1h0m-6-8h0m-1 7h0m-1 0h0m-1-3h0m-15 3h0m-3-6h0m-5 10h0m-3 0h0m-54-11h0m-40 1h0m-33-1h0m-3 9h0m-15 1h0m-4-10h0m-44 21h0m4-1h0m21 3h0m12-9h0m23 1h0m4 4h0m54-2h0m12 3h0m26-6h0m3 2h0m14-4h0m3 11h0m10-7h0m10 5h0m16-6h0m6 1h0m12 0h0m3 1h0m2 5h0m8-10h0m6 11h0m13-9h0m32 0h0m4 6h0m2 2h0m6-8h0m16 2h0m1 2h0m7 0h0m4 5h0m27-1h0m37 0h0m-65 5h0m0 5h0m-9-4h0m-2-1h0m-8 6h0m-4-7h0m-8 5h0m-14-7h0m-10 6h0m0-4h0m0 7h0m-3-2h0m-15 4h0m-6-6h0m-7 2h0m-9 0h0m-12 1h0m-2 2h0m-2-10h0m-4 10h0m-2-2h0m-4 3h0m-17-4h0m-9 4h0m-2-2h0m-23-3h0m-19 0h0m-9-3h0m0-1h0m-40-2h0m-34 1h0m-22 6h0m-36-4h0m36 10h0m2 10h0m17-3h0m53 2h0m28-3h0m19 0h0m18 0h0m12-4h0m12 1h0m7 3h0m9 1h0m1 3h0m27-2h0m18 1h0m0-10h0m2 2h0m4 4h0m1-1h0m13 1h0m8 4h0m7-9h0m0-1h0m8 7h0m2-3h0m2 3h0m1-6h0m10 8h0m0-5h0m49 18h0m-22-10h0m-13 11h0m-4-4h0m-23-1h0m-9-1h0m-10-1h0m-33 1h0m0 3h0m-2-3h0m-11-4h0m-5 8h0m-30-5h0m-3-3h0m-2 8h0m-16-8h0m-2-1h0m-1 10h0m-1-6h0m-21 6h0m-2-7h0m-5 2h0m-22-4h0m-9 0h0m-43 4h0m-47-4h0m-11 19h0m5-1h0m8 1h0m42 3h0m26-1h0m13-8h0m20 3h0m6 6h0m17-3h0m12 2h0m17-5h0m20 5h0m0-9h0m13 10h0m9-3h0m1-2h0m1-1h0m10-5h0m3 0h0m3 8h0m8-4h0m7 5h0m6 1h0m5-5h0m33-3h0m5 9h0m12-9h0m12 8h0m-3 2h0m-21 3h0m-2-1h0m-38-1h0m-4 8h0m-3-9h0m-7 1h0m0 6h0m-9 3h0m-43-8h0m-1 5h0m-16-4h0m-74-2h0m-28-1h0m-46 5h0m-7 5h0m-9 10h0m12 2h0m4-7h0m37 6h0m26-9h0m29 4h0m17 2h0m30-3h0m41 0h0m3 5h0m16 3h0m35-9h0m23 0h0m10-2h0m6 0h0m11 8h0m5 1h0m19-5h0m19 13h0m-44 5h0m-36-6h0m-22 2h0m-21-2h0m-16 3h0m-32-6h0m-49 21h0m4-10h0m42 0h0m11 3h0m135 3h0m52 16h0m-92 0h0m-14-1h0m-9-2h0m-61-3h0m-37 13h0m56 3h0m46-7h0m8 8h0m27-8h0m-44 14h0m-24 14h0m118 6h0m23-7h0m-77 19h0m-56 14h0m80 19h0m-65 33h0"/>
<path stroke="#74ABE0" d="M230 215h0m15 20h0m-3 11h0m5 1h0m23-4h0m-16 9h0m-42 17h0m24 2h0m164-5h0m119 19h0m-100 1h0m-37-7h0m-95-2h0m-27 0h0m-2 8h0m-13 0h0m-20-8h0m-43 22h0m2-7h0m58 1h0m39-4h0m107-1h0m61 13h0m-7 1h0m-49-1h0m-32 7h0m-170-3h0m-8 8h0m36 0h0m16 2h0m47 2h0m4 6h0m111-10h0m16 15h0m-4-3h0m-9 10h0m-245-6h0m8 9h0m60-2h0m154 6h0m39-3h0m15-3h0m20 1h0m37 9h0m15-8h0m-69 20h0m-4 1h0m-4-4h0m-38 1h0m-178-6h0m-31 8h0m24 11h0m200-5h0m7-1h0m7 4h0m38 11h0m-3 5h0m-75 11h0m27-1h0m22 3h0m-12 8h0m-1-6h0m-4-2h0m-1 12h0m21 2h0"/>
<path stroke="#7DDCBE" d="M421 33h0m19 13h0m-26 7h0m54 0h0m0 3h0m-6 6h0m-7-1h0m-5 10h0m-27-9h0m-69 20h0m39-1h0m42-1h0m56 7h0m-46-3h0m-11 6h0m-15 0h0m-10-2h0m-20 11h0m92 1h0m-37 9h0m-101 5h0m-16-1h0m-31 11h0m19-2h0m24 7h0m18-2h0m38 2h0m1-7h0m41 21h0m-17-4h0m-3 4h0m-18 0h0m-3 0h0m-18-3h0m-10 1h0m-2 0h0m-6-1h0m-20-6h0m-6-1h0m-31 6h0m-11 12h0m5 3h0m44-1h0m1 2h0m0-10h0m18 6h0m10 1h0m3 2h0m9 0h0m4-5h0m9 2h0m1 4h0m2-1h0m2-3h0m4 0h0m4 3h0m2-8h0m0 6h0m12 3h0m46 0h0m11 2h0m-56 4h0m-15-3h0m-4 1h0m-2 0h0m-2-1h0m-1-2h0m-13 11h0m-4-11h0m-17 8h0m-9-3h0m-2-5h0m-6 10h0m-4 0h0m-4 0h0m-4 0h0m-2-7h0m-9 0h0m-10 1h0m-3 0h0m-15-3h0m-6 5h0m-39-1h0m0 10h0m17-3h0m3 0h0m0 4h0m1-4h0m8 10h0m6 0h0m13-7h0m13 7h0m23-10h0m15 1h0m15 4h0m1-3h0m10-2h0m1 2h0m8-2h0m3 1h0m5 1h0m10 5h0m6-4h0m16 1h0m-23 8h0m0 0h0m-11 3h0m-2-2h0m-1 8h0m-11-4h0m-11 3h0m-10-8h0m-15 10h0m-11 0h0m-20-3h0m-4-7h0m-6 0h0m-4 1h0m-2 6h0m-1-4h0m-5-3h0m-10 1h0m-15 6h0m-18 0h0m-2 1h0m-22 8h0m29 7h0m14-6h0m20-5h0m2 6h0m1 1h0m24 0h0m4 2h0m2-7h0m9 3h0m7-2h0m10 1h0m4 7h0m3 0h0m1-4h0m17 0h0m28 3h0m7-3h0m0 2h0m2-3h0m30-4h0m3 7h0m0-3h0m3 4h0m-3 13h0m-5-10h0m-5 7h0m-18-5h0m0 2h0m-2 5h0m0-5h0m-52 0h0m-7-2h0m-24-2h0m-9 6h0m-2-6h0m-1 2h0m-33 0h0m-51-2h0m-6 0h0m-6 14h0m46 4h0m27-5h0m6 8h0m6-10h0m20 10h0m17-2h0m5 0h0m18-7h0m12 2h0m7-2h0m31 1h0m8 0h0m5 0h0m6 2h0m15 16h0m-12-1h0m-1-5h0m-7 4h0m-21 4h0m-13-1h0m-14-7h0m-1 8h0m-22 0h0m-8-1h0m-12-7h0m-17 2h0m-8 5h0m-17-2h0m-53 6h0m10 4h0m8 5h0m15-5h0m6-3h0m21 1h0m11-3h0m3 4h0m4 1h0m13-3h0m23-1h0m13 9h0m15-10h0m18 7h0m17-6h0m11 10h0m-103 12h0m-7-4h0m-11-2h0m-11 4h0m-10 2h0m-7-8h0m-16 4h0m-9-7h0m-32 0h0m95 20h0m122-1h0m-173 23h0m62 1h0m44 6h0m-28 2h0m-16 4h0m-15-2h0m69 13h0"/>
<path stroke="#E8505E" d="M112 305h0m70 12h0m32 8h0"/>
<path stroke="#52C3B4" d="M159 91h0m306 10h0m48 14h0m-103 15h0m92-2h0m29-2h0m-2 6h0m-113 1h0m-294 6h0m131 16h0m140-11h0m-146 16h0m144 11h0m21 0h0m101 8h0m-57 12h0m-251 0h0m-5 10h0m201-3h0m-282 36h0m74 23h0m-38-3h0m3 31h0"/>
<path stroke="#52C3B4" d="M186 72h0m320 18h0m-316 4h0m27 4h0m275 13h0m-36-1h0m-238 14h0m255 7h0m27-9h0m34 18h0m-80 12h0m81 2h0m-138 12h0m-3 8h0m119-2h0m11-2h0m-402 12h0m5 15h0m30-2h0m262 0h0m-35 30h0m-194 12h0m8 16h0"/>
<path stroke="#8B82E0" d="M191 55h0m5-2h0m-14 30h0m24-2h0m53 11h0m-3 0h0m-23-1h0m-8-1h0m-38 1h0m-32 5h0m11 3h0m5 2h0m37 0h0m5 4h0m12 2h0m77-10h0m-70 13h0m-1 5h0m-3-1h0m-25 2h0m-2-6h0m-5 0h0m-7 8h0m-9-9h0m-1 8h0m-37 1h0m24 2h0m116 9h0m28-3h0m-11 7h0m-5-1h0m-26 7h0m-7-5h0m-6 4h0m-13-5h0m-25 6h0m-2 3h0m-8 0h0m-75-6h0m54 12h0m27 6h0m3 0h0m5-10h0m32 11h0m9-1h0m8-2h0m4-8h0m20 8h0m9 0h0m13-1h0m1 2h0m4 1h0m2-1h0m-3 4h0m-1 7h0m-7-6h0m-8-2h0m-5 8h0m-5-1h0m-3-6h0m-6 3h0m-8 6h0m-2-3h0m-7 3h0m-12 1h0m-2-2h0m-3-6h0m-4-2h0m-2 8h0m-8-6h0m-1 6h0m-9-1h0m-20 3h0m-16-7h0m-64 12h0m62 2h0m23-5h0m2 4h0m24 4h0m6-2h0m2-5h0m0 6h0m3 2h0m1-4h0m2 4h0m8-10h0m2 2h0m1 9h0m5-9h0m0-2h0m21 9h0m1-5h0m4 6h0m0-10h0m20 5h0m31 2h0m16-5h0m9 9h0m7-6h0m14 7h0m0 2h0m-16-2h0m-31 10h0m-1-8h0m-1 1h0m-20 6h0m-6 1h0m-7-5h0m-3-2h0m-9 6h0m-4-4h0m-8-2h0m-2 8h0m-21-1h0m-2-10h0m-17 11h0m-2-7h0m-1 5h0m-4-7h0m-10 8h0m-13-9h0m-39 10h0m-67-3h0m27 6h0m12 7h0m18-3h0m14 0h0m9-4h0m9 7h0m28-7h0m3 3h0m1 2h0m1-6h0m4 0h0m3 10h0m1-3h0m2-4h0m3 0h0m5-1h0m0 6h0m12-2h0m0-1h0m0-5h0m5 1h0m6 6h0m8 3h0m1 0h0m1-8h0m5 0h0m3 3h0m1-6h0m1 1h0m3 3h0m1 0h0m18 2h0m7 5h0m11-6h0m2-4h0m4-1h0m45 7h0m9-6h0m-12 20h0m-25-8h0m-2 6h0m-1-2h0m-11 6h0m-22-6h0m-4-4h0m-5 2h0m-6 3h0m-9-5h0m-8 0h0m-2 5h0m-8-6h0m0 10h0m-1-3h0m-7-4h0m-6 7h0m-4-6h0m0 7h0m0-10h0m-1 7h0m-4 3h0m-5-10h0m0 8h0m-1-8h0m0 3h0m-8-2h0m0 1h0m-1 1h0m-1-2h0m-2 3h0m-15 1h0m-5 4h0m-3-5h0m-18-3h0m-2 9h0m-7-10h0m-23 7h0m-2-8h0m-51 17h0m88-1h0m8 4h0m3-3h0m4-2h0m4 4h0m8-5h0m0 9h0m1-8h0m0 6h0m2-8h0m1 2h0m0 0h0m1 0h0m1 3h0m3-1h0m1-1h0m1 6h0m0-6h0m0-1h0m2-3h0m3 2h0m3 0h0m0 4h0m13 3h0m1-5h0m1-1h0m0 2h0m2 3h0m0-1h0m4-1h0m5-5h0m2 7h0m22 1h0m6 1h0m13-8h0m5 2h0m9 1h0m1 1h0m9 0h0m23 0h0m8 1h0m11 0h0m2-4h0m0 4h0m9-1h0m0 17h0m-10-1h0m-24-1h0m-39-2h0m-1-1h0m-3-4h0m-22 6h0m-2-3h0m-3 3h0m-1-7h0m-4 6h0m0-5h0m-11 0h0m-3-1h0m-6 2h0m-12 4h0m-5-1h0m-2 5h0m-1-11h0m-1 5h0m-1 4h0m-3-2h0m-3-5h0m-2 6h0m-3 2h0m-5-1h0m-13 1h0m8 2h0m3 3h0m0 0h0m3 5h0m3 1h0m4-2h0m2-1h0m4 3h0m1-7h0m4 0h0m1 9h0m1-5h0m5-6h0m0 7h0m1-5h0m6 9h0m0-2h0m15-1h0m3-5h0m4 3h0m0-2h0m0 4h0m3-2h0m1 4h0m6-5h0m1 2h0m1-7h0m4 2h0m1 5h0m9 2h0m2 2h0m12-5h0m15-4h0m2-2h0m10 2h0m4 1h0m34 6h0m-1 3h0m-27 2h0m-4 6h0m-7 3h0m-16 0h0m-4-1h0m-29-2h0m-6 1h0m-9-8h0m-8 5h0m-3-4h0m-5 4h0m-1 0h0m-1-1h0m-6 1h0m-2 1h0m-1-5h0m-6 3h0m-10 4h0m-6-5h0m-4 4h0m-10 2h0m-13 1h0m-48 12h0m33-9h0m13 7h0m1-7h0m6 9h0m13-9h0m3 2h0m8 0h0m9 7h0m10-2h0m9-4h0m15 4h0m2-8h0m4 7h0m17 3h0m1-11h0m14 3h0m61 1h0m-35 14h0m-30 3h0m-22-9h0m-5 5h0m-14-4h0m-2 0h0m-7 5h0m-7 0h0m0-5h0m-9 5h0m-3-6h0m-19 10h0m5 11h0m3 1h0m34-10h0m1 2h0m4 7h0m8-8h0m42-1h0m4 21h0m-16-3h0m-17 3h0m-1-2h0m-3 1h0m-31 2h0m-39-7h0m-73 1h0m81 15h0m81 12h0m-18 5h0m34 11h0m-104 6h0m3 27h0"/>
<path stroke="#F59B0C" d="M485 197h0m6-2h0m27 3h0m14 2h0m6 0h0m16-3h0m-8 15h0m-23 0h0m-6-5h0m-47 8h0m-94-3h0m51 7h0m87-2h0m15 5h0m2 5h0m-26 11h0m-7-6h0m-7 5h0m-2-6h0m-53 7h0m-67 9h0m32-5h0m22-2h0m20 10h0m2-6h0m13-3h0m13 8h0m8-8h0m3 10h0m8-6h0m2-3h0m57 5h0m-14 8h0m-6 5h0m-7 0h0m0-6h0m-6-2h0m-19 11h0m-60-4h0m-46 8h0m0-1h0m20 9h0m3-7h0m2 6h0m18-10h0m9 10h0m7 0h0m8-4h0m16 3h0m47-5h0m1 4h0m5-4h0m1 7h0m-1 6h0m-4 1h0m-9-6h0m-42 8h0m-41-8h0m-40 3h0m-3 3h0m19 9h0m1 1h0m3-2h0m13-2h0m39 1h0m16 0h0m21 3h0m11 7h0m3-5h0m8 5h0m17 3h0m-16 2h0m-3 2h0m-30 3h0m-34-5h0m-8 0h0m-17 16h0m35-8h0m41 10h0m1-9h0m24 8h0m-6 6h0m-9 5h0m-5 2h0"/>
<path stroke="#E3BD80" d="M380 142h0m-56-4h0m-62 14h0m8 2h0m71-8h0m47 1h0m2 4h0m10 2h0m-7 13h0m-17 0h0m-9-1h0m-13-6h0m-6-3h0m-6 0h0m-3 9h0m-13-4h0m-16-2h0m-62 5h0m87 9h0m17 6h0m7-1h0m34-8h0m9 4h0m57-6h0m3 5h0m4 1h0m-48 17h0m-1-10h0m-24 5h0m-1-1h0m-30-4h0m-2 10h0m-25-11h0m-9 2h0m-18 17h0m26-6h0m4 5h0m5 3h0m15-9h0m28 10h0m33 1h0m12 10h0m-9 1h0m-12-6h0m-15 5h0m-3-6h0m-21 1h0m-4 1h0m-11 4h0m-2-7h0m-11 4h0m-11 0h0m-1 3h0m-3-5h0m-3 5h0m-32-1h0m-20-1h0m-4 9h0m8 2h0m10 2h0m5-8h0m0 0h0m27 2h0m7-1h0m2-1h0m0 4h0m3 0h0m15 7h0m8-11h0m4 10h0m4-2h0m27-2h0m12 4h0m8-5h0m1-1h0m5 0h0m1 6h0m3-1h0m1 1h0m13 0h0m38 0h0m5 6h0m-28 3h0m-4 1h0m-6 0h0m-1-3h0m-3-3h0m-3-2h0m-10 7h0m-6-2h0m-5-2h0m-15-3h0m-18 10h0m-3 1h0m-26-3h0m-1-7h0m-4 8h0m-9-8h0m-3 3h0m-14-3h0m-4 0h0m-15 4h0m-2-1h0m-10 5h0m-1-1h0m-1-2h0m-2 1h0m-4-4h0m-3 7h0m-1-3h0m-18 3h0m-7-8h0m-10 5h0m-4 3h0m-12 13h0m1-8h0m6-1h0m6 7h0m19-4h0m3-2h0m23-2h0m8 3h0m1-4h0m9 4h0m4-2h0m1 0h0m3 7h0m2 2h0m1-3h0m1-5h0m0 8h0m31-10h0m1 7h0m1-4h0m3-3h0m19 7h0m4 3h0m1-4h0m6-7h0m6 0h0m5 8h0m3-8h0m11 3h0m1-2h0m8 0h0m3 9h0m5-2h0m1-4h0m4 2h0m8 0h0m5-3h0m1 6h0m5 1h0m2-5h0m17-1h0m2 8h0m-12 3h0m-13-2h0m-18 0h0m-1 3h0m-3-2h0m-4-2h0m0 9h0m-5-7h0m-9 8h0m-7 1h0m0-8h0m-3-3h0m-4 11h0m-7-5h0m-11 5h0m-8-3h0m-1 3h0m-1-7h0m-2 6h0m-2-7h0m-1 1h0m-2 0h0m-3 0h0m-13 6h0m0 1h0m-4-11h0m-9 7h0m-5-3h0m-12 4h0m-6-6h0m-6 1h0m-12 0h0m-2 6h0m-6 2h0m-12-10h0m-11 2h0m-4 0h0m-3 1h0m-32 17h0m22-9h0m3 8h0m5 1h0m2 1h0m17-10h0m0 8h0m11-1h0m6-5h0m0 2h0m2 1h0m7 1h0m3-2h0m2 6h0m3-5h0m2-4h0m1 7h0m2-8h0m11 10h0m4-9h0m2 0h0m15-1h0m5 1h0m2 8h0m7-4h0m0-2h0m1-2h0m1 4h0m1 4h0m11-9h0m3 9h0m1-3h0m12-1h0m11-1h0m2 7h0m2-4h0m4-1h0m2-2h0m10 2h0m12-2h0m15 1h0m5-2h0m31 8h0m-43 5h0m-9 3h0m-14-1h0m0-5h0m-1 5h0m-3 3h0m-15-9h0m-7 0h0m-1 6h0m-6 0h0m0 5h0m-2-8h0m-7 0h0m-8 3h0m0-2h0m-1 4h0m0-7h0m-2 3h0m-2-2h0m-2 8h0m-10-6h0m-3-4h0m-6 9h0m0-3h0m-1-1h0m-2 5h0m-2-1h0m0 2h0m-1-7h0m-7-3h0m0 9h0m-2 0h0m0-9h0m-1 5h0m-4-4h0m0 0h0m-2-2h0m-1 3h0m-2 8h0m-1-5h0m-4 2h0m-5-1h0m-1-3h0m-10 2h0m0-1h0m-9-4h0m-2 7h0m-3 2h0m-2-9h0m-7 7h0m-5-6h0m-11 4h0m-18 17h0m0-11h0m3 4h0m16 7h0m9-7h0m1 3h0m1 3h0m1-5h0m1 5h0m1-6h0m6 5h0m5-8h0m1 7h0m2-3h0m4 2h0m1-5h0m1-2h0m2 6h0m4-1h0m8 1h0m14 5h0m2-11h0m2 1h0m3 9h0m6-9h0m3 10h0m4-5h0m0-5h0m1 8h0m11 1h0m6-5h0m2 3h0m4-4h0m3-4h0m4 3h0m1 8h0m1-1h0m5 1h0m7-6h0m5 2h0m8-4h0m0-3h0m1 1h0m0 4h0m7 5h0m10-3h0m2 4h0m70 3h0m-15-1h0m-6 6h0m-17-2h0m-4-3h0m-20-1h0m-7 4h0m-10-3h0m-4-2h0m-3 2h0m-9 1h0m-3 2h0m-4 3h0m-2-8h0m-4 2h0m-4 1h0m-4 2h0m-2 0h0m-5 0h0m-2 5h0m0-1h0m-4 2h0m-7-7h0m-1 6h0m-1 1h0m0 0h0m-9-1h0m-7-10h0m-1 3h0m-1 1h0m-5-2h0m-3-2h0m-3 3h0m0-3h0m-1 4h0m0 1h0m0-4h0m-2 8h0m0 1h0m-3-10h0m-3 4h0m-1 3h0m-1-7h0m0 4h0m0-1h0m-3 2h0m0-2h0m-1 3h0m-3 4h0m-3-2h0m0 3h0m0-7h0m-2-4h0m-1 2h0m-5-1h0m-3 9h0m-1 1h0m-1 0h0m-1-3h0m0-8h0m-1 3h0m-12 6h0m-14 2h0m-6-5h0m0-6h0m-40 20h0m30-1h0m4-7h0m25 0h0m3 2h0m26 7h0m1 2h0m3-4h0m1-6h0m0 8h0m4-9h0m5 10h0m0-5h0m8-3h0m2 7h0m1 0h0m1-5h0m2-2h0m2 1h0m7 0h0m1 0h0m3-2h0m2 5h0m4-2h0m2 3h0m1-3h0m4 4h0m4 1h0m1-7h0m3 4h0m2-3h0m2-1h0m1 6h0m3-3h0m1 5h0m0 1h0m0-2h0m1 0h0m2-4h0m13 6h0m10-8h0m2 5h0m2 1h0m2 2h0m7-6h0m7-4h0m6 6h0m14-5h0m56 1h0m18 10h0m-48 0h0m-9 0h0m-10 7h0m-17-6h0m-13-1h0m-3 7h0m-15 3h0m-7-5h0m-1-6h0m-13 1h0m-1 7h0m-7-2h0m-8 2h0m0 1h0m-1-6h0m-13-2h0m-5 10h0m-1-7h0m0 3h0m-2-3h0m-2 7h0m-3-10h0m-3 6h0m0-4h0m0-3h0m-4 6h0m-1 1h0m-8 4h0m0-5h0m-2-4h0m-3-1h0m-1 1h0m-1 5h0m-11-2h0m0-3h0m-2 6h0m-1-5h0m-2 4h0m-2 3h0m-1-9h0m-3 8h0m-4-1h0m-16 0h0m-20-1h0m-21 16h0m49-1h0m13-4h0m2-4h0m19-1h0m1 5h0m4 5h0m7-5h0m0 5h0m2-9h0m1 8h0m1 1h0m1-3h0m3-1h0m4 1h0m1-4h0m0-1h0m1-1h0m0 4h0m5-4h0m1 2h0m13-2h0m5 4h0m0-1h0m3-5h0m1 3h0m12-1h0m1 4h0m26-3h0m32-1h0m52-2h0m-3 21h0m-67-9h0m-12 6h0m-9 0h0m-3 2h0m-4-7h0m-17 9h0m-1-5h0m-3 4h0m-23-5h0m-13-2h0m-15 0h0m-4 1h0m-23 3h0m-3-5h0m0 4h0m-24-1h0m-8 5h0m-8-2h0m-3 1h0m-16 9h0m16-2h0m4-3h0m7 8h0m11-4h0m0 4h0m3 3h0m13-2h0m72-7h0m5 0h0m31 4h0m2-3h0m6 1h0m10 3h0m2 3h0m25-6h0m40 4h0m-29 10h0m-48 1h0m-32 1h0m-8-1h0m-7-5h0m-10 0h0m-27 4h0m-1 3h0m-2-5h0m-17 1h0m-6-2h0m-8-1h0m-8 6h0m-15-7h0m-41 8h0m8 13h0m19-8h0m11 7h0m24-1h0m17-8h0m3 7h0m2-7h0m3 6h0m21 5h0m41 0h0m44-2h0m17 9h0m-31 1h0m-37-7h0m-24 6h0m-49 5h0m-48 1h0m31 7h0m6-7h0m15 2h0m10 7h0m6-4h0m4-4h0m4 8h0m2-3h0m5-2h0m2 4h0m55-8h0m-4 15h0m-16-3h0m-9 6h0m-6-3h0m-12 5h0m-6 3h0m-42-4h0m-27-3h0m6 9h0m17 5h0m50-1h0m2-5h0m31 6h0m25 5h0m-17 2h0m-7 6h0m-17 2h0m-12-9h0m-19 8h0m-1-8h0m-13 10h0m-31-1h0m70 11h0m19-3h0"/>
<path stroke="#E8505E" d="M123 296h0m15 2h0m16 24h0"/>
<path stroke="#F59B0C" d="M559 191h0m-3-4h0m-126 15h0m13-9h0m58 6h0m12-5h0m33-1h0m18 19h0m-17-5h0m-46 7h0m-72-4h0m-24 12h0m21-4h0m58 3h0m1-3h0m26-2h0m12 2h0m26 16h0m-1 3h0m-18 2h0m-8-10h0m-28 2h0m-65 0h0m46 9h0m21 3h0m6-2h0m20-1h0m2 7h0m1-4h0m3 8h0m26-1h0m2 6h0m-22 3h0m-20-4h0m-1 4h0m-11 3h0m-23-1h0m-4 0h0m-38-2h0m-8 0h0m-2 1h0m-17-2h0m-1 9h0m44-3h0m0 10h0m12-2h0m26-6h0m9 5h0m3-2h0m4-5h0m8 7h0m10 3h0m28-4h0m2 7h0m-46 3h0m0 7h0m-5-4h0m-16 1h0m-16-6h0m-43-2h0m-3 19h0m3-5h0m6 0h0m9 0h0m4-1h0m18 9h0m7-4h0m15-6h0m33 5h0m23 4h0m5-8h0m-4 13h0m-32-1h0m-27 0h0m-50 1h0m-33 11h0m25 0h0m14-1h0m32 5h0m22 4h0m6-1h0m20 2h0m15-8h0m-7 11h0"/>
<path stroke="#E3BD80" d="M263 155h0m93-11h0m5 6h0m29 3h0m25 13h0m-85-9h0m-50 9h0m-17 9h0m35-6h0m11 7h0m10-3h0m26-1h0m8 5h0m3-2h0m1 4h0m2-6h0m5 5h0m1-8h0m9 6h0m5 1h0m2-1h0m21-3h0m84-1h0m9 8h0m-91 9h0m-30-1h0m-1-5h0m-15 5h0m-28 2h0m-8 1h0m-42-5h0m-18 5h0m-2-2h0m-20 6h0m84-3h0m27 2h0m4 7h0m11-9h0m2 4h0m2 2h0m5 2h0m10-3h0m23 3h0m17-3h0m9-2h0m3 0h0m63 1h0m-65 17h0m-5-6h0m-38 7h0m0-2h0m-12-2h0m-36 3h0m-6-2h0m0 3h0m-1 1h0m-9-11h0m-3 7h0m-12-3h0m-1-4h0m-9 10h0m-16 1h0m-50-7h0m-12 3h0m8 16h0m5-4h0m11-4h0m3-3h0m25 8h0m14-1h0m3-7h0m17 4h0m6 0h0m1-1h0m7 7h0m4-10h0m1 2h0m4-2h0m2 3h0m9 6h0m5 0h0m9-5h0m8 4h0m12-6h0m3 1h0m6 2h0m13 0h0m6 4h0m14-1h0m8-3h0m7 6h0m5-6h0m8 14h0m-11 1h0m-2-4h0m-5 5h0m-21-6h0m-6-2h0m-2 5h0m-7 2h0m-1-8h0m-5 8h0m-39 1h0m-7-8h0m0 6h0m-2 2h0m-1-6h0m-3 2h0m-2-3h0m-5 4h0m0-1h0m-14 3h0m-3-3h0m-11 4h0m-1-5h0m-4 2h0m-4-3h0m-8 3h0m-46 2h0m-3-7h0m-45 20h0m26-5h0m32 5h0m7-8h0m4 5h0m9 1h0m18-6h0m9 4h0m1-1h0m1 4h0m4 3h0m9-9h0m3 6h0m10 2h0m4-2h0m12 1h0m1 2h0m5-9h0m4 1h0m2 6h0m3-3h0m1-4h0m9 9h0m2-1h0m4-7h0m2 2h0m6 0h0m0-4h0m4 6h0m1-3h0m1 7h0m2-7h0m3-4h0m15 9h0m1 2h0m31-3h0m2 0h0m1-3h0m0 3h0m1-5h0m4 2h0m26-2h0m22 18h0m-53 0h0m-1-2h0m-1 0h0m-4-1h0m-1-6h0m-2 4h0m-2 1h0m0 1h0m-4 1h0m-2 1h0m-12 3h0m-7-4h0m-3 1h0m-1-7h0m-7 9h0m-5-7h0m-1 3h0m-2-1h0m-1 0h0m-5 6h0m-1-4h0m0 0h0m-6 3h0m-4-4h0m-7-1h0m-4 4h0m-1-5h0m-3 4h0m-1-3h0m-6 3h0m-3 1h0m-4 0h0m0-3h0m-2 4h0m-6-4h0m-4-4h0m-4 2h0m-1 5h0m0-2h0m-10 4h0m-2-1h0m-13-7h0m-6 2h0m-5 2h0m-3 3h0m-11-10h0m-14 10h0m-15-1h0m-7-3h0m-5-5h0m7 20h0m26 2h0m3-3h0m4-6h0m0 3h0m1-2h0m20 0h0m6 0h0m2 8h0m4-7h0m6 5h0m4-1h0m7-4h0m1 6h0m5 1h0m7-5h0m15-2h0m2 7h0m1-9h0m7 1h0m4 5h0m9-5h0m3 0h0m1 4h0m2-6h0m3 10h0m5-3h0m0-5h0m25 1h0m2 1h0m11-5h0m9 1h0m8-1h0m22 3h0m14 19h0m-63-9h0m-8 7h0m-5-1h0m-1-7h0m-6 6h0m-21-6h0m0 10h0m-5-6h0m-1 1h0m-4 5h0m-4-7h0m-1 3h0m-6-1h0m-1-5h0m-8 10h0m0-4h0m-10-1h0m0 4h0m-4-8h0m-4-1h0m-5 2h0m-1 7h0m-3 1h0m-6-6h0m-2 3h0m-11 2h0m-3-2h0m-2 3h0m-2-10h0m0 9h0m-3-1h0m-11 3h0m-3-7h0m-15 6h0m-2-5h0m-3-5h0m-7 8h0m-3 0h0m-6-1h0m-29 8h0m29 2h0m4-3h0m11 2h0m5-4h0m5 10h0m3 1h0m14-4h0m3-5h0m1 9h0m4-9h0m2-1h0m7 1h0m1 4h0m5-2h0m3-4h0m2 2h0m2 0h0m1 5h0m0 2h0m1 0h0m3-1h0m1-5h0m10 0h0m5 4h0m2 2h0m5-6h0m1 2h0m2 6h0m2-6h0m3 5h0m7-9h0m5 4h0m0 5h0m5-4h0m7-4h0m1 0h0m1 7h0m0-4h0m2-1h0m4 0h0m2-3h0m7 9h0m1-7h0m0 2h0m2-3h0m4 5h0m11-3h0m1-3h0m4 2h0m40 7h0m26-7h0m38-3h0m-57 20h0m-33-3h0m-3 6h0m-10-3h0m-2-6h0m-7 7h0m0-7h0m-4 4h0m-1 5h0m0-11h0m-3 7h0m-3-5h0m0-2h0m-3 3h0m-4-3h0m-4 7h0m-5-3h0m-2-2h0m-3 2h0m-1 3h0m0 4h0m-1 0h0m-11-6h0m-2 4h0m-7 1h0m-7 0h0m-3-2h0m-2-4h0m-2-2h0m-11-1h0m-1 3h0m-2 2h0m0 4h0m-6-4h0m-1-1h0m-2 4h0m-1-2h0m-4-1h0m-2-2h0m-10 5h0m-1 1h0m-1-8h0m-5 9h0m-2-10h0m-4 5h0m-2-6h0m-3 7h0m-8-6h0m-3 0h0m-3 2h0m-2-2h0m-4 3h0m-6-4h0m-25 9h0m37 8h0m5-3h0m6 2h0m13 2h0m7-6h0m2 0h0m3 8h0m1 2h0m1-4h0m4-1h0m2 6h0m2-1h0m1-1h0m0-3h0m0 2h0m5-6h0m1-2h0m4 1h0m4 1h0m1 6h0m7-2h0m4 4h0m1 0h0m6-1h0m0-4h0m1-4h0m8 1h0m1 0h0m5 4h0m2 1h0m0-1h0m1 3h0m3-6h0m5-2h0m1 5h0m0-4h0m13 5h0m4 1h0m7-7h0m5 10h0m16-8h0m10 2h0m4 12h0m-46-2h0m-1 0h0m-2 7h0m-2-5h0m-1-1h0m-6-3h0m-2 8h0m0-8h0m-1-1h0m-1 3h0m-4 1h0m-4 5h0m-2-7h0m-6 2h0m-5-3h0m0 4h0m-1 5h0m0 0h0m-2-6h0m0-4h0m-7 0h0m-2 1h0m-1 4h0m0-3h0m-4 2h0m-2 2h0m-1-5h0m0 5h0m-2 0h0m-5-4h0m0-2h0m-10 9h0m-4 1h0m0-5h0m-1 6h0m-1-5h0m-2-1h0m-1 0h0m-1 0h0m-2-5h0m-2 2h0m-1 8h0m0-10h0m-2 4h0m-6-1h0m-3 0h0m-1 4h0m-4-7h0m-1 1h0m-5 3h0m0-4h0m-6 1h0m-5 9h0m-26 12h0m35-9h0m4 9h0m7-1h0m6-7h0m10 2h0m0 3h0m0-1h0m1 4h0m5-2h0m10 1h0m0-3h0m5 0h0m1-3h0m2-3h0m2 7h0m9-2h0m2 2h0m1-6h0m5 7h0m8-8h0m3 5h0m8-3h0m4 7h0m10-7h0m4-2h0m0 10h0m9-2h0m10-4h0m31-1h0m8 10h0m-29 5h0m-20 2h0m-25 0h0m-2-7h0m-12 1h0m-4 3h0m-7 0h0m-6 3h0m-1 3h0m-4-1h0m-3-7h0m-1 8h0m-8-10h0m-7-1h0m-15 3h0m-2 3h0m-4 1h0m-11 2h0m-7 1h0m-1-9h0m-21 0h0m-18 6h0m0 12h0m19-5h0m12 8h0m12-9h0m1 6h0m10-2h0m9-3h0m17 7h0m5 1h0m0-4h0m142 6h0m-43 5h0m-6 1h0m-26 2h0m-3-6h0m-3 7h0m-32-5h0m-3 2h0m-10 0h0m-15 5h0m-24-7h0m-9 5h0m-1-9h0m-6 8h0m-10-6h0m-31-2h0m-20 19h0m11-2h0m44 1h0m12-1h0m10-2h0m38 4h0m48-1h0m20 9h0m-23 5h0m-12-5h0m-10 1h0m-9 3h0m-17-2h0m-15 4h0m-4-8h0m-34 2h0m-5 2h0m-3-4h0m-9 0h0m-2 5h0m-7-4h0m-38-2h0m11 20h0m6 0h0m13-3h0m3-4h0m0 10h0m48-8h0m10-2h0m18 0h0m8 1h0m11-2h0m17 0h0m29 21h0m-12-5h0m-25 1h0m-13-3h0m-2 8h0m-13-10h0m-7 9h0m-2-9h0m-1 4h0m-8 3h0m-18 2h0m-19-8h0m-4 2h0m18 10h0m32 10h0m27-5h0m20 5h0m3 10h0m-22-8h0m-11 1h0m-7 5h0m-4-1h0m-31 2h0m2 4h0m9 6h0m13 1h0m1-4h0m-4 9h0"/>
<path stroke="#52C3B4" d="M464 89h0m55 27h0m-39 26h0m-17-2h0m-308-5h0m350 12h0m13 0h0m29 13h0m-71 4h0m-108-5h0m-177 6h0m-22-4h0m282 17h0m35 7h0m-65 3h0m-24-1h0m-281 6h0m75 5h0m62-6h0m-132 17h0m65 28h0m-43 41h0"/>
<path stroke="#74ABE0" d="M226 204h0m17 22h0m-20 11h0m4 5h0m9 7h0m7-9h0m35 4h0m170 3h0m18 13h0m-30-1h0m-180 13h0m16-7h0m88 8h0m160 10h0m-157-4h0m-121 0h0m-57 3h0m-4-5h0m-36 17h0m87 3h0m14-7h0m5-2h0m162 5h0m41-3h0m33 15h0m-67-4h0m-194 2h0m-49 2h0m-13 6h0m-6 4h0m2-2h0m14 5h0m38-6h0m303 23h0m-29-11h0m-8 1h0m-52 7h0m-186 6h0m171 4h0m2-4h0m23 2h0m21 1h0m28 7h0m-29 2h0m-56 2h0m-173 0h0m-13-2h0m-38-1h0m32 12h0m153 4h0m52 2h0m11 0h0m31 3h0m12-9h0m15 15h0m-34 6h0m-16-7h0m-20 3h0m-185 13h0m214-7h0m-9 18h0m-223 2h0m206 4h0m4 1h0m-8 18h0"/>
<path stroke="#7DDCBE" d="M433 68h0m-39 1h0m6 10h0m56-4h0m33 4h0m7 5h0m-114 8h0m-14 6h0m20 6h0m16 0h0m3 3h0m44-8h0m4 8h0m23-2h0m13-4h0m-25 13h0m-15 4h0m-44-7h0m-27 1h0m-60 7h0m6 6h0m8 0h0m21 3h0m25 0h0m36 2h0m50-5h0m10 2h0m3 12h0m-72-1h0m-11 3h0m-12 1h0m-1-3h0m-11-1h0m-10-1h0m-3-1h0m-19 1h0m-15 3h0m-41-7h0m-28 11h0m29 7h0m7-6h0m8 7h0m4-1h0m4-3h0m1-2h0m0 8h0m7-7h0m1 4h0m20-3h0m15 1h0m4-1h0m4 7h0m23-1h0m8 0h0m4-6h0m7-3h0m3 8h0m7 0h0m29-2h0m38-5h0m-27 11h0m-8 6h0m-30-6h0m-15 7h0m-5-7h0m-3 1h0m-17 7h0m-8-9h0m-2 7h0m-3-3h0m-8 4h0m-7 3h0m-17-11h0m-1 0h0m-4 11h0m-8-9h0m-1 1h0m-3 2h0m-35-5h0m-5 3h0m-4-1h0m-3 3h0m-6 6h0m-6-10h0m96 15h0m3 1h0m2 2h0m8 2h0m13 0h0m2-9h0m23 4h0m7 2h0m8 2h0m3-6h0m0 6h0m2 2h0m2-1h0m4 7h0m-30 7h0m-2-3h0m-12 2h0m-1-2h0m-1-7h0m-11 5h0m-1-2h0m-6 2h0m-9-2h0m-6 6h0m-12-8h0m-4 1h0m-11-1h0m-7-1h0m-17 1h0m-8 0h0m-5 5h0m-3 4h0m-2-10h0m-4 10h0m-11-6h0m-2-1h0m-28 3h0m-3-3h0m-3 3h0m35 9h0m2-2h0m17-2h0m8 1h0m4 8h0m1-4h0m3 3h0m18-1h0m5-2h0m5 5h0m6-3h0m0 1h0m5-4h0m17-3h0m5 0h0m8 8h0m8-2h0m7 3h0m18-10h0m2 3h0m15-3h0m14 13h0m-4 5h0m-1-3h0m-12 8h0m-3-10h0m-3 5h0m-2 0h0m0-3h0m-3 8h0m-2-5h0m-12-3h0m-23-2h0m-5-1h0m-3 7h0m-1 0h0m-1 3h0m-3-5h0m-19-4h0m-6 4h0m-2 3h0m-52-6h0m-7 6h0m-25 1h0m1 14h0m66-5h0m19-2h0m4-1h0m3 5h0m9-7h0m19 2h0m6 3h0m4 2h0m13-4h0m3 1h0m27-2h0m43 0h0m3 8h0m-25 7h0m-23 0h0m-2-6h0m-8 9h0m-37-7h0m-48 3h0m-9 1h0m-6-5h0m-8 7h0m-5-4h0m-7 5h0m-26 12h0m34-1h0m5 1h0m26-6h0m7 1h0m8 7h0m4-10h0m13 3h0m14 2h0m4-1h0m4-4h0m10 17h0m-2-3h0m-13 2h0m-6 4h0m-13-9h0m0 3h0m-37 5h0m-21-6h0m18 18h0m33-8h0m57 1h0m44 3h0m-39 10h0m-10 8h0m-8 1h0m-12 0h0m-14-7h0m-3-4h0m-13 9h0m-6 2h0m-17-3h0m10 9h0m38-2h0m10-3h0m20 0h0m-128 25h0"/>
<path stroke="#0C84AC" d="M310 8h0m26 2h0m-1 9h0m-33 2h0m-44 11h0m41-7h0m1 4h0m12 2h0m1-3h0m3 4h0m38-2h0m19 0h0m6-2h0m10 0h0m15 1h0m4 5h0m11 11h0m-1-9h0m-3 6h0m-30-2h0m-6 5h0m-4-8h0m-66 3h0m-13-1h0m-4 2h0m-1-4h0m-7 3h0m-26 4h0m-13 3h0m-8 7h0m10 1h0m15 0h0m19-5h0m23-2h0m2 4h0m4 1h0m5-4h0m52 8h0m7 0h0m56 8h0m-13-2h0m-27 3h0m0-4h0m-5 3h0m-2 3h0m-31-5h0m-2 7h0m-30-1h0m-6-5h0m-4 3h0m-4 3h0m-10-6h0m-7 7h0m-22-7h0m-4 4h0m-1-7h0m-34 3h0m-29 3h0m63 9h0m17-4h0m19 10h0m19-5h0m33-2h0m16-1h0m65 5h0m-1 16h0m-5-5h0m-50-1h0m-9-4h0m-19 5h0m0-4h0m-18 8h0m-20-9h0m-61 4h0m-10 0h0m-4 5h0m16 8h0m0 4h0m16-9h0m5 1h0m6 9h0m11-5h0m7 1h0m5 0h0m21-1h0m8 1h0m4 0h0m20-1h0m4 0h0m2 0h0m52-3h0m16 7h0m22 6h0m-37 4h0m-31 3h0m-54 0h0m0-10h0m-32 7h0m-29 2h0m-5-7h0m-1 7h0m-9-2h0m-3-7h0m-2 5h0m-11 17h0m25-10h0m12 7h0m3-3h0m18-4h0m9 2h0m6-2h0m3 6h0m8 4h0m7-5h0m8-6h0m1 4h0m1 2h0m7-2h0m0 6h0m37-8h0m47 7h0m8-9h0m54 12h0m-20 1h0m-15 8h0m-45-5h0m-18 7h0m-13-9h0m-4 9h0m-1-1h0m-9-3h0m-1-5h0m-13-1h0m-1 6h0m-3-6h0m-1 0h0m-2 1h0m-7-1h0m-5 2h0m-6 5h0m-10-7h0m0-1h0m-3 6h0m-1 0h0m-13-2h0m-5-4h0m-2 2h0m-14 3h0m-5-3h0m-124-1h0m-21 17h0m14 1h0m4 2h0m76 0h0m23-5h0m26 0h0m1-2h0m6 4h0m35 5h0m0-3h0m3-8h0m1 6h0m2 2h0m1-8h0m14 9h0m9-1h0m2 1h0m3-6h0m1-2h0m2 6h0m0 2h0m3-2h0m1 0h0m1-3h0m5 0h0m6 4h0m4 2h0m1-4h0m6 5h0m0-10h0m4 1h0m5 7h0m2-7h0m1 6h0m5-7h0m60 3h0m35 5h0m-25 4h0m-20 10h0m-7-1h0m-37-6h0m-5-2h0m-6 0h0m-1-2h0m0 4h0m-15-1h0m-13 8h0m-1-11h0m-2 3h0m-6 8h0m-2-8h0m-7 5h0m-7 3h0m-14-3h0m0-5h0m-8-3h0m-3 3h0m-6 5h0m0-2h0m-2-5h0m-8 6h0m-8-3h0m-6-3h0m-2 5h0m-15-5h0m-6 4h0m-9 5h0m-13-9h0m-73 10h0m-23-4h0m-12-5h0m-2 18h0m33 1h0m51-1h0m20 1h0m6-2h0m14-4h0m4 3h0m14-1h0m4 5h0m1-4h0m13 3h0m12-5h0m4 0h0m8-1h0m8 2h0m12 5h0m12 1h0m17-6h0m8-4h0m5 5h0m30-5h0m1 8h0m10-3h0m3-2h0m5 3h0m38 8h0m-24 0h0m-7 2h0m-22 2h0m0-3h0m0 1h0m-1 3h0m-3-2h0m-4-3h0m-9-2h0m-11 6h0m0 2h0m-14-8h0m-2 8h0m-5 1h0m0-6h0m-18-4h0m-3 2h0m-8 0h0m-4 1h0m-1 4h0m-2 3h0m-4 0h0m-3-5h0m-16 1h0m-5 3h0m-5-6h0m-8-1h0m-6 6h0m-3-4h0m-6 5h0m-8-6h0m-29 6h0m-35-6h0m-11 8h0m64 4h0m4 2h0m7 6h0m2-11h0m17 1h0m36 4h0m0-3h0m2 3h0m26-4h0m3 1h0m12 9h0m2-10h0m7 6h0m3-7h0m1 5h0m5 3h0m14 3h0m1-4h0m10 2h0m4-9h0m1 10h0m16-8h0m4 0h0m1 0h0m6 9h0m1 11h0m-1 1h0m-20-10h0m-22 1h0m-17 0h0m-2 6h0m-8-3h0m-2-5h0m-3 10h0m-14-8h0m-7-2h0m-4 7h0m-7-2h0m-5-4h0m-3 1h0m-14 9h0m-1-2h0m-11-7h0m-2 0h0m-3 4h0m-17 1h0m-14 3h0m-23 1h0m-2-3h0m-6 1h0m-1-2h0m-4 3h0m-31-4h0m-18-1h0m-3 0h0m-11-3h0m-12 3h0m-19 6h0m33 10h0m69-3h0m55 2h0m27-5h0m25 0h0m12 0h0m1 3h0m10-1h0m0 1h0m2-1h0m11 3h0m1 0h0m0 3h0m23-5h0m2-5h0m0 5h0m9-2h0m2-2h0m1 9h0m2-9h0m5 4h0m4 1h0m12 2h0m1 2h0m9-8h0m2-2h0m64 18h0m-59-2h0m-25 1h0m-8 5h0m-1-11h0m-23 2h0m-10 2h0m-11 6h0m-1-7h0m-2 3h0m-5 2h0m-2-6h0m-1-2h0m-5 0h0m-2 4h0m-5-3h0m-11 8h0m-7-2h0m-2 1h0m0-1h0m-11 1h0m-18-3h0m-4 6h0m-11 0h0m-44-8h0m-32-3h0m-12 9h0m-41-1h0m-21-1h0m-14 4h0m-4-9h0m-11 10h0m32 7h0m5 1h0m60 3h0m5-7h0m31 3h0m4 2h0m7-1h0m50-1h0m30 4h0m20-5h0m5 0h0m3-5h0m4 10h0m5-6h0m7 3h0m20-5h0m29-3h0m7 4h0m50 14h0m-12 0h0m-24 1h0m-4 3h0m-4-2h0m-12-5h0m-7 4h0m-7 1h0m-30-2h0m0 1h0m-16 4h0m0-5h0m-12-5h0m-6 7h0m-31-7h0m-8 5h0m-11 0h0m-28-3h0m-27 4h0m-87 4h0m7 12h0m91-6h0m2 0h0m33-4h0m9 9h0m40-2h0m12-6h0m1 6h0m44 0h0m4-1h0m40-1h0m-16 6h0m-13 5h0m-34-4h0m-162 2h0m-14 3h0m-27 1h0m-36 8h0m88 5h0m51 0h0m1-3h0m60 4h0m12-4h0m19-5h0m5 2h0m12-1h0m0 2h0m8-1h0m22 10h0m-15 11h0m-113-1h0m-147-7h0m161 14h0m46 2h0m11-6h0m26 5h0m14-4h0m68 10h0m-78 3h0m-23 2h0m-45-3h0m-30 1h0m84 22h0m-21 8h0m11 4h0m131 7h0m-24 4h0"/>
<path stroke="#8B82E0" d="M249 60h0m-7 7h0m-54-2h0m17 13h0m12 0h0m9 5h0m3-4h0m-31 15h0m-6-2h0m-19-3h0m70 11h0m73 16h0m-8 3h0m-20 0h0m-40-2h0m-27-8h0m-28 10h0m-7-3h0m-17-8h0m-16 5h0m-5 11h0m2-2h0m19 3h0m35-2h0m35 8h0m19-4h0m9 0h0m8 1h0m3 1h0m23 1h0m21-1h0m33 12h0m-39-6h0m-9 3h0m-9-2h0m-9 5h0m-5-6h0m-16 8h0m0-10h0m-21 1h0m-19 5h0m-18-2h0m-7 3h0m-2-4h0m-11 5h0m-21-3h0m-55 16h0m44 1h0m5-4h0m37 2h0m3-5h0m4-3h0m20 4h0m2 4h0m0-9h0m5 7h0m14 1h0m2-2h0m8 4h0m0-7h0m3 3h0m10-3h0m4-1h0m1 6h0m0-1h0m6 2h0m5-8h0m7 9h0m4-8h0m7 3h0m18 4h0m24 1h0m6-6h0m3 4h0m22-6h0m0 3h0m18 10h0m-32 4h0m-20-1h0m-10-4h0m-8 1h0m-8 5h0m-3-3h0m-9 6h0m-9-2h0m-4-3h0m-9-1h0m-1 0h0m-3-1h0m0 2h0m-3-5h0m-14 3h0m-6-3h0m-7 2h0m-1 5h0m-8-2h0m-21 1h0m-3 4h0m-7-1h0m-1-3h0m-32-7h0m-7 2h0m-5 17h0m12-4h0m18 1h0m12-2h0m28 8h0m3-5h0m6 1h0m2-4h0m1-1h0m5 10h0m0-3h0m6-5h0m3 6h0m4 0h0m7-1h0m2-7h0m5-1h0m17 11h0m35-5h0m22-6h0m16 4h0m3-1h0m24 8h0m-59 7h0m-3 2h0m-1-1h0m-18-7h0m-5 1h0m-9 8h0m-2 0h0m-5 0h0m-3 0h0m-6-2h0m-3 1h0m-5-6h0m-4 6h0m0-2h0m-16-1h0m-1 0h0m-2 5h0m-4-7h0m-3 1h0m-11-2h0m-3 7h0m0-8h0m-57 5h0m-3-3h0m22 9h0m16 2h0m1 5h0m8 1h0m8-4h0m26-4h0m1 7h0m1-4h0m4-2h0m7 0h0m1 3h0m2 4h0m10-8h0m1 2h0m2 2h0m12-4h0m0 11h0m1-1h0m1 0h0m6-1h0m1-6h0m31 4h0m5 1h0m17 1h0m13-9h0m6 11h0m0 12h0m-17 0h0m-3-1h0m-7 1h0m-19-5h0m-27-1h0m-32 4h0m-14 1h0m-6-2h0m-2-5h0m-20 2h0m-6 2h0m-2-6h0m-2-1h0m-1 4h0m-1 6h0m-6-2h0m-12 3h0m-19 9h0m9-3h0m29-3h0m9 7h0m1-6h0m0 6h0m0-2h0m6-7h0m4 5h0m2 0h0m8 3h0m4-7h0m1 1h0m3 8h0m7-7h0m0 7h0m3-10h0m5 10h0m6 1h0m2-2h0m5 0h0m7-1h0m14 2h0m2-8h0m0 4h0m0-1h0m7 3h0m0-7h0m2 6h0m2 1h0m3-4h0m3 5h0m2-9h0m6 2h0m6 5h0m21-3h0m19 0h0m34 1h0m-44 9h0m-12-1h0m-15 7h0m-9 3h0m-6-4h0m-7-4h0m-8-1h0m0 5h0m-12-5h0m-15 9h0m-10-2h0m-4-1h0m-1-4h0m-3 4h0m-1-6h0m-3 2h0m-1 7h0m-6-4h0m-2 0h0m-4-4h0m-14 7h0m0-3h0m-2-2h0m0 6h0m-2-5h0m-7-2h0m-13 4h0m-7-4h0m-10 0h0m-41 17h0m7-6h0m41 5h0m25-8h0m3 1h0m0 2h0m1 5h0m9 2h0m4-2h0m3-5h0m4 0h0m7 0h0m1-3h0m0 0h0m4 3h0m2-1h0m1 2h0m0 4h0m2 1h0m3-2h0m4 1h0m2-2h0m4-4h0m0 2h0m1-2h0m9 0h0m25 9h0m5-5h0m11 1h0m1 2h0m26 2h0m0-11h0m7 1h0m18 6h0m-1 11h0m-26 2h0m-42-8h0m-13 6h0m-7 5h0m-5-10h0m-10 0h0m-25 1h0m0 3h0m-11-2h0m-9 3h0m-3-3h0m-3 1h0m-3 2h0m-17 0h0m-4-4h0m-30 3h0m-29 4h0m15 14h0m12-10h0m12 7h0m28-6h0m1 8h0m3-5h0m13-5h0m5 5h0m4 2h0m9 3h0m3 1h0m1 0h0m3-8h0m7 3h0m9-3h0m0-2h0m3 2h0m1 4h0m7-3h0m7 5h0m21 0h0m1-3h0m5-2h0m10-4h0m15 0h0m3 0h0m5 3h0m4-3h0m7 9h0m10-5h0m5-1h0m-61 10h0m-25 8h0m-6 0h0m0 1h0m-3 0h0m-1-8h0m-7-2h0m-7 4h0m-8 6h0m-1-5h0m-12 0h0m-1 2h0m-1-5h0m-6 1h0m-47 4h0m14 10h0m32-1h0m21-3h0m19 2h0m0 2h0m3 6h0m4-4h0m5-2h0m11-5h0m7 8h0m16-6h0m17 5h0m4 11h0m-33 5h0m-8 0h0m-37-7h0m-3-3h0m13 21h0m21 1h0m-2 1h0m-7 7h0m-81-6h0m-38 15h0m155-2h0m-74 10h0m-80 3h0"/>
<path stroke="#E8505E" d="M128 278h0m49 10h0m-46 30h0"/>
<path stroke="#F59B0C" d="M473 169h0m-20 12h0m7 21h0m99 7h0m-17-2h0m-14-3h0m-2 2h0m-21 7h0m-107 2h0m0 12h0m36-6h0m41 3h0m50 1h0m21 1h0m7 0h0m11-5h0m-22 15h0m-2-3h0m-4 4h0m-5-2h0m-18 3h0m-13-2h0m-3-1h0m-12 1h0m-6-2h0m-15-4h0m-1 9h0m-1-6h0m-34-4h0m-5 13h0m36 9h0m18 0h0m7-4h0m12 3h0m53 1h0m13 6h0m-9 2h0m-35-4h0m-22-2h0m-41-1h0m-6 8h0m-31 3h0m-10-3h0m8 14h0m12-4h0m2 4h0m1-7h0m2 5h0m0-2h0m36-6h0m0 8h0m1-3h0m5-5h0m9 10h0m4-1h0m24-5h0m50 1h0m-22 9h0m-4-2h0m-2 2h0m-56 4h0m-49 1h0m-29 14h0m5-6h0m5 8h0m34 0h0m37-6h0m11 2h0m3 4h0m24-2h0m19-6h0m-1 17h0m-23-4h0m-42 1h0m-32-5h0m-15 7h0m-7-2h0m46 15h0m18-1h0m18-7h0m31 0h0m-7 12h0m-7 2h0m-87-2h0"/>
<path stroke="#974C70" d="M509 108h0m-94 2h0m-3 18h0m79-6h0m11 9h0m22-1h0m-10 10h0m-19-4h0m-110 19h0m2-1h0m107-2h0m-14 10h0m-10 1h0m-91 16h0m17-10h0m2 5h0m50 3h0m31-3h0m4 0h0m1 4h0m15-10h0m26 8h0m20 2h0m12 4h0m-48 2h0m-28-1h0m-11 6h0m-2 2h0m-12-2h0m-19 1h0m-23-10h0m-5 8h0m-11-4h0m-5 5h0m-14 14h0m59-6h0m22-5h0m20 7h0m66 3h0m-39 5h0m-66 6h0m-6-9h0m-32 9h0m-7 2h0m-11 12h0m21-10h0m16 6h0m12-1h0m35-3h0m-32 12h0m-11 6h0m-31-4h0m-14 5h0m-15-2h0m-2 3h0m50 6h0m22-1h0m2-1h0m80 7h0m-102 9h0m-15 1h0m10 4h0m2 9h0m16-6h0m-35 19h0m20 4h0m82-2h0"/>
<path stroke="#7DDCBE" d="M428 39h0m-31 4h0m-1 15h0m31 1h0m45 4h0m-5-2h0m-21 7h0m-42 2h0m-30-3h0m-38 4h0m26 11h0m51-4h0m43 0h0m35 15h0m-9-1h0m-92 2h0m-61 5h0m98 4h0m75-2h0m-24 9h0m-30 8h0m-21-5h0m-66-1h0m-11 6h0m-2 0h0m-96 11h0m34-6h0m20 6h0m9-1h0m44 2h0m3-1h0m38-9h0m20 2h0m12 9h0m3-6h0m42-2h0m-31 17h0m-40-7h0m-2 4h0m-27-1h0m-6 3h0m-10 0h0m-2-2h0m-21-5h0m-29 4h0m-6 3h0m-2-6h0m-3 10h0m-4 1h0m4 3h0m37-2h0m18-1h0m11 3h0m9 5h0m5 3h0m9-10h0m2 9h0m13-3h0m22 1h0m3-6h0m14 1h0m3-1h0m19 21h0m-43-8h0m-11-1h0m-1 2h0m-18 1h0m0 2h0m-15-5h0m0 2h0m-15 1h0m-12 1h0m-1 1h0m-13-6h0m-6 0h0m-36 0h0m-23 10h0m-2-4h0m-4-6h0m0 7h0m-10 3h0m7 9h0m58-5h0m2 6h0m9-1h0m11 2h0m3-9h0m2 5h0m5 0h0m7-6h0m17 3h0m1 4h0m8 2h0m3 2h0m0-3h0m5-2h0m1 1h0m5-5h0m1 4h0m5-6h0m61 17h0m-49 0h0m-14-3h0m-12-1h0m-3 3h0m-14 7h0m-6 0h0m-2 0h0m-20-1h0m-24-9h0m0 6h0m-23-4h0m-1-1h0m-3 4h0m-29-4h0m-21 4h0m-5-4h0m-2 0h0m-3 7h0m-1 6h0m2-2h0m9 3h0m37-3h0m22 2h0m6 0h0m2-3h0m12 1h0m3 7h0m28-1h0m22 0h0m5 0h0m1-3h0m5 3h0m2-3h0m6-2h0m7-2h0m10 8h0m2-7h0m2-1h0m14 6h0m3 1h0m9-6h0m14 3h0m-21 14h0m-12-4h0m-4 8h0m-9-5h0m-1 3h0m-7 0h0m-4-4h0m-6 5h0m0 0h0m-12 1h0m-15-2h0m-17-1h0m-4-7h0m-10 11h0m-29-10h0m-1 1h0m-34 2h0m-3 3h0m-30 1h0m-6-7h0m-10 2h0m10 19h0m45-7h0m5 2h0m41-3h0m2 0h0m10-2h0m9 6h0m7 2h0m9 2h0m6-6h0m5 0h0m11-4h0m-3 21h0m-7 0h0m0-2h0m-35-2h0m-13 1h0m-46 4h0m-9-8h0m-49 21h0m47-10h0m9 3h0m2-2h0m6 3h0m9-1h0m7 6h0m2 1h0m6-8h0m0-2h0m5-1h0m4 6h0m18 5h0m9-6h0m10 3h0m41 2h0m2-4h0m8-1h0m2-5h0m48 7h0m-16 7h0m-52-2h0m-18 7h0m-18-5h0m-12-2h0m-17 1h0m-31 1h0m-5 7h0m-16 0h0m17 4h0m9 3h0m13-4h0m16 11h0m5-3h0m11-2h0m15-5h0m8 7h0m23-2h0m1-3h0m-128 9h0m13 19h0m77 1h0m38 3h0m20 0h0m-7 7h0m-20 5h0"/>
<path stroke="#8B82E0" d="M283 35h0m-79 22h0m5 1h0m11-1h0m10-5h0m-46 8h0m-17 16h0m3 4h0m8-4h0m5 3h0m13-7h0m11 21h0m-23 0h0m-6-2h0m-20 3h0m25 12h0m4-10h0m29 11h0m1-3h0m9-1h0m65 4h0m14-2h0m-83 11h0m-2-3h0m-50 4h0m-25-6h0m-11 20h0m32-1h0m7-7h0m21 7h0m21-1h0m32-3h0m3-5h0m9 3h0m20 2h0m28 4h0m8-1h0m24 0h0m-2 6h0m-14 1h0m-18-2h0m-7 7h0m-4-8h0m-1 3h0m-40 7h0m-2-5h0m-6 0h0m-4-3h0m-9 2h0m-10 3h0m-81-6h0m-9 6h0m41 13h0m32-1h0m12-4h0m15-2h0m10 4h0m13 4h0m4-3h0m3-2h0m2-5h0m3 11h0m2-5h0m4-5h0m7 0h0m1 4h0m1 3h0m0-3h0m1 0h0m0-5h0m1 11h0m8-8h0m1 3h0m2 4h0m3-5h0m5 0h0m5 4h0m0-4h0m1-1h0m0 0h0m2-1h0m6 7h0m3 0h0m1-5h0m0 4h0m8-1h0m8 1h0m8-2h0m58-2h0m-43 17h0m-40-5h0m-2-1h0m-3-1h0m-9 2h0m-12-4h0m-5 3h0m-4 0h0m-12-4h0m-2 3h0m0 1h0m0-3h0m-2 2h0m0 1h0m-1-1h0m-3-2h0m-1 6h0m-1 0h0m-1 2h0m-2-7h0m-1-1h0m-8 6h0m-18 4h0m-50-1h0m-60-9h0m10 17h0m81 3h0m21-4h0m12-5h0m10 8h0m3-5h0m4-3h0m3 6h0m3-2h0m25-4h0m19 0h0m7 4h0m32 7h0m20-5h0m2 2h0m1 14h0m-9-9h0m-10 0h0m-23 1h0m-12 5h0m-5-6h0m-3-1h0m-8 2h0m-7 0h0m-5-2h0m-4 9h0m-2-6h0m-3 0h0m-3 3h0m-5-2h0m-10 1h0m0 4h0m-3 0h0m-1-2h0m-6-6h0m-2 8h0m0-8h0m0 10h0m-5-9h0m-6 9h0m-5-7h0m-4 1h0m0-1h0m-2-3h0m-17-1h0m-17 6h0m-18-2h0m-35 0h0m62 17h0m9-9h0m2 0h0m7 0h0m2 10h0m4 1h0m3-6h0m7-3h0m4 1h0m1 0h0m3-2h0m5 7h0m4-4h0m0 4h0m7-3h0m2 3h0m1 2h0m8-9h0m2 5h0m3 0h0m1 3h0m7-9h0m1 0h0m3 5h0m3 0h0m9 4h0m0-4h0m14 2h0m1 2h0m10-5h0m7 7h0m4-9h0m3-1h0m39 19h0m-3 1h0m0 2h0m-10-10h0m-9 1h0m-42 1h0m-2 3h0m-5 4h0m-2-6h0m-7-4h0m-17 2h0m-4-1h0m-3 8h0m-2-2h0m-1 1h0m-4-6h0m-5 1h0m-6 1h0m-4-3h0m-3 5h0m0 4h0m-6 0h0m-1-7h0m-2 4h0m-3-3h0m-3 6h0m-5 0h0m-4-3h0m-2 0h0m-4 3h0m-1-8h0m-16 8h0m-4-5h0m-13 0h0m30 7h0m0 10h0m10-9h0m2 2h0m2-1h0m3 0h0m2-1h0m7 2h0m6-3h0m11 8h0m2 0h0m6 0h0m9 3h0m3-6h0m1-3h0m6 8h0m11-6h0m11 4h0m26-7h0m69 20h0m-19-4h0m-30 6h0m-5-1h0m-33-5h0m-9 0h0m-7 1h0m-16-2h0m-9 7h0m-2-11h0m-3 11h0m-1-2h0m-5 0h0m-2 2h0m0-5h0m-10 3h0m-2 2h0m0-5h0m-2-5h0m0 5h0m-4 4h0m-3-9h0m-1 3h0m-5 1h0m-3 0h0m-2 3h0m-1 3h0m-1-6h0m-6 5h0m-18-5h0m-5 6h0m-4-4h0m-3 2h0m-24-2h0m18 5h0m17 2h0m0 6h0m9 2h0m9-9h0m3 0h0m6 1h0m2 0h0m4 0h0m0 7h0m1-6h0m7 8h0m13-3h0m3-5h0m1 0h0m5 7h0m8-8h0m2 3h0m2 5h0m7-3h0m0-4h0m6-1h0m2-1h0m48 4h0m5 5h0m17 6h0m0 3h0m-28-4h0m-5-1h0m-16 4h0m-15 0h0m-18-5h0m-8 5h0m-8-2h0m-12 0h0m-1 6h0m-5-4h0m-1-4h0m-3 6h0m-5-1h0m-6-2h0m-5-4h0m-15 7h0m-6-1h0m-20 8h0m5 7h0m24-3h0m15-7h0m7 1h0m1 9h0m18 0h0m2-6h0m4 6h0m25-3h0m24 4h0m29-11h0m16 6h0m7 1h0m20 0h0m-8 13h0m-6-3h0m-36 3h0m-6-3h0m-2-3h0m-41 5h0m-1-2h0m-5 5h0m-5-3h0m-1 2h0m0-3h0m-2-2h0m-26 3h0m-12-6h0m-35 9h0m-49 9h0m0-5h0m121 3h0m5-4h0m10 2h0m28 3h0m2 3h0m22-2h0m30-7h0m-74 15h0m-16 5h0m-20-3h0m-74 2h0m-40 3h0m68 8h0m36 3h0m27 0h0m10-2h0m1-2h0m20-1h0m7-2h0m34 14h0m-67-3h0m-83-1h0m14 14h0m13 9h0m-57 21h0"/>
<path stroke="#F59B0C" d="M515 203h0m24 0h0m-9 11h0m-3-5h0m-2 6h0m-77-2h0m-59 3h0m47 5h0m32 6h0m31-6h0m20 4h0m19-6h0m18 19h0m-10-4h0m-13-2h0m-7-3h0m-19 1h0m-31 6h0m-4-3h0m-4 3h0m-28 1h0m-3-6h0m-22 4h0m-29 10h0m20-4h0m22 10h0m12 0h0m3 0h0m9-11h0m34 0h0m16 5h0m43 6h0m6-8h0m-2 16h0m-5 0h0m-1-5h0m-31 9h0m-19-10h0m-11 10h0m-25-6h0m-8-5h0m-3 6h0m-4-6h0m-39 3h0m-12 4h0m1 11h0m22 3h0m3-5h0m64 4h0m56-4h0m6-4h0m1 6h0m3-2h0m1-3h0m5 1h0m4 5h0m7 1h0m-80 8h0m-19 4h0m-14-1h0m-50 3h0m8 8h0m11-2h0m3 7h0m40 0h0m28-9h0m11 5h0m4 0h0m35 16h0m-15-11h0m-3 11h0m-15-4h0m-1-3h0m-11 4h0m-18 2h0m-48-1h0m-28 11h0m57-1h0m18 1h0m15 1h0m-5 9h0m-7-1h0m-31 16h0m47-2h0"/>
<path stroke="#E3BD80" d="M374 130h0m-34 2h0m-53 11h0m-10-6h0m-29 18h0m67-4h0m21-4h0m19 8h0m25 0h0m-75 11h0m-35-3h0m-15-3h0m7 19h0m6-6h0m62 6h0m1-4h0m2 1h0m33 0h0m36-1h0m12 3h0m27-3h0m-29 10h0m-21 6h0m-10-5h0m-18-2h0m-1-3h0m-14 7h0m-3-3h0m-4 4h0m-21-8h0m-9 8h0m-28-9h0m-46 20h0m37 3h0m8-9h0m2 4h0m14 3h0m11 1h0m16 0h0m0-5h0m23 4h0m28-9h0m26 3h0m4 0h0m1-2h0m16 2h0m0 7h0m15-1h0m5-7h0m23 11h0m-27 8h0m-13-9h0m-2 2h0m-8-2h0m-5 4h0m-3 4h0m-14-3h0m-28-4h0m-6 8h0m-7-9h0m-11 9h0m-6-9h0m0 5h0m-20 6h0m-10-11h0m-49 20h0m17-2h0m3-1h0m13-4h0m14 8h0m1-2h0m14 2h0m0-5h0m7 3h0m10 3h0m2-5h0m0 2h0m9-4h0m4 7h0m8-9h0m1 7h0m9-5h0m16 1h0m2 3h0m3-3h0m9 3h0m6 2h0m9 0h0m13-6h0m2-3h0m10 11h0m0-9h0m36 1h0m-11 17h0m-5-4h0m-3 2h0m-9-5h0m-7 8h0m-6 1h0m-3 0h0m-6 0h0m-6-1h0m-9 0h0m-3-7h0m-3 6h0m-3-3h0m-2-5h0m-3 8h0m-9 1h0m-3-9h0m-5 6h0m-9 2h0m-12 1h0m0-5h0m-1 0h0m-16 3h0m-2 2h0m0 1h0m-1-10h0m-3 5h0m-13 6h0m-9-7h0m0 0h0m0-3h0m-3 4h0m-7-4h0m-5 9h0m-27-4h0m-29 0h0m-22 10h0m44 4h0m10-7h0m1 1h0m5 6h0m2 1h0m6-7h0m5 5h0m13 1h0m0-3h0m5-4h0m12 7h0m1-8h0m4 11h0m4-3h0m2-6h0m0 6h0m1-4h0m5 2h0m5-1h0m7-5h0m9 8h0m3 0h0m5-6h0m1 1h0m0 4h0m2 4h0m3-7h0m5 6h0m3-8h0m3 4h0m11 3h0m1-9h0m1 6h0m3 5h0m3-6h0m21-1h0m3 4h0m14-2h0m1 1h0m1-6h0m48 5h0m9 5h0m-30 10h0m-13 2h0m-1-2h0m-11 2h0m-8-7h0m-1 6h0m-5-8h0m0 1h0m-1 3h0m-4 1h0m-6-7h0m-3 10h0m-1-5h0m-1-3h0m-5-2h0m-2 11h0m-1-5h0m-4 1h0m-3-1h0m-5 1h0m-17-6h0m-12 7h0m-5-3h0m-1-2h0m-2 3h0m-3 0h0m-5 0h0m-9 2h0m0 1h0m-3 1h0m-1-9h0m-16 9h0m-1-9h0m-6 6h0m-10-7h0m-3 10h0m-7-6h0m-2-4h0m-7 0h0m-6 2h0m-3-1h0m-16 7h0m-3-5h0m0 5h0m-2 2h0m-5-2h0m-27-7h0m-6-1h0m-17 7h0m6 11h0m27-5h0m13 6h0m12-4h0m3-1h0m6 8h0m8 0h0m4-2h0m4-8h0m3 7h0m13-1h0m2-2h0m4 4h0m3-2h0m2 5h0m0-7h0m7 4h0m3-2h0m17 1h0m1 3h0m0-6h0m2 5h0m5 0h0m1-8h0m1 3h0m4-3h0m2 1h0m5 0h0m1 0h0m1 6h0m1-2h0m4-3h0m13 7h0m6-6h0m25 6h0m1-7h0m0 6h0m1 1h0m2 1h0m0-2h0m5-6h0m1 5h0m1 2h0m0-5h0m60 13h0m-25-3h0m-38-2h0m-13 6h0m-2-3h0m-4-1h0m-4 5h0m-4-4h0m-7 6h0m-5-8h0m-1 5h0m-4 1h0m-2 2h0m-1-4h0m-5 3h0m-5-5h0m-1 2h0m-9-2h0m0 0h0m-6 3h0m-4 4h0m-1-2h0m-1-4h0m-2 3h0m-1 1h0m-13-9h0m-1 11h0m-1 0h0m0-4h0m-3 2h0m-3-3h0m-8 0h0m0 5h0m-5-2h0m-7-8h0m-4-1h0m-2 7h0m-8 4h0m-5-11h0m-6 2h0m-1-1h0m-1 0h0m-2 3h0m-5 1h0m-1-4h0m-17 6h0m-3 1h0m-18-1h0m-1 11h0m23-6h0m1 2h0m7 0h0m6 2h0m4 2h0m8-6h0m5 6h0m1-5h0m18 6h0m1-3h0m2-2h0m0 6h0m4-2h0m6-1h0m1-3h0m5 5h0m1 0h0m10-1h0m0-4h0m0 5h0m2-1h0m4 0h0m0 3h0m1 0h0m6-2h0m1-1h0m2-2h0m1-2h0m4 9h0m6-7h0m7-2h0m3 1h0m1 5h0m8-3h0m1 2h0m1 4h0m2-3h0m7-5h0m3 4h0m0 2h0m2-1h0m11-5h0m1 7h0m3-8h0m2-2h0m3 3h0m3 0h0m0-3h0m2 4h0m15-3h0m16 4h0m17 3h0m6-5h0m-5 20h0m-46-8h0m-2 5h0m-3-6h0m-10 6h0m-6-2h0m0 1h0m-10-2h0m-5-3h0m0 8h0m-6-4h0m-10-4h0m-10-2h0m-3 3h0m-8 7h0m-8 0h0m-2-2h0m-1-2h0m-3-1h0m-6 3h0m-1-6h0m-5 1h0m-3 3h0m-5 2h0m-1-3h0m-1 6h0m-3-4h0m-2 3h0m-6-1h0m-7 1h0m0-9h0m-14 4h0m-4 0h0m-3-1h0m-4 1h0m-2 5h0m-20-2h0m-9-2h0m-26 10h0m50 4h0m2 2h0m2-2h0m9-5h0m4-3h0m2 0h0m8 8h0m2 3h0m1-1h0m5-7h0m3-3h0m9 6h0m6 3h0m1-8h0m1 7h0m9-7h0m0 1h0m1 2h0m6 6h0m3-7h0m0-3h0m2 6h0m5 1h0m1 0h0m1-6h0m4 2h0m1 8h0m6-11h0m0 5h0m0 5h0m0 1h0m1-6h0m4-3h0m3 2h0m1-4h0m4 5h0m0 6h0m4 0h0m5-4h0m6 0h0m3-5h0m5 2h0m3 2h0m24 4h0m6-5h0m1 3h0m54 3h0m-56 10h0m-10 2h0m-2-2h0m-5-4h0m-3 0h0m-5 5h0m-16-7h0m-8-3h0m-2 1h0m-1 2h0m-1 4h0m-3 2h0m-1-3h0m-3 1h0m-2 3h0m-2-7h0m-2 8h0m0-8h0m-2 5h0m-5-2h0m0-1h0m-4 2h0m-2 1h0m-2 3h0m-1-9h0m-1 7h0m-1-4h0m-2-5h0m-2 9h0m-2-1h0m-3 1h0m-4-6h0m-5-2h0m-1 3h0m-5 4h0m-1-8h0m-8 7h0m-5 4h0m-7-11h0m0 4h0m-2-4h0m-8 11h0m0-4h0m-31-1h0m-8-3h0m-18 19h0m11-10h0m7 7h0m7-7h0m6 0h0m7 2h0m5 5h0m12-2h0m2-2h0m7-3h0m1 3h0m4 3h0m4 0h0m5 0h0m6 5h0m2-8h0m1 3h0m2 3h0m1-2h0m9-7h0m5 1h0m3 5h0m6-4h0m6-1h0m7 0h0m16 8h0m4-1h0m15-6h0m24 9h0m34-10h0m32 21h0m-31-3h0m-20 3h0m-8-9h0m-19 7h0m-9-5h0m-5 6h0m-15-2h0m-3-3h0m-3-3h0m-28 6h0m-3-6h0m-4-1h0m-1 2h0m-1-2h0m-12 6h0m-4-6h0m-20 0h0m-2 11h0m0-8h0m-5 6h0m-3-3h0m-52 10h0m34 4h0m17-8h0m23 3h0m3 0h0m5-1h0m12 7h0m4-2h0m25-1h0m6 4h0m13 1h0m10-1h0m9 0h0m3-5h0m12 1h0m9 2h0m23 3h0m-18 3h0m-15 0h0m-30 2h0m-9-4h0m-3 5h0m-9-5h0m-12 10h0m-7-3h0m-6 2h0m-3 0h0m-4 1h0m-1-7h0m-10 6h0m-41 2h0m-59-11h0m52 16h0m9-2h0m4-1h0m18 6h0m0-7h0m2 5h0m1 5h0m9-4h0m28 5h0m3-6h0m3 1h0m11-6h0m4 1h0m15 0h0m28-1h0m52 2h0m-47 18h0m-20-4h0m-36 5h0m-8-7h0m-34 2h0m-60 13h0m5 0h0m47 4h0m19-2h0m4-1h0m64-5h0m8 2h0m8 14h0m-19 1h0m-56-1h0m-21 1h0m-53-5h0m12 12h0m10 5h0m9 5h0m19-4h0m4-3h0m37-4h0m2 2h0m5 14h0m-72-3h0m-1 6h0m-2-6h0m-10 5h0m49 17h0m4-4h0m-2 6h0"/>
<path stroke="#974C70" d="M480 119h0m-52-1h0m-44 4h0m83-1h0m16 1h0m36 10h0m-8 6h0m-1 5h0m-6-2h0m-31-4h0m-11-5h0m-35 8h0m-48-8h0m-16 22h0m7-4h0m32 3h0m74-1h0m11-8h0m20 6h0m2 9h0m-6 8h0m-4-3h0m-15-8h0m-24 4h0m-20 2h0m-21 12h0m89 0h0m25 11h0m-8-4h0m-77 0h0m-16 9h0m-3-3h0m-15-2h0m-28 12h0m17-2h0m6 4h0m16-3h0m2-2h0m16-1h0m65 1h0m-9 13h0m-8 0h0m-109-1h0m-1 19h0m18-2h0m5 0h0m6-5h0m1 0h0m5 3h0m1-3h0m9-2h0m0 2h0m7 6h0m48 3h0m-45 4h0m-2-1h0m-5 6h0m-15 1h0m-1-5h0m-26 0h0m18 19h0m4-2h0m25-6h0m2-1h0m-22 16h0m-23-5h0m-30 7h0m57 31h0"/>
<path stroke="#8B82E0" d="M216 44h0m-24 2h0m-2 3h0m3 8h0m11 13h0m-37 11h0m26-7h0m11 9h0m5-9h0m21 1h0m34 5h0m31 11h0m-46 4h0m-16-8h0m-37 0h0m-27 7h0m4 5h0m38 1h0m9-1h0m10 1h0m24-2h0m70 1h0m7 18h0m-116-7h0m-7 0h0m-2 7h0m-14-4h0m-16 4h0m-29-1h0m-8 7h0m5 0h0m4 5h0m4-7h0m23 0h0m3 4h0m8-2h0m3-1h0m9 3h0m16-5h0m10 11h0m3-5h0m7 1h0m83-1h0m23-6h0m9 10h0m-45 8h0m-31 5h0m-4-6h0m-6 2h0m-5-3h0m-44-3h0m-12 0h0m-22 8h0m-20-7h0m-15 8h0m26 8h0m20 1h0m67 3h0m10-8h0m7 9h0m3-11h0m13 6h0m14-6h0m13 9h0m23 0h0m3 2h0m2-7h0m8 6h0m13-7h0m16 5h0m1 4h0m-4 4h0m-1 4h0m-8-4h0m-25 6h0m-10-7h0m-8 0h0m-23 7h0m-7 0h0m-4-5h0m-14-5h0m-6 3h0m-1 4h0m-2 1h0m-1 3h0m-5-2h0m-2-7h0m-7-1h0m-2 2h0m-2 8h0m-3-10h0m-8-1h0m-9 0h0m-3 11h0m-3-10h0m-11 1h0m-4 2h0m-7 4h0m-4 2h0m-4-7h0m-8 4h0m-6-4h0m43 17h0m15-6h0m11 1h0m7 8h0m10-1h0m10-7h0m4 1h0m6 6h0m2-7h0m6 8h0m3-10h0m0 4h0m1 4h0m3-3h0m0 5h0m16-3h0m0 3h0m8 0h0m3-8h0m3-2h0m4 1h0m56 7h0m-17 8h0m-38-1h0m-20 2h0m0 3h0m-14-3h0m-1 2h0m-8-1h0m-7 3h0m-3-7h0m-5 6h0m-2-4h0m-16 1h0m-2 4h0m-10-9h0m-1 2h0m-6-3h0m0 0h0m-1 9h0m-3-8h0m-5 0h0m-2-1h0m-12 3h0m-18 4h0m15 12h0m0 2h0m4-9h0m9 11h0m0-4h0m5 3h0m0-6h0m3 2h0m1 3h0m3-6h0m1 1h0m4 1h0m2-3h0m2 9h0m2-4h0m1-4h0m4-3h0m4 11h0m12-6h0m6-5h0m4 9h0m2-3h0m1-2h0m7 1h0m4 6h0m3-6h0m0-2h0m0 6h0m1 1h0m7-6h0m3 0h0m0 3h0m12 4h0m8-7h0m49-2h0m2 12h0m-20 6h0m-29 2h0m-11-4h0m-22 4h0m-1-5h0m-5 1h0m-4-3h0m-1 2h0m0-2h0m-14 2h0m-10 4h0m-1 0h0m-8-6h0m-3 0h0m-1 8h0m-6-4h0m-2-4h0m0 8h0m-3-1h0m-3-2h0m0-2h0m-1 3h0m-7-5h0m-3 5h0m-5-8h0m-2 1h0m-1 8h0m-1 0h0m-25 1h0m-11 0h0m-6-8h0m-2-3h0m-27 10h0m-49-4h0m53 13h0m33-3h0m15 5h0m14-7h0m3 6h0m5 1h0m2-5h0m0 2h0m2 5h0m4-2h0m2-5h0m4 0h0m1 5h0m4-4h0m3-2h0m8-3h0m1 3h0m1 3h0m0-2h0m2-2h0m4-1h0m9 4h0m1 3h0m10-1h0m10 4h0m2-3h0m0 2h0m14-9h0m3 0h0m2 1h0m0 8h0m5-10h0m3 10h0m3-5h0m7-1h0m14 0h0m14 2h0m26-5h0m-30 17h0m-1-2h0m0 1h0m-7-1h0m-45-1h0m-17-2h0m-1 10h0m-12-9h0m-6 7h0m-2-9h0m-1 1h0m-3 5h0m-5-2h0m-12-2h0m-1-1h0m-2 0h0m-2 4h0m-16-1h0m-4-3h0m-49 16h0m44 4h0m2-4h0m11 5h0m1-10h0m1 7h0m5 3h0m0-6h0m3 5h0m6-9h0m1 1h0m6 2h0m4-1h0m3-2h0m8 8h0m2-8h0m2 2h0m1-2h0m2 9h0m11-1h0m8 3h0m6-11h0m1 8h0m4 0h0m8-2h0m2 1h0m21 3h0m13-2h0m0-6h0m18 3h0m12 1h0m1-2h0m2 10h0m-8 4h0m-82-6h0m0 4h0m-7 1h0m-3 4h0m-1-8h0m-4 5h0m-4 5h0m-8-8h0m-3 3h0m-8 1h0m-2 3h0m-1-6h0m-24 7h0m-4-7h0m-21 7h0m-51 1h0m82 5h0m8 2h0m1 0h0m6 1h0m5-6h0m2-2h0m0 2h0m6 1h0m5 7h0m1-10h0m29 10h0m4-5h0m6-5h0m9 6h0m29 4h0m8 1h0m13-11h0m6 3h0m22 17h0m-77-2h0m0 5h0m-14-11h0m-10 11h0m-14-1h0m-4-6h0m-10 5h0m-3-3h0m-1 2h0m-3-8h0m-2 8h0m-5-6h0m-1 6h0m-2-4h0m-3 3h0m-19-3h0m-7 7h0m-80 1h0m16 2h0m111-1h0m12 1h0m25 7h0m27-4h0m2-1h0m6-3h0m21 7h0m19-6h0m-28 21h0m-51-8h0m-30 1h0m-16-4h0m-49 0h0m100 18h0m11-4h0m29-2h0m-60 13h0m-23 5h0m-27-6h0m-69 6h0m37 57h0"/>
<path stroke="#7DDCBE" d="M428 43h0m31 17h0m-136 21h0m53-3h0m137 15h0m-101 1h0m-18-9h0m-12 10h0m-85-1h0m99 7h0m3 0h0m10 3h0m8 0h0m9-8h0m17 0h0m22 0h0m-2 12h0m-52 1h0m-1 10h0m-2-4h0m-4-7h0m-64 9h0m-10-7h0m-33 3h0m-10 14h0m4 4h0m7 0h0m21-7h0m14 2h0m8 4h0m68-8h0m33 8h0m13 4h0m-44-2h0m-15 1h0m-2 9h0m-1-5h0m-2-4h0m-3 9h0m-2-5h0m-6 4h0m-1-5h0m-2 7h0m-1-6h0m-4-3h0m-11 8h0m-9 0h0m-3-10h0m-31 9h0m-4-3h0m-2 2h0m-12 0h0m-2-1h0m-25 1h0m-4 0h0m-27 4h0m25 9h0m2-5h0m5 7h0m2-6h0m1 1h0m13 2h0m39-8h0m1 4h0m1 5h0m16-4h0m1 3h0m14-6h0m6 3h0m6 6h0m12-7h0m1 4h0m16-1h0m14 9h0m-1-1h0m-7 8h0m-1-1h0m-1-7h0m-8 6h0m0-3h0m0 2h0m-4 2h0m0-2h0m-5-3h0m-7 3h0m-17-8h0m-20 5h0m-15 0h0m-4 3h0m-16-2h0m-6-5h0m-7 7h0m-46 6h0m18 1h0m2 3h0m12-1h0m4 2h0m13-1h0m0-5h0m8 6h0m13 0h0m16-3h0m9 4h0m1 2h0m13-8h0m3 9h0m12-4h0m10 0h0m27-2h0m11-2h0m20 1h0m5-3h0m-18 22h0m-17-10h0m-1 0h0m-6 9h0m-7-10h0m-4 9h0m-11-1h0m-9-7h0m-2 8h0m-3-2h0m-1 4h0m-5-5h0m-65 4h0m-22 1h0m-8-1h0m-41 12h0m23-3h0m16-5h0m13 6h0m36-7h0m3-1h0m12 9h0m27-9h0m8 10h0m4-9h0m10 3h0m9 1h0m3-1h0m5 5h0m3-3h0m8-1h0m7 1h0m9 1h0m0-3h0m21 13h0m-8 2h0m-5 1h0m-28-4h0m0 5h0m-30-3h0m-5-6h0m-19 3h0m-8 4h0m-9-3h0m-3-2h0m-5 9h0m-23-2h0m-6-2h0m-3 3h0m-4-10h0m-27 10h0m-16-1h0m-30 13h0m22-7h0m18-3h0m44 10h0m2 1h0m8-1h0m16-3h0m1 3h0m28-9h0m9 10h0m0-5h0m9-3h0m12 7h0m0-4h0m19-2h0m16 0h0m1 3h0m19 0h0m-13 8h0m-2-3h0m-14 10h0m-9-1h0m-40-8h0m-11 6h0m-40-5h0m-1 1h0m-6 6h0m-7-1h0m-22 0h0m-1 2h0m6 7h0m33-5h0m6 9h0m14-6h0m6-2h0m12 6h0m10-4h0m30 5h0m5-5h0m6 7h0m8 12h0m-14 1h0m-40-7h0m-27 1h0m-8 2h0m-2-3h0m-6 4h0m-22 0h0m-8-5h0m-50 16h0m61 2h0m9-2h0m7 4h0m32-7h0m3-3h0m2 6h0m9 4h0m39-7h0m-22 14h0m-14 0h0m-54-6h0m56 12h0m5 11h0m-89 5h0m40 25h0"/>
<path stroke="#74ABE0" d="M240 185h0m194 39h0m-213 26h0m30-4h0m170 4h0m17-7h0m-193 21h0m6 8h0m7 3h0m130-1h0m22-8h0m6 5h0m104 7h0m-82 8h0m-194-5h0m-40-4h0m-3 1h0m-7 17h0m74-4h0m27 2h0m2-4h0m26 8h0m71-9h0m137 15h0m-68 3h0m-76 4h0m-10 1h0m-197 8h0m7 3h0m4-1h0m17 0h0m159-2h0m72 0h0m14-7h0m16 1h0m2 10h0m50-6h0m-25 15h0m-90-3h0m-119-5h0m-65 3h0m-12 2h0m-2 5h0m-15-6h0m-10-4h0m-5 8h0m-2-6h0m255 21h0m29-8h0m49-3h0m-27 14h0m-307 16h0m44 3h0m11 0h0m159 0h0m97 14h0m-89 6h0m0-4h0m31-1h0m25 21h0m-16-7h0m-5-1h0m-3 4h0m-9-3h0m14 18h0"/>
<path stroke="#8B82E0" d="M204 45h0m25 11h0m-12 15h0m-5-9h0m-2 7h0m-34-2h0m51 20h0m-2 7h0m-3-1h0m-12-3h0m-46-2h0m27 8h0m5 7h0m6 3h0m2-5h0m12 0h0m118 13h0m-30 0h0m-18 2h0m-72 1h0m-41-9h0m-14 7h0m-5-6h0m-6 10h0m-8 11h0m20-7h0m20 8h0m28-7h0m13 4h0m1-6h0m9 6h0m14 1h0m59-9h0m1 7h0m19 0h0m-34 8h0m-1 5h0m-11 2h0m-14-1h0m-1 2h0m-25-6h0m-2-3h0m-7 0h0m-23 3h0m-42 6h0m10 4h0m1 2h0m4 4h0m26 2h0m5-8h0m13 3h0m1-5h0m13 4h0m16-3h0m0 3h0m0 6h0m7-11h0m7 4h0m14 7h0m1-7h0m29 3h0m3 3h0m18-10h0m14 3h0m5 3h0m13 0h0m12-2h0m4 2h0m8 16h0m-4-7h0m-31 5h0m-8-6h0m-28 1h0m-3 7h0m-8-10h0m-3 0h0m-2 0h0m-1 5h0m-1 0h0m-18-1h0m-2-3h0m-2 1h0m-5 3h0m-2-4h0m-9 0h0m-2 9h0m-1-2h0m-2 3h0m0-6h0m-6 6h0m-6-2h0m-28-2h0m-28-3h0m-45 16h0m36 1h0m15 1h0m4-4h0m5 3h0m24-3h0m0-3h0m9-1h0m2 9h0m3-7h0m4 5h0m12-3h0m11-5h0m3 9h0m10 1h0m0-9h0m12 5h0m0-5h0m17 3h0m10-3h0m0 8h0m23-5h0m16-1h0m2 4h0m23-5h0m0 2h0m-6 9h0m-4 7h0m-12-5h0m-9-4h0m-4 2h0m-15 7h0m-11 1h0m-9-6h0m-1-1h0m-21-2h0m-8 1h0m-2 3h0m-8 0h0m-13-3h0m-9 0h0m-4 5h0m-3 2h0m0-2h0m-3-7h0m-7 6h0m-2-5h0m-18 3h0m-46 3h0m-28-7h0m10 22h0m14-10h0m41 6h0m16 2h0m2 2h0m4-4h0m5 2h0m1 2h0m1 1h0m3-3h0m2-7h0m6 5h0m0 3h0m0 1h0m2-8h0m1 4h0m9 0h0m12 3h0m11-6h0m2-1h0m1 9h0m2-2h0m1 2h0m2-3h0m1-4h0m5-1h0m16-2h0m8 9h0m4-9h0m2-1h0m4 9h0m4-8h0m0 5h0m6 0h0m6 1h0m30 3h0m6-5h0m15 8h0m-45 9h0m-3-5h0m-8-3h0m0 8h0m-1-10h0m-15 9h0m-7-7h0m-3 4h0m0 5h0m-8-4h0m-3 4h0m-9-5h0m-3-5h0m-3 1h0m-8-1h0m-15 4h0m0 2h0m0-3h0m-1-1h0m-1 2h0m-6 4h0m-1-8h0m-12 2h0m-3 8h0m-1-8h0m-10-1h0m-3 9h0m-3-9h0m-22 7h0m-2-9h0m-27 23h0m29-10h0m23 7h0m0-3h0m2-1h0m3 4h0m1 1h0m0-3h0m1 2h0m0-4h0m3 1h0m3-1h0m6 4h0m0-4h0m5 2h0m2-6h0m0 5h0m13-4h0m5-1h0m1 6h0m3-4h0m9 4h0m1-6h0m2 9h0m0-3h0m2 4h0m1-9h0m4 2h0m1 2h0m4-2h0m7 1h0m0-1h0m2 5h0m2-1h0m7-1h0m12 0h0m21 1h0m13 2h0m10 1h0m-25 11h0m-7 1h0m0 1h0m-19-2h0m-1-6h0m-17-1h0m-1 6h0m-8-3h0m-3 4h0m-3-7h0m-2 2h0m-3 2h0m-2-4h0m-6-1h0m-3 3h0m-2-4h0m-2 10h0m-3-8h0m-5 1h0m-11 2h0m-2 4h0m-4-4h0m-13-2h0m-4-3h0m0 11h0m-39-11h0m-29 3h0m-8 5h0m38 13h0m2-6h0m8 4h0m31-5h0m7 6h0m0 3h0m2 0h0m18-4h0m6-1h0m2 0h0m3 5h0m9-9h0m1 9h0m5-10h0m14 0h0m5 1h0m2 1h0m44-1h0m6 5h0m-7 6h0m-3 1h0m-11 0h0m-2 5h0m-4-3h0m0-2h0m-1 9h0m-3-10h0m-10 2h0m-19 2h0m-2 1h0m0-6h0m-2 2h0m-23 5h0m-3-2h0m-2-5h0m-7 11h0m-7-5h0m-9-4h0m-11 2h0m0-3h0m-2-1h0m-48 3h0m18 11h0m25 2h0m5 4h0m11-4h0m4 1h0m1-4h0m5 4h0m8-2h0m5-1h0m7 0h0m3-1h0m7 5h0m4-1h0m12 1h0m18-2h0m36 3h0m5 2h0m14-5h0m4 14h0m-12 5h0m-5-11h0m-6 7h0m-50-4h0m-8-1h0m-5 6h0m-3-1h0m-4 2h0m-7 1h0m-4-5h0m-6-1h0m0 6h0m-17-8h0m-68 1h0m-15 13h0m24-3h0m26 6h0m27-5h0m14 3h0m9-5h0m36 3h0m1 2h0m20-3h0m29 2h0m5-1h0m5-1h0m-76 10h0m-13 11h0m0-8h0m-8 2h0m-7 6h0m-52-6h0m-11-2h0m2 15h0m79-4h0m11 1h0m15-3h0m5 5h0m11-2h0m-50 15h0m-57-2h0m-39-4h0m11 22h0m135 12h0m-102-5h0"/>
<path stroke="#974C70" d="M502 110h0m-29 9h0m-12-2h0m-2-3h0m-5 5h0m-35-8h0m11 10h0m15 0h0m36 4h0m14-1h0m3-4h0m4 5h0m8-5h0m29 16h0m-62 6h0m-85 12h0m7-6h0m25 0h0m40-3h0m24 5h0m-4 13h0m-27 2h0m-16-8h0m-22 10h0m-25 8h0m5-7h0m0 5h0m16-2h0m102 6h0m11 2h0m2-7h0m11 3h0m5-1h0m0 13h0m-45 2h0m0-6h0m-15 8h0m-13-9h0m-23 5h0m-43 4h0m-23 6h0m16-3h0m17 3h0m50-2h0m27 3h0m64 15h0m-167 0h0m-24-3h0m99 11h0m-25 7h0m-1 8h0m-6-1h0m-2-2h0m-24-2h0m-10 3h0m-16 3h0m28 7h0m4 4h0m3-2h0m5 5h0m22-5h0m-23 8h0m-30 15h0m2-2h0m37 8h0m4-5h0m-37 10h0m-18 3h0"/>
<path stroke="#0C84AC" d="M315 5h0m25-3h0m4 8h0m28 0h0m9 12h0m-28-1h0m-8-8h0m-6 7h0m-28 2h0m-7-10h0m-9 4h0m-26 19h0m23-6h0m13 0h0m9-5h0m27 2h0m61 19h0m-27 2h0m-1-6h0m-6 1h0m-10 0h0m-8 3h0m-15 0h0m-16-9h0m-7 0h0m-36 2h0m-51 1h0m-4 0h0m27 9h0m24 5h0m19 2h0m23-1h0m12 2h0m7-2h0m19 5h0m6-1h0m24-3h0m11-3h0m60 19h0m-9-7h0m-12-1h0m-25 4h0m-4 0h0m-17-7h0m-18 8h0m-45-7h0m-10 9h0m-42-3h0m-16 3h0m-33 2h0m28 10h0m15-7h0m20 6h0m3 2h0m5-2h0m12-2h0m12-7h0m16 1h0m0 7h0m3-5h0m10 6h0m13-5h0m26 2h0m4 5h0m19-4h0m15-1h0m26 1h0m22 0h0m-70 8h0m0 5h0m-22-7h0m-16 5h0m-8-1h0m-14-3h0m-4 1h0m-4-1h0m-10 4h0m-9 4h0m-9-4h0m-14 0h0m-3-1h0m-1 3h0m-8-5h0m-3 7h0m-6-4h0m-28 6h0m25 10h0m6-4h0m9-5h0m2 3h0m30 0h0m1-3h0m6 0h0m18 10h0m7-2h0m20-8h0m18 5h0m17-6h0m74 21h0m0-9h0m-43 3h0m-77-2h0m-9 3h0m-2-1h0m-18 8h0m-2-7h0m-4-2h0m-2 7h0m-6-2h0m-11 3h0m-9-4h0m-3 1h0m-18-4h0m-2 5h0m-18-6h0m-2 3h0m-22-2h0m37 15h0m8-6h0m14 11h0m7-6h0m18-2h0m1 1h0m1 7h0m4-10h0m4 3h0m3 2h0m6-4h0m4 2h0m2-3h0m0 6h0m6-1h0m0 0h0m7-3h0m1 5h0m0-3h0m1-1h0m2 3h0m4-7h0m2 10h0m2-9h0m14 4h0m8 4h0m62-4h0m5-4h0m24 4h0m19 4h0m-27 11h0m-55 0h0m-12 0h0m-20-4h0m0 5h0m-16-8h0m-2 5h0m-3-4h0m-1-2h0m-6 5h0m-5 3h0m-1-2h0m-4-3h0m-5 6h0m0-1h0m-8 3h0m0-9h0m-4 0h0m-8 8h0m-14 1h0m-15-6h0m-1 3h0m-5-2h0m-29-3h0m-134 20h0m167-6h0m3-4h0m7-1h0m1 7h0m10-7h0m3 5h0m5-2h0m4 2h0m2 3h0m6 1h0m20-4h0m6-2h0m1 8h0m4-8h0m10-1h0m46-1h0m2 9h0m5 0h0m15-5h0m27 1h0m6-3h0m23-3h0m43 3h0m-70 14h0m-56 4h0m-3-4h0m-7-4h0m0-1h0m-13 6h0m-13 5h0m-3-3h0m-2-4h0m-1 3h0m-4 3h0m-9-2h0m-9 2h0m-3-5h0m-1 6h0m-8-6h0m0 2h0m-4-2h0m-8-1h0m-9 3h0m-2 2h0m-1-3h0m0 1h0m-2 2h0m-5-7h0m0 1h0m-14 6h0m-4-3h0m-11 2h0m0-7h0m-2 6h0m0-1h0m-5-6h0m-1 1h0m-17 6h0m-2 1h0m-2-1h0m-118-1h0m27 16h0m95-10h0m7 1h0m25 9h0m8-7h0m7 0h0m3-1h0m2 8h0m4-1h0m1-8h0m2 4h0m7 3h0m8-3h0m7-5h0m5 8h0m6 3h0m18-10h0m5 8h0m14-3h0m8-2h0m2-1h0m2-2h0m2 4h0m1-2h0m1 3h0m4-5h0m9 10h0m2-2h0m14 2h0m15-5h0m23 3h0m42-2h0m-7 15h0m-56-2h0m0-8h0m-8 0h0m-4 2h0m-4 8h0m-8 0h0m-3-4h0m-15 5h0m-2-5h0m-4 3h0m-1 1h0m-18-9h0m-22 10h0m-7-2h0m-5 1h0m-1-8h0m-10 1h0m-4 3h0m-6-6h0m-3 11h0m-6-1h0m-1-7h0m-7 4h0m-30 4h0m-11-6h0m-5-4h0m-8 3h0m-9 2h0m-13 0h0m-33 3h0m-71 1h0m-3-9h0m23 20h0m7-4h0m7-5h0m18 6h0m10-1h0m38-4h0m3 0h0m61 1h0m1 4h0m6 1h0m10-1h0m3 2h0m4-1h0m4 0h0m12-2h0m19 1h0m19 1h0m0 4h0m3-3h0m5-3h0m0 5h0m7-9h0m5 0h0m7 9h0m13-4h0m20-6h0m11 8h0m1 2h0m7-8h0m6 2h0m17 10h0m-33 6h0m-5-5h0m-6 6h0m-4-9h0m-6 8h0m0 3h0m0-6h0m-1 3h0m-12-8h0m0 0h0m-23 2h0m-12 1h0m-17 5h0m-4-6h0m-21 3h0m-11-4h0m-3 0h0m0 9h0m-17 1h0m-4-8h0m-15 0h0m-5 7h0m-7-7h0m-18 4h0m-4-6h0m-11 4h0m-23-2h0m-13 7h0m-63 8h0m72 1h0m6-3h0m17 0h0m46 5h0m5 0h0m5-6h0m26 6h0m1-8h0m20 0h0m17 3h0m29 2h0m10-6h0m1 2h0m11-2h0m14 8h0m2 2h0m3-10h0m7 10h0m1-10h0m37 7h0m11 10h0m-12 5h0m-38-2h0m-22-8h0m-4 7h0m-6-5h0m-39 9h0m-4-2h0m-2-5h0m-3 7h0m-3-9h0m-3 4h0m-7 4h0m-36-8h0m-8 0h0m-30 2h0m-68 7h0m-14-6h0m-8 1h0m-14 1h0m-19-6h0m17 13h0m82 9h0m62-3h0m48-6h0m0 0h0m17 3h0m12-4h0m6 3h0m2-3h0m4 5h0m0 2h0m15-3h0m18-4h0m0 1h0m18 7h0m7-9h0m7 0h0m2 13h0m-2 0h0m-3 10h0m-28-3h0m-15-3h0m-26 3h0m-44 1h0m-43-1h0m-13-4h0m-78 6h0m-40-5h0m-13 1h0m-12 0h0m-1-5h0m56 15h0m52 0h0m32 3h0m5 0h0m46 0h0m6 2h0m1-3h0m1 5h0m6-10h0m14 3h0m3-4h0m19 4h0m26-2h0m2 4h0m6-4h0m6 9h0m1-7h0m7 4h0m44 15h0m-34-5h0m-4 0h0m-35 3h0m-25-9h0m-6 10h0m-21-5h0m0 5h0m-2-4h0m-14 3h0m-36-6h0m-4-3h0m-72 7h0m-35 12h0m186-4h0m12 6h0m28-3h0m113 1h0m-76 5h0m-47 6h0m-22-3h0m-1-1h0m-35 0h0m-5 1h0m-10 1h0m0 5h0m-156 0h0m195 13h0m8-6h0m78-3h0m18 14h0m-37 16h0m37 19h0m-63 17h0"/>
<path stroke="#52C3B4" d="M480 67h0m-11 26h0m15 15h0m11 40h0m20-1h0m22 5h0m-88 13h0m-57-9h0m50 29h0m-20 3h0m-21-8h0m-9 3h0m-111 5h0m-20-6h0m141 11h0m41 6h0m-23 6h0m-9 5h0m-24-3h0m-245-1h0m20 57h0m-42 14h0"/>
<path stroke="#F59B0C" d="M463 190h0m24 10h0m20-2h0m11-3h0m26 3h0m-8 13h0m-23-2h0m-11-3h0m-15 9h0m0-5h0m-86 17h0m10-1h0m4-9h0m6 0h0m6 6h0m31-1h0m21 3h0m10-4h0m7-2h0m48 3h0m7 1h0m-4 9h0m-20 3h0m-1-3h0m-8 3h0m-18-7h0m-10 6h0m-6-3h0m-8-1h0m-54 2h0m14 19h0m8-3h0m5-6h0m8 2h0m26-4h0m29 11h0m7-4h0m17 0h0m-32 10h0m-15-5h0m-2 6h0m-5 2h0m-71-3h0m-8-2h0m-15-1h0m-3 3h0m13 10h0m8 8h0m15-2h0m3 1h0m22-2h0m16-8h0m25 0h0m15 1h0m7 8h0m8 2h0m33-3h0m13 8h0m-7 1h0m-10-1h0m-17-1h0m-42 0h0m-6 0h0m-19 2h0m-6-5h0m-40 10h0m-21 1h0m38 9h0m50-6h0m21 11h0m-6-1h0m-19 4h0m-40 4h0m10 8h0m45-3h0m5 5h0m12 2h0m4-3h0m1-3h0m-2 15h0m-5-2h0m-18 5h0m-41 9h0m26-4h0"/>
<path stroke="#E8505E" d="M179 308h0m-39-8h0m-24 27h0"/>
<path stroke="#7DDCBE" d="M402 40h0m-2 16h0m20 1h0m12-5h0m11-2h0m10 5h0m19 2h0m-1 14h0m-8-3h0m-12-4h0m-73 2h0m-22 1h0m52 16h0m24-7h0m5-4h0m4 4h0m4 1h0m5-1h0m10 5h0m26 8h0m-36 3h0m-110 9h0m10 0h0m21 2h0m37-4h0m29 3h0m32-6h0m17 4h0m-17 11h0m-6 0h0m-22-1h0m-38 3h0m-8 2h0m-4 1h0m-103-7h0m17 22h0m12-7h0m11 3h0m6 4h0m82-8h0m47 13h0m-21 7h0m-14-6h0m-12 1h0m-28 3h0m-2-7h0m-11 5h0m-15-2h0m-3 1h0m-1-2h0m-11-3h0m-90 15h0m44-4h0m1 4h0m10 0h0m10-4h0m13 3h0m2 7h0m7-4h0m5 3h0m0 1h0m20-7h0m13 3h0m1 5h0m3-1h0m0-4h0m2 0h0m7-2h0m4 5h0m0-4h0m11 5h0m23-6h0m1-3h0m-14 14h0m-8-2h0m-1 3h0m-13 7h0m-14-2h0m-3-4h0m-3 6h0m-9-2h0m0-6h0m-11-1h0m-62 9h0m-19-1h0m0-6h0m-21 6h0m34 7h0m12 2h0m10 4h0m11-7h0m18 7h0m1 0h0m23-1h0m2-2h0m1-5h0m2 0h0m12 0h0m5-3h0m1 4h0m5 7h0m5-5h0m7-6h0m22 0h0m9 22h0m-4-1h0m-2 1h0m-9-7h0m-27 5h0m-2-3h0m-20 5h0m-8-9h0m-21 1h0m-3 2h0m-44-1h0m-9-1h0m-7 3h0m-50-1h0m-2 19h0m33-8h0m21-3h0m2 5h0m9 3h0m3-1h0m12 0h0m21-3h0m16 6h0m5-10h0m8 9h0m18-4h0m1 2h0m14 0h0m10-7h0m11 1h0m3 9h0m1 0h0m5-4h0m9-3h0m4 5h0m3-5h0m14 3h0m-9 16h0m-72-7h0m-12 0h0m-8-1h0m-3-1h0m-31 1h0m-73 6h0m-19 1h0m-8 5h0m48-2h0m13 10h0m27-6h0m33 6h0m3-9h0m16 2h0m8 7h0m0-9h0m13 7h0m4-5h0m1 4h0m26 1h0m7-1h0m9 2h0m7-3h0m1-3h0m5 8h0m13 12h0m-17-9h0m-18 6h0m-10 0h0m-35-6h0m-3-1h0m-10 9h0m-4-2h0m-4-1h0m-17-1h0m-5 3h0m-10-2h0m-22-3h0m-2 2h0m-31 4h0m-9-3h0m-26 1h0m57 7h0m1 7h0m4 1h0m3-6h0m1 6h0m1-1h0m5-10h0m21 0h0m16 10h0m9-2h0m3 0h0m11 0h0m1-6h0m80 4h0m-13 10h0m-11-3h0m-6 8h0m-22-2h0m-10-1h0m-10-5h0m-3 9h0m-41-10h0m-9 9h0m-15-1h0m-8-8h0m-24 5h0m-13-1h0m-1-1h0m-4 1h0m-9 1h0m-7 3h0m31 13h0m95-5h0m13-1h0m62 5h0m-35 11h0m-45 4h0m-124-10h0m82 17h0m26-4h0m70 5h0m-97 22h0m55 3h0m15 7h0"/>
<path stroke="#0C84AC" d="M286 2h0m0 7h0m20-5h0m73 4h0m-73 7h0m-11-2h0m-36 10h0m34 11h0m13-8h0m16 0h0m6 1h0m7 2h0m2 3h0m12-1h0m17 2h0m38 0h0m39 7h0m-51-4h0m-4 9h0m-26-6h0m-27 1h0m-4 5h0m-3-1h0m-86-5h0m-18 10h0m22 3h0m10-1h0m4 8h0m38-5h0m1-3h0m5 8h0m3-2h0m5-9h0m54 0h0m12 10h0m3 0h0m17-5h0m40-3h0m26 4h0m-7 17h0m-31-1h0m-32-4h0m-36-1h0m-6 1h0m-26-6h0m-19 6h0m-7 3h0m0-8h0m-3 7h0m-8-5h0m-5-2h0m-8 10h0m-39 11h0m7-2h0m42-5h0m6-1h0m4-1h0m16 5h0m12-4h0m22 3h0m24 3h0m4 2h0m19-7h0m36-2h0m6 1h0m17 16h0m-47 1h0m-12 4h0m-21-9h0m-6 4h0m-6-2h0m-28 3h0m-3-2h0m-50 2h0m-5 0h0m-11-5h0m-21 5h0m11 12h0m41-6h0m3 10h0m16-4h0m14-6h0m4 9h0m8-8h0m39 6h0m15 2h0m21-1h0m8 2h0m77-3h0m-2 4h0m-40 9h0m-36-3h0m-29 4h0m-9-8h0m-6-1h0m-4 3h0m-1 4h0m-15-4h0m-24-2h0m-12 4h0m-23 2h0m-20-3h0m-58 7h0m28 11h0m16-1h0m2-8h0m20 9h0m24-3h0m3-1h0m0 4h0m4-4h0m6-3h0m2 5h0m1 1h0m1 1h0m4-3h0m4-2h0m5 3h0m8-3h0m3 1h0m4 0h0m1-5h0m12-2h0m25 5h0m28 1h0m-17 15h0m-18-2h0m-4-4h0m-12-2h0m-6-1h0m-1 5h0m-3-3h0m-4 7h0m-1-3h0m-8-1h0m-11-1h0m-16-2h0m-11-1h0m-19 7h0m-4-8h0m-6 8h0m0-3h0m-2 2h0m0 1h0m-7-2h0m-150 9h0m1-3h0m20 1h0m8-1h0m5 9h0m99-5h0m32-1h0m33-3h0m2 7h0m1-6h0m3 6h0m5 0h0m2 0h0m1 2h0m4-3h0m3-3h0m4-3h0m1 10h0m5-7h0m1-2h0m5 2h0m0 0h0m2 0h0m1 1h0m2 1h0m0 2h0m6 0h0m5-6h0m1 10h0m2-1h0m2-3h0m1-3h0m1 4h0m3-2h0m2 0h0m10-4h0m92 7h0m17-8h0m28 19h0m-105-4h0m-6 4h0m-10 3h0m-1-1h0m-6-3h0m-12-7h0m0 4h0m-2 3h0m-19-2h0m-45 5h0m-5-6h0m-12 1h0m-1-3h0m-10 9h0m-10-11h0m-4 2h0m-2 1h0m-1 0h0m-7 5h0m-20 2h0m-101-5h0m-31 8h0m26 8h0m3-3h0m88 2h0m16-2h0m15 0h0m9 3h0m2-2h0m4-5h0m1 3h0m1 1h0m5-6h0m13 11h0m2-2h0m21-3h0m22-2h0m5 1h0m3 1h0m7 2h0m2 0h0m5-7h0m6 10h0m1-3h0m22-7h0m14 5h0m3-5h0m8 9h0m11-9h0m7 8h0m76-5h0m-75 9h0m-10 6h0m-4 1h0m-19 3h0m-15 0h0m0-8h0m-18 4h0m-3 4h0m-1-1h0m-10 0h0m-13-3h0m-9-5h0m-6 9h0m-2-11h0m-6 0h0m-18 11h0m-15-6h0m-12-2h0m-24 6h0m-7-7h0m-5 6h0m-6-2h0m-4-2h0m-1 3h0m-76 0h0m-3-3h0m-25 12h0m51 4h0m26-3h0m13 3h0m10-6h0m17-1h0m9-1h0m37 8h0m8-7h0m6 0h0m7 6h0m8 0h0m4 4h0m6-5h0m6 4h0m2-5h0m15 1h0m0 0h0m1 3h0m7-7h0m3 5h0m5 4h0m1 0h0m9-2h0m3-5h0m9 5h0m0-6h0m13 8h0m6 0h0m4-1h0m10-4h0m1-5h0m50 13h0m-50-2h0m-7 7h0m-6-6h0m-1 4h0m-4 4h0m-2 0h0m-14-7h0m-16-2h0m-18 4h0m-15 7h0m-9-6h0m-3-2h0m-10-1h0m-49-1h0m-5 7h0m0 2h0m-7 0h0m-146 0h0m0 5h0m6-1h0m7-2h0m18 11h0m3-6h0m14-5h0m66 10h0m2-1h0m7-7h0m3 9h0m13-2h0m12 1h0m21-8h0m16 5h0m1 0h0m23 2h0m7-6h0m15 2h0m2-3h0m14-1h0m8 5h0m0-1h0m0 3h0m6 1h0m3-9h0m7 8h0m3-2h0m12 3h0m19-9h0m7 6h0m15-5h0m-10 18h0m-8-5h0m-5 0h0m-8-1h0m-2 7h0m-8-2h0m-3-1h0m-2-2h0m-5 6h0m-2 0h0m-12-6h0m-3 0h0m-14 2h0m-4-3h0m-7 3h0m-3-3h0m-5 0h0m-8 3h0m-12-1h0m-28 7h0m-1-9h0m-63 7h0m-2-6h0m-136-3h0m24 20h0m4-7h0m13 2h0m16-2h0m19 9h0m28-10h0m26 10h0m11-7h0m3-2h0m28-1h0m20 2h0m13 2h0m1 2h0m15 1h0m11 1h0m0-7h0m14 3h0m5-3h0m1 2h0m3 8h0m1-1h0m8-6h0m6 7h0m19-11h0m22 5h0m14 2h0m8 2h0m26 12h0m-9-9h0m-14 1h0m-14 3h0m-30 4h0m-12-6h0m-25 5h0m-10 0h0m-9-5h0m-10 3h0m-22-1h0m-2 5h0m-8-6h0m-26 5h0m-4-4h0m-2 0h0m-2-3h0m-9 0h0m-59 8h0m-75 8h0m11 4h0m115-6h0m5-1h0m34 5h0m0-7h0m20 0h0m21 9h0m6-7h0m13 9h0m3-4h0m13 4h0m11-2h0m16-5h0m25-1h0m29 1h0m30 10h0m-70 8h0m-26-10h0m-3 9h0m-7-8h0m-3 1h0m-1-2h0m-12 9h0m-15-2h0m-68-4h0m-42-2h0m-47 8h0m-22-4h0m-13 1h0m-23-1h0m156 9h0m74 1h0m3 3h0m4-3h0m9 1h0m4-1h0m4 4h0m5-5h0m4 3h0m9-3h0m48 3h0m16 0h0m14 1h0m-90 10h0m-38 6h0m-21-8h0m-67 8h0m-81 11h0m156-9h0m13 6h0m37-4h0m6 7h0m10-7h0m0 7h0m8-2h0m-31 12h0m-28-1h0m85 6h0m8 6h0m58 15h0m-12-7h0m-28 2h0m-33 2h0m22 10h0m46 17h0m-25 13h0m1-10h0m-35 28h0"/>
<path stroke="#E3BD80" d="M348 127h0m29 13h0m-10 2h0m-24-9h0m-3 4h0m-67 0h0m21 7h0m12 5h0m80 2h0m-3 5h0m-9 11h0m-18-10h0m-18 4h0m-4 5h0m-13-2h0m-42-2h0m76 12h0m29 4h0m8-4h0m15 4h0m2-1h0m49 3h0m-32 3h0m-13 6h0m-6-4h0m-1-4h0m-19 8h0m-4-1h0m-6 0h0m-22-4h0m-2-3h0m-1 0h0m-4 6h0m-12-2h0m-7-5h0m-7 11h0m-38-10h0m-4 19h0m23 0h0m9-3h0m43-2h0m0 2h0m6-3h0m9-1h0m20 5h0m1 3h0m8-1h0m2-7h0m29-1h0m39 17h0m-7 1h0m-19 4h0m-15-6h0m-24 4h0m-6-1h0m-15-5h0m-6 2h0m0-3h0m-11 1h0m-1 8h0m-11-3h0m-10 3h0m-10-1h0m-9-8h0m-7-1h0m-12 0h0m-3 11h0m-12-11h0m-9 0h0m-9 0h0m-61 22h0m5-3h0m15 0h0m30-1h0m2 3h0m38 2h0m6-2h0m18 1h0m0-4h0m13 5h0m1-2h0m16 2h0m2-1h0m0-8h0m1 3h0m1 5h0m4-6h0m1 7h0m3-10h0m4 1h0m16-2h0m0 10h0m0-2h0m40-4h0m13-3h0m5 21h0m-6-3h0m-3-2h0m-3 1h0m-14-3h0m-6 2h0m-17 1h0m-3 0h0m-9-5h0m0 6h0m-9-5h0m-9 8h0m-1-1h0m-44-2h0m-5-4h0m0-2h0m-1 6h0m0 2h0m-16-2h0m0 3h0m-2-3h0m-25-2h0m-2 1h0m-1 5h0m-19 5h0m3 4h0m3-2h0m10 5h0m15-1h0m3-9h0m5 1h0m1 8h0m0-10h0m11 4h0m3 7h0m2-4h0m6-3h0m2 1h0m3-2h0m10 3h0m0 3h0m21-3h0m0-3h0m4 6h0m7-9h0m0 11h0m2-2h0m28-7h0m11 8h0m0-9h0m2 2h0m1 1h0m0-4h0m4 11h0m6-8h0m6-3h0m21 3h0m17 5h0m13 5h0m-33 8h0m-1-2h0m-5 4h0m-13-7h0m-5 0h0m-2-2h0m-1 3h0m-11 1h0m-8 1h0m-4 4h0m-2-8h0m-6 6h0m-7-5h0m-3 1h0m0-3h0m0 3h0m-1-3h0m-7 7h0m0-2h0m-2 3h0m-1-2h0m-9-4h0m-2-1h0m-1 2h0m-4-3h0m-1 8h0m-17-6h0m-4 4h0m-8-3h0m-1 1h0m-10 2h0m-3-2h0m-3-6h0m-3 4h0m-9 0h0m-3 2h0m-8 5h0m0-1h0m-12-10h0m-5 9h0m-1 2h0m-3-4h0m-6-5h0m-8 6h0m-6-2h0m-5 1h0m-7-1h0m-1-3h0m16 13h0m23 1h0m2-2h0m1 6h0m1-1h0m8-4h0m2-1h0m6 7h0m5 1h0m6-3h0m10 1h0m2-6h0m5 2h0m3 2h0m6-7h0m4 9h0m4-6h0m1 3h0m1 3h0m1 0h0m1-5h0m1-2h0m1 3h0m5 0h0m1 5h0m2-5h0m1 1h0m4-3h0m6 0h0m2 0h0m12 8h0m4-4h0m4-6h0m0 6h0m5 3h0m0-3h0m5 2h0m2-4h0m2-5h0m0 4h0m0 2h0m5 4h0m10-1h0m1 2h0m8-3h0m6 0h0m2-2h0m1-4h0m3-1h0m1 0h0m2 3h0m5-1h0m5 3h0m3-4h0m27 9h0m-22 12h0m-17-4h0m-1-5h0m-3 4h0m-1 3h0m-2-7h0m-5 8h0m-1-9h0m-10 8h0m-3 1h0m-5-3h0m-5 0h0m-1-7h0m-1 5h0m-21 4h0m-9-2h0m-6 3h0m0-10h0m-1 10h0m-1-9h0m0 3h0m0 2h0m-17 1h0m-12-6h0m-3 0h0m-1 5h0m-2-6h0m-1 6h0m0-5h0m-2 2h0m0-1h0m-12 7h0m-1-3h0m0 4h0m-11 0h0m-20-8h0m0 8h0m-25-2h0m-2 3h0m-2-7h0m-5 5h0m-23 14h0m48-7h0m2-2h0m9 6h0m5-5h0m8 8h0m5-4h0m4-3h0m0 4h0m2-3h0m4 0h0m2 3h0m1-4h0m3 0h0m1 7h0m0-5h0m1 2h0m2-4h0m3 0h0m1-4h0m3 2h0m2 8h0m5-5h0m6 2h0m2-1h0m3 2h0m3 3h0m2-1h0m1 0h0m2-10h0m4 10h0m6-2h0m5-2h0m1 1h0m2 1h0m3 1h0m0 0h0m1 0h0m2 0h0m0-3h0m9 3h0m1-8h0m2 0h0m0 9h0m4-7h0m7-3h0m0 5h0m0 6h0m6 0h0m8-11h0m1 8h0m0-7h0m3 6h0m9-5h0m10 3h0m35 0h0m10 3h0m10 4h0m-78 0h0m-9 0h0m-10 10h0m-1-6h0m-5-2h0m-1 8h0m-3-9h0m-5 8h0m-1 2h0m0-3h0m0-4h0m0 6h0m-1-10h0m-6 5h0m-3 0h0m-3-5h0m-1 3h0m-4 0h0m0-1h0m-1 9h0m-4-2h0m-4-1h0m-2-4h0m-1 3h0m-3-1h0m-2-5h0m-10 3h0m-12 5h0m-1-9h0m-2 1h0m-5 8h0m-2 2h0m0-11h0m-2 5h0m-2 1h0m-6 5h0m-12-7h0m-2 7h0m-3-2h0m-3 2h0m0-2h0m-4-2h0m-81-4h0m47 17h0m6 1h0m4-9h0m24 5h0m3 0h0m3 4h0m1-8h0m2 7h0m1 2h0m8-10h0m1 0h0m4 11h0m3-5h0m0 1h0m3-3h0m14 0h0m1-3h0m2 4h0m9-5h0m2 3h0m0 2h0m5 6h0m1-10h0m4 6h0m1 3h0m7-10h0m1 0h0m1 0h0m0 8h0m1-1h0m1-3h0m3 4h0m3-4h0m3 2h0m0 5h0m1-5h0m4 4h0m3-3h0m0 3h0m1-2h0m0 1h0m7-8h0m0 10h0m5-9h0m2 8h0m0-8h0m3 1h0m1 3h0m4 3h0m1 0h0m1-6h0m6 4h0m1-1h0m13-5h0m4 0h0m84 13h0m-73-2h0m-9 9h0m-18-7h0m-7 1h0m-14-3h0m-11 10h0m0-2h0m0-7h0m-1 1h0m-2 8h0m-2-8h0m-4 0h0m-6 7h0m-2-5h0m-2 5h0m0-1h0m-4 1h0m-3 0h0m-2-8h0m-3 9h0m-2-10h0m-1 2h0m0-1h0m-5 8h0m0 0h0m-3-3h0m-2-2h0m-4-4h0m0 9h0m-2-5h0m-1 6h0m-4-8h0m-15 4h0m-8-4h0m-20 5h0m-14-4h0m-9-3h0m9 19h0m19-3h0m1 5h0m14-2h0m1-5h0m1 7h0m3-5h0m1-2h0m3 7h0m0-8h0m5-1h0m0 6h0m13 5h0m4-7h0m4 0h0m0 3h0m2-5h0m1-1h0m5 3h0m2-4h0m4 11h0m1-7h0m0 2h0m2 2h0m1 3h0m6-8h0m2 1h0m2 0h0m1 5h0m3-9h0m15 6h0m6 2h0m1-2h0m26 1h0m36-7h0m19 12h0m-101 2h0m-2 3h0m-1-5h0m-13 10h0m-4-10h0m-7 2h0m0 2h0m-1 2h0m-10-2h0m-4-4h0m-5 3h0m-14 5h0m-69 11h0m30-6h0m5 2h0m6 4h0m20 0h0m6 0h0m3 3h0m2-5h0m25 0h0m2-4h0m9 0h0m6 7h0m10-4h0m18 6h0m5-10h0m10 0h0m62 4h0m-51 11h0m-3 6h0m-3-4h0m-6 0h0m-6-5h0m-20 5h0m-21-1h0m-4 4h0m-7-3h0m0-2h0m-5 6h0m-32-2h0m-9-7h0m-13 10h0m-48-4h0m-2 7h0m28 0h0m38 10h0m50-6h0m11 3h0m2-5h0m20 2h0m4 5h0m6-8h0m21 5h0m37 2h0m-45 9h0m-18 0h0m-19 2h0m-1-8h0m-17 9h0m-2-8h0m-14 6h0m-1 4h0m-12-2h0m-16-6h0m-12 7h0m-35-10h0m-3 1h0m-4 5h0m-5-2h0m-4-3h0m9 19h0m16-6h0m17 8h0m44-9h0m2 2h0m18 6h0m13-4h0m76 2h0m-16 12h0m-63-4h0m-29 0h0m-65 0h0m-7-1h0m17 20h0m0-4h0m4 5h0m18-7h0m28-3h0m26 7h0m29 9h0m-7 4h0m-75 0h0m-6 0h0m-3-3h0m-15-4h0m8 10h0m65 1h0m6 5h0m-24 8h0m-11 0h0"/>
<path stroke="#7DDCBE" d="M417 49h0m16 10h0m0-11h0m35 19h0m-46-1h0m-5 0h0m-3-2h0m-44-2h0m30 12h0m23 0h0m16-1h0m1 9h0m4-10h0m24 4h0m25 3h0m3 14h0m-19-8h0m-5 5h0m-13-5h0m-38 9h0m-53-2h0m-51 14h0m29-4h0m8 2h0m101-4h0m7 5h0m12-8h0m-27 13h0m-42 7h0m-7-7h0m-5 1h0m-87 16h0m13 0h0m3-6h0m5 4h0m75-2h0m6 3h0m21-1h0m9-3h0m46 4h0m-105 13h0m-7-2h0m-72-2h0m-54 6h0m-11 7h0m42 3h0m2 3h0m32-8h0m37 1h0m1 4h0m2-2h0m7-3h0m4 8h0m15 0h0m17-4h0m8-1h0m4-1h0m39 1h0m23 11h0m-23 0h0m-9 1h0m-5-2h0m-20 5h0m-4-2h0m-4 4h0m-1-1h0m-5-4h0m-18 4h0m-2-1h0m0 0h0m-12 0h0m-9-2h0m-31-4h0m-19 6h0m-3 0h0m-20-3h0m0 1h0m-5 4h0m-12-8h0m-20 4h0m-23 4h0m65 4h0m2 9h0m23 0h0m13-11h0m18 0h0m19 0h0m0 10h0m12-1h0m2 2h0m10-6h0m4-4h0m19 8h0m44-9h0m-7 23h0m-25-9h0m-2 4h0m-11-4h0m0 0h0m0 1h0m-65 5h0m-13 0h0m-12-2h0m-4-1h0m-6 3h0m-44 1h0m-57-3h0m59 17h0m15-5h0m11-3h0m4 8h0m10-6h0m1 3h0m5-4h0m12 7h0m2-10h0m9 0h0m34 10h0m21-11h0m13 0h0m2 2h0m0 1h0m14 4h0m3-4h0m4 7h0m0-1h0m5-4h0m-32 7h0m-1 7h0m-5 3h0m-5-1h0m-1-1h0m-4-4h0m-12 0h0m-28 6h0m-9-3h0m-58-2h0m-36 8h0m8 5h0m27-5h0m14 10h0m1-3h0m40-2h0m13-2h0m1 7h0m4-7h0m1 4h0m5 1h0m2-7h0m0 1h0m30 3h0m4 0h0m5-5h0m0 1h0m8-1h0m23 0h0m15 0h0m-15 15h0m-2-1h0m-6-1h0m-6 4h0m-4-5h0m-2 1h0m-3 2h0m-22 7h0m-1-7h0m-8 3h0m0-1h0m-16-6h0m-4 9h0m-3-7h0m-5-2h0m-2 0h0m-15 0h0m-2 4h0m-15 6h0m-1-9h0m-16 7h0m-15-6h0m-29 1h0m-17 0h0m-6 11h0m10-1h0m57 0h0m38 6h0m11-1h0m19-4h0m2 5h0m1-7h0m10 3h0m29 1h0m2-2h0m34-1h0m5 7h0m-38 4h0m-34 8h0m-7 3h0m-3 0h0m-2-4h0m-44-4h0m-9 1h0m-8 2h0m-20-4h0m-37 1h0m12 19h0m13-8h0m32 8h0m9-3h0m38-5h0m12 8h0m10-5h0m1-5h0m11 9h0m10-8h0m9 19h0m-1-2h0m-10 3h0m-23-3h0m-51-6h0m-12 0h0m-5 0h0m-11 1h0m-39 11h0m125 4h0m25-4h0m-27 16h0m-4-1h0m-6 10h0m32 4h0"/>
<path stroke="#74ABE0" d="M231 218h0m4 2h0m200 14h0m-181-6h0m-14 13h0m180 19h0m-175-3h0m-95 12h0m87 3h0m27-6h0m141 4h0m21-1h0m6-3h0m21 21h0m-64-3h0m-31-5h0m-144 4h0m-17 1h0m-34 8h0m16-2h0m92 2h0m3 2h0m40 0h0m15 0h0m84-4h0m86 7h0m-13 13h0m-225-8h0m-76 9h0m-12-1h0m-6-5h0m-19 17h0m333-10h0m-27 12h0m-57 11h0m-35-9h0m-11 3h0m-59-5h0m-10 7h0m-117 4h0m-8-9h0m19 14h0m16-3h0m13 1h0m218 9h0m43-5h0m22 0h0m13-1h0m-7 10h0m-22 2h0m-49 1h0m-166 2h0m-56-4h0m-7 15h0m251-5h0m28 14h0m-53-1h0m0 5h0m-8-7h0m-205 6h0m22 14h0m210-4h0m-66 14h0m1 8h0m12 5h0m24-2h0"/>
<path stroke="#52C3B4" d="M487 121h0m24 4h0m5 10h0m-37 32h0m-47-1h0m-318-3h0m48 15h0m190-6h0m55 0h0m133-2h0m-96 19h0m-9-2h0m-4-2h0m-269 7h0m210 14h0m-192 1h0m-32 4h0m-18-1h0m4 6h0m285 8h0m-226 19h0m214 8h0"/>
<path stroke="#0C84AC" d="M288 6h0m15 2h0m63 10h0m-24-1h0m-11-2h0m-11 4h0m-8-6h0m-23 7h0m-20-2h0m-5 16h0m2-5h0m43 0h0m1 4h0m50-9h0m34 4h0m13 18h0m-3-4h0m-21 1h0m-2-3h0m-13-1h0m-13 6h0m-15-7h0m-1 6h0m-40 3h0m-8-3h0m-8 2h0m-51-3h0m-17 16h0m28-5h0m75-5h0m10 4h0m11 0h0m6 2h0m26 3h0m18-3h0m11 4h0m4-1h0m4-8h0m0 4h0m36 1h0m-8 14h0m-37-2h0m-53-3h0m-5-1h0m-31 1h0m-1 6h0m-20-10h0m-15 4h0m-21 1h0m-34 10h0m6-1h0m44 0h0m2 6h0m3-1h0m38-5h0m4 6h0m12 1h0m14-5h0m10 2h0m11 0h0m19-1h0m4-5h0m10 10h0m10-9h0m59 20h0m-77-3h0m-33 2h0m-1-6h0m-13 4h0m-7-1h0m-9 5h0m-3-1h0m-17 2h0m-2-2h0m-1-4h0m-4 2h0m-6 3h0m-24-8h0m-22 6h0m-44 5h0m70 9h0m39 0h0m14-3h0m25-6h0m2 10h0m27-8h0m38 8h0m12 9h0m-5 3h0m-38-1h0m-3-2h0m-11 3h0m-5-2h0m-3-5h0m-2-4h0m-12 11h0m-11-2h0m0 2h0m-8-4h0m-16-2h0m-4 6h0m-10-7h0m-7-1h0m-10 2h0m-29 8h0m42 8h0m4 0h0m1 2h0m20-11h0m2 7h0m1 1h0m4 0h0m2 2h0m1-8h0m5 4h0m0 3h0m2-2h0m6-5h0m4 0h0m2 4h0m6 4h0m1-6h0m0 4h0m8-7h0m21 9h0m3 0h0m32 1h0m2-8h0m0 4h0m54 7h0m-19 4h0m-56-4h0m-8 9h0m-16-3h0m-1-4h0m-5 2h0m-6-6h0m-1 7h0m-2 3h0m-1-4h0m0 2h0m0-4h0m-1 2h0m-1 2h0m-3 2h0m-2-3h0m-1-6h0m-6 6h0m-7-5h0m-1-2h0m-4 6h0m-3-2h0m-1 7h0m-3-3h0m-4 0h0m0-6h0m-1-1h0m-2 2h0m-4-1h0m-6 0h0m-3 4h0m0-4h0m-11 4h0m-1-5h0m-9 4h0m-2 1h0m-1 5h0m-2-3h0m-11-1h0m6 12h0m7-1h0m1 1h0m2-4h0m5 2h0m7-2h0m0 2h0m3-2h0m4 1h0m4 7h0m3-3h0m3-2h0m4 3h0m9-7h0m6 5h0m1-5h0m4-1h0m1 7h0m4-2h0m1-4h0m3 3h0m5-3h0m2 8h0m13 0h0m14-2h0m4-1h0m3 0h0m9-2h0m4 3h0m2 0h0m48 3h0m3-11h0m72 8h0m-41 11h0m-86 0h0m-16 3h0m-4-3h0m-11 1h0m-5 0h0m-2-5h0m-4 5h0m0 3h0m-24-3h0m-12 0h0m-8-2h0m0-4h0m-4 6h0m-7 0h0m-9-8h0m0 10h0m-5-8h0m-5 4h0m-17-2h0m-13 7h0m-51-7h0m-64-4h0m-10 6h0m71 12h0m8 0h0m33 5h0m9-9h0m11 1h0m1 3h0m10-5h0m2 7h0m19-2h0m6 5h0m5-3h0m9 0h0m11 3h0m14-9h0m1-1h0m4 2h0m12 7h0m3-2h0m0 2h0m1-5h0m3-5h0m15 8h0m7-7h0m1 0h0m28 10h0m4-6h0m1-4h0m4 8h0m80 3h0m-85 11h0m-17-8h0m-2-3h0m-2 2h0m0 6h0m-5-5h0m-13 5h0m-3 0h0m-4-8h0m0 0h0m-18 11h0m0-10h0m-15 3h0m-9 0h0m-4-1h0m-7 7h0m0-10h0m-16 9h0m-16 0h0m-5-1h0m-2-2h0m-9 5h0m-7-6h0m-7 4h0m-26-1h0m-7-4h0m-14 5h0m-61-4h0m-9 2h0m-5-5h0m-23 16h0m22-1h0m33-3h0m22 8h0m11-6h0m21-2h0m17 4h0m16 3h0m12 1h0m16-8h0m3 4h0m4 5h0m18-3h0m18-2h0m15 2h0m7-2h0m8-2h0m4 5h0m1-2h0m15 3h0m2-3h0m30 0h0m27-3h0m5-2h0m11 8h0m22-4h0m-22 15h0m-13-3h0m-7-4h0m-7-1h0m-7 9h0m-8 0h0m-1-3h0m-10-7h0m-1 1h0m-29 0h0m-15 5h0m-6 0h0m-6 5h0m-5-5h0m-1 1h0m-4-1h0m-20 1h0m-18-3h0m-12 5h0m-21 2h0m-28-11h0m-10 1h0m-13 1h0m-25 1h0m-59 2h0m-12 1h0m6 14h0m28-2h0m18 2h0m10-4h0m44-3h0m74 7h0m2 1h0m16-8h0m8-1h0m8 9h0m7-3h0m6 3h0m1-4h0m15 4h0m3-1h0m2-1h0m0 1h0m1-4h0m0-1h0m12 2h0m2 2h0m0-7h0m15 0h0m4 1h0m4 3h0m3 1h0m4 2h0m3-4h0m11 18h0m-8 1h0m-9-4h0m-21 1h0m-7 1h0m-6 2h0m-3-2h0m-2-4h0m-1 5h0m-1-3h0m-13 4h0m-13-5h0m-20 4h0m-4-1h0m-12-7h0m-8 10h0m-55-1h0m-17-4h0m-84 4h0m-32-4h0m45 6h0m21 6h0m3 1h0m4-4h0m82-2h0m34 2h0m21 3h0m1 2h0m14-7h0m9 2h0m2 0h0m2 3h0m1-1h0m2 2h0m11 0h0m2-1h0m3-5h0m5 4h0m2-2h0m41 1h0m6 6h0m5-4h0m1-4h0m25 0h0m-6 15h0m-9-4h0m-34 5h0m0 4h0m-21-1h0m-37-8h0m-12 7h0m-5 3h0m-19-3h0m-14-4h0m-5 1h0m-23-4h0m-28 10h0m-118-8h0m-5 1h0m16 9h0m2-1h0m13 9h0m12-3h0m19 4h0m58-10h0m9 4h0m6-3h0m34 7h0m29-4h0m3-1h0m5 2h0m39 0h0m6 5h0m8-8h0m6 9h0m15-1h0m14-9h0m8 5h0m5-5h0m5-1h0m0 2h0m60 2h0m-55 15h0m-32-3h0m-13 5h0m-4-2h0m-7-5h0m-9-1h0m-109 1h0m-89 2h0m-13 4h0m-30-4h0m-4 3h0m236 8h0m13 4h0m25-1h0m6 13h0m-13 1h0m-7 1h0m-14-7h0m-6 5h0m-203-7h0m127 23h0m14-9h0m18 4h0m49-4h0m49 5h0m20-5h0m-89 21h0m-22-1h0m139 8h0m-5 16h0m-40 13h0m19 16h0m29 9h0m-25 7h0m-34 9h0m41-4h0"/>
<path stroke="#E3BD80" d="M351 132h0m-10 3h0m60 15h0m13 16h0m-20-2h0m-18-3h0m-10 1h0m-2 0h0m-22-6h0m-2 4h0m-1-3h0m-6 10h0m-13-1h0m-31-2h0m-10 3h0m-30 7h0m63 0h0m9 2h0m13 0h0m4-6h0m6-2h0m2 11h0m2-5h0m24 1h0m35 1h0m14 0h0m-6 5h0m-56 8h0m-2-4h0m-17-2h0m-15-2h0m-6 0h0m-45 10h0m-6-9h0m35 21h0m22-2h0m9-8h0m1 0h0m4 4h0m7 4h0m25-6h0m5 0h0m32 7h0m14 0h0m18-9h0m20 20h0m-18-7h0m-28 4h0m-20 0h0m-14 3h0m-4-7h0m-17 5h0m-54 1h0m-22-8h0m-1 6h0m-12-1h0m-15 18h0m9-4h0m9-7h0m32 10h0m4-7h0m5-1h0m0 6h0m10-8h0m0 10h0m7-5h0m0 2h0m1-7h0m1 3h0m29 0h0m8 0h0m2-2h0m3 3h0m5 6h0m16-6h0m8 3h0m1-5h0m4 9h0m3-8h0m3 7h0m2-10h0m5 8h0m6 2h0m2-2h0m7-8h0m8 3h0m15 19h0m-8-8h0m-34 2h0m-12 7h0m-6 0h0m-5-9h0m-1 7h0m-8 1h0m-9-5h0m-24-5h0m-2 3h0m-4 5h0m-9-5h0m-8 5h0m-4-4h0m-6 7h0m-1-4h0m-5-7h0m-2 11h0m-14-11h0m-2 0h0m-4 2h0m-8 1h0m-21 8h0m-7-8h0m-21 7h0m-4 9h0m6 3h0m11-10h0m10 9h0m21-4h0m9-4h0m15 7h0m8 0h0m4-4h0m19-4h0m3 3h0m2-1h0m1 4h0m2 2h0m6 3h0m10-5h0m3-4h0m2 7h0m3 1h0m4-10h0m3 3h0m2-3h0m12 11h0m25-9h0m2-1h0m4 10h0m14-3h0m17-6h0m2 2h0m56-2h0m-64 14h0m-1-3h0m-3 9h0m-11-4h0m0-2h0m-7-2h0m-1-1h0m-4 1h0m-7 7h0m-2-8h0m-2 1h0m-3-2h0m-40 8h0m0-6h0m-7 1h0m-4 6h0m-1-2h0m-7 1h0m-1 0h0m-2-3h0m-13 0h0m-6 0h0m-1-1h0m-1 5h0m-3-8h0m-5 9h0m-2-6h0m-5 6h0m0-1h0m-1-1h0m-24-2h0m-9 3h0m-3 1h0m-41-10h0m-6 23h0m6-1h0m5-1h0m17-1h0m10 2h0m3 0h0m13-5h0m4-5h0m8 4h0m1 0h0m5 4h0m4 1h0m1-5h0m1 5h0m4-5h0m3 3h0m2-1h0m4 4h0m4 0h0m7-6h0m3 3h0m0-7h0m2 4h0m1-3h0m6 9h0m10-9h0m0-1h0m7 6h0m3-2h0m0 3h0m3-2h0m10-3h0m0 9h0m5-10h0m1 6h0m4-5h0m3 0h0m7-1h0m2 6h0m2-3h0m1-4h0m3 0h0m4 1h0m1 8h0m1-9h0m9 8h0m10 2h0m0-7h0m2 3h0m0 5h0m4-11h0m11 7h0m18-3h0m3 6h0m1-8h0m42 17h0m-39 1h0m-19-7h0m-1 3h0m-17-4h0m-3 3h0m0-2h0m-11 8h0m-10-4h0m-4 2h0m0 2h0m-2-1h0m-3 3h0m0-11h0m0 6h0m-17-6h0m0 1h0m-4 6h0m-3 4h0m-1-11h0m-2 10h0m-1-7h0m0 7h0m-1-1h0m-7 0h0m0 0h0m-9-2h0m-1 1h0m0-4h0m-8 6h0m-5-9h0m-1 9h0m-10-9h0m-1 4h0m0 2h0m-2 1h0m-6-5h0m-7 3h0m-1-3h0m0-2h0m-1 6h0m-1 2h0m-11 2h0m-1-10h0m-1 3h0m0 6h0m-3-5h0m0 3h0m-2 3h0m-6 0h0m-1-3h0m-2 2h0m-12-5h0m-11 2h0m-2-1h0m-1 2h0m-5 2h0m-8-10h0m-5 3h0m-10-2h0m-24 1h0m44 16h0m1 0h0m9-4h0m8 6h0m1 2h0m13 1h0m5-7h0m7 7h0m6-2h0m1-5h0m4-1h0m2 5h0m0-2h0m2 2h0m0 1h0m4 2h0m5-6h0m12-5h0m0 1h0m4 9h0m1-2h0m0-1h0m3 3h0m2-4h0m1 4h0m3-5h0m4 0h0m1-2h0m6 4h0m1 0h0m1 2h0m4-1h0m2-1h0m1-3h0m0-1h0m2 2h0m5-5h0m0 3h0m1 2h0m1 1h0m8-6h0m7 4h0m4 3h0m2-2h0m2-2h0m5 2h0m0-5h0m4 6h0m4 5h0m0-5h0m2 4h0m10-2h0m25-1h0m32 6h0m-30 3h0m-26 7h0m-21-4h0m-2 1h0m-14 1h0m-4-9h0m0 6h0m-2-2h0m-6 5h0m-4-8h0m-15 10h0m-2-11h0m-5 6h0m-2-4h0m-1 1h0m0-1h0m-1 8h0m-7-7h0m-2-2h0m-5 1h0m-10 5h0m-3 3h0m-1-3h0m-1 1h0m-2-6h0m-3-1h0m-4 4h0m-4 1h0m-2-6h0m-3 3h0m-2 7h0m-2-1h0m-3 1h0m-2-3h0m-1-4h0m-12 1h0m-3 6h0m0-9h0m-13-1h0m0 5h0m-31 11h0m20 4h0m5-3h0m0 6h0m6-5h0m8 0h0m12-1h0m4 3h0m3-6h0m1 7h0m11 0h0m1-6h0m8 8h0m4-1h0m3-1h0m3-6h0m2 7h0m2 1h0m1-1h0m8-1h0m3-5h0m0-2h0m3 7h0m3 0h0m11-3h0m0-2h0m5 7h0m1-4h0m3-5h0m1 4h0m0-6h0m5 6h0m13-5h0m5 2h0m0 6h0m1 2h0m4-8h0m9 1h0m0 6h0m1-7h0m0 6h0m1 2h0m2-9h0m2 6h0m4-3h0m0-1h0m6 2h0m23-1h0m7 5h0m18 7h0m-20 0h0m-29 4h0m-26-9h0m-5 5h0m-4 2h0m0-7h0m-3 8h0m-9 1h0m-1-3h0m0 5h0m-1-1h0m-2-9h0m-1 9h0m0-8h0m-1 6h0m-8-2h0m0 3h0m-5-1h0m-1 2h0m-1 1h0m-1-10h0m-2-1h0m-2 7h0m0-4h0m-3 4h0m-1 2h0m-2-6h0m-5 6h0m-2 0h0m-1-8h0m-1 5h0m-3 2h0m0 1h0m-1-6h0m-1 5h0m0-2h0m-8-5h0m-2 9h0m-5-7h0m-8 3h0m-1-3h0m-1 6h0m0-9h0m-1 10h0m-4 1h0m-3-5h0m-1-5h0m-1 5h0m-9-1h0m-24 2h0m-50-7h0m-1 23h0m57-8h0m4 5h0m5-1h0m30-7h0m5 0h0m1 3h0m4 2h0m3-3h0m3 2h0m2-2h0m0-1h0m1 9h0m2-1h0m2 0h0m1-5h0m3 6h0m5-4h0m7 0h0m3 0h0m5 3h0m2-8h0m5 9h0m1-10h0m3 6h0m6 4h0m3-7h0m1 1h0m8-3h0m15 2h0m40 10h0m-19 6h0m-16-4h0m-11 4h0m-12-2h0m-18 4h0m-6-6h0m-4 7h0m-11-3h0m-8 4h0m-6-6h0m-5 1h0m-2 4h0m-2-5h0m-19-3h0m-20 2h0m-3 0h0m-12 3h0m-4-3h0m-26 3h0m-30-6h0m3 18h0m73-3h0m5-2h0m20 0h0m13 7h0m16 0h0m1-7h0m7 7h0m5-3h0m8-2h0m5 3h0m12-5h0m3 0h0m8 5h0m6 0h0m4-5h0m-17 20h0m-21-1h0m-4-9h0m-15 1h0m-4 0h0m-1 4h0m-1 3h0m-46-3h0m-3 0h0m-7 6h0m-26-1h0m-2-6h0m-12 5h0m17 6h0m7 1h0m35 7h0m0-5h0m8-3h0m11-2h0m5 1h0m2 7h0m8-5h0m15 4h0m34-6h0m12 6h0m47 2h0m-65 11h0m-6-4h0m-24-2h0m-15 1h0m-3 7h0m-34-5h0m-3 5h0m-23-5h0m-27 3h0m14 5h0m3-2h0m10 7h0m26-4h0m13-1h0m8 6h0m36-8h0m6 4h0m16-4h0m0 9h0m1-5h0m7-1h0m1 4h0m9 1h0m25 6h0m-16 0h0m-29 5h0m-7-1h0m-16 3h0m-5-2h0m-43-6h0m-21 8h0m-23 3h0m8 0h0m21 9h0m21-2h0m4-7h0m6 0h0m6 3h0m29-3h0m41 6h0m8 2h0m9 5h0m-22 7h0m-35-5h0m-13 7h0m-13-6h0m-8 0h0m-8-2h0m0 15h0m24-5h0"/>
<path stroke="#74ABE0" d="M250 195h0m-30 44h0m17 2h0m206 6h0m11 2h0m-39 7h0m-173 2h0m41 12h0m100 2h0m26-2h0m0-4h0m73 20h0m-46-2h0m-15-5h0m0-2h0m-2 9h0m-145-4h0m-24-4h0m-39 6h0m-20 6h0m28 2h0m34-3h0m22 10h0m21-6h0m68 5h0m16-10h0m14 6h0m59 4h0m82-1h0m-99 12h0m-4-7h0m-31 4h0m-19-3h0m-228 7h0m-17-5h0m80 18h0m10-9h0m130 3h0m5 3h0m84-6h0m4 8h0m3-3h0m10 16h0m-21-5h0m-8 1h0m-267-5h0m319 10h0m4 23h0m-13-3h0m-38-5h0m-43-1h0m-179-2h0m-53 1h0m274 29h0m-226-5h0m254 20h0m-38 11h0m-9 0h0m-36 2h0m39 9h0m15-3h0m-32 13h0m0 3h0m-23 2h0m4 3h0"/>
<path stroke="#E8505E" d="M182 261h0m-73 12h0m9 14h0m56 65h0"/>
</g>
<g stroke="#1a1a1a" stroke-width="0.9">
<circle cx="392.4" cy="252" r="4.7" fill="#E3BD80"/>
<circle cx="400" cy="254.7" r="4.7" fill="#E3BD80"/>
<circle cx="321.6" cy="293.5" r="4.7" fill="#E3BD80"/>
<circle cx="314.7" cy="297.5" r="4.7" fill="#E3BD80"/>
<circle cx="327.1" cy="298.2" r="4.7" fill="#E3BD80"/>
<circle cx="311.8" cy="302.6" r="4.7" fill="#E3BD80"/>
<circle cx="321.6" cy="301.9" r="4.7" fill="#E3BD80"/>
<circle cx="325.7" cy="303.4" r="4.7" fill="#E3BD80"/>
<circle cx="319.1" cy="308.5" r="4.7" fill="#E3BD80"/>
<circle cx="309.6" cy="309.9" r="4.7" fill="#E3BD80"/>
<circle cx="322.7" cy="310.7" r="4.7" fill="#E3BD80"/>
<circle cx="323.5" cy="318.7" r="4.7" fill="#E3BD80"/>
<circle cx="269.2" cy="175.1" r="4.7" fill="#8B82E0"/>
<circle cx="265.6" cy="180.1" r="4.7" fill="#8B82E0"/>
<circle cx="272.3" cy="183.8" r="4.7" fill="#8B82E0"/>
<circle cx="273.3" cy="190.4" r="4.7" fill="#8B82E0"/>
<circle cx="275.5" cy="192.5" r="4.7" fill="#8B82E0"/>
<circle cx="244.4" cy="241.3" r="4.7" fill="#8B82E0"/>
<circle cx="254.1" cy="239.4" r="4.7" fill="#8B82E0"/>
<circle cx="260.9" cy="246.2" r="4.7" fill="#8B82E0"/>
<circle cx="276.4" cy="240.6" r="4.7" fill="#8B82E0"/>
<circle cx="249.4" cy="272.7" r="4.7" fill="#74ABE0"/>
<circle cx="257.8" cy="279.7" r="4.7" fill="#74ABE0"/>
<circle cx="264" cy="273.5" r="4.7" fill="#74ABE0"/>
<circle cx="264.6" cy="268" r="4.7" fill="#74ABE0"/>
<circle cx="381" cy="287" r="4.7" fill="#74ABE0"/>
<circle cx="225.2" cy="248.6" r="4.7" fill="#E8505E"/>
<circle cx="404.2" cy="187.9" r="4.7" fill="#974C70"/>
<circle cx="426.2" cy="198.6" r="4.7" fill="#974C70"/>
<circle cx="401.9" cy="207.3" r="4.7" fill="#974C70"/>
<circle cx="401.9" cy="214.9" r="4.7" fill="#974C70"/>
<circle cx="391.3" cy="220.6" r="4.7" fill="#974C70"/>
<circle cx="403" cy="226.6" r="4.7" fill="#974C70"/>
<circle cx="373" cy="242.2" r="4.7" fill="#974C70"/>
<circle cx="455.4" cy="180.7" r="4.7" fill="#52C3B4"/>
<circle cx="400.4" cy="310.5" r="4.7" fill="#52C3B4"/>
<circle cx="275.8" cy="187.9" r="4.7" fill="#52C3B4"/>
<circle cx="421.2" cy="240.3" r="4.7" fill="#F59B0C"/>
<circle cx="427" cy="260" r="4.7" fill="#D3D3D3"/>
<circle cx="373.3" cy="166.9" r="4.7" fill="#7DDCBE"/>
<circle cx="387.3" cy="166.9" r="4.7" fill="#7DDCBE"/>
<circle cx="317.2" cy="141.4" r="4.7" fill="#FFDD00"/>
<circle cx="330.4" cy="148.4" r="4.7" fill="#0C84AC"/>
<circle cx="345.5" cy="149.5" r="4.7" fill="#0C84AC"/>
<circle cx="321.9" cy="159.3" r="4.7" fill="#0C84AC"/>
<circle cx="324.1" cy="164.4" r="4.7" fill="#0C84AC"/>
<circle cx="329.2" cy="165.1" r="4.7" fill="#0C84AC"/>
<circle cx="336.1" cy="168.5" r="4.7" fill="#0C84AC"/>
<circle cx="376.9" cy="189.2" r="4.7" fill="#0C84AC"/>
<circle cx="245.4" cy="217.8" r="4.7" fill="#0C84AC"/>
<circle cx="361.7" cy="278.6" r="4.7" fill="#0C84AC"/>
<circle cx="407.6" cy="255.9" r="4.7" fill="#0C84AC"/>
<circle cx="390.9" cy="296.8" r="4.7" fill="#0C84AC"/>
<circle cx="393.5" cy="306.7" r="4.7" fill="#0C84AC"/>
</g>
<g font-family='"Liberation Sans", sans-serif' font-size="9.4" fill="#111">
<rect x="524.5" y="384.0" width="14.5" height="5.2" rx="2" fill="#74ABE0" stroke="#888" stroke-width="0.4"/>
<text x="543" y="389.9">bZip</text>
<rect x="524.5" y="395.5" width="14.5" height="5.2" rx="2" fill="#F59B0C" stroke="#888" stroke-width="0.4"/>
<text x="543" y="401.4">Zn finger</text>
<rect x="524.5" y="406.9" width="14.5" height="5.2" rx="2" fill="#7DDCBE" stroke="#888" stroke-width="0.4"/>
<text x="543" y="412.8">Fork-head</text>
<rect x="524.5" y="417.4" width="14.5" height="5.2" rx="2" fill="#8B82E0" stroke="#888" stroke-width="0.4"/>
<text x="543" y="423.3">GATA Zn finger</text>
<rect x="524.5" y="427.6" width="14.5" height="5.2" rx="2" fill="#E3BD80" stroke="#888" stroke-width="0.4"/>
<text x="543" y="433.5">HLH</text>
<rect x="524.5" y="437.8" width="14.5" height="5.2" rx="2" fill="#FFDD00" stroke="#888" stroke-width="0.4"/>
<text x="543" y="443.7">Cp2</text>
<rect x="621" y="384.0" width="14.5" height="5.2" rx="2" fill="#0C84AC" stroke="#888" stroke-width="0.4"/>
<text x="639.3" y="389.9">Homeobox</text>
<rect x="621" y="395.5" width="14.5" height="5.2" rx="2" fill="#E8505E" stroke="#888" stroke-width="0.4"/>
<text x="639.3" y="401.4">MADs-box</text>
<rect x="621" y="406.9" width="14.5" height="5.2" rx="2" fill="#974C70" stroke="#888" stroke-width="0.4"/>
<text x="639.3" y="412.8">HSF</text>
<rect x="621" y="417.4" width="14.5" height="5.2" rx="2" fill="#52C3B4" stroke="#888" stroke-width="0.4"/>
<text x="639.3" y="423.3">HMG-box</text>
<rect x="621" y="427.6" width="14.5" height="5.2" rx="2" fill="#D3D3D3" stroke="#888" stroke-width="0.4"/>
<text x="639.3" y="433.5">Copper fist</text>
</g>
<text x="74.5" y="38.2" font-family='"Liberation Sans", sans-serif' font-size="18.5" fill="#111">a</text>
<text x="-1.2" y="519" font-family='"Liberation Sans", sans-serif' font-size="18.5" fill="#111">b</text>
<rect x="40.8" y="550.3" width="398.75" height="510.54" fill="#fdfef4"/>
<rect x="40.80" y="550.30" width="6.925" height="7.670" fill="#d9f3ea"/>
<rect x="47.67" y="550.30" width="6.925" height="7.670" fill="#d9f3ea"/>
<rect x="54.55" y="550.30" width="6.925" height="7.670" fill="#c7eee4"/>
<rect x="61.42" y="550.30" width="6.925" height="7.670" fill="#c7eee4"/>
<rect x="68.30" y="550.30" width="6.925" height="7.670" fill="#d9f3ea"/>
<rect x="75.17" y="550.30" width="6.925" height="7.670" fill="#d9f3ea"/>
<rect x="82.05" y="550.30" width="6.925" height="7.670" fill="#88dbd2"/>
<rect x="88.92" y="550.30" width="6.925" height="7.670" fill="#e9f8ee"/>
<rect x="288.30" y="550.30" width="6.925" height="7.670" fill="#d9f3ea"/>
<rect x="302.05" y="550.30" width="6.925" height="7.670" fill="#c7eee4"/>
<rect x="363.93" y="550.30" width="6.925" height="7.670" fill="#f5fcf2"/>
<rect x="377.68" y="550.30" width="6.925" height="7.670" fill="#f1faf0"/>
<rect x="405.18" y="550.30" width="6.925" height="7.670" fill="#f1faf0"/>
<rect x="418.93" y="550.30" width="6.925" height="7.670" fill="#f5fcf2"/>
<rect x="40.80" y="557.92" width="6.925" height="7.670" fill="#c7eee4"/>
<rect x="47.67" y="557.92" width="6.925" height="7.670" fill="#c7eee4"/>
<rect x="54.55" y="557.92" width="6.925" height="7.670" fill="#b4e8df"/>
<rect x="61.42" y="557.92" width="6.925" height="7.670" fill="#b4e8df"/>
<rect x="82.05" y="557.92" width="6.925" height="7.670" fill="#88dbd2"/>
<rect x="377.68" y="557.92" width="6.925" height="7.670" fill="#e3f6ec"/>
<rect x="405.18" y="557.92" width="6.925" height="7.670" fill="#d9f3ea"/>
<rect x="40.80" y="565.54" width="6.925" height="7.670" fill="#d9f3ea"/>
<rect x="47.67" y="565.54" width="6.925" height="7.670" fill="#c7eee4"/>
<rect x="54.55" y="565.54" width="6.925" height="7.670" fill="#88dbd2"/>
<rect x="61.42" y="565.54" width="6.925" height="7.670" fill="#c7eee4"/>
<rect x="68.30" y="565.54" width="6.925" height="7.670" fill="#c7eee4"/>
<rect x="75.17" y="565.54" width="6.925" height="7.670" fill="#c7eee4"/>
<rect x="82.05" y="565.54" width="6.925" height="7.670" fill="#c7eee4"/>
<rect x="157.68" y="565.54" width="6.925" height="7.670" fill="#e9f8ee"/>
<rect x="267.68" y="565.54" width="6.925" height="7.670" fill="#e9f8ee"/>
<rect x="357.05" y="565.54" width="6.925" height="7.670" fill="#d9f3ea"/>
<rect x="363.93" y="565.54" width="6.925" height="7.670" fill="#f1faf0"/>
<rect x="377.68" y="565.54" width="6.925" height="7.670" fill="#e3f6ec"/>
<rect x="40.80" y="573.16" width="6.925" height="7.670" fill="#c7eee4"/>
<rect x="47.67" y="573.16" width="6.925" height="7.670" fill="#c7eee4"/>
<rect x="54.55" y="573.16" width="6.925" height="7.670" fill="#c7eee4"/>
<rect x="61.42" y="573.16" width="6.925" height="7.670" fill="#c7eee4"/>
<rect x="68.30" y="573.16" width="6.925" height="7.670" fill="#9fe2d9"/>
<rect x="75.17" y="573.16" width="6.925" height="7.670" fill="#9fe2d9"/>
<rect x="363.93" y="573.16" width="6.925" height="7.670" fill="#e9f8ee"/>
<rect x="377.68" y="573.16" width="6.925" height="7.670" fill="#e9f8ee"/>
<rect x="405.18" y="573.16" width="6.925" height="7.670" fill="#e3f6ec"/>
<rect x="40.80" y="580.78" width="6.925" height="7.670" fill="#c7eee4"/>
<rect x="47.67" y="580.78" width="6.925" height="7.670" fill="#c7eee4"/>
<rect x="54.55" y="580.78" width="6.925" height="7.670" fill="#c7eee4"/>
<rect x="61.42" y="580.78" width="6.925" height="7.670" fill="#c7eee4"/>
<rect x="68.30" y="580.78" width="6.925" height="7.670" fill="#9fe2d9"/>
<rect x="75.17" y="580.78" width="6.925" height="7.670" fill="#9fe2d9"/>
<rect x="363.93" y="580.78" width="6.925" height="7.670" fill="#e9f8ee"/>
<rect x="377.68" y="580.78" width="6.925" height="7.670" fill="#e9f8ee"/>
<rect x="405.18" y="580.78" width="6.925" height="7.670" fill="#e9f8ee"/>
<rect x="40.80" y="588.40" width="6.925" height="7.670" fill="#c7eee4"/>
<rect x="47.67" y="588.40" width="6.925" height="7.670" fill="#c7eee4"/>
<rect x="54.55" y="588.40" width="6.925" height="7.670" fill="#c7eee4"/>
<rect x="61.42" y="588.40" width="6.925" height="7.670" fill="#c7eee4"/>
<rect x="68.30" y="588.40" width="6.925" height="7.670" fill="#d9f3ea"/>
<rect x="75.17" y="588.40" width="6.925" height="7.670" fill="#9fe2d9"/>
<rect x="88.92" y="588.40" width="6.925" height="7.670" fill="#e9f8ee"/>
<rect x="267.68" y="588.40" width="6.925" height="7.670" fill="#b4e8df"/>
<rect x="370.80" y="588.40" width="6.925" height="7.670" fill="#f5fcf2"/>
<rect x="377.68" y="588.40" width="6.925" height="7.670" fill="#cff0e7"/>
<rect x="398.30" y="588.40" width="6.925" height="7.670" fill="#f5fcf2"/>
<rect x="405.18" y="588.40" width="6.925" height="7.670" fill="#cff0e7"/>
<rect x="432.68" y="588.40" width="6.925" height="7.670" fill="#f9fdf3"/>
<rect x="40.80" y="596.02" width="6.925" height="7.670" fill="#c7eee4"/>
<rect x="47.67" y="596.02" width="6.925" height="7.670" fill="#c7eee4"/>
<rect x="54.55" y="596.02" width="6.925" height="7.670" fill="#c7eee4"/>
<rect x="61.42" y="596.02" width="6.925" height="7.670" fill="#c7eee4"/>
<rect x="75.17" y="596.02" width="6.925" height="7.670" fill="#9fe2d9"/>
<rect x="88.92" y="596.02" width="6.925" height="7.670" fill="#b4e8df"/>
<rect x="267.68" y="596.02" width="6.925" height="7.670" fill="#88dbd2"/>
<rect x="377.68" y="596.02" width="6.925" height="7.670" fill="#e3f6ec"/>
<rect x="405.18" y="596.02" width="6.925" height="7.670" fill="#e3f6ec"/>
<rect x="40.80" y="603.64" width="6.925" height="7.670" fill="#c7eee4"/>
<rect x="47.67" y="603.64" width="6.925" height="7.670" fill="#b4e8df"/>
<rect x="54.55" y="603.64" width="6.925" height="7.670" fill="#9fe2d9"/>
<rect x="61.42" y="603.64" width="6.925" height="7.670" fill="#b4e8df"/>
<rect x="68.30" y="603.64" width="6.925" height="7.670" fill="#e9f8ee"/>
<rect x="75.17" y="603.64" width="6.925" height="7.670" fill="#88dbd2"/>
<rect x="82.05" y="603.64" width="6.925" height="7.670" fill="#e9f8ee"/>
<rect x="88.92" y="603.64" width="6.925" height="7.670" fill="#e9f8ee"/>
<rect x="192.05" y="603.64" width="6.925" height="7.670" fill="#e9f8ee"/>
<rect x="247.05" y="603.64" width="6.925" height="7.670" fill="#d9f3ea"/>
<rect x="267.68" y="603.64" width="6.925" height="7.670" fill="#d9f3ea"/>
<rect x="274.55" y="603.64" width="6.925" height="7.670" fill="#f5fcf2"/>
<rect x="363.93" y="603.64" width="6.925" height="7.670" fill="#f5fcf2"/>
<rect x="370.80" y="603.64" width="6.925" height="7.670" fill="#f5fcf2"/>
<rect x="377.68" y="603.64" width="6.925" height="7.670" fill="#f1faf0"/>
<rect x="40.80" y="611.26" width="6.925" height="7.670" fill="#c7eee4"/>
<rect x="47.67" y="611.26" width="6.925" height="7.670" fill="#b4e8df"/>
<rect x="54.55" y="611.26" width="6.925" height="7.670" fill="#e9f8ee"/>
<rect x="61.42" y="611.26" width="6.925" height="7.670" fill="#e9f8ee"/>
<rect x="68.30" y="611.26" width="6.925" height="7.670" fill="#c7eee4"/>
<rect x="75.17" y="611.26" width="6.925" height="7.670" fill="#c7eee4"/>
<rect x="82.05" y="611.26" width="6.925" height="7.670" fill="#c7eee4"/>
<rect x="88.92" y="611.26" width="6.925" height="7.670" fill="#9fe2d9"/>
<rect x="123.30" y="611.26" width="6.925" height="7.670" fill="#e9f8ee"/>
<rect x="171.43" y="611.26" width="6.925" height="7.670" fill="#9fe2d9"/>
<rect x="315.80" y="611.26" width="6.925" height="7.670" fill="#f1faf0"/>
<rect x="370.80" y="611.26" width="6.925" height="7.670" fill="#f1faf0"/>
<rect x="405.18" y="611.26" width="6.925" height="7.670" fill="#cff0e7"/>
<rect x="418.93" y="611.26" width="6.925" height="7.670" fill="#f5fcf2"/>
<rect x="425.80" y="611.26" width="6.925" height="7.670" fill="#f5fcf2"/>
<rect x="40.80" y="618.88" width="6.925" height="7.670" fill="#c7eee4"/>
<rect x="47.67" y="618.88" width="6.925" height="7.670" fill="#c7eee4"/>
<rect x="54.55" y="618.88" width="6.925" height="7.670" fill="#c7eee4"/>
<rect x="61.42" y="618.88" width="6.925" height="7.670" fill="#c7eee4"/>
<rect x="75.17" y="618.88" width="6.925" height="7.670" fill="#9fe2d9"/>
<rect x="88.92" y="618.88" width="6.925" height="7.670" fill="#b4e8df"/>
<rect x="377.68" y="618.88" width="6.925" height="7.670" fill="#e9f8ee"/>
<rect x="398.30" y="618.88" width="6.925" height="7.670" fill="#d9f3ea"/>
<rect x="405.18" y="618.88" width="6.925" height="7.670" fill="#eefaf0"/>
<rect x="418.93" y="618.88" width="6.925" height="7.670" fill="#88dbd2"/>
<rect x="40.80" y="626.50" width="6.925" height="7.670" fill="#c7eee4"/>
<rect x="47.67" y="626.50" width="6.925" height="7.670" fill="#c7eee4"/>
<rect x="54.55" y="626.50" width="6.925" height="7.670" fill="#d9f3ea"/>
<rect x="61.42" y="626.50" width="6.925" height="7.670" fill="#d9f3ea"/>
<rect x="75.17" y="626.50" width="6.925" height="7.670" fill="#f5fcf2"/>
<rect x="88.92" y="626.50" width="6.925" height="7.670" fill="#9fe2d9"/>
<rect x="212.68" y="626.50" width="6.925" height="7.670" fill="#e9f8ee"/>
<rect x="274.55" y="626.50" width="6.925" height="7.670" fill="#c7eee4"/>
<rect x="281.43" y="626.50" width="6.925" height="7.670" fill="#f5fcf2"/>
<rect x="295.18" y="626.50" width="6.925" height="7.670" fill="#e9f8ee"/>
<rect x="302.05" y="626.50" width="6.925" height="7.670" fill="#f1faf0"/>
<rect x="308.93" y="626.50" width="6.925" height="7.670" fill="#88dbd2"/>
<rect x="315.80" y="626.50" width="6.925" height="7.670" fill="#f5fcf2"/>
<rect x="377.68" y="626.50" width="6.925" height="7.670" fill="#e3f6ec"/>
<rect x="384.55" y="626.50" width="6.925" height="7.670" fill="#f1faf0"/>
<rect x="398.30" y="626.50" width="6.925" height="7.670" fill="#eefaf0"/>
<rect x="405.18" y="626.50" width="6.925" height="7.670" fill="#e3f6ec"/>
<rect x="418.93" y="626.50" width="6.925" height="7.670" fill="#d9f3ea"/>
<rect x="40.80" y="634.12" width="6.925" height="7.670" fill="#c7eee4"/>
<rect x="47.67" y="634.12" width="6.925" height="7.670" fill="#c7eee4"/>
<rect x="54.55" y="634.12" width="6.925" height="7.670" fill="#d9f3ea"/>
<rect x="61.42" y="634.12" width="6.925" height="7.670" fill="#d9f3ea"/>
<rect x="88.92" y="634.12" width="6.925" height="7.670" fill="#9fe2d9"/>
<rect x="212.68" y="634.12" width="6.925" height="7.670" fill="#e9f8ee"/>
<rect x="164.55" y="634.12" width="6.925" height="7.670" fill="#f9fdf3"/>
<rect x="274.55" y="634.12" width="6.925" height="7.670" fill="#b4e8df"/>
<rect x="281.43" y="634.12" width="6.925" height="7.670" fill="#e9f8ee"/>
<rect x="288.30" y="634.12" width="6.925" height="7.670" fill="#f5fcf2"/>
<rect x="295.18" y="634.12" width="6.925" height="7.670" fill="#d9f3ea"/>
<rect x="302.05" y="634.12" width="6.925" height="7.670" fill="#e9f8ee"/>
<rect x="308.93" y="634.12" width="6.925" height="7.670" fill="#9fe2d9"/>
<rect x="315.80" y="634.12" width="6.925" height="7.670" fill="#e9f8ee"/>
<rect x="343.30" y="634.12" width="6.925" height="7.670" fill="#f9fdf3"/>
<rect x="377.68" y="634.12" width="6.925" height="7.670" fill="#eefaf0"/>
<rect x="384.55" y="634.12" width="6.925" height="7.670" fill="#d9f3ea"/>
<rect x="405.18" y="634.12" width="6.925" height="7.670" fill="#cff0e7"/>
<rect x="412.05" y="634.12" width="6.925" height="7.670" fill="#f5fcf2"/>
<rect x="418.93" y="634.12" width="6.925" height="7.670" fill="#f5fcf2"/>
<rect x="40.80" y="641.74" width="6.925" height="7.670" fill="#f5fcf2"/>
<rect x="47.67" y="641.74" width="6.925" height="7.670" fill="#f5fcf2"/>
<rect x="54.55" y="641.74" width="6.925" height="7.670" fill="#e9f8ee"/>
<rect x="61.42" y="641.74" width="6.925" height="7.670" fill="#e9f8ee"/>
<rect x="68.30" y="641.74" width="6.925" height="7.670" fill="#b4e8df"/>
<rect x="75.17" y="641.74" width="6.925" height="7.670" fill="#b4e8df"/>
<rect x="116.42" y="641.74" width="6.925" height="7.670" fill="#f5fcf2"/>
<rect x="123.30" y="641.74" width="6.925" height="7.670" fill="#e9f8ee"/>
<rect x="260.80" y="641.74" width="6.925" height="7.670" fill="#b4e8df"/>
<rect x="267.68" y="641.74" width="6.925" height="7.670" fill="#d9f3ea"/>
<rect x="308.93" y="641.74" width="6.925" height="7.670" fill="#56ccc4"/>
<rect x="363.93" y="641.74" width="6.925" height="7.670" fill="#e9f8ee"/>
<rect x="40.80" y="649.36" width="6.925" height="7.670" fill="#f5fcf2"/>
<rect x="47.67" y="649.36" width="6.925" height="7.670" fill="#e9f8ee"/>
<rect x="54.55" y="649.36" width="6.925" height="7.670" fill="#f5fcf2"/>
<rect x="61.42" y="649.36" width="6.925" height="7.670" fill="#f5fcf2"/>
<rect x="68.30" y="649.36" width="6.925" height="7.670" fill="#e9f8ee"/>
<rect x="75.17" y="649.36" width="6.925" height="7.670" fill="#f5fcf2"/>
<rect x="88.92" y="649.36" width="6.925" height="7.670" fill="#f5fcf2"/>
<rect x="116.42" y="649.36" width="6.925" height="7.670" fill="#b4e8df"/>
<rect x="123.30" y="649.36" width="6.925" height="7.670" fill="#c7eee4"/>
<rect x="157.68" y="649.36" width="6.925" height="7.670" fill="#e9f8ee"/>
<rect x="198.93" y="649.36" width="6.925" height="7.670" fill="#e9f8ee"/>
<rect x="247.05" y="649.36" width="6.925" height="7.670" fill="#88dbd2"/>
<rect x="253.93" y="649.36" width="6.925" height="7.670" fill="#e9f8ee"/>
<rect x="260.80" y="649.36" width="6.925" height="7.670" fill="#9fe2d9"/>
<rect x="274.55" y="649.36" width="6.925" height="7.670" fill="#f5fcf2"/>
<rect x="308.93" y="649.36" width="6.925" height="7.670" fill="#88dbd2"/>
<rect x="363.93" y="649.36" width="6.925" height="7.670" fill="#e9f8ee"/>
<rect x="54.55" y="656.98" width="6.925" height="7.670" fill="#88dbd2"/>
<rect x="61.42" y="656.98" width="6.925" height="7.670" fill="#e9f8ee"/>
<rect x="68.30" y="656.98" width="6.925" height="7.670" fill="#f5fcf2"/>
<rect x="75.17" y="656.98" width="6.925" height="7.670" fill="#d9f3ea"/>
<rect x="82.05" y="656.98" width="6.925" height="7.670" fill="#f5fcf2"/>
<rect x="116.42" y="656.98" width="6.925" height="7.670" fill="#f5fcf2"/>
<rect x="157.68" y="656.98" width="6.925" height="7.670" fill="#b4e8df"/>
<rect x="192.05" y="656.98" width="6.925" height="7.670" fill="#f5fcf2"/>
<rect x="253.93" y="656.98" width="6.925" height="7.670" fill="#f5fcf2"/>
<rect x="288.30" y="656.98" width="6.925" height="7.670" fill="#f9fdf3"/>
<rect x="308.93" y="656.98" width="6.925" height="7.670" fill="#88dbd2"/>
<rect x="315.80" y="656.98" width="6.925" height="7.670" fill="#f1faf0"/>
<rect x="322.68" y="656.98" width="6.925" height="7.670" fill="#f1faf0"/>
<rect x="336.43" y="656.98" width="6.925" height="7.670" fill="#f5fcf2"/>
<rect x="343.30" y="656.98" width="6.925" height="7.670" fill="#f5fcf2"/>
<rect x="357.05" y="656.98" width="6.925" height="7.670" fill="#d9f3ea"/>
<rect x="363.93" y="656.98" width="6.925" height="7.670" fill="#e9f8ee"/>
<rect x="377.68" y="656.98" width="6.925" height="7.670" fill="#cff0e7"/>
<rect x="391.43" y="656.98" width="6.925" height="7.670" fill="#e9f8ee"/>
<rect x="398.30" y="656.98" width="6.925" height="7.670" fill="#f9fdf3"/>
<rect x="412.05" y="656.98" width="6.925" height="7.670" fill="#f5fcf2"/>
<rect x="418.93" y="656.98" width="6.925" height="7.670" fill="#e3f6ec"/>
<rect x="432.68" y="656.98" width="6.925" height="7.670" fill="#f1faf0"/>
<rect x="47.67" y="672.22" width="6.925" height="7.670" fill="#e9f8ee"/>
<rect x="54.55" y="672.22" width="6.925" height="7.670" fill="#f5fcf2"/>
<rect x="61.42" y="672.22" width="6.925" height="7.670" fill="#f5fcf2"/>
<rect x="75.17" y="672.22" width="6.925" height="7.670" fill="#f5fcf2"/>
<rect x="88.92" y="672.22" width="6.925" height="7.670" fill="#e9f8ee"/>
<rect x="95.80" y="672.22" width="6.925" height="7.670" fill="#e9f8ee"/>
<rect x="102.67" y="672.22" width="6.925" height="7.670" fill="#e9f8ee"/>
<rect x="109.55" y="672.22" width="6.925" height="7.670" fill="#e9f8ee"/>
<rect x="116.42" y="672.22" width="6.925" height="7.670" fill="#88dbd2"/>
<rect x="123.30" y="672.22" width="6.925" height="7.670" fill="#70d4cb"/>
<rect x="205.80" y="672.22" width="6.925" height="7.670" fill="#f5fcf2"/>
<rect x="247.05" y="672.22" width="6.925" height="7.670" fill="#d9f3ea"/>
<rect x="260.80" y="672.22" width="6.925" height="7.670" fill="#9fe2d9"/>
<rect x="308.93" y="672.22" width="6.925" height="7.670" fill="#d9f3ea"/>
<rect x="329.55" y="672.22" width="6.925" height="7.670" fill="#f5fcf2"/>
<rect x="418.93" y="672.22" width="6.925" height="7.670" fill="#f5fcf2"/>
<rect x="432.68" y="672.22" width="6.925" height="7.670" fill="#e9f8ee"/>
<rect x="308.93" y="664.60" width="6.925" height="7.670" fill="#88dbd2"/>
<rect x="398.30" y="664.60" width="6.925" height="7.670" fill="#88dbd2"/>
<rect x="412.05" y="664.60" width="6.925" height="7.670" fill="#56ccc4"/>
<rect x="40.80" y="679.84" width="6.925" height="7.670" fill="#e9f8ee"/>
<rect x="47.67" y="679.84" width="6.925" height="7.670" fill="#e3f6ec"/>
<rect x="54.55" y="679.84" width="6.925" height="7.670" fill="#c7eee4"/>
<rect x="61.42" y="679.84" width="6.925" height="7.670" fill="#f5fcf2"/>
<rect x="75.17" y="679.84" width="6.925" height="7.670" fill="#e9f8ee"/>
<rect x="88.92" y="679.84" width="6.925" height="7.670" fill="#d9f3ea"/>
<rect x="95.80" y="679.84" width="6.925" height="7.670" fill="#e9f8ee"/>
<rect x="102.67" y="679.84" width="6.925" height="7.670" fill="#d9f3ea"/>
<rect x="109.55" y="679.84" width="6.925" height="7.670" fill="#f5fcf2"/>
<rect x="116.42" y="679.84" width="6.925" height="7.670" fill="#88dbd2"/>
<rect x="123.30" y="679.84" width="6.925" height="7.670" fill="#70d4cb"/>
<rect x="247.05" y="679.84" width="6.925" height="7.670" fill="#d9f3ea"/>
<rect x="260.80" y="679.84" width="6.925" height="7.670" fill="#d9f3ea"/>
<rect x="336.43" y="679.84" width="6.925" height="7.670" fill="#f5fcf2"/>
<rect x="370.80" y="679.84" width="6.925" height="7.670" fill="#f5fcf2"/>
<rect x="377.68" y="679.84" width="6.925" height="7.670" fill="#f9fdf3"/>
<rect x="418.93" y="679.84" width="6.925" height="7.670" fill="#f1faf0"/>
<rect x="88.92" y="687.46" width="6.925" height="7.670" fill="#f5fcf2"/>
<rect x="95.80" y="687.46" width="6.925" height="7.670" fill="#9fe2d9"/>
<rect x="102.67" y="687.46" width="6.925" height="7.670" fill="#88dbd2"/>
<rect x="109.55" y="687.46" width="6.925" height="7.670" fill="#9fe2d9"/>
<rect x="116.42" y="687.46" width="6.925" height="7.670" fill="#88dbd2"/>
<rect x="123.30" y="687.46" width="6.925" height="7.670" fill="#88dbd2"/>
<rect x="157.68" y="687.46" width="6.925" height="7.670" fill="#f9fdf3"/>
<rect x="260.80" y="687.46" width="6.925" height="7.670" fill="#c7eee4"/>
<rect x="363.93" y="687.46" width="6.925" height="7.670" fill="#f9fdf3"/>
<rect x="398.30" y="687.46" width="6.925" height="7.670" fill="#f5fcf2"/>
<rect x="54.55" y="695.08" width="6.925" height="7.670" fill="#f5fcf2"/>
<rect x="95.80" y="695.08" width="6.925" height="7.670" fill="#b4e8df"/>
<rect x="102.67" y="695.08" width="6.925" height="7.670" fill="#9fe2d9"/>
<rect x="109.55" y="695.08" width="6.925" height="7.670" fill="#d9f3ea"/>
<rect x="116.42" y="695.08" width="6.925" height="7.670" fill="#9fe2d9"/>
<rect x="123.30" y="695.08" width="6.925" height="7.670" fill="#70d4cb"/>
<rect x="240.18" y="695.08" width="6.925" height="7.670" fill="#f5fcf2"/>
<rect x="260.80" y="695.08" width="6.925" height="7.670" fill="#f1faf0"/>
<rect x="398.30" y="695.08" width="6.925" height="7.670" fill="#e9f8ee"/>
<rect x="40.80" y="702.70" width="6.925" height="7.670" fill="#f5fcf2"/>
<rect x="47.67" y="702.70" width="6.925" height="7.670" fill="#e9f8ee"/>
<rect x="88.92" y="702.70" width="6.925" height="7.670" fill="#f5fcf2"/>
<rect x="95.80" y="702.70" width="6.925" height="7.670" fill="#e9f8ee"/>
<rect x="102.67" y="702.70" width="6.925" height="7.670" fill="#9fe2d9"/>
<rect x="109.55" y="702.70" width="6.925" height="7.670" fill="#b4e8df"/>
<rect x="116.42" y="702.70" width="6.925" height="7.670" fill="#c7eee4"/>
<rect x="123.30" y="702.70" width="6.925" height="7.670" fill="#70d4cb"/>
<rect x="157.68" y="702.70" width="6.925" height="7.670" fill="#f9fdf3"/>
<rect x="260.80" y="702.70" width="6.925" height="7.670" fill="#b4e8df"/>
<rect x="336.43" y="702.70" width="6.925" height="7.670" fill="#f9fdf3"/>
<rect x="418.93" y="702.70" width="6.925" height="7.670" fill="#e9f8ee"/>
<rect x="432.68" y="702.70" width="6.925" height="7.670" fill="#f5fcf2"/>
<rect x="95.80" y="710.32" width="6.925" height="7.670" fill="#70d4cb"/>
<rect x="102.67" y="710.32" width="6.925" height="7.670" fill="#9fe2d9"/>
<rect x="116.42" y="710.32" width="6.925" height="7.670" fill="#c7eee4"/>
<rect x="123.30" y="710.32" width="6.925" height="7.670" fill="#9fe2d9"/>
<rect x="308.93" y="710.32" width="6.925" height="7.670" fill="#9fe2d9"/>
<rect x="40.80" y="717.94" width="6.925" height="7.670" fill="#d9f3ea"/>
<rect x="54.55" y="717.94" width="6.925" height="7.670" fill="#e9f8ee"/>
<rect x="95.80" y="717.94" width="6.925" height="7.670" fill="#c7eee4"/>
<rect x="102.67" y="717.94" width="6.925" height="7.670" fill="#56ccc4"/>
<rect x="116.42" y="717.94" width="6.925" height="7.670" fill="#f1faf0"/>
<rect x="123.30" y="717.94" width="6.925" height="7.670" fill="#88dbd2"/>
<rect x="267.68" y="717.94" width="6.925" height="7.670" fill="#f5fcf2"/>
<rect x="315.80" y="717.94" width="6.925" height="7.670" fill="#d9f3ea"/>
<rect x="377.68" y="717.94" width="6.925" height="7.670" fill="#f9fdf3"/>
<rect x="425.80" y="717.94" width="6.925" height="7.670" fill="#f9fdf3"/>
<rect x="61.42" y="725.56" width="6.925" height="7.670" fill="#f5fcf2"/>
<rect x="137.05" y="725.56" width="6.925" height="7.670" fill="#f5fcf2"/>
<rect x="143.93" y="725.56" width="6.925" height="7.670" fill="#f9fdf3"/>
<rect x="212.68" y="725.56" width="6.925" height="7.670" fill="#f1faf0"/>
<rect x="233.30" y="725.56" width="6.925" height="7.670" fill="#f9fdf3"/>
<rect x="240.18" y="725.56" width="6.925" height="7.670" fill="#f1faf0"/>
<rect x="281.43" y="725.56" width="6.925" height="7.670" fill="#f1faf0"/>
<rect x="308.93" y="725.56" width="6.925" height="7.670" fill="#f9fdf3"/>
<rect x="329.55" y="725.56" width="6.925" height="7.670" fill="#c7eee4"/>
<rect x="336.43" y="725.56" width="6.925" height="7.670" fill="#f1faf0"/>
<rect x="343.30" y="725.56" width="6.925" height="7.670" fill="#e9f8ee"/>
<rect x="350.18" y="725.56" width="6.925" height="7.670" fill="#d9f3ea"/>
<rect x="357.05" y="725.56" width="6.925" height="7.670" fill="#88dbd2"/>
<rect x="363.93" y="725.56" width="6.925" height="7.670" fill="#f5fcf2"/>
<rect x="370.80" y="725.56" width="6.925" height="7.670" fill="#d9f3ea"/>
<rect x="377.68" y="725.56" width="6.925" height="7.670" fill="#d9f3ea"/>
<rect x="384.55" y="725.56" width="6.925" height="7.670" fill="#e9f8ee"/>
<rect x="391.43" y="725.56" width="6.925" height="7.670" fill="#c7eee4"/>
<rect x="432.68" y="725.56" width="6.925" height="7.670" fill="#b4e8df"/>
<rect x="61.42" y="733.18" width="6.925" height="7.670" fill="#f1faf0"/>
<rect x="137.05" y="733.18" width="6.925" height="7.670" fill="#e9f8ee"/>
<rect x="157.68" y="733.18" width="6.925" height="7.670" fill="#fbfdf3"/>
<rect x="212.68" y="733.18" width="6.925" height="7.670" fill="#e9f8ee"/>
<rect x="219.55" y="733.18" width="6.925" height="7.670" fill="#f9fdf3"/>
<rect x="247.05" y="733.18" width="6.925" height="7.670" fill="#f5fcf2"/>
<rect x="253.93" y="733.18" width="6.925" height="7.670" fill="#d9f3ea"/>
<rect x="260.80" y="733.18" width="6.925" height="7.670" fill="#e0f5ec"/>
<rect x="274.55" y="733.18" width="6.925" height="7.670" fill="#f9fdf3"/>
<rect x="281.43" y="733.18" width="6.925" height="7.670" fill="#f5fcf2"/>
<rect x="302.05" y="733.18" width="6.925" height="7.670" fill="#f5fcf2"/>
<rect x="322.68" y="733.18" width="6.925" height="7.670" fill="#e9f8ee"/>
<rect x="329.55" y="733.18" width="6.925" height="7.670" fill="#9fe2d9"/>
<rect x="336.43" y="733.18" width="6.925" height="7.670" fill="#d9f3ea"/>
<rect x="343.30" y="733.18" width="6.925" height="7.670" fill="#f5fcf2"/>
<rect x="350.18" y="733.18" width="6.925" height="7.670" fill="#f5fcf2"/>
<rect x="357.05" y="733.18" width="6.925" height="7.670" fill="#b4e8df"/>
<rect x="363.93" y="733.18" width="6.925" height="7.670" fill="#d9f3ea"/>
<rect x="370.80" y="733.18" width="6.925" height="7.670" fill="#d9f3ea"/>
<rect x="377.68" y="733.18" width="6.925" height="7.670" fill="#f5fcf2"/>
<rect x="384.55" y="733.18" width="6.925" height="7.670" fill="#d9f3ea"/>
<rect x="391.43" y="733.18" width="6.925" height="7.670" fill="#9fe2d9"/>
<rect x="432.68" y="733.18" width="6.925" height="7.670" fill="#f9fdf3"/>
<rect x="102.67" y="740.80" width="6.925" height="7.670" fill="#e9f8ee"/>
<rect x="157.68" y="740.80" width="6.925" height="7.670" fill="#f1faf0"/>
<rect x="178.30" y="740.80" width="6.925" height="7.670" fill="#d9f3ea"/>
<rect x="198.93" y="740.80" width="6.925" height="7.670" fill="#d9f3ea"/>
<rect x="247.05" y="740.80" width="6.925" height="7.670" fill="#e9f8ee"/>
<rect x="253.93" y="740.80" width="6.925" height="7.670" fill="#e9f8ee"/>
<rect x="315.80" y="740.80" width="6.925" height="7.670" fill="#f5fcf2"/>
<rect x="322.68" y="740.80" width="6.925" height="7.670" fill="#e9f8ee"/>
<rect x="336.43" y="740.80" width="6.925" height="7.670" fill="#9fe2d9"/>
<rect x="343.30" y="740.80" width="6.925" height="7.670" fill="#f5fcf2"/>
<rect x="350.18" y="740.80" width="6.925" height="7.670" fill="#f5fcf2"/>
<rect x="357.05" y="740.80" width="6.925" height="7.670" fill="#d9f3ea"/>
<rect x="363.93" y="740.80" width="6.925" height="7.670" fill="#e9f8ee"/>
<rect x="370.80" y="740.80" width="6.925" height="7.670" fill="#b4e8df"/>
<rect x="377.68" y="740.80" width="6.925" height="7.670" fill="#d9f3ea"/>
<rect x="384.55" y="740.80" width="6.925" height="7.670" fill="#b4e8df"/>
<rect x="391.43" y="740.80" width="6.925" height="7.670" fill="#f5fcf2"/>
<rect x="40.80" y="763.66" width="6.925" height="7.670" fill="#f5fcf2"/>
<rect x="54.55" y="763.66" width="6.925" height="7.670" fill="#f9fdf3"/>
<rect x="109.55" y="763.66" width="6.925" height="7.670" fill="#e3f6ec"/>
<rect x="116.42" y="763.66" width="6.925" height="7.670" fill="#e9f8ee"/>
<rect x="157.68" y="763.66" width="6.925" height="7.670" fill="#f1faf0"/>
<rect x="226.43" y="763.66" width="6.925" height="7.670" fill="#f1faf0"/>
<rect x="267.68" y="763.66" width="6.925" height="7.670" fill="#e9f8ee"/>
<rect x="302.05" y="763.66" width="6.925" height="7.670" fill="#f9fdf3"/>
<rect x="343.30" y="763.66" width="6.925" height="7.670" fill="#f5fcf2"/>
<rect x="350.18" y="763.66" width="6.925" height="7.670" fill="#f5fcf2"/>
<rect x="363.93" y="763.66" width="6.925" height="7.670" fill="#f9fdf3"/>
<rect x="370.80" y="763.66" width="6.925" height="7.670" fill="#e9f8ee"/>
<rect x="377.68" y="763.66" width="6.925" height="7.670" fill="#f9fdf3"/>
<rect x="384.55" y="763.66" width="6.925" height="7.670" fill="#e9f8ee"/>
<rect x="398.30" y="763.66" width="6.925" height="7.670" fill="#b4e8df"/>
<rect x="405.18" y="763.66" width="6.925" height="7.670" fill="#c7eee4"/>
<rect x="425.80" y="763.66" width="6.925" height="7.670" fill="#e9f8ee"/>
<rect x="432.68" y="763.66" width="6.925" height="7.670" fill="#88dbd2"/>
<rect x="109.55" y="771.28" width="6.925" height="7.670" fill="#b4e8df"/>
<rect x="116.42" y="771.28" width="6.925" height="7.670" fill="#d9f3ea"/>
<rect x="123.30" y="771.28" width="6.925" height="7.670" fill="#f5fcf2"/>
<rect x="150.80" y="771.28" width="6.925" height="7.670" fill="#f5fcf2"/>
<rect x="171.43" y="771.28" width="6.925" height="7.670" fill="#fbfdf3"/>
<rect x="226.43" y="771.28" width="6.925" height="7.670" fill="#d9f3ea"/>
<rect x="240.18" y="771.28" width="6.925" height="7.670" fill="#e9f8ee"/>
<rect x="267.68" y="771.28" width="6.925" height="7.670" fill="#e9f8ee"/>
<rect x="343.30" y="771.28" width="6.925" height="7.670" fill="#f9fdf3"/>
<rect x="350.18" y="771.28" width="6.925" height="7.670" fill="#f5fcf2"/>
<rect x="370.80" y="771.28" width="6.925" height="7.670" fill="#e9f8ee"/>
<rect x="384.55" y="771.28" width="6.925" height="7.670" fill="#f1faf0"/>
<rect x="398.30" y="771.28" width="6.925" height="7.670" fill="#b4e8df"/>
<rect x="405.18" y="771.28" width="6.925" height="7.670" fill="#e9f8ee"/>
<rect x="425.80" y="771.28" width="6.925" height="7.670" fill="#d9f3ea"/>
<rect x="432.68" y="771.28" width="6.925" height="7.670" fill="#9fe2d9"/>
<rect x="54.55" y="778.90" width="6.925" height="7.670" fill="#f5fcf2"/>
<rect x="157.68" y="778.90" width="6.925" height="7.670" fill="#c7eee4"/>
<rect x="164.55" y="778.90" width="6.925" height="7.670" fill="#d9f3ea"/>
<rect x="171.43" y="778.90" width="6.925" height="7.670" fill="#f9fdf3"/>
<rect x="192.05" y="778.90" width="6.925" height="7.670" fill="#f9fdf3"/>
<rect x="233.30" y="778.90" width="6.925" height="7.670" fill="#f5fcf2"/>
<rect x="295.18" y="778.90" width="6.925" height="7.670" fill="#f5fcf2"/>
<rect x="343.30" y="778.90" width="6.925" height="7.670" fill="#e9f8ee"/>
<rect x="350.18" y="778.90" width="6.925" height="7.670" fill="#e9f8ee"/>
<rect x="363.93" y="778.90" width="6.925" height="7.670" fill="#f5fcf2"/>
<rect x="370.80" y="778.90" width="6.925" height="7.670" fill="#c7eee4"/>
<rect x="384.55" y="778.90" width="6.925" height="7.670" fill="#e9f8ee"/>
<rect x="391.43" y="778.90" width="6.925" height="7.670" fill="#f5fcf2"/>
<rect x="398.30" y="778.90" width="6.925" height="7.670" fill="#b4e8df"/>
<rect x="405.18" y="778.90" width="6.925" height="7.670" fill="#9fe2d9"/>
<rect x="412.05" y="778.90" width="6.925" height="7.670" fill="#f9fdf3"/>
<rect x="425.80" y="778.90" width="6.925" height="7.670" fill="#f5fcf2"/>
<rect x="432.68" y="778.90" width="6.925" height="7.670" fill="#c7eee4"/>
<rect x="54.55" y="786.52" width="6.925" height="7.670" fill="#f5fcf2"/>
<rect x="61.42" y="786.52" width="6.925" height="7.670" fill="#f9fdf3"/>
<rect x="75.17" y="786.52" width="6.925" height="7.670" fill="#e9f8ee"/>
<rect x="102.67" y="786.52" width="6.925" height="7.670" fill="#f1faf0"/>
<rect x="143.93" y="786.52" width="6.925" height="7.670" fill="#c7eee4"/>
<rect x="157.68" y="786.52" width="6.925" height="7.670" fill="#f5fcf2"/>
<rect x="185.18" y="786.52" width="6.925" height="7.670" fill="#f1faf0"/>
<rect x="192.05" y="786.52" width="6.925" height="7.670" fill="#eefaf0"/>
<rect x="274.55" y="786.52" width="6.925" height="7.670" fill="#f9fdf3"/>
<rect x="281.43" y="786.52" width="6.925" height="7.670" fill="#f9fdf3"/>
<rect x="336.43" y="786.52" width="6.925" height="7.670" fill="#b4e8df"/>
<rect x="343.30" y="786.52" width="6.925" height="7.670" fill="#d9f3ea"/>
<rect x="350.18" y="786.52" width="6.925" height="7.670" fill="#e9f8ee"/>
<rect x="363.93" y="786.52" width="6.925" height="7.670" fill="#e9f8ee"/>
<rect x="370.80" y="786.52" width="6.925" height="7.670" fill="#fbfdf3"/>
<rect x="377.68" y="786.52" width="6.925" height="7.670" fill="#fbfdf3"/>
<rect x="384.55" y="786.52" width="6.925" height="7.670" fill="#f9fdf3"/>
<rect x="391.43" y="786.52" width="6.925" height="7.670" fill="#f9fdf3"/>
<rect x="398.30" y="786.52" width="6.925" height="7.670" fill="#f5fcf2"/>
<rect x="405.18" y="786.52" width="6.925" height="7.670" fill="#f5fcf2"/>
<rect x="425.80" y="786.52" width="6.925" height="7.670" fill="#b4e8df"/>
<rect x="432.68" y="786.52" width="6.925" height="7.670" fill="#70d4cb"/>
<rect x="40.80" y="801.76" width="6.925" height="7.670" fill="#e9f8ee"/>
<rect x="47.67" y="801.76" width="6.925" height="7.670" fill="#e9f8ee"/>
<rect x="54.55" y="801.76" width="6.925" height="7.670" fill="#d9f3ea"/>
<rect x="61.42" y="801.76" width="6.925" height="7.670" fill="#d9f3ea"/>
<rect x="315.80" y="801.76" width="6.925" height="7.670" fill="#c7eee4"/>
<rect x="370.80" y="801.76" width="6.925" height="7.670" fill="#e9f8ee"/>
<rect x="377.68" y="801.76" width="6.925" height="7.670" fill="#e9f8ee"/>
<rect x="384.55" y="801.76" width="6.925" height="7.670" fill="#70d4cb"/>
<rect x="391.43" y="801.76" width="6.925" height="7.670" fill="#e9f8ee"/>
<rect x="405.18" y="801.76" width="6.925" height="7.670" fill="#e9f8ee"/>
<rect x="412.05" y="801.76" width="6.925" height="7.670" fill="#d9f3ea"/>
<rect x="336.43" y="748.42" width="6.925" height="7.670" fill="#9fe2d9"/>
<rect x="357.05" y="748.42" width="6.925" height="7.670" fill="#70d4cb"/>
<rect x="363.93" y="748.42" width="6.925" height="7.670" fill="#b4e8df"/>
<rect x="370.80" y="748.42" width="6.925" height="7.670" fill="#b4e8df"/>
<rect x="432.68" y="748.42" width="6.925" height="7.670" fill="#e9f8ee"/>
<rect x="322.68" y="756.04" width="6.925" height="7.670" fill="#88dbd2"/>
<rect x="329.55" y="756.04" width="6.925" height="7.670" fill="#b4e8df"/>
<rect x="336.43" y="756.04" width="6.925" height="7.670" fill="#9fe2d9"/>
<rect x="343.30" y="756.04" width="6.925" height="7.670" fill="#b4e8df"/>
<rect x="350.18" y="756.04" width="6.925" height="7.670" fill="#b4e8df"/>
<rect x="357.05" y="756.04" width="6.925" height="7.670" fill="#b4e8df"/>
<rect x="370.80" y="756.04" width="6.925" height="7.670" fill="#d9f3ea"/>
<rect x="432.68" y="756.04" width="6.925" height="7.670" fill="#c7eee4"/>
<rect x="267.68" y="794.14" width="6.925" height="7.670" fill="#f5fcf2"/>
<rect x="308.93" y="794.14" width="6.925" height="7.670" fill="#f1faf0"/>
<rect x="315.80" y="794.14" width="6.925" height="7.670" fill="#e9f8ee"/>
<rect x="370.80" y="794.14" width="6.925" height="7.670" fill="#b4e8df"/>
<rect x="377.68" y="794.14" width="6.925" height="7.670" fill="#e9f8ee"/>
<rect x="384.55" y="794.14" width="6.925" height="7.670" fill="#9fe2d9"/>
<rect x="391.43" y="794.14" width="6.925" height="7.670" fill="#e9f8ee"/>
<rect x="398.30" y="794.14" width="6.925" height="7.670" fill="#c7eee4"/>
<rect x="405.18" y="794.14" width="6.925" height="7.670" fill="#d9f3ea"/>
<rect x="412.05" y="794.14" width="6.925" height="7.670" fill="#d9f3ea"/>
<rect x="418.93" y="794.14" width="6.925" height="7.670" fill="#c7eee4"/>
<rect x="425.80" y="794.14" width="6.925" height="7.670" fill="#c7eee4"/>
<rect x="40.80" y="817.00" width="6.925" height="7.670" fill="#c7eee4"/>
<rect x="47.67" y="817.00" width="6.925" height="7.670" fill="#c7eee4"/>
<rect x="370.80" y="817.00" width="6.925" height="7.670" fill="#70d4cb"/>
<rect x="377.68" y="817.00" width="6.925" height="7.670" fill="#9fe2d9"/>
<rect x="405.18" y="817.00" width="6.925" height="7.670" fill="#e9f8ee"/>
<rect x="40.80" y="824.62" width="6.925" height="7.670" fill="#9fe2d9"/>
<rect x="47.67" y="824.62" width="6.925" height="7.670" fill="#88dbd2"/>
<rect x="54.55" y="824.62" width="6.925" height="7.670" fill="#d9f3ea"/>
<rect x="61.42" y="824.62" width="6.925" height="7.670" fill="#d9f3ea"/>
<rect x="288.30" y="824.62" width="6.925" height="7.670" fill="#c7eee4"/>
<rect x="315.80" y="824.62" width="6.925" height="7.670" fill="#d9f3ea"/>
<rect x="336.43" y="824.62" width="6.925" height="7.670" fill="#c7eee4"/>
<rect x="350.18" y="824.62" width="6.925" height="7.670" fill="#d9f3ea"/>
<rect x="363.93" y="824.62" width="6.925" height="7.670" fill="#f9fdf3"/>
<rect x="370.80" y="824.62" width="6.925" height="7.670" fill="#e3f6ec"/>
<rect x="377.68" y="824.62" width="6.925" height="7.670" fill="#f5fcf2"/>
<rect x="391.43" y="824.62" width="6.925" height="7.670" fill="#d9f3ea"/>
<rect x="405.18" y="824.62" width="6.925" height="7.670" fill="#f5fcf2"/>
<rect x="425.80" y="824.62" width="6.925" height="7.670" fill="#f9fdf3"/>
<rect x="109.55" y="832.24" width="6.925" height="7.670" fill="#e9f8ee"/>
<rect x="116.42" y="832.24" width="6.925" height="7.670" fill="#f9fdf3"/>
<rect x="123.30" y="832.24" width="6.925" height="7.670" fill="#e9f8ee"/>
<rect x="143.93" y="832.24" width="6.925" height="7.670" fill="#e9f8ee"/>
<rect x="150.80" y="832.24" width="6.925" height="7.670" fill="#d9f3ea"/>
<rect x="164.55" y="832.24" width="6.925" height="7.670" fill="#d9f3ea"/>
<rect x="171.43" y="832.24" width="6.925" height="7.670" fill="#f5fcf2"/>
<rect x="178.30" y="832.24" width="6.925" height="7.670" fill="#c7eee4"/>
<rect x="185.18" y="832.24" width="6.925" height="7.670" fill="#f5fcf2"/>
<rect x="226.43" y="832.24" width="6.925" height="7.670" fill="#e9f8ee"/>
<rect x="233.30" y="832.24" width="6.925" height="7.670" fill="#e9f8ee"/>
<rect x="240.18" y="832.24" width="6.925" height="7.670" fill="#9fe2d9"/>
<rect x="295.18" y="832.24" width="6.925" height="7.670" fill="#d9f3ea"/>
<rect x="308.93" y="832.24" width="6.925" height="7.670" fill="#fbfdf3"/>
<rect x="363.93" y="832.24" width="6.925" height="7.670" fill="#f5fcf2"/>
<rect x="377.68" y="832.24" width="6.925" height="7.670" fill="#f5fcf2"/>
<rect x="418.93" y="832.24" width="6.925" height="7.670" fill="#c7eee4"/>
<rect x="425.80" y="832.24" width="6.925" height="7.670" fill="#f1faf0"/>
<rect x="109.55" y="839.86" width="6.925" height="7.670" fill="#f9fdf3"/>
<rect x="116.42" y="839.86" width="6.925" height="7.670" fill="#f1faf0"/>
<rect x="164.55" y="839.86" width="6.925" height="7.670" fill="#f1faf0"/>
<rect x="178.30" y="839.86" width="6.925" height="7.670" fill="#9fe2d9"/>
<rect x="185.18" y="839.86" width="6.925" height="7.670" fill="#d9f3ea"/>
<rect x="192.05" y="839.86" width="6.925" height="7.670" fill="#d9f3ea"/>
<rect x="240.18" y="839.86" width="6.925" height="7.670" fill="#9fe2d9"/>
<rect x="247.05" y="839.86" width="6.925" height="7.670" fill="#e9f8ee"/>
<rect x="253.93" y="839.86" width="6.925" height="7.670" fill="#e9f8ee"/>
<rect x="315.80" y="839.86" width="6.925" height="7.670" fill="#f9fdf3"/>
<rect x="329.55" y="839.86" width="6.925" height="7.670" fill="#f5fcf2"/>
<rect x="357.05" y="839.86" width="6.925" height="7.670" fill="#e9f8ee"/>
<rect x="363.93" y="839.86" width="6.925" height="7.670" fill="#f9fdf3"/>
<rect x="398.30" y="839.86" width="6.925" height="7.670" fill="#e9f8ee"/>
<rect x="405.18" y="839.86" width="6.925" height="7.670" fill="#f9fdf3"/>
<rect x="418.93" y="839.86" width="6.925" height="7.670" fill="#fbfdf3"/>
<rect x="432.68" y="839.86" width="6.925" height="7.670" fill="#d9f3ea"/>
<rect x="116.42" y="862.72" width="6.925" height="7.670" fill="#d9f3ea"/>
<rect x="123.30" y="862.72" width="6.925" height="7.670" fill="#f5fcf2"/>
<rect x="157.68" y="862.72" width="6.925" height="7.670" fill="#f5fcf2"/>
<rect x="164.55" y="862.72" width="6.925" height="7.670" fill="#f5fcf2"/>
<rect x="253.93" y="862.72" width="6.925" height="7.670" fill="#e9f8ee"/>
<rect x="260.80" y="862.72" width="6.925" height="7.670" fill="#d9f3ea"/>
<rect x="267.68" y="862.72" width="6.925" height="7.670" fill="#56ccc4"/>
<rect x="350.18" y="862.72" width="6.925" height="7.670" fill="#d9f3ea"/>
<rect x="363.93" y="862.72" width="6.925" height="7.670" fill="#f5fcf2"/>
<rect x="405.18" y="862.72" width="6.925" height="7.670" fill="#f1faf0"/>
<rect x="425.80" y="862.72" width="6.925" height="7.670" fill="#f9fdf3"/>
<rect x="116.42" y="870.34" width="6.925" height="7.670" fill="#d9f3ea"/>
<rect x="185.18" y="870.34" width="6.925" height="7.670" fill="#9fe2d9"/>
<rect x="267.68" y="870.34" width="6.925" height="7.670" fill="#9fe2d9"/>
<rect x="308.93" y="870.34" width="6.925" height="7.670" fill="#d9f3ea"/>
<rect x="315.80" y="870.34" width="6.925" height="7.670" fill="#d9f3ea"/>
<rect x="398.30" y="870.34" width="6.925" height="7.670" fill="#c7eee4"/>
<rect x="418.93" y="870.34" width="6.925" height="7.670" fill="#d9f3ea"/>
<rect x="425.80" y="870.34" width="6.925" height="7.670" fill="#f1faf0"/>
<rect x="54.55" y="877.96" width="6.925" height="7.670" fill="#fbfdf3"/>
<rect x="88.92" y="877.96" width="6.925" height="7.670" fill="#f5fcf2"/>
<rect x="109.55" y="877.96" width="6.925" height="7.670" fill="#e9f8ee"/>
<rect x="116.42" y="877.96" width="6.925" height="7.670" fill="#fbfdf3"/>
<rect x="123.30" y="877.96" width="6.925" height="7.670" fill="#9fe2d9"/>
<rect x="164.55" y="877.96" width="6.925" height="7.670" fill="#f9fdf3"/>
<rect x="178.30" y="877.96" width="6.925" height="7.670" fill="#b4e8df"/>
<rect x="185.18" y="877.96" width="6.925" height="7.670" fill="#e9f8ee"/>
<rect x="240.18" y="877.96" width="6.925" height="7.670" fill="#e9f8ee"/>
<rect x="260.80" y="877.96" width="6.925" height="7.670" fill="#9fe2d9"/>
<rect x="343.30" y="877.96" width="6.925" height="7.670" fill="#e9f8ee"/>
<rect x="350.18" y="877.96" width="6.925" height="7.670" fill="#f1faf0"/>
<rect x="363.93" y="877.96" width="6.925" height="7.670" fill="#c7eee4"/>
<rect x="377.68" y="877.96" width="6.925" height="7.670" fill="#f9fdf3"/>
<rect x="398.30" y="877.96" width="6.925" height="7.670" fill="#f9fdf3"/>
<rect x="425.80" y="877.96" width="6.925" height="7.670" fill="#f9fdf3"/>
<rect x="109.55" y="885.58" width="6.925" height="7.670" fill="#b4e8df"/>
<rect x="116.42" y="885.58" width="6.925" height="7.670" fill="#c7eee4"/>
<rect x="123.30" y="885.58" width="6.925" height="7.670" fill="#9fe2d9"/>
<rect x="253.93" y="885.58" width="6.925" height="7.670" fill="#9fe2d9"/>
<rect x="260.80" y="885.58" width="6.925" height="7.670" fill="#88dbd2"/>
<rect x="40.80" y="893.20" width="6.925" height="7.670" fill="#fbfdf3"/>
<rect x="47.67" y="893.20" width="6.925" height="7.670" fill="#f9fdf3"/>
<rect x="88.92" y="893.20" width="6.925" height="7.670" fill="#e9f8ee"/>
<rect x="95.80" y="893.20" width="6.925" height="7.670" fill="#d9f3ea"/>
<rect x="102.67" y="893.20" width="6.925" height="7.670" fill="#f9fdf3"/>
<rect x="109.55" y="893.20" width="6.925" height="7.670" fill="#b4e8df"/>
<rect x="116.42" y="893.20" width="6.925" height="7.670" fill="#56ccc4"/>
<rect x="123.30" y="893.20" width="6.925" height="7.670" fill="#f5fcf2"/>
<rect x="267.68" y="893.20" width="6.925" height="7.670" fill="#f5fcf2"/>
<rect x="288.30" y="893.20" width="6.925" height="7.670" fill="#f1faf0"/>
<rect x="308.93" y="893.20" width="6.925" height="7.670" fill="#f1faf0"/>
<rect x="350.18" y="893.20" width="6.925" height="7.670" fill="#e9f8ee"/>
<rect x="377.68" y="893.20" width="6.925" height="7.670" fill="#fbfdf3"/>
<rect x="425.80" y="893.20" width="6.925" height="7.670" fill="#fbfdf3"/>
<rect x="109.55" y="900.82" width="6.925" height="7.670" fill="#9fe2d9"/>
<rect x="116.42" y="900.82" width="6.925" height="7.670" fill="#b4e8df"/>
<rect x="205.80" y="900.82" width="6.925" height="7.670" fill="#56ccc4"/>
<rect x="116.42" y="923.68" width="6.925" height="7.670" fill="#b4e8df"/>
<rect x="123.30" y="923.68" width="6.925" height="7.670" fill="#9fe2d9"/>
<rect x="164.55" y="923.68" width="6.925" height="7.670" fill="#9fe2d9"/>
<rect x="315.80" y="923.68" width="6.925" height="7.670" fill="#b4e8df"/>
<rect x="418.93" y="923.68" width="6.925" height="7.670" fill="#b4e8df"/>
<rect x="40.80" y="931.30" width="6.925" height="7.670" fill="#e9f8ee"/>
<rect x="47.67" y="931.30" width="6.925" height="7.670" fill="#d9f3ea"/>
<rect x="54.55" y="931.30" width="6.925" height="7.670" fill="#f5fcf2"/>
<rect x="61.42" y="931.30" width="6.925" height="7.670" fill="#f5fcf2"/>
<rect x="88.92" y="931.30" width="6.925" height="7.670" fill="#e9f8ee"/>
<rect x="116.42" y="931.30" width="6.925" height="7.670" fill="#e9f8ee"/>
<rect x="123.30" y="931.30" width="6.925" height="7.670" fill="#f5fcf2"/>
<rect x="157.68" y="931.30" width="6.925" height="7.670" fill="#f9fdf3"/>
<rect x="233.30" y="931.30" width="6.925" height="7.670" fill="#d9f3ea"/>
<rect x="247.05" y="931.30" width="6.925" height="7.670" fill="#70d4cb"/>
<rect x="253.93" y="931.30" width="6.925" height="7.670" fill="#c7eee4"/>
<rect x="274.55" y="931.30" width="6.925" height="7.670" fill="#e9f8ee"/>
<rect x="350.18" y="931.30" width="6.925" height="7.670" fill="#fbfdf3"/>
<rect x="363.93" y="931.30" width="6.925" height="7.670" fill="#c7eee4"/>
<rect x="405.18" y="931.30" width="6.925" height="7.670" fill="#f5fcf2"/>
<rect x="205.80" y="809.38" width="6.925" height="7.670" fill="#9fe2d9"/>
<rect x="315.80" y="809.38" width="6.925" height="7.670" fill="#c7eee4"/>
<rect x="363.93" y="809.38" width="6.925" height="7.670" fill="#e9f8ee"/>
<rect x="370.80" y="809.38" width="6.925" height="7.670" fill="#c7eee4"/>
<rect x="377.68" y="809.38" width="6.925" height="7.670" fill="#e9f8ee"/>
<rect x="384.55" y="809.38" width="6.925" height="7.670" fill="#b4e8df"/>
<rect x="391.43" y="809.38" width="6.925" height="7.670" fill="#b4e8df"/>
<rect x="405.18" y="809.38" width="6.925" height="7.670" fill="#e9f8ee"/>
<rect x="418.93" y="809.38" width="6.925" height="7.670" fill="#d9f3ea"/>
<rect x="425.80" y="809.38" width="6.925" height="7.670" fill="#f1faf0"/>
<rect x="432.68" y="809.38" width="6.925" height="7.670" fill="#e3f6ec"/>
<rect x="240.18" y="847.48" width="6.925" height="7.670" fill="#56ccc4"/>
<rect x="343.30" y="847.48" width="6.925" height="7.670" fill="#9fe2d9"/>
<rect x="143.93" y="855.10" width="6.925" height="7.670" fill="#e9f8ee"/>
<rect x="178.30" y="855.10" width="6.925" height="7.670" fill="#f9fdf3"/>
<rect x="198.93" y="855.10" width="6.925" height="7.670" fill="#f9fdf3"/>
<rect x="233.30" y="855.10" width="6.925" height="7.670" fill="#d9f3ea"/>
<rect x="240.18" y="855.10" width="6.925" height="7.670" fill="#9fe2d9"/>
<rect x="288.30" y="855.10" width="6.925" height="7.670" fill="#fbfdf3"/>
<rect x="308.93" y="855.10" width="6.925" height="7.670" fill="#c7eee4"/>
<rect x="322.68" y="855.10" width="6.925" height="7.670" fill="#f5fcf2"/>
<rect x="329.55" y="855.10" width="6.925" height="7.670" fill="#e9f8ee"/>
<rect x="336.43" y="855.10" width="6.925" height="7.670" fill="#e9f8ee"/>
<rect x="343.30" y="855.10" width="6.925" height="7.670" fill="#f5fcf2"/>
<rect x="350.18" y="855.10" width="6.925" height="7.670" fill="#c7eee4"/>
<rect x="357.05" y="855.10" width="6.925" height="7.670" fill="#e9f8ee"/>
<rect x="370.80" y="855.10" width="6.925" height="7.670" fill="#f9fdf3"/>
<rect x="384.55" y="855.10" width="6.925" height="7.670" fill="#f5fcf2"/>
<rect x="391.43" y="855.10" width="6.925" height="7.670" fill="#f1faf0"/>
<rect x="405.18" y="855.10" width="6.925" height="7.670" fill="#f5fcf2"/>
<rect x="418.93" y="855.10" width="6.925" height="7.670" fill="#e3f6ec"/>
<rect x="425.80" y="855.10" width="6.925" height="7.670" fill="#e3f6ec"/>
<rect x="432.68" y="855.10" width="6.925" height="7.670" fill="#c7eee4"/>
<rect x="150.80" y="908.44" width="6.925" height="7.670" fill="#b4e8df"/>
<rect x="164.55" y="908.44" width="6.925" height="7.670" fill="#c7eee4"/>
<rect x="185.18" y="908.44" width="6.925" height="7.670" fill="#e9f8ee"/>
<rect x="212.68" y="908.44" width="6.925" height="7.670" fill="#e9f8ee"/>
<rect x="302.05" y="908.44" width="6.925" height="7.670" fill="#f1faf0"/>
<rect x="308.93" y="908.44" width="6.925" height="7.670" fill="#f1faf0"/>
<rect x="315.80" y="908.44" width="6.925" height="7.670" fill="#88dbd2"/>
<rect x="350.18" y="908.44" width="6.925" height="7.670" fill="#f9fdf3"/>
<rect x="363.93" y="908.44" width="6.925" height="7.670" fill="#e9f8ee"/>
<rect x="370.80" y="908.44" width="6.925" height="7.670" fill="#f5fcf2"/>
<rect x="377.68" y="908.44" width="6.925" height="7.670" fill="#f1faf0"/>
<rect x="412.05" y="908.44" width="6.925" height="7.670" fill="#f5fcf2"/>
<rect x="432.68" y="908.44" width="6.925" height="7.670" fill="#fbfdf3"/>
<rect x="315.80" y="916.06" width="6.925" height="7.670" fill="#3cc4bc"/>
<rect x="377.68" y="916.06" width="6.925" height="7.670" fill="#d9f3ea"/>
<rect x="405.18" y="916.06" width="6.925" height="7.670" fill="#d9f3ea"/>
<rect x="40.80" y="938.92" width="6.925" height="7.670" fill="#d9f3ea"/>
<rect x="47.67" y="938.92" width="6.925" height="7.670" fill="#f5fcf2"/>
<rect x="109.55" y="938.92" width="6.925" height="7.670" fill="#fbfdf3"/>
<rect x="164.55" y="938.92" width="6.925" height="7.670" fill="#f9fdf3"/>
<rect x="185.18" y="938.92" width="6.925" height="7.670" fill="#d9f3ea"/>
<rect x="192.05" y="938.92" width="6.925" height="7.670" fill="#88dbd2"/>
<rect x="198.93" y="938.92" width="6.925" height="7.670" fill="#fbfdf3"/>
<rect x="233.30" y="938.92" width="6.925" height="7.670" fill="#f9fdf3"/>
<rect x="247.05" y="938.92" width="6.925" height="7.670" fill="#d9f3ea"/>
<rect x="253.93" y="938.92" width="6.925" height="7.670" fill="#d9f3ea"/>
<rect x="267.68" y="938.92" width="6.925" height="7.670" fill="#f9fdf3"/>
<rect x="274.55" y="938.92" width="6.925" height="7.670" fill="#fbfdf3"/>
<rect x="302.05" y="938.92" width="6.925" height="7.670" fill="#f9fdf3"/>
<rect x="308.93" y="938.92" width="6.925" height="7.670" fill="#e9f8ee"/>
<rect x="315.80" y="938.92" width="6.925" height="7.670" fill="#c7eee4"/>
<rect x="329.55" y="938.92" width="6.925" height="7.670" fill="#f1faf0"/>
<rect x="350.18" y="938.92" width="6.925" height="7.670" fill="#f5fcf2"/>
<rect x="377.68" y="938.92" width="6.925" height="7.670" fill="#fbfdf3"/>
<rect x="391.43" y="938.92" width="6.925" height="7.670" fill="#fbfdf3"/>
<rect x="405.18" y="938.92" width="6.925" height="7.670" fill="#f5fcf2"/>
<rect x="40.80" y="984.64" width="6.925" height="7.670" fill="#d9f3ea"/>
<rect x="171.43" y="984.64" width="6.925" height="7.670" fill="#88dbd2"/>
<rect x="267.68" y="984.64" width="6.925" height="7.670" fill="#f5fcf2"/>
<rect x="302.05" y="984.64" width="6.925" height="7.670" fill="#c7eee4"/>
<rect x="350.18" y="984.64" width="6.925" height="7.670" fill="#e9f8ee"/>
<rect x="363.93" y="984.64" width="6.925" height="7.670" fill="#b4e8df"/>
<rect x="370.80" y="984.64" width="6.925" height="7.670" fill="#e3f6ec"/>
<rect x="377.68" y="984.64" width="6.925" height="7.670" fill="#e3f6ec"/>
<rect x="391.43" y="984.64" width="6.925" height="7.670" fill="#d9f3ea"/>
<rect x="398.30" y="984.64" width="6.925" height="7.670" fill="#e9f8ee"/>
<rect x="47.67" y="1022.74" width="6.925" height="7.670" fill="#f9fdf3"/>
<rect x="102.67" y="1022.74" width="6.925" height="7.670" fill="#f1faf0"/>
<rect x="116.42" y="1022.74" width="6.925" height="7.670" fill="#c7eee4"/>
<rect x="123.30" y="1022.74" width="6.925" height="7.670" fill="#f1faf0"/>
<rect x="274.55" y="1022.74" width="6.925" height="7.670" fill="#e3f6ec"/>
<rect x="281.43" y="1022.74" width="6.925" height="7.670" fill="#d9f3ea"/>
<rect x="288.30" y="1022.74" width="6.925" height="7.670" fill="#70d4cb"/>
<rect x="329.55" y="1022.74" width="6.925" height="7.670" fill="#f5fcf2"/>
<rect x="343.30" y="1022.74" width="6.925" height="7.670" fill="#c7eee4"/>
<rect x="377.68" y="1022.74" width="6.925" height="7.670" fill="#f9fdf3"/>
<rect x="425.80" y="1022.74" width="6.925" height="7.670" fill="#b4e8df"/>
<rect x="432.68" y="1022.74" width="6.925" height="7.670" fill="#e9f8ee"/>
<rect x="47.67" y="1030.36" width="6.925" height="7.670" fill="#fbfdf3"/>
<rect x="102.67" y="1030.36" width="6.925" height="7.670" fill="#f9fdf3"/>
<rect x="137.05" y="1030.36" width="6.925" height="7.670" fill="#c7eee4"/>
<rect x="178.30" y="1030.36" width="6.925" height="7.670" fill="#fbfdf3"/>
<rect x="212.68" y="1030.36" width="6.925" height="7.670" fill="#f9fdf3"/>
<rect x="226.43" y="1030.36" width="6.925" height="7.670" fill="#e9f8ee"/>
<rect x="233.30" y="1030.36" width="6.925" height="7.670" fill="#f5fcf2"/>
<rect x="240.18" y="1030.36" width="6.925" height="7.670" fill="#f5fcf2"/>
<rect x="267.68" y="1030.36" width="6.925" height="7.670" fill="#f9fdf3"/>
<rect x="274.55" y="1030.36" width="6.925" height="7.670" fill="#d9f3ea"/>
<rect x="281.43" y="1030.36" width="6.925" height="7.670" fill="#f9fdf3"/>
<rect x="288.30" y="1030.36" width="6.925" height="7.670" fill="#9fe2d9"/>
<rect x="295.18" y="1030.36" width="6.925" height="7.670" fill="#9fe2d9"/>
<rect x="302.05" y="1030.36" width="6.925" height="7.670" fill="#f9fdf3"/>
<rect x="315.80" y="1030.36" width="6.925" height="7.670" fill="#f5fcf2"/>
<rect x="329.55" y="1030.36" width="6.925" height="7.670" fill="#fbfdf3"/>
<rect x="343.30" y="1030.36" width="6.925" height="7.670" fill="#f9fdf3"/>
<rect x="350.18" y="1030.36" width="6.925" height="7.670" fill="#f5fcf2"/>
<rect x="363.93" y="1030.36" width="6.925" height="7.670" fill="#f9fdf3"/>
<rect x="391.43" y="1030.36" width="6.925" height="7.670" fill="#c7eee4"/>
<rect x="418.93" y="1030.36" width="6.925" height="7.670" fill="#f5fcf2"/>
<rect x="425.80" y="1030.36" width="6.925" height="7.670" fill="#d9f3ea"/>
<rect x="40.80" y="1037.98" width="6.925" height="7.670" fill="#f5fcf2"/>
<rect x="47.67" y="1037.98" width="6.925" height="7.670" fill="#e9f8ee"/>
<rect x="61.42" y="1037.98" width="6.925" height="7.670" fill="#d9f3ea"/>
<rect x="88.92" y="1037.98" width="6.925" height="7.670" fill="#c7eee4"/>
<rect x="116.42" y="1037.98" width="6.925" height="7.670" fill="#c7eee4"/>
<rect x="123.30" y="1037.98" width="6.925" height="7.670" fill="#d9f3ea"/>
<rect x="308.93" y="1037.98" width="6.925" height="7.670" fill="#f9fdf3"/>
<rect x="350.18" y="1037.98" width="6.925" height="7.670" fill="#b4e8df"/>
<rect x="357.05" y="1037.98" width="6.925" height="7.670" fill="#88dbd2"/>
<rect x="391.43" y="1037.98" width="6.925" height="7.670" fill="#e9f8ee"/>
<rect x="418.93" y="1037.98" width="6.925" height="7.670" fill="#f5fcf2"/>
<rect x="425.80" y="1037.98" width="6.925" height="7.670" fill="#d9f3ea"/>
<rect x="432.68" y="1037.98" width="6.925" height="7.670" fill="#fbfdf3"/>
<rect x="40.80" y="1045.60" width="6.925" height="7.670" fill="#fbfdf3"/>
<rect x="47.67" y="1045.60" width="6.925" height="7.670" fill="#f5fcf2"/>
<rect x="102.67" y="1045.60" width="6.925" height="7.670" fill="#fbfdf3"/>
<rect x="116.42" y="1045.60" width="6.925" height="7.670" fill="#fbfdf3"/>
<rect x="123.30" y="1045.60" width="6.925" height="7.670" fill="#fbfdf3"/>
<rect x="157.68" y="1045.60" width="6.925" height="7.670" fill="#e9f8ee"/>
<rect x="164.55" y="1045.60" width="6.925" height="7.670" fill="#e9f8ee"/>
<rect x="274.55" y="1045.60" width="6.925" height="7.670" fill="#b4e8df"/>
<rect x="281.43" y="1045.60" width="6.925" height="7.670" fill="#e9f8ee"/>
<rect x="302.05" y="1045.60" width="6.925" height="7.670" fill="#e9f8ee"/>
<rect x="322.68" y="1045.60" width="6.925" height="7.670" fill="#9fe2d9"/>
<rect x="329.55" y="1045.60" width="6.925" height="7.670" fill="#e9f8ee"/>
<rect x="336.43" y="1045.60" width="6.925" height="7.670" fill="#d9f3ea"/>
<rect x="350.18" y="1045.60" width="6.925" height="7.670" fill="#f5fcf2"/>
<rect x="357.05" y="1045.60" width="6.925" height="7.670" fill="#f5fcf2"/>
<rect x="398.30" y="1045.60" width="6.925" height="7.670" fill="#e9f8ee"/>
<rect x="418.93" y="1045.60" width="6.925" height="7.670" fill="#c7eee4"/>
<rect x="425.80" y="1045.60" width="6.925" height="7.670" fill="#88dbd2"/>
<rect x="233.30" y="946.54" width="6.925" height="7.670" fill="#56ccc4"/>
<rect x="219.55" y="954.16" width="6.925" height="7.670" fill="#88dbd2"/>
<rect x="267.68" y="954.16" width="6.925" height="7.670" fill="#e9f8ee"/>
<rect x="281.43" y="954.16" width="6.925" height="7.670" fill="#b4e8df"/>
<rect x="288.30" y="954.16" width="6.925" height="7.670" fill="#c7eee4"/>
<rect x="308.93" y="954.16" width="6.925" height="7.670" fill="#e9f8ee"/>
<rect x="377.68" y="954.16" width="6.925" height="7.670" fill="#f1faf0"/>
<rect x="219.55" y="961.78" width="6.925" height="7.670" fill="#56ccc4"/>
<rect x="363.93" y="961.78" width="6.925" height="7.670" fill="#f1faf0"/>
<rect x="377.68" y="961.78" width="6.925" height="7.670" fill="#f1faf0"/>
<rect x="418.93" y="961.78" width="6.925" height="7.670" fill="#d9f3ea"/>
<rect x="425.80" y="961.78" width="6.925" height="7.670" fill="#f1faf0"/>
<rect x="226.43" y="999.88" width="6.925" height="7.670" fill="#70d4cb"/>
<rect x="233.30" y="999.88" width="6.925" height="7.670" fill="#d9f3ea"/>
<rect x="240.18" y="999.88" width="6.925" height="7.670" fill="#d9f3ea"/>
<rect x="302.05" y="999.88" width="6.925" height="7.670" fill="#d9f3ea"/>
<rect x="418.93" y="999.88" width="6.925" height="7.670" fill="#c7eee4"/>
<rect x="425.80" y="999.88" width="6.925" height="7.670" fill="#e9f8ee"/>
<rect x="432.68" y="999.88" width="6.925" height="7.670" fill="#d9f3ea"/>
<rect x="212.68" y="1007.50" width="6.925" height="7.670" fill="#9fe2d9"/>
<rect x="226.43" y="1007.50" width="6.925" height="7.670" fill="#9fe2d9"/>
<rect x="322.68" y="1007.50" width="6.925" height="7.670" fill="#88dbd2"/>
<rect x="418.93" y="1007.50" width="6.925" height="7.670" fill="#d9f3ea"/>
<rect x="425.80" y="1007.50" width="6.925" height="7.670" fill="#e9f8ee"/>
<rect x="212.68" y="1015.12" width="6.925" height="7.670" fill="#56ccc4"/>
<rect x="198.93" y="1053.22" width="6.925" height="7.670" fill="#70d4cb"/>
<rect x="418.93" y="1053.22" width="6.925" height="7.670" fill="#9fe2d9"/>
<rect x="425.80" y="1053.22" width="6.925" height="7.670" fill="#d9f3ea"/>
<rect x="274.55" y="969.40" width="6.925" height="7.670" fill="#9fe2d9"/>
<rect x="281.43" y="969.40" width="6.925" height="7.670" fill="#9fe2d9"/>
<rect x="412.05" y="969.40" width="6.925" height="7.670" fill="#9fe2d9"/>
<rect x="274.55" y="977.02" width="6.925" height="7.670" fill="#9fe2d9"/>
<rect x="281.43" y="977.02" width="6.925" height="7.670" fill="#9fe2d9"/>
<rect x="302.05" y="977.02" width="6.925" height="7.670" fill="#88dbd2"/>
<rect x="295.18" y="992.26" width="6.925" height="7.670" fill="#70d4cb"/>
<rect x="302.05" y="992.26" width="6.925" height="7.670" fill="#88dbd2"/>
<rect x="308.93" y="992.26" width="6.925" height="7.670" fill="#c7eee4"/>
<rect x="40.80" y="536.2" width="6.925" height="9.8" fill="#E3BD80"/>
<rect x="47.67" y="536.2" width="6.925" height="9.8" fill="#E3BD80"/>
<rect x="54.55" y="536.2" width="6.925" height="9.8" fill="#E3BD80"/>
<rect x="61.42" y="536.2" width="6.925" height="9.8" fill="#E3BD80"/>
<rect x="68.30" y="536.2" width="6.925" height="9.8" fill="#E3BD80"/>
<rect x="75.17" y="536.2" width="6.925" height="9.8" fill="#E3BD80"/>
<rect x="82.05" y="536.2" width="6.925" height="9.8" fill="#E3BD80"/>
<rect x="88.92" y="536.2" width="6.925" height="9.8" fill="#E3BD80"/>
<rect x="95.80" y="536.2" width="6.925" height="9.8" fill="#8B82E0"/>
<rect x="102.67" y="536.2" width="6.925" height="9.8" fill="#8B82E0"/>
<rect x="109.55" y="536.2" width="6.925" height="9.8" fill="#8B82E0"/>
<rect x="116.42" y="536.2" width="6.925" height="9.8" fill="#8B82E0"/>
<rect x="123.30" y="536.2" width="6.925" height="9.8" fill="#8B82E0"/>
<rect x="130.18" y="536.2" width="6.925" height="9.8" fill="#FFDD00"/>
<rect x="137.05" y="536.2" width="6.925" height="9.8" fill="#0C84AC"/>
<rect x="143.93" y="536.2" width="6.925" height="9.8" fill="#52C3B4"/>
<rect x="150.80" y="536.2" width="6.925" height="9.8" fill="#D3D3D3"/>
<rect x="157.68" y="536.2" width="6.925" height="9.8" fill="#52C3B4"/>
<rect x="164.55" y="536.2" width="6.925" height="9.8" fill="#974C70"/>
<rect x="171.43" y="536.2" width="6.925" height="9.8" fill="#E3BD80"/>
<rect x="178.30" y="536.2" width="6.925" height="9.8" fill="#974C70"/>
<rect x="185.18" y="536.2" width="6.925" height="9.8" fill="#974C70"/>
<rect x="192.05" y="536.2" width="6.925" height="9.8" fill="#974C70"/>
<rect x="198.93" y="536.2" width="6.925" height="9.8" fill="#8B82E0"/>
<rect x="205.80" y="536.2" width="6.925" height="9.8" fill="#E8505E"/>
<rect x="212.68" y="536.2" width="6.925" height="9.8" fill="#0C84AC"/>
<rect x="219.55" y="536.2" width="6.925" height="9.8" fill="#52C3B4"/>
<rect x="226.43" y="536.2" width="6.925" height="9.8" fill="#E3BD80"/>
<rect x="233.30" y="536.2" width="6.925" height="9.8" fill="#974C70"/>
<rect x="240.18" y="536.2" width="6.925" height="9.8" fill="#974C70"/>
<rect x="247.05" y="536.2" width="6.925" height="9.8" fill="#8B82E0"/>
<rect x="253.93" y="536.2" width="6.925" height="9.8" fill="#8B82E0"/>
<rect x="260.80" y="536.2" width="6.925" height="9.8" fill="#8B82E0"/>
<rect x="267.68" y="536.2" width="6.925" height="9.8" fill="#0C84AC"/>
<rect x="274.55" y="536.2" width="6.925" height="9.8" fill="#74ABE0"/>
<rect x="281.43" y="536.2" width="6.925" height="9.8" fill="#74ABE0"/>
<rect x="288.30" y="536.2" width="6.925" height="9.8" fill="#74ABE0"/>
<rect x="295.18" y="536.2" width="6.925" height="9.8" fill="#0C84AC"/>
<rect x="302.05" y="536.2" width="6.925" height="9.8" fill="#0C84AC"/>
<rect x="308.93" y="536.2" width="6.925" height="9.8" fill="#74ABE0"/>
<rect x="315.80" y="536.2" width="6.925" height="9.8" fill="#974C70"/>
<rect x="322.68" y="536.2" width="6.925" height="9.8" fill="#0C84AC"/>
<rect x="329.55" y="536.2" width="6.925" height="9.8" fill="#0C84AC"/>
<rect x="336.43" y="536.2" width="6.925" height="9.8" fill="#0C84AC"/>
<rect x="343.30" y="536.2" width="6.925" height="9.8" fill="#7DDCBE"/>
<rect x="350.18" y="536.2" width="6.925" height="9.8" fill="#0C84AC"/>
<rect x="357.05" y="536.2" width="6.925" height="9.8" fill="#0C84AC"/>
<rect x="363.93" y="536.2" width="6.925" height="9.8" fill="#0C84AC"/>
<rect x="370.80" y="536.2" width="6.925" height="9.8" fill="#E3BD80"/>
<rect x="377.68" y="536.2" width="6.925" height="9.8" fill="#E3BD80"/>
<rect x="384.55" y="536.2" width="6.925" height="9.8" fill="#E3BD80"/>
<rect x="391.43" y="536.2" width="6.925" height="9.8" fill="#E3BD80"/>
<rect x="398.30" y="536.2" width="6.925" height="9.8" fill="#7DDCBE"/>
<rect x="405.18" y="536.2" width="6.925" height="9.8" fill="#E3BD80"/>
<rect x="412.05" y="536.2" width="6.925" height="9.8" fill="#74ABE0"/>
<rect x="418.93" y="536.2" width="6.925" height="9.8" fill="#E3BD80"/>
<rect x="425.80" y="536.2" width="6.925" height="9.8" fill="#F59B0C"/>
<rect x="432.68" y="536.2" width="6.925" height="9.8" fill="#0C84AC"/>
<rect x="38.3" y="549.2" width="58.30" height="117.20" fill="none" stroke="#E3BD80" stroke-width="1.3"/>
<rect x="95.6" y="669.6" width="35.10" height="59.40" fill="none" stroke="#8B82E0" stroke-width="1.3"/>
<rect x="323.3" y="721.7" width="75.20" height="42.60" fill="none" stroke="#E3BD80" stroke-width="1.3"/>
<rect x="106.5" y="861.9" width="27.60" height="47.50" fill="none" stroke="#8B82E0" stroke-width="1.3"/>
<g font-family='"Liberation Sans", sans-serif' font-size="7.6" fill="#111" transform="translate(442,0) scale(0.93,1) translate(-442,0)">
<text x="442" y="557.52">peroxisome organization and biogenesis</text>
<text x="442" y="565.14">peroxisome fission</text>
<text x="442" y="572.76">lipid modification</text>
<text x="442" y="580.38">glyceraldehyde-3-phosphate metabolic process</text>
<text x="442" y="588.00">pentose-phosphate shunt</text>
<text x="442" y="595.62">aldehyde metabolic process</text>
<text x="442" y="603.24">glyoxylate cycle</text>
<text x="442" y="610.86">monocarboxylic acid metabolic process</text>
<text x="442" y="618.48">mismatch repair</text>
<text x="442" y="626.10">cytochrome complex assembly</text>
<text x="442" y="633.72">cellular homeostasis</text>
<text x="442" y="641.34">cell redox homeostasis</text>
<text x="442" y="648.96">NADPH regeneration</text>
<text x="442" y="656.58">nicotinamide nucleotide metabolic process</text>
<text x="442" y="664.20">cellular lipid metabolic process</text>
<text x="442" y="671.82">cellular response to oxidative stress</text>
<text x="442" y="679.44">small molecule metabolic process</text>
<text x="442" y="687.06">carboxylic acid metabolic process</text>
<text x="442" y="694.68">proteinogenic amino acid metabolic process</text>
<text x="442" y="702.30">proteinogenic amino acid biosynthetic process</text>
<text x="442" y="709.92">amino acid metabolic process</text>
<text x="442" y="717.54">sulfate assimilation</text>
<text x="442" y="725.16">glutamine family amino acid biosynthetic process</text>
<text x="442" y="732.78">protein amino acid phosphorylation</text>
<text x="442" y="740.40">phosphorus metabolic process</text>
<text x="442" y="748.02">GTP metabolic process</text>
<text x="442" y="755.64">external encapsulating structure organization</text>
<text x="442" y="763.26">double-strand break repair via homologous recombination</text>
<text x="442" y="770.88">regulation of cellular process</text>
<text x="442" y="778.50">regulation of biological process</text>
<text x="442" y="786.12">regulation of gene expression</text>
<text x="442" y="793.74">chromatin organization</text>
<text x="442" y="801.36">response to chemical</text>
<text x="442" y="808.98">exocytic process</text>
<text x="442" y="816.60">regulation of cyclic-nucleotide phosphodiesterase activity</text>
<text x="442" y="824.22">tyrosyl-tRNA aminoacylation</text>
<text x="442" y="831.84">RNA 3'-end processing</text>
<text x="442" y="839.46">positive regulation of post-translational protein modification</text>
<text x="442" y="847.08">peptidyl-histidine phosphorylation</text>
<text x="442" y="854.70">L-phenylalanine biosynthetic process</text>
<text x="442" y="862.32">protein modification process</text>
<text x="442" y="869.94">carbohydrate transport</text>
<text x="442" y="877.56">N-acetylglucosamine metabolic process</text>
<text x="442" y="885.18">aromatic amino acid family biosynthetic process</text>
<text x="442" y="892.80">nicotinate nucleotide metabolic process</text>
<text x="442" y="900.42">serine family amino acid metabolic process</text>
<text x="442" y="908.04">isoleucyl-tRNA aminoacylation</text>
<text x="442" y="915.66">ribosome biogenesis and assembly</text>
<text x="442" y="923.28">ribosome assembly</text>
<text x="442" y="930.90">cobalamin metabolic process</text>
<text x="442" y="938.52">carbohydrate catabolic process</text>
<text x="442" y="946.14">protein folding</text>
<text x="442" y="953.76">hexose catabolic process</text>
<text x="442" y="961.38">glycerol-3-phosphate catabolic process</text>
<text x="442" y="969.00">base-excision repair</text>
<text x="442" y="976.62">spermine biosynthetic process</text>
<text x="442" y="984.24">mitochondrial genome maintenance</text>
<text x="442" y="991.86">sodium ion transport</text>
<text x="442" y="999.48">isoleucine biosynthetic</text>
<text x="442" y="1007.10">RNA localization</text>
<text x="442" y="1014.72">carbon utilization</text>
<text x="442" y="1022.34">thiamine diphosphate metabolic process</text>
<text x="442" y="1029.96">aerobic respiration</text>
<text x="442" y="1037.58">proteolysis involved in protein catabolic process</text>
<text x="442" y="1045.20">mitotic cell cycle</text>
<text x="442" y="1052.82">protein amino acid dephosphorylation</text>
<text x="442" y="1060.44">heme biosynthetic process</text>
</g>
<g font-family='"Liberation Sans", sans-serif' font-size="7.5">
<text transform="translate(41.84,1063.2) rotate(90) scale(1,0.875)" fill="#E3BD80">HLHMyc2</text>
<text transform="translate(48.71,1063.2) rotate(90) scale(1,0.875)" fill="#E3BD80">HLHMyc12</text>
<text transform="translate(55.59,1063.2) rotate(90) scale(1,0.875)" fill="#E3BD80">HLH1</text>
<text transform="translate(62.46,1063.2) rotate(90) scale(1,0.875)" fill="#E3BD80">HLHMyc8</text>
<text transform="translate(69.34,1063.2) rotate(90) scale(1,0.875)" fill="#E3BD80">HLHMyc5</text>
<text transform="translate(76.21,1063.2) rotate(90) scale(1,0.875)" fill="#E3BD80">HLHMyc11</text>
<text transform="translate(83.09,1063.2) rotate(90) scale(1,0.875)" fill="#E3BD80">HLHMyc14</text>
<text transform="translate(89.96,1063.2) rotate(90) scale(1,0.875)" fill="#E3BD80">HLHMyc3</text>
<text transform="translate(96.84,1063.2) rotate(90) scale(1,0.875)" fill="#8B82E0">GATA5</text>
<text transform="translate(103.71,1063.2) rotate(90) scale(1,0.875)" fill="#8B82E0">GATA9</text>
<text transform="translate(110.59,1063.2) rotate(90) scale(1,0.875)" fill="#8B82E0">GATA2</text>
<text transform="translate(117.46,1063.2) rotate(90) scale(1,0.875)" fill="#8B82E0">GATA6</text>
<text transform="translate(124.34,1063.2) rotate(90) scale(1,0.875)" fill="#8B82E0">GATA8</text>
<text transform="translate(131.21,1063.2) rotate(90) scale(1,0.875)" fill="#FFDD00">CP2</text>
<text transform="translate(138.09,1063.2) rotate(90) scale(1,0.875)" fill="#0C84AC">HOXKN3</text>
<text transform="translate(144.96,1063.2) rotate(90) scale(1,0.875)" fill="#52C3B4">HMGb3</text>
<text transform="translate(151.84,1063.2) rotate(90) scale(1,0.875)" fill="#D3D3D3">CopF3</text>
<text transform="translate(158.71,1063.2) rotate(90) scale(1,0.875)" fill="#52C3B4">HMGb4</text>
<text transform="translate(165.59,1063.2) rotate(90) scale(1,0.875)" fill="#974C70">HSF6</text>
<text transform="translate(172.46,1063.2) rotate(90) scale(1,0.875)" fill="#E3BD80">HLHMyc6</text>
<text transform="translate(179.34,1063.2) rotate(90) scale(1,0.875)" fill="#974C70">HSF5</text>
<text transform="translate(186.21,1063.2) rotate(90) scale(1,0.875)" fill="#974C70">HSF3</text>
<text transform="translate(193.09,1063.2) rotate(90) scale(1,0.875)" fill="#974C70">HSF2</text>
<text transform="translate(199.96,1063.2) rotate(90) scale(1,0.875)" fill="#8B82E0">GATA10</text>
<text transform="translate(206.84,1063.2) rotate(90) scale(1,0.875)" fill="#E8505E">MADS1</text>
<text transform="translate(213.71,1063.2) rotate(90) scale(1,0.875)" fill="#0C84AC">HOXKN1</text>
<text transform="translate(220.59,1063.2) rotate(90) scale(1,0.875)" fill="#52C3B4">HMGb2</text>
<text transform="translate(227.46,1063.2) rotate(90) scale(1,0.875)" fill="#E3BD80">HLHMyc15</text>
<text transform="translate(234.34,1063.2) rotate(90) scale(1,0.875)" fill="#974C70">HSF4</text>
<text transform="translate(241.21,1063.2) rotate(90) scale(1,0.875)" fill="#974C70">HSF8</text>
<text transform="translate(248.09,1063.2) rotate(90) scale(1,0.875)" fill="#8B82E0">GATA3</text>
<text transform="translate(254.96,1063.2) rotate(90) scale(1,0.875)" fill="#8B82E0">GATA11</text>
<text transform="translate(261.84,1063.2) rotate(90) scale(1,0.875)" fill="#8B82E0">GATA4</text>
<text transform="translate(268.71,1063.2) rotate(90) scale(1,0.875)" fill="#0C84AC">HOXMyb2</text>
<text transform="translate(275.59,1063.2) rotate(90) scale(1,0.875)" fill="#74ABE0">bZip3</text>
<text transform="translate(282.46,1063.2) rotate(90) scale(1,0.875)" fill="#74ABE0">bZip8</text>
<text transform="translate(289.34,1063.2) rotate(90) scale(1,0.875)" fill="#74ABE0">bZip2</text>
<text transform="translate(296.21,1063.2) rotate(90) scale(1,0.875)" fill="#0C84AC">HOXKN2</text>
<text transform="translate(303.09,1063.2) rotate(90) scale(1,0.875)" fill="#0C84AC">HOXKN4</text>
<text transform="translate(309.96,1063.2) rotate(90) scale(1,0.875)" fill="#74ABE0">bZip5</text>
<text transform="translate(316.84,1063.2) rotate(90) scale(1,0.875)" fill="#974C70">HSF1</text>
<text transform="translate(323.71,1063.2) rotate(90) scale(1,0.875)" fill="#0C84AC">HOX5</text>
<text transform="translate(330.59,1063.2) rotate(90) scale(1,0.875)" fill="#0C84AC">HOXMyb1</text>
<text transform="translate(337.46,1063.2) rotate(90) scale(1,0.875)" fill="#0C84AC">HOX1</text>
<text transform="translate(344.34,1063.2) rotate(90) scale(1,0.875)" fill="#7DDCBE">FK1</text>
<text transform="translate(351.21,1063.2) rotate(90) scale(1,0.875)" fill="#0C84AC">HOX4</text>
<text transform="translate(358.09,1063.2) rotate(90) scale(1,0.875)" fill="#0C84AC">HOX6</text>
<text transform="translate(364.96,1063.2) rotate(90) scale(1,0.875)" fill="#0C84AC">HOX3</text>
<text transform="translate(371.84,1063.2) rotate(90) scale(1,0.875)" fill="#E3BD80">HLHMyc9</text>
<text transform="translate(378.71,1063.2) rotate(90) scale(1,0.875)" fill="#E3BD80">HLHMyc1</text>
<text transform="translate(385.59,1063.2) rotate(90) scale(1,0.875)" fill="#E3BD80">HLH3</text>
<text transform="translate(392.46,1063.2) rotate(90) scale(1,0.875)" fill="#E3BD80">HLH2</text>
<text transform="translate(399.34,1063.2) rotate(90) scale(1,0.875)" fill="#7DDCBE">FK4</text>
<text transform="translate(406.21,1063.2) rotate(90) scale(1,0.875)" fill="#E3BD80">HLHMyc10</text>
<text transform="translate(413.09,1063.2) rotate(90) scale(1,0.875)" fill="#74ABE0">bZip7</text>
<text transform="translate(419.96,1063.2) rotate(90) scale(1,0.875)" fill="#E3BD80">HLHMyc13</text>
<text transform="translate(426.84,1063.2) rotate(90) scale(1,0.875)" fill="#F59B0C">Znf1</text>
<text transform="translate(433.71,1063.2) rotate(90) scale(1,0.875)" fill="#0C84AC">HOX2</text>
</g>
<path d="M42.10 536.00V532.40H49.00V536.00M55.91 536.00V531.70H62.81V536.00M45.55 532.40V528.40H59.36V531.70M69.72 536.00V529.10H76.62V536.00M52.46 528.40V526.20H73.17V529.10M83.52 536.00V525.70H90.43V536.00M62.81 526.20V525.00H86.98V525.70M97.33 536.00V531.00H104.24V536.00M111.14 536.00V528.10H118.04V536.00M114.59 528.10V525.40H124.95V536.00M100.78 531.00V524.40H119.77V525.40M138.76 536.00V532.00H145.66V536.00M142.21 532.00V530.50H152.56V536.00M147.39 530.50V529.50H159.47V536.00M153.43 529.50V528.50H166.37V536.00M159.90 528.50V527.80H173.28V536.00M180.18 536.00V530.50H187.08V536.00M166.59 527.80V527.20H183.63V530.50M175.11 527.20V526.60H193.99V536.00M200.89 536.00V526.50H207.80V536.00M184.55 526.60V524.60H204.34V526.50M194.45 524.60V524.10H214.70V536.00M204.57 524.10V523.60H221.60V536.00M228.51 536.00V527.00H235.41V536.00M231.96 527.00V525.50H242.32V536.00M213.09 523.60V523.00H237.14V525.50M249.22 536.00V530.00H256.12V536.00M252.67 530.00V526.50H263.03V536.00M225.11 523.00V522.40H257.85V526.50M276.84 536.00V527.00H283.74V536.00M290.64 536.00V532.00H297.55V536.00M294.10 532.00V529.00H304.45V536.00M280.29 527.00V525.40H299.27V529.00M269.93 536.00V524.00H289.78V525.40M311.36 536.00V523.40H318.26V536.00M279.86 524.00V522.80H314.81V523.40M241.48 522.40V521.60H297.33V522.80M325.16 536.00V531.00H332.07V536.00M328.62 531.00V528.60H338.97V536.00M333.79 528.60V525.70H345.88V536.00M352.78 536.00V528.60H359.68V536.00M356.23 528.60V527.40H366.59V536.00M339.84 525.70V525.10H361.41V527.40M373.49 536.00V529.50H380.40V536.00M387.30 536.00V528.60H394.20V536.00M376.94 529.50V527.40H390.75V528.60M401.11 536.00V528.60H408.01V536.00M404.56 528.60V526.00H414.92V536.00M383.85 527.40V525.10H409.74V526.00M421.82 536.00V527.80H428.72V536.00M425.27 527.80V524.30H435.63V536.00M396.79 525.10V522.50H430.45V524.30M350.62 525.10V520.40H413.62V522.50M269.41 521.60V517.60H382.12V520.40M110.28 524.40V513.00H325.76V517.60M74.89 525.00V510.80H218.02V513.00" fill="none" stroke="#2a2a2a" stroke-width="0.9"/>
<path d="M40.30 551.40H35.00V559.06H40.30M35.00 555.23H33.00V566.73H40.30M40.30 582.06H37.50V589.72H40.30M37.50 585.89H35.50V597.38H40.30M35.50 591.64H34.00V605.05H40.30M40.30 574.39H30.20V598.34H34.00M40.30 612.71H30.00V620.38H40.30M30.20 586.37H28.20V616.54H30.00M33.00 560.98H26.30V601.46H28.20M40.30 628.04H36.80V635.70H40.30M40.30 643.37H32.50V651.03H40.30M32.50 647.20H29.00V658.70H40.30M29.00 652.95H26.30V666.36H40.30M36.80 631.87H25.10V659.65H26.30M26.30 581.22H18.40V645.76H25.10M40.30 674.02H35.00V681.69H40.30M40.30 689.35H35.50V697.02H40.30M35.50 693.18H33.50V704.68H40.30M40.30 712.34H33.70V720.01H40.30M33.50 698.93H31.10V716.18H33.70M35.00 677.86H29.20V707.55H31.10M40.30 727.67H32.50V735.34H40.30M32.50 731.50H30.50V743.00H40.30M40.30 750.66H31.00V758.33H40.30M30.50 737.25H29.90V754.50H31.00M40.30 765.99H35.00V773.66H40.30M35.00 769.82H31.10V781.32H40.30M31.10 775.57H29.20V788.98H40.30M40.30 804.31H30.50V811.98H40.30M40.30 796.65H27.00V808.14H30.50M40.30 819.64H29.90V827.30H40.30M27.00 802.40H25.40V823.47H29.90M29.20 782.28H21.00V812.93H25.40M29.90 745.87H17.20V797.61H21.00M40.30 834.97H30.50V842.63H40.30M40.30 850.30H29.90V857.96H40.30M30.50 838.80H28.60V854.13H29.90M40.30 865.62H30.50V873.29H40.30M40.30 880.95H30.50V888.62H40.30M30.50 869.46H26.10V884.78H30.50M40.30 896.28H30.50V903.94H40.30M26.10 877.12H24.20V900.11H30.50M40.30 911.61H32.40V919.27H40.30M32.40 915.44H28.60V926.94H40.30M24.20 888.62H23.50V921.19H28.60M40.30 934.60H28.80V942.26H40.30M28.80 938.43H26.30V949.93H40.30M23.50 904.90H21.50V944.18H26.30M40.30 957.59H33.10V965.26H40.30M40.30 972.92H32.50V980.58H40.30M33.10 961.42H24.50V976.75H32.50M40.30 988.25H27.60V995.91H40.30M40.30 1003.58H30.60V1011.24H40.30M30.60 1007.41H28.00V1018.90H40.30M27.60 992.08H23.00V1013.16H28.00M24.50 969.09H22.70V1002.62H23.00M40.30 1026.57H30.00V1034.23H40.30M40.30 1041.90H28.00V1049.56H40.30M28.00 1045.73H26.30V1057.22H40.30M30.00 1030.40H22.50V1051.48H26.30M22.70 985.85H21.00V1040.94H22.50M21.50 924.54H18.40V1013.40H21.00M28.60 846.46H16.50V968.97H18.40M17.20 771.74H14.00V907.72H16.50M29.20 692.70H8.90V839.73H14.00M18.40 613.49H4.80V766.22H8.90" fill="none" stroke="#2a2a2a" stroke-width="0.9"/>
<defs><linearGradient id="cb" x1="0" y1="1" x2="0" y2="0"><stop offset="0" stop-color="#fcfdf2"/><stop offset="0.45" stop-color="#fbfdf1"/><stop offset="0.62" stop-color="#c9eee5"/><stop offset="0.8" stop-color="#86d9d2"/><stop offset="1" stop-color="#3cc3bc"/></linearGradient></defs>
<rect x="632.8" y="557.9" width="15.9" height="86" fill="url(#cb)" stroke="#bbb" stroke-width="0.6"/>
<g font-family='"Liberation Sans", sans-serif' font-size="9.9" fill="#111"><text x="608" y="550">-log10 (<tspan font-style="italic">P</tspan>-value)</text><text x="651" y="563.2">10</text><text x="651" y="646.4">0</text></g>
</svg></body></html>
